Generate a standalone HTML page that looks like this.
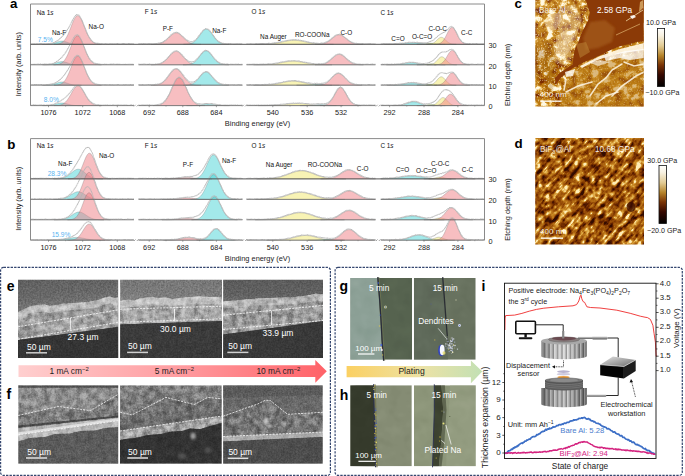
<!DOCTYPE html>
<html><head><meta charset="utf-8"><style>
html,body{margin:0;padding:0;background:#fff;}
svg{display:block;}
text{font-family:"Liberation Sans",sans-serif;}
</style></head><body>
<svg width="685" height="476" viewBox="0 0 685 476">
<defs>
<filter id="afmNoiseC" x="0" y="0" width="100%" height="100%" filterUnits="objectBoundingBox" color-interpolation-filters="sRGB">
 <feTurbulence type="fractalNoise" baseFrequency="0.13" numOctaves="4" seed="11"/>
 <feColorMatrix type="matrix" values="2.2 0 0 0 -0.6  2.2 0 0 0 -0.6  2.2 0 0 0 -0.6  0 0 0 0 1"/>
 <feComponentTransfer>
   <feFuncR type="table" tableValues="0.48 0.60 0.68 0.72 0.76 0.85 0.97 1.0"/>
   <feFuncG type="table" tableValues="0.18 0.29 0.40 0.46 0.51 0.62 0.87 0.98"/>
   <feFuncB type="table" tableValues="0.00 0.02 0.04 0.06 0.09 0.22 0.62 0.90"/>
 </feComponentTransfer>
</filter>
<filter id="afmSpeck" x="0" y="0" width="100%" height="100%" filterUnits="objectBoundingBox" color-interpolation-filters="sRGB">
 <feTurbulence type="fractalNoise" baseFrequency="0.7" numOctaves="2" seed="3"/>
 <feColorMatrix type="matrix" values="0 0 0 0 1  0 0 0 0 0.97  0 0 0 0 0.88  7 0 0 0 -4.1"/>
</filter>
<filter id="afmNoiseD" x="0" y="0" width="100%" height="100%" filterUnits="objectBoundingBox" color-interpolation-filters="sRGB">
 <feTurbulence type="fractalNoise" baseFrequency="0.06 0.26" numOctaves="4" seed="5" result="a"/>
 <feTurbulence type="fractalNoise" baseFrequency="0.2" numOctaves="3" seed="8" result="b"/>
 <feComposite in="a" in2="b" operator="arithmetic" k1="0" k2="0.55" k3="0.45" k4="0"/>
 <feColorMatrix type="matrix" values="3.0 0 0 0 -1.0  3.0 0 0 0 -1.0  3.0 0 0 0 -1.0  0 0 0 0 1"/>
 <feComponentTransfer>
   <feFuncR type="table" tableValues="0.20 0.35 0.48 0.59 0.68 0.78 0.90 1.0"/>
   <feFuncG type="table" tableValues="0.05 0.11 0.20 0.30 0.40 0.52 0.71 0.93"/>
   <feFuncB type="table" tableValues="0.0 0.0 0.0 0.03 0.07 0.13 0.33 0.72"/>
   <feFuncA type="table" tableValues="1 1"/>
 </feComponentTransfer>
</filter>
<filter id="darkNoise" x="0" y="0" width="100%" height="100%" filterUnits="objectBoundingBox" color-interpolation-filters="sRGB">
 <feTurbulence type="fractalNoise" baseFrequency="0.35" numOctaves="2" seed="2"/>
 <feColorMatrix type="matrix" values="0 0 0 0 0  0 0 0 0 0  0 0 0 0 0  1.2 0 0 0 -0.45" />
</filter>
<clipPath id="clipC"><rect x="535.3" y="-1" width="108.4" height="107.6"/></clipPath>
<clipPath id="clipD"><rect x="535.2" y="138.1" width="108.8" height="106.3"/></clipPath>
<linearGradient id="cbar" x1="0" y1="0" x2="0" y2="1">
 <stop offset="0" stop-color="#ffffff"/>
 <stop offset="0.12" stop-color="#f8f2e2"/>
 <stop offset="0.3" stop-color="#e2cb94"/>
 <stop offset="0.47" stop-color="#b5832a"/>
 <stop offset="0.63" stop-color="#7a3406"/>
 <stop offset="0.8" stop-color="#360800"/>
 <stop offset="1" stop-color="#000000"/>
</linearGradient>

<filter id="semNoise" x="0" y="0" width="100%" height="100%" filterUnits="objectBoundingBox" color-interpolation-filters="sRGB">
 <feTurbulence type="fractalNoise" baseFrequency="0.45" numOctaves="3" seed="9"/>
 <feColorMatrix type="matrix" values="0.33 0.33 0.33 0 0  0.33 0.33 0.33 0 0  0.33 0.33 0.33 0 0  0 0 0 0 1"/>
 <feComponentTransfer><feFuncR type="linear" slope="2.2" intercept="-0.6"/><feFuncG type="linear" slope="2.2" intercept="-0.6"/><feFuncB type="linear" slope="2.2" intercept="-0.6"/></feComponentTransfer>
</filter>
<filter id="semNoise2" x="0" y="0" width="100%" height="100%" filterUnits="objectBoundingBox" color-interpolation-filters="sRGB">
 <feTurbulence type="fractalNoise" baseFrequency="0.12" numOctaves="4" seed="21"/>
 <feColorMatrix type="matrix" values="0.33 0.33 0.33 0 0  0.33 0.33 0.33 0 0  0.33 0.33 0.33 0 0  0 0 0 0 1"/>
 <feComponentTransfer><feFuncR type="linear" slope="2.0" intercept="-0.5"/><feFuncG type="linear" slope="2.0" intercept="-0.5"/><feFuncB type="linear" slope="2.0" intercept="-0.5"/></feComponentTransfer>
</filter>
<filter id="semTex" x="0" y="0" width="100%" height="100%" filterUnits="objectBoundingBox" color-interpolation-filters="sRGB">
 <feTurbulence type="fractalNoise" baseFrequency="0.16" numOctaves="4" seed="13"/>
 <feColorMatrix type="matrix" values="1.9 0 0 0 -0.45  1.9 0 0 0 -0.45  1.9 0 0 0 -0.45  0 0 0 0 1"/>
 <feComposite in2="SourceAlpha" operator="in"/>
</filter>
<filter id="semFine" x="0" y="0" width="100%" height="100%" filterUnits="objectBoundingBox" color-interpolation-filters="sRGB">
 <feTurbulence type="fractalNoise" baseFrequency="0.6" numOctaves="2" seed="17"/>
 <feColorMatrix type="matrix" values="2.0 0 0 0 -0.5  2.0 0 0 0 -0.5  2.0 0 0 0 -0.5  0 0 0 0 1"/>
 <feComposite in2="SourceAlpha" operator="in"/>
</filter>
<filter id="blur1" x="-50%" y="-50%" width="200%" height="200%"><feGaussianBlur stdDeviation="0.8"/></filter>
<filter id="optNoise" x="0" y="0" width="100%" height="100%" filterUnits="objectBoundingBox" color-interpolation-filters="sRGB">
 <feTurbulence type="fractalNoise" baseFrequency="0.08" numOctaves="2" seed="4"/>
 <feColorMatrix type="matrix" values="0.33 0.33 0.33 0 0  0.33 0.33 0.33 0 0  0.33 0.33 0.33 0 0  0 0 0 0 1"/>
</filter>
<linearGradient id="skyE1" x1="0" y1="0" x2="0.25" y2="1"><stop offset="0" stop-color="#5e5e5e"/><stop offset="0.5" stop-color="#686868"/><stop offset="1" stop-color="#7c7c7c"/></linearGradient>
<linearGradient id="skyE2" x1="0" y1="0" x2="0" y2="1"><stop offset="0" stop-color="#767676"/><stop offset="0.6" stop-color="#7a7a7a"/><stop offset="1" stop-color="#848484"/></linearGradient>
<linearGradient id="skyE3" x1="0" y1="0" x2="0" y2="1"><stop offset="0" stop-color="#5a5a5a"/><stop offset="0.6" stop-color="#606060"/><stop offset="1" stop-color="#6e6e6e"/></linearGradient>
<linearGradient id="redArrow" x1="0" y1="0" x2="1" y2="0">
 <stop offset="0" stop-color="#ffcfcf"/><stop offset="0.5" stop-color="#ff9ea2"/><stop offset="1" stop-color="#ff6268"/>
</linearGradient>
<linearGradient id="platArrow" x1="0" y1="0" x2="1" y2="0">
 <stop offset="0" stop-color="#fbd062"/><stop offset="0.55" stop-color="#ece2a6"/><stop offset="1" stop-color="#c2e0b4"/>
</linearGradient>
<clipPath id="clip2"><rect x="18.0" y="279.5" width="100.4" height="78.5"/></clipPath><clipPath id="clip3"><rect x="120.1" y="279.5" width="101.9" height="78.5"/></clipPath><clipPath id="clip4"><rect x="223.1" y="279.5" width="99.9" height="78.5"/></clipPath><clipPath id="clip5"><rect x="18.2" y="385.2" width="100.2" height="78.6"/></clipPath><clipPath id="clip6"><rect x="120.0" y="385.2" width="101.8" height="78.6"/></clipPath><clipPath id="clip7"><rect x="223.1" y="385.2" width="99.7" height="78.6"/></clipPath><clipPath id="clip8"><rect x="350.2" y="278.1" width="61.9" height="81.6"/></clipPath><clipPath id="clip9"><rect x="413.9" y="278.1" width="61.8" height="81.6"/></clipPath><clipPath id="clip10"><rect x="350.2" y="385.3" width="61.6" height="81.0"/></clipPath><clipPath id="clip11"><rect x="414.0" y="385.3" width="61.8" height="81.0"/></clipPath><linearGradient id="knurl" x1="0" y1="0" x2="1" y2="0">
 <stop offset="0" stop-color="#7d7d7d"/><stop offset="0.3" stop-color="#c8c8c8"/><stop offset="0.55" stop-color="#d8d8d8"/><stop offset="0.85" stop-color="#9a9a9a"/><stop offset="1" stop-color="#6a6a6a"/></linearGradient>
<linearGradient id="knurl2" x1="0" y1="0" x2="1" y2="0">
 <stop offset="0" stop-color="#646464"/><stop offset="0.3" stop-color="#b0b0b0"/><stop offset="0.55" stop-color="#bcbcbc"/><stop offset="0.85" stop-color="#858585"/><stop offset="1" stop-color="#555"/></linearGradient>
<linearGradient id="rod" x1="0" y1="0" x2="0" y2="1"><stop offset="0" stop-color="#ddd"/><stop offset="0.5" stop-color="#999"/><stop offset="1" stop-color="#555"/></linearGradient>
<linearGradient id="boxtop" x1="0" y1="0" x2="1" y2="1"><stop offset="0" stop-color="#e6e6e6"/><stop offset="1" stop-color="#6a6a6a"/></linearGradient>
<pattern id="ridges" x="541.2" width="4.3" height="10" patternUnits="userSpaceOnUse"><rect x="0" width="1.1" height="10" fill="#fff" opacity="0.35"/><rect x="2.9" width="1.4" height="10" fill="#000" opacity="0.30"/></pattern></defs>
<rect width="685" height="476" fill="#fff"/>
<path d="M42.5,44.3 L42.5,44.29 L43.0,44.29 L43.5,44.29 L44.0,44.28 L44.5,44.28 L45.0,44.27 L45.5,44.26 L46.0,44.25 L46.5,44.24 L47.0,44.22 L47.5,44.20 L48.0,44.17 L48.5,44.14 L49.0,44.10 L49.5,44.06 L50.0,44.00 L50.5,43.94 L51.0,43.87 L51.5,43.78 L52.0,43.69 L52.5,43.58 L53.0,43.46 L53.5,43.33 L54.0,43.19 L54.5,43.04 L55.0,42.88 L55.5,42.71 L56.0,42.54 L56.5,42.36 L57.0,42.18 L57.5,42.01 L58.0,41.84 L58.5,41.69 L59.0,41.54 L59.5,41.41 L60.0,41.30 L60.5,41.22 L61.0,41.15 L61.5,41.11 L62.0,41.10 L62.5,41.11 L63.0,41.15 L63.5,41.22 L64.0,41.30 L64.5,41.41 L65.0,41.54 L65.5,41.69 L66.0,41.84 L66.5,42.01 L67.0,42.18 L67.5,42.36 L68.0,42.54 L68.5,42.71 L69.0,42.88 L69.5,43.04 L70.0,43.19 L70.5,43.33 L71.0,43.46 L71.5,43.58 L72.0,43.69 L72.5,43.78 L73.0,43.87 L73.5,43.94 L74.0,44.00 L74.5,44.06 L75.0,44.10 L75.5,44.14 L76.0,44.17 L76.5,44.20 L77.0,44.22 L77.5,44.24 L78.0,44.25 L78.5,44.26 L79.0,44.27 L79.5,44.28 L80.0,44.28 L80.5,44.29 L81.0,44.29 L81.5,44.29 L81.5,44.3 Z" fill="#3fd0d3" fill-opacity="0.48" stroke="#555" stroke-opacity="0.55" stroke-width="0.45"/>
<path d="M54.0,44.3 L54.0,44.24 L54.5,44.23 L55.0,44.21 L55.5,44.18 L56.0,44.15 L56.5,44.11 L57.0,44.06 L57.5,44.00 L58.0,43.92 L58.5,43.83 L59.0,43.72 L59.5,43.58 L60.0,43.42 L60.5,43.24 L61.0,43.02 L61.5,42.76 L62.0,42.46 L62.5,42.11 L63.0,41.71 L63.5,41.26 L64.0,40.75 L64.5,40.18 L65.0,39.54 L65.5,38.83 L66.0,38.05 L66.5,37.20 L67.0,36.28 L67.5,35.29 L68.0,34.24 L68.5,33.12 L69.0,31.95 L69.5,30.73 L70.0,29.47 L70.5,28.19 L71.0,26.89 L71.5,25.60 L72.0,24.31 L72.5,23.06 L73.0,21.86 L73.5,20.72 L74.0,19.66 L74.5,18.69 L75.0,17.84 L75.5,17.11 L76.0,16.51 L76.5,16.06 L77.0,15.76 L77.5,15.61 L78.0,15.63 L78.5,15.80 L79.0,16.14 L79.5,16.62 L80.0,17.24 L80.5,18.00 L81.0,18.88 L81.5,19.86 L82.0,20.94 L82.5,22.10 L83.0,23.31 L83.5,24.57 L84.0,25.85 L84.5,27.15 L85.0,28.45 L85.5,29.73 L86.0,30.98 L86.5,32.19 L87.0,33.35 L87.5,34.45 L88.0,35.50 L88.5,36.47 L89.0,37.38 L89.5,38.21 L90.0,38.98 L90.5,39.67 L91.0,40.30 L91.5,40.86 L92.0,41.36 L92.5,41.80 L93.0,42.18 L93.5,42.52 L94.0,42.81 L94.5,43.06 L95.0,43.28 L95.5,43.46 L96.0,43.61 L96.5,43.74 L97.0,43.85 L97.5,43.94 L98.0,44.01 L98.5,44.07 L99.0,44.12 L99.5,44.16 L100.0,44.19 L100.5,44.21 L101.0,44.23 L101.5,44.25 L101.5,44.3 Z" fill="#ef7d84" fill-opacity="0.5" stroke="#555" stroke-opacity="0.55" stroke-width="0.45"/>
<path d="M30.5,43.82 L31.0,43.89 L31.5,43.69 L32.0,43.92 L32.5,43.74 L33.0,43.80 L33.5,43.93 L34.0,43.75 L34.5,43.93 L35.0,43.78 L35.5,43.92 L36.0,43.91 L36.5,43.78 L37.0,43.62 L37.5,43.90 L38.0,43.86 L38.5,43.70 L39.0,43.57 L39.5,43.72 L40.0,43.79 L40.5,43.56 L41.0,43.93 L41.5,43.60 L42.0,43.83 L42.5,43.89 L43.0,43.89 L43.5,43.82 L44.0,43.61 L44.5,43.86 L45.0,43.69 L45.5,43.66 L46.0,43.75 L46.5,43.67 L47.0,43.85 L47.5,43.82 L48.0,43.74 L48.5,43.51 L49.0,43.58 L49.5,43.57 L50.0,43.40 L50.5,43.39 L51.0,43.37 L51.5,43.08 L52.0,43.00 L52.5,43.06 L53.0,42.79 L53.5,42.64 L54.0,42.32 L54.5,42.18 L55.0,42.14 L55.5,41.62 L56.0,41.70 L56.5,41.30 L57.0,40.85 L57.5,40.77 L58.0,40.28 L58.5,40.09 L59.0,39.45 L59.5,39.00 L60.0,38.65 L60.5,38.08 L61.0,37.83 L61.5,37.19 L62.0,36.73 L62.5,36.21 L63.0,35.71 L63.5,34.99 L64.0,34.36 L64.5,33.93 L65.0,33.21 L65.5,32.78 L66.0,31.83 L66.5,31.12 L67.0,30.22 L67.5,29.49 L68.0,28.87 L68.5,27.96 L69.0,26.95 L69.5,26.28 L70.0,25.15 L70.5,24.30 L71.0,23.33 L71.5,22.37 L72.0,21.10 L72.5,20.40 L73.0,19.42 L73.5,18.48 L74.0,17.46 L74.5,17.03 L75.0,16.22 L75.5,15.62 L76.0,15.05 L76.5,14.75 L77.0,14.55 L77.5,14.74 L78.0,14.78 L78.5,15.05 L79.0,15.22 L79.5,15.72 L80.0,16.71 L80.5,17.48 L81.0,18.36 L81.5,19.37 L82.0,20.36 L82.5,21.48 L83.0,22.83 L83.5,24.20 L84.0,25.33 L84.5,26.65 L85.0,27.87 L85.5,28.99 L86.0,30.35 L86.5,31.63 L87.0,32.75 L87.5,33.83 L88.0,35.12 L88.5,35.76 L89.0,36.72 L89.5,37.51 L90.0,38.31 L90.5,39.17 L91.0,39.79 L91.5,40.47 L92.0,40.75 L92.5,41.42 L93.0,41.81 L93.5,42.09 L94.0,42.40 L94.5,42.58 L95.0,42.91 L95.5,43.11 L96.0,43.20 L96.5,43.35 L97.0,43.35 L97.5,43.58 L98.0,43.31 L98.5,43.47 L99.0,43.71 L99.5,43.70 L100.0,43.70 L100.5,43.72 L101.0,43.83 L101.5,43.56 L102.0,43.51 L102.5,43.73 L103.0,43.73 L103.5,43.90 L104.0,43.90 L104.5,43.80 L105.0,43.84 L105.5,43.61 L106.0,43.88 L106.5,43.94 L107.0,43.57 L107.5,43.74 L108.0,43.89 L108.5,43.73 L109.0,43.94 L109.5,43.74 L110.0,43.56 L110.5,43.60 L111.0,43.67 L111.5,43.85 L112.0,43.80 L112.5,43.88 L113.0,43.64 L113.5,43.74 L114.0,43.64 L114.5,43.82 L115.0,43.86 L115.5,43.63 L116.0,43.56 L116.5,43.61 L117.0,43.63 L117.5,43.62 L118.0,43.65 L118.5,43.86 L119.0,43.74 L119.5,43.81 L120.0,43.94 L120.5,43.94 L121.0,43.84 L121.5,43.85 L122.0,43.67 L122.5,43.57 L123.0,43.77 L123.5,43.58 L124.0,43.55 L124.5,43.57 L125.0,43.80 L125.5,43.86 L126.0,43.86 L126.5,43.87 L127.0,43.87 L127.5,43.70 L128.0,43.59 L128.5,43.61 L129.0,43.76 L129.5,43.69 L130.0,43.63 L130.5,43.92 L131.0,43.69 L131.5,43.59 L132.0,43.64 L132.5,43.65 L133.0,43.76 L133.5,43.88 L134.0,43.63" fill="none" stroke="#b4b4b4" stroke-width="1.05" stroke-linejoin="round" stroke-dasharray="0.9,0.35"/>
<path d="M151.0,44.3 L151.0,44.28 L151.5,44.28 L152.0,44.27 L152.5,44.26 L153.0,44.25 L153.5,44.24 L154.0,44.22 L154.5,44.20 L155.0,44.18 L155.5,44.15 L156.0,44.12 L156.5,44.07 L157.0,44.02 L157.5,43.97 L158.0,43.90 L158.5,43.82 L159.0,43.72 L159.5,43.61 L160.0,43.49 L160.5,43.35 L161.0,43.19 L161.5,43.00 L162.0,42.80 L162.5,42.57 L163.0,42.32 L163.5,42.04 L164.0,41.74 L164.5,41.41 L165.0,41.06 L165.5,40.68 L166.0,40.27 L166.5,39.85 L167.0,39.40 L167.5,38.94 L168.0,38.46 L168.5,37.98 L169.0,37.48 L169.5,36.99 L170.0,36.50 L170.5,36.02 L171.0,35.56 L171.5,35.11 L172.0,34.70 L172.5,34.31 L173.0,33.96 L173.5,33.66 L174.0,33.40 L174.5,33.19 L175.0,33.04 L175.5,32.94 L176.0,32.90 L176.5,32.92 L177.0,32.99 L177.5,33.13 L178.0,33.31 L178.5,33.55 L179.0,33.84 L179.5,34.17 L180.0,34.54 L180.5,34.94 L181.0,35.38 L181.5,35.83 L182.0,36.31 L182.5,36.79 L183.0,37.29 L183.5,37.78 L184.0,38.27 L184.5,38.75 L185.0,39.22 L185.5,39.67 L186.0,40.11 L186.5,40.52 L187.0,40.91 L187.5,41.27 L188.0,41.61 L188.5,41.93 L189.0,42.21 L189.5,42.48 L190.0,42.71 L190.5,42.93 L191.0,43.12 L191.5,43.29 L192.0,43.44 L192.5,43.57 L193.0,43.68 L193.5,43.78 L194.0,43.87 L194.5,43.94 L195.0,44.00 L195.5,44.06 L196.0,44.10 L196.5,44.14 L197.0,44.17 L197.5,44.19 L198.0,44.21 L198.5,44.23 L199.0,44.25 L199.5,44.26 L200.0,44.27 L200.5,44.27 L201.0,44.28 L201.0,44.3 Z" fill="#ef7d84" fill-opacity="0.5" stroke="#555" stroke-opacity="0.55" stroke-width="0.45"/>
<path d="M183.5,44.3 L183.5,44.27 L184.0,44.27 L184.5,44.25 L185.0,44.24 L185.5,44.22 L186.0,44.20 L186.5,44.17 L187.0,44.14 L187.5,44.10 L188.0,44.05 L188.5,43.98 L189.0,43.91 L189.5,43.82 L190.0,43.71 L190.5,43.58 L191.0,43.43 L191.5,43.26 L192.0,43.06 L192.5,42.82 L193.0,42.56 L193.5,42.26 L194.0,41.92 L194.5,41.54 L195.0,41.12 L195.5,40.66 L196.0,40.16 L196.5,39.62 L197.0,39.05 L197.5,38.43 L198.0,37.79 L198.5,37.11 L199.0,36.42 L199.5,35.71 L200.0,35.00 L200.5,34.29 L201.0,33.58 L201.5,32.90 L202.0,32.25 L202.5,31.64 L203.0,31.08 L203.5,30.58 L204.0,30.14 L204.5,29.79 L205.0,29.51 L205.5,29.32 L206.0,29.22 L206.5,29.21 L207.0,29.29 L207.5,29.46 L208.0,29.72 L208.5,30.07 L209.0,30.49 L209.5,30.97 L210.0,31.52 L210.5,32.13 L211.0,32.77 L211.5,33.45 L212.0,34.14 L212.5,34.86 L213.0,35.57 L213.5,36.28 L214.0,36.98 L214.5,37.65 L215.0,38.31 L215.5,38.93 L216.0,39.51 L216.5,40.06 L217.0,40.57 L217.5,41.03 L218.0,41.46 L218.5,41.85 L219.0,42.19 L219.5,42.50 L220.0,42.77 L220.5,43.01 L221.0,43.22 L221.5,43.40 L222.0,43.55 L222.5,43.69 L223.0,43.80 L223.5,43.89 L224.0,43.97 L224.5,44.04 L225.0,44.09 L225.5,44.13 L226.0,44.17 L226.5,44.20 L227.0,44.22 L227.5,44.24 L228.0,44.25 L228.5,44.26 L229.0,44.27 L229.0,44.3 Z" fill="#3fd0d3" fill-opacity="0.48" stroke="#555" stroke-opacity="0.55" stroke-width="0.45"/>
<path d="M138.5,43.82 L139.0,43.63 L139.5,43.56 L140.0,43.79 L140.5,43.79 L141.0,43.57 L141.5,43.66 L142.0,43.88 L142.5,43.90 L143.0,43.89 L143.5,43.59 L144.0,43.63 L144.5,43.89 L145.0,43.62 L145.5,43.56 L146.0,43.69 L146.5,43.81 L147.0,43.73 L147.5,43.89 L148.0,43.94 L148.5,43.56 L149.0,43.68 L149.5,43.73 L150.0,43.57 L150.5,43.76 L151.0,43.58 L151.5,43.60 L152.0,43.84 L152.5,43.81 L153.0,43.78 L153.5,43.79 L154.0,43.64 L154.5,43.75 L155.0,43.66 L155.5,43.75 L156.0,43.40 L156.5,43.58 L157.0,43.49 L157.5,43.38 L158.0,43.19 L158.5,43.30 L159.0,43.01 L159.5,43.06 L160.0,42.93 L160.5,42.79 L161.0,42.83 L161.5,42.48 L162.0,42.38 L162.5,42.22 L163.0,41.65 L163.5,41.63 L164.0,41.20 L164.5,40.77 L165.0,40.48 L165.5,40.20 L166.0,39.72 L166.5,39.28 L167.0,38.74 L167.5,38.55 L168.0,37.89 L168.5,37.53 L169.0,37.02 L169.5,36.33 L170.0,35.95 L170.5,35.45 L171.0,34.90 L171.5,34.40 L172.0,34.17 L172.5,33.72 L173.0,33.41 L173.5,33.10 L174.0,32.77 L174.5,32.66 L175.0,32.48 L175.5,32.40 L176.0,32.17 L176.5,32.29 L177.0,32.29 L177.5,32.40 L178.0,32.86 L178.5,32.98 L179.0,33.11 L179.5,33.48 L180.0,34.13 L180.5,34.54 L181.0,34.84 L181.5,35.45 L182.0,35.85 L182.5,36.40 L183.0,36.65 L183.5,37.09 L184.0,37.53 L184.5,38.29 L185.0,38.52 L185.5,38.98 L186.0,39.60 L186.5,39.69 L187.0,40.01 L187.5,40.63 L188.0,40.63 L188.5,41.10 L189.0,41.28 L189.5,41.25 L190.0,41.44 L190.5,41.79 L191.0,41.73 L191.5,41.69 L192.0,41.71 L192.5,41.66 L193.0,41.46 L193.5,41.10 L194.0,41.13 L194.5,40.61 L195.0,40.30 L195.5,40.06 L196.0,39.48 L196.5,38.86 L197.0,38.36 L197.5,37.95 L198.0,36.96 L198.5,36.38 L199.0,35.63 L199.5,35.28 L200.0,34.51 L200.5,33.89 L201.0,32.90 L201.5,32.43 L202.0,31.84 L202.5,31.11 L203.0,30.36 L203.5,29.90 L204.0,29.69 L204.5,29.37 L205.0,28.79 L205.5,28.74 L206.0,28.59 L206.5,28.82 L207.0,28.92 L207.5,28.84 L208.0,29.20 L208.5,29.69 L209.0,29.76 L209.5,30.37 L210.0,30.85 L210.5,31.74 L211.0,32.08 L211.5,33.07 L212.0,33.45 L212.5,34.32 L213.0,35.08 L213.5,35.71 L214.0,36.26 L214.5,37.20 L215.0,37.90 L215.5,38.37 L216.0,39.07 L216.5,39.67 L217.0,40.15 L217.5,40.66 L218.0,41.03 L218.5,41.37 L219.0,41.72 L219.5,41.85 L220.0,42.31 L220.5,42.46 L221.0,42.80 L221.5,42.91 L222.0,43.20 L222.5,43.24 L223.0,43.44 L223.5,43.25 L224.0,43.40 L224.5,43.61 L225.0,43.55 L225.5,43.41 L226.0,43.78 L226.5,43.52 L227.0,43.70 L227.5,43.69 L228.0,43.57 L228.5,43.76 L229.0,43.72 L229.5,43.65 L230.0,43.54 L230.5,43.80 L231.0,43.61 L231.5,43.66 L232.0,43.69 L232.5,43.78 L233.0,43.81 L233.5,43.93 L234.0,43.90 L234.5,43.92 L235.0,43.65 L235.5,43.85 L236.0,43.88 L236.5,43.92 L237.0,43.61 L237.5,43.60 L238.0,43.68 L238.5,43.84 L239.0,43.85 L239.5,43.83 L240.0,43.77 L240.5,43.89 L241.0,43.77 L241.5,43.84 L242.0,43.57 L242.5,43.56" fill="none" stroke="#b4b4b4" stroke-width="1.05" stroke-linejoin="round" stroke-dasharray="0.9,0.35"/>
<path d="M254.5,44.3 L254.5,44.29 L255.0,44.29 L255.5,44.29 L256.0,44.29 L256.5,44.29 L257.0,44.29 L257.5,44.28 L258.0,44.28 L258.5,44.28 L259.0,44.27 L259.5,44.27 L260.0,44.27 L260.5,44.26 L261.0,44.26 L261.5,44.25 L262.0,44.24 L262.5,44.23 L263.0,44.22 L263.5,44.21 L264.0,44.20 L264.5,44.19 L265.0,44.18 L265.5,44.16 L266.0,44.14 L266.5,44.12 L267.0,44.10 L267.5,44.08 L268.0,44.06 L268.5,44.03 L269.0,44.00 L269.5,43.97 L270.0,43.93 L270.5,43.89 L271.0,43.85 L271.5,43.81 L272.0,43.76 L272.5,43.71 L273.0,43.65 L273.5,43.60 L274.0,43.53 L274.5,43.47 L275.0,43.40 L275.5,43.33 L276.0,43.25 L276.5,43.17 L277.0,43.09 L277.5,43.00 L278.0,42.91 L278.5,42.82 L279.0,42.72 L279.5,42.62 L280.0,42.52 L280.5,42.42 L281.0,42.31 L281.5,42.20 L282.0,42.09 L282.5,41.98 L283.0,41.87 L283.5,41.76 L284.0,41.65 L284.5,41.55 L285.0,41.44 L285.5,41.33 L286.0,41.23 L286.5,41.13 L287.0,41.03 L287.5,40.94 L288.0,40.85 L288.5,40.77 L289.0,40.69 L289.5,40.62 L290.0,40.56 L290.5,40.50 L291.0,40.45 L291.5,40.40 L292.0,40.37 L292.5,40.34 L293.0,40.32 L293.5,40.30 L294.0,40.30 L294.5,40.30 L295.0,40.32 L295.5,40.34 L296.0,40.37 L296.5,40.40 L297.0,40.45 L297.5,40.50 L298.0,40.56 L298.5,40.62 L299.0,40.69 L299.5,40.77 L300.0,40.85 L300.5,40.94 L301.0,41.03 L301.5,41.13 L302.0,41.23 L302.5,41.33 L303.0,41.44 L303.5,41.55 L304.0,41.65 L304.5,41.76 L305.0,41.87 L305.5,41.98 L306.0,42.09 L306.5,42.20 L307.0,42.31 L307.5,42.42 L308.0,42.52 L308.5,42.62 L309.0,42.72 L309.5,42.82 L310.0,42.91 L310.5,43.00 L311.0,43.09 L311.5,43.17 L312.0,43.25 L312.5,43.33 L313.0,43.40 L313.5,43.47 L314.0,43.53 L314.5,43.60 L315.0,43.65 L315.5,43.71 L316.0,43.76 L316.5,43.81 L317.0,43.85 L317.5,43.89 L318.0,43.93 L318.5,43.97 L319.0,44.00 L319.5,44.03 L320.0,44.06 L320.5,44.08 L321.0,44.10 L321.5,44.12 L322.0,44.14 L322.5,44.16 L323.0,44.18 L323.5,44.19 L324.0,44.20 L324.5,44.21 L325.0,44.22 L325.5,44.23 L326.0,44.24 L326.5,44.25 L327.0,44.26 L327.5,44.26 L328.0,44.27 L328.5,44.27 L329.0,44.27 L329.5,44.28 L330.0,44.28 L330.5,44.28 L331.0,44.29 L331.5,44.29 L332.0,44.29 L332.5,44.29 L333.0,44.29 L333.5,44.29 L333.5,44.3 Z" fill="#f2ea78" fill-opacity="0.55" stroke="#555" stroke-opacity="0.55" stroke-width="0.45"/>
<path d="M315.0,44.3 L315.0,44.28 L315.5,44.28 L316.0,44.27 L316.5,44.26 L317.0,44.25 L317.5,44.24 L318.0,44.22 L318.5,44.20 L319.0,44.17 L319.5,44.14 L320.0,44.11 L320.5,44.07 L321.0,44.01 L321.5,43.95 L322.0,43.88 L322.5,43.80 L323.0,43.70 L323.5,43.59 L324.0,43.47 L324.5,43.32 L325.0,43.16 L325.5,42.98 L326.0,42.77 L326.5,42.55 L327.0,42.30 L327.5,42.03 L328.0,41.73 L328.5,41.42 L329.0,41.08 L329.5,40.72 L330.0,40.34 L330.5,39.95 L331.0,39.54 L331.5,39.13 L332.0,38.71 L332.5,38.28 L333.0,37.86 L333.5,37.45 L334.0,37.05 L334.5,36.67 L335.0,36.31 L335.5,35.98 L336.0,35.68 L336.5,35.42 L337.0,35.20 L337.5,35.03 L338.0,34.90 L338.5,34.83 L339.0,34.80 L339.5,34.83 L340.0,34.90 L340.5,35.03 L341.0,35.20 L341.5,35.42 L342.0,35.68 L342.5,35.98 L343.0,36.31 L343.5,36.67 L344.0,37.05 L344.5,37.45 L345.0,37.86 L345.5,38.28 L346.0,38.71 L346.5,39.13 L347.0,39.54 L347.5,39.95 L348.0,40.34 L348.5,40.72 L349.0,41.08 L349.5,41.42 L350.0,41.73 L350.5,42.03 L351.0,42.30 L351.5,42.55 L352.0,42.77 L352.5,42.98 L353.0,43.16 L353.5,43.32 L354.0,43.47 L354.5,43.59 L355.0,43.70 L355.5,43.80 L356.0,43.88 L356.5,43.95 L357.0,44.01 L357.5,44.07 L358.0,44.11 L358.5,44.14 L359.0,44.17 L359.5,44.20 L360.0,44.22 L360.5,44.24 L361.0,44.25 L361.5,44.26 L362.0,44.27 L362.5,44.28 L363.0,44.28 L363.0,44.3 Z" fill="#ef7d84" fill-opacity="0.5" stroke="#555" stroke-opacity="0.55" stroke-width="0.45"/>
<path d="M246.5,43.73 L247.0,43.85 L247.5,43.56 L248.0,43.83 L248.5,43.81 L249.0,43.95 L249.5,43.80 L250.0,43.76 L250.5,43.75 L251.0,43.87 L251.5,43.75 L252.0,43.95 L252.5,43.84 L253.0,43.91 L253.5,43.79 L254.0,43.93 L254.5,43.93 L255.0,43.82 L255.5,43.85 L256.0,43.71 L256.5,43.73 L257.0,43.64 L257.5,43.67 L258.0,43.64 L258.5,43.58 L259.0,43.77 L259.5,43.79 L260.0,43.52 L260.5,43.85 L261.0,43.62 L261.5,43.64 L262.0,43.87 L262.5,43.55 L263.0,43.52 L263.5,43.61 L264.0,43.56 L264.5,43.52 L265.0,43.77 L265.5,43.60 L266.0,43.59 L266.5,43.44 L267.0,43.43 L267.5,43.40 L268.0,43.47 L268.5,43.32 L269.0,43.37 L269.5,43.34 L270.0,43.49 L270.5,43.53 L271.0,43.45 L271.5,43.31 L272.0,43.37 L272.5,43.02 L273.0,43.08 L273.5,42.99 L274.0,42.93 L274.5,42.85 L275.0,42.85 L275.5,42.98 L276.0,42.58 L276.5,42.52 L277.0,42.54 L277.5,42.44 L278.0,42.30 L278.5,42.44 L279.0,42.08 L279.5,42.17 L280.0,42.14 L280.5,41.96 L281.0,41.67 L281.5,41.77 L282.0,41.45 L282.5,41.24 L283.0,41.33 L283.5,41.26 L284.0,41.11 L284.5,40.92 L285.0,40.78 L285.5,40.74 L286.0,40.62 L286.5,40.75 L287.0,40.62 L287.5,40.49 L288.0,40.21 L288.5,40.30 L289.0,40.12 L289.5,40.27 L290.0,40.18 L290.5,40.04 L291.0,39.83 L291.5,39.78 L292.0,39.75 L292.5,39.87 L293.0,39.76 L293.5,39.77 L294.0,39.76 L294.5,39.91 L295.0,39.61 L295.5,39.91 L296.0,39.62 L296.5,39.68 L297.0,40.09 L297.5,39.96 L298.0,39.88 L298.5,39.88 L299.0,40.16 L299.5,40.31 L300.0,40.42 L300.5,40.21 L301.0,40.60 L301.5,40.55 L302.0,40.82 L302.5,40.77 L303.0,40.71 L303.5,41.14 L304.0,40.98 L304.5,41.21 L305.0,41.17 L305.5,41.35 L306.0,41.65 L306.5,41.49 L307.0,41.77 L307.5,42.06 L308.0,42.17 L308.5,42.08 L309.0,42.19 L309.5,42.35 L310.0,42.50 L310.5,42.51 L311.0,42.61 L311.5,42.48 L312.0,42.90 L312.5,42.67 L313.0,42.71 L313.5,43.06 L314.0,42.80 L314.5,42.95 L315.0,42.92 L315.5,43.22 L316.0,43.23 L316.5,43.26 L317.0,43.05 L317.5,43.24 L318.0,43.35 L318.5,43.34 L319.0,43.41 L319.5,43.50 L320.0,43.47 L320.5,43.16 L321.0,43.35 L321.5,43.05 L322.0,43.28 L322.5,43.20 L323.0,43.03 L323.5,43.06 L324.0,42.87 L324.5,42.50 L325.0,42.38 L325.5,42.24 L326.0,42.11 L326.5,41.78 L327.0,41.53 L327.5,41.42 L328.0,41.06 L328.5,41.02 L329.0,40.41 L329.5,40.17 L330.0,39.67 L330.5,39.33 L331.0,39.07 L331.5,38.75 L332.0,37.98 L332.5,37.87 L333.0,37.32 L333.5,36.96 L334.0,36.58 L334.5,36.02 L335.0,35.56 L335.5,35.52 L336.0,35.07 L336.5,34.95 L337.0,34.63 L337.5,34.52 L338.0,34.48 L338.5,34.41 L339.0,34.37 L339.5,34.11 L340.0,34.35 L340.5,34.59 L341.0,34.49 L341.5,34.67 L342.0,35.15 L342.5,35.57 L343.0,35.88 L343.5,36.28 L344.0,36.56 L344.5,37.06 L345.0,37.42 L345.5,37.83 L346.0,38.13 L346.5,38.42 L347.0,38.89 L347.5,39.44 L348.0,39.83 L348.5,40.16 L349.0,40.58 L349.5,40.93 L350.0,41.36 L350.5,41.57 L351.0,41.56 L351.5,42.15 L352.0,42.22 L352.5,42.37 L353.0,42.46 L353.5,42.89 L354.0,43.01 L354.5,43.14 L355.0,43.19 L355.5,43.27 L356.0,43.15 L356.5,43.26 L357.0,43.31 L357.5,43.71 L358.0,43.75 L358.5,43.51 L359.0,43.47 L359.5,43.66 L360.0,43.63 L360.5,43.89 L361.0,43.74 L361.5,43.54 L362.0,43.59 L362.5,43.58 L363.0,43.54 L363.5,43.84 L364.0,43.90 L364.5,43.88 L365.0,43.73 L365.5,43.67 L366.0,43.57 L366.5,43.66 L367.0,43.69 L367.5,43.64 L368.0,43.77 L368.5,43.73 L369.0,43.93 L369.5,43.64 L370.0,43.86 L370.5,43.58 L371.0,43.69 L371.5,43.83 L372.0,43.90 L372.5,43.85 L373.0,43.70 L373.5,43.67 L374.0,43.91 L374.5,43.92 L375.0,43.74 L375.5,43.72" fill="none" stroke="#b4b4b4" stroke-width="1.05" stroke-linejoin="round" stroke-dasharray="0.9,0.35"/>
<path d="M384.3,44.3 L384.3,44.30 L384.8,44.30 L385.3,44.30 L385.8,44.30 L386.3,44.29 L386.8,44.29 L387.3,44.29 L387.8,44.29 L388.3,44.29 L388.8,44.28 L389.3,44.28 L389.8,44.28 L390.3,44.27 L390.8,44.27 L391.3,44.26 L391.8,44.26 L392.3,44.25 L392.8,44.24 L393.3,44.23 L393.8,44.22 L394.3,44.20 L394.8,44.19 L395.3,44.17 L395.8,44.15 L396.3,44.13 L396.8,44.11 L397.3,44.08 L397.8,44.05 L398.3,44.02 L398.8,43.99 L399.3,43.95 L399.8,43.92 L400.3,43.87 L400.8,43.83 L401.3,43.79 L401.8,43.74 L402.3,43.69 L402.8,43.63 L403.3,43.58 L403.8,43.53 L404.3,43.47 L404.8,43.41 L405.3,43.36 L405.8,43.30 L406.3,43.24 L406.8,43.19 L407.3,43.14 L407.8,43.09 L408.3,43.04 L408.8,42.99 L409.3,42.95 L409.8,42.92 L410.3,42.88 L410.8,42.86 L411.3,42.83 L411.8,42.82 L412.3,42.81 L412.8,42.80 L413.3,42.80 L413.8,42.81 L414.3,42.82 L414.8,42.84 L415.3,42.86 L415.8,42.89 L416.3,42.92 L416.8,42.96 L417.3,43.00 L417.8,43.05 L418.3,43.10 L418.8,43.15 L419.3,43.20 L419.8,43.25 L420.3,43.31 L420.8,43.37 L421.3,43.42 L421.8,43.48 L422.3,43.54 L422.8,43.59 L423.3,43.65 L423.8,43.70 L424.3,43.75 L424.8,43.79 L425.3,43.84 L425.8,43.88 L426.3,43.92 L426.8,43.96 L427.3,44.00 L427.8,44.03 L428.3,44.06 L428.8,44.09 L429.3,44.11 L429.8,44.13 L430.3,44.16 L430.8,44.17 L431.3,44.19 L431.8,44.21 L432.3,44.22 L432.8,44.23 L433.3,44.24 L433.8,44.25 L434.3,44.26 L434.8,44.26 L435.3,44.27 L435.8,44.27 L436.3,44.28 L436.8,44.28 L437.3,44.29 L437.8,44.29 L438.3,44.29 L438.8,44.29 L439.3,44.29 L439.8,44.29 L440.3,44.30 L440.8,44.30 L441.3,44.30 L441.3,44.3 Z" fill="#3fd0d3" fill-opacity="0.48" stroke="#555" stroke-opacity="0.55" stroke-width="0.45"/>
<path d="M416.8,44.3 L416.8,44.30 L417.3,44.30 L417.8,44.30 L418.3,44.29 L418.8,44.29 L419.3,44.29 L419.8,44.28 L420.3,44.27 L420.8,44.26 L421.3,44.25 L421.8,44.23 L422.3,44.21 L422.8,44.18 L423.3,44.14 L423.8,44.10 L424.3,44.05 L424.8,44.00 L425.3,43.94 L425.8,43.87 L426.3,43.80 L426.8,43.72 L427.3,43.65 L427.8,43.57 L428.3,43.50 L428.8,43.44 L429.3,43.39 L429.8,43.34 L430.3,43.32 L430.8,43.30 L431.3,43.30 L431.8,43.32 L432.3,43.35 L432.8,43.40 L433.3,43.45 L433.8,43.52 L434.3,43.59 L434.8,43.66 L435.3,43.74 L435.8,43.81 L436.3,43.88 L436.8,43.95 L437.3,44.01 L437.8,44.06 L438.3,44.11 L438.8,44.15 L439.3,44.18 L439.8,44.21 L440.3,44.23 L440.8,44.25 L441.3,44.26 L441.8,44.27 L442.3,44.28 L442.8,44.29 L443.3,44.29 L443.8,44.29 L444.3,44.30 L444.8,44.30 L445.3,44.30 L445.3,44.3 Z" fill="#9bd05a" fill-opacity="0.6" stroke="#555" stroke-opacity="0.55" stroke-width="0.45"/>
<path d="M426.3,44.3 L426.3,44.28 L426.8,44.28 L427.3,44.27 L427.8,44.25 L428.3,44.23 L428.8,44.20 L429.3,44.16 L429.8,44.10 L430.3,44.03 L430.8,43.94 L431.3,43.83 L431.8,43.69 L432.3,43.52 L432.8,43.31 L433.3,43.06 L433.8,42.77 L434.3,42.44 L434.8,42.07 L435.3,41.66 L435.8,41.21 L436.3,40.74 L436.8,40.25 L437.3,39.76 L437.8,39.27 L438.3,38.81 L438.8,38.39 L439.3,38.02 L439.8,37.71 L440.3,37.49 L440.8,37.35 L441.3,37.30 L441.8,37.35 L442.3,37.49 L442.8,37.71 L443.3,38.02 L443.8,38.39 L444.3,38.81 L444.8,39.27 L445.3,39.76 L445.8,40.25 L446.3,40.74 L446.8,41.21 L447.3,41.66 L447.8,42.07 L448.3,42.44 L448.8,42.77 L449.3,43.06 L449.8,43.31 L450.3,43.52 L450.8,43.69 L451.3,43.83 L451.8,43.94 L452.3,44.03 L452.8,44.10 L453.3,44.16 L453.8,44.20 L454.3,44.23 L454.8,44.25 L455.3,44.27 L455.8,44.28 L456.3,44.28 L456.3,44.3 Z" fill="#f2ea78" fill-opacity="0.55" stroke="#555" stroke-opacity="0.55" stroke-width="0.45"/>
<path d="M434.3,44.3 L434.3,44.27 L434.8,44.25 L435.3,44.23 L435.8,44.21 L436.3,44.17 L436.8,44.12 L437.3,44.06 L437.8,43.98 L438.3,43.88 L438.8,43.76 L439.3,43.60 L439.8,43.40 L440.3,43.16 L440.8,42.87 L441.3,42.52 L441.8,42.12 L442.3,41.64 L442.8,41.09 L443.3,40.47 L443.8,39.78 L444.3,39.01 L444.8,38.17 L445.3,37.27 L445.8,36.32 L446.3,35.33 L446.8,34.31 L447.3,33.30 L447.8,32.30 L448.3,31.34 L448.8,30.44 L449.3,29.62 L449.8,28.92 L450.3,28.34 L450.8,27.90 L451.3,27.62 L451.8,27.50 L452.3,27.55 L452.8,27.77 L453.3,28.15 L453.8,28.67 L454.3,29.33 L454.8,30.10 L455.3,30.97 L455.8,31.91 L456.3,32.89 L456.8,33.91 L457.3,34.92 L457.8,35.93 L458.3,36.89 L458.8,37.82 L459.3,38.68 L459.8,39.48 L460.3,40.20 L460.8,40.85 L461.3,41.43 L461.8,41.93 L462.3,42.37 L462.8,42.74 L463.3,43.05 L463.8,43.31 L464.3,43.52 L464.8,43.70 L465.3,43.84 L465.8,43.95 L466.3,44.03 L466.8,44.10 L467.3,44.15 L467.8,44.19 L468.3,44.22 L468.8,44.24 L469.3,44.26 L469.8,44.27 L469.8,44.3 Z" fill="#ef7d84" fill-opacity="0.5" stroke="#555" stroke-opacity="0.55" stroke-width="0.45"/>
<path d="M380.8,43.79 L381.3,43.86 L381.8,43.71 L382.3,43.94 L382.8,43.83 L383.3,43.76 L383.8,43.56 L384.3,43.69 L384.8,43.59 L385.3,43.76 L385.8,43.85 L386.3,43.85 L386.8,43.56 L387.3,43.66 L387.8,43.82 L388.3,43.93 L388.8,43.74 L389.3,43.66 L389.8,43.76 L390.3,43.82 L390.8,43.65 L391.3,43.54 L391.8,43.81 L392.3,43.88 L392.8,43.75 L393.3,43.71 L393.8,43.59 L394.3,43.77 L394.8,43.52 L395.3,43.52 L395.8,43.60 L396.3,43.70 L396.8,43.37 L397.3,43.61 L397.8,43.38 L398.3,43.58 L398.8,43.55 L399.3,43.30 L399.8,43.45 L400.3,43.14 L400.8,43.28 L401.3,43.36 L401.8,43.30 L402.3,43.17 L402.8,43.02 L403.3,42.85 L403.8,43.12 L404.3,42.96 L404.8,42.98 L405.3,42.62 L405.8,42.89 L406.3,42.87 L406.8,42.82 L407.3,42.63 L407.8,42.38 L408.3,42.33 L408.8,42.35 L409.3,42.20 L409.8,42.19 L410.3,42.40 L410.8,42.43 L411.3,42.11 L411.8,42.17 L412.3,42.44 L412.8,42.18 L413.3,42.30 L413.8,42.31 L414.3,42.34 L414.8,42.42 L415.3,42.51 L415.8,42.43 L416.3,42.43 L416.8,42.23 L417.3,42.60 L417.8,42.31 L418.3,42.65 L418.8,42.64 L419.3,42.50 L419.8,42.55 L420.3,42.75 L420.8,42.95 L421.3,42.82 L421.8,42.89 L422.3,42.70 L422.8,43.01 L423.3,42.94 L423.8,42.73 L424.3,43.06 L424.8,42.87 L425.3,42.67 L425.8,42.62 L426.3,42.84 L426.8,42.75 L427.3,42.63 L427.8,42.17 L428.3,42.30 L428.8,41.95 L429.3,41.73 L429.8,41.79 L430.3,41.63 L430.8,41.16 L431.3,41.08 L431.8,40.99 L432.3,40.56 L432.8,40.44 L433.3,40.15 L433.8,39.93 L434.3,39.27 L434.8,38.81 L435.3,38.50 L435.8,37.93 L436.3,37.83 L436.8,37.27 L437.3,36.68 L437.8,36.00 L438.3,35.53 L438.8,35.31 L439.3,34.94 L439.8,34.49 L440.3,34.12 L440.8,33.65 L441.3,33.68 L441.8,33.20 L442.3,33.02 L442.8,32.79 L443.3,32.62 L443.8,32.47 L444.3,32.35 L444.8,32.07 L445.3,31.73 L445.8,31.18 L446.3,31.03 L446.8,30.50 L447.3,29.76 L447.8,29.42 L448.3,28.94 L448.8,28.42 L449.3,27.72 L449.8,27.37 L450.3,26.76 L450.8,26.54 L451.3,26.37 L451.8,26.67 L452.3,26.89 L452.8,27.17 L453.3,27.44 L453.8,27.93 L454.3,28.72 L454.8,29.60 L455.3,30.41 L455.8,31.28 L456.3,32.26 L456.8,33.25 L457.3,34.23 L457.8,35.31 L458.3,36.49 L458.8,37.13 L459.3,38.21 L459.8,38.90 L460.3,39.70 L460.8,40.21 L461.3,41.00 L461.8,41.48 L462.3,41.92 L462.8,42.33 L463.3,42.35 L463.8,42.73 L464.3,43.04 L464.8,43.19 L465.3,43.09 L465.8,43.39 L466.3,43.59 L466.8,43.43 L467.3,43.54 L467.8,43.45 L468.3,43.83 L468.8,43.70 L469.3,43.58 L469.8,43.59 L470.3,43.56 L470.8,43.92 L471.3,43.82 L471.8,43.90 L472.3,43.87 L472.8,43.56 L473.3,43.71 L473.8,43.58 L474.3,43.80 L474.8,43.60 L475.3,43.77 L475.8,43.85 L476.3,43.64 L476.8,43.57 L477.3,43.91 L477.8,43.71 L478.3,43.70 L478.8,43.86 L479.3,43.80 L479.8,43.89 L480.3,43.87 L480.8,43.85 L481.3,43.71 L481.8,43.69 L482.3,43.87 L482.8,43.95 L483.3,43.82 L483.8,43.68 L484.3,43.88" fill="none" stroke="#b4b4b4" stroke-width="1.05" stroke-linejoin="round" stroke-dasharray="0.9,0.35"/>
<path d="M42.5,64.8 L42.5,64.79 L43.0,64.79 L43.5,64.79 L44.0,64.78 L44.5,64.78 L45.0,64.77 L45.5,64.76 L46.0,64.75 L46.5,64.74 L47.0,64.72 L47.5,64.70 L48.0,64.67 L48.5,64.64 L49.0,64.60 L49.5,64.56 L50.0,64.50 L50.5,64.44 L51.0,64.37 L51.5,64.28 L52.0,64.19 L52.5,64.08 L53.0,63.96 L53.5,63.83 L54.0,63.69 L54.5,63.54 L55.0,63.38 L55.5,63.21 L56.0,63.04 L56.5,62.86 L57.0,62.68 L57.5,62.51 L58.0,62.34 L58.5,62.19 L59.0,62.04 L59.5,61.91 L60.0,61.80 L60.5,61.72 L61.0,61.65 L61.5,61.61 L62.0,61.60 L62.5,61.61 L63.0,61.65 L63.5,61.72 L64.0,61.80 L64.5,61.91 L65.0,62.04 L65.5,62.19 L66.0,62.34 L66.5,62.51 L67.0,62.68 L67.5,62.86 L68.0,63.04 L68.5,63.21 L69.0,63.38 L69.5,63.54 L70.0,63.69 L70.5,63.83 L71.0,63.96 L71.5,64.08 L72.0,64.19 L72.5,64.28 L73.0,64.37 L73.5,64.44 L74.0,64.50 L74.5,64.56 L75.0,64.60 L75.5,64.64 L76.0,64.67 L76.5,64.70 L77.0,64.72 L77.5,64.74 L78.0,64.75 L78.5,64.76 L79.0,64.77 L79.5,64.78 L80.0,64.78 L80.5,64.79 L81.0,64.79 L81.5,64.79 L81.5,64.8 Z" fill="#3fd0d3" fill-opacity="0.48" stroke="#555" stroke-opacity="0.55" stroke-width="0.45"/>
<path d="M53.5,64.8 L53.5,64.75 L54.0,64.73 L54.5,64.72 L55.0,64.69 L55.5,64.66 L56.0,64.62 L56.5,64.58 L57.0,64.52 L57.5,64.45 L58.0,64.36 L58.5,64.26 L59.0,64.13 L59.5,63.98 L60.0,63.80 L60.5,63.60 L61.0,63.35 L61.5,63.06 L62.0,62.73 L62.5,62.35 L63.0,61.92 L63.5,61.43 L64.0,60.88 L64.5,60.26 L65.0,59.57 L65.5,58.81 L66.0,57.98 L66.5,57.08 L67.0,56.11 L67.5,55.07 L68.0,53.96 L68.5,52.80 L69.0,51.58 L69.5,50.33 L70.0,49.04 L70.5,47.74 L71.0,46.42 L71.5,45.12 L72.0,43.84 L72.5,42.61 L73.0,41.43 L73.5,40.32 L74.0,39.30 L74.5,38.39 L75.0,37.60 L75.5,36.94 L76.0,36.43 L76.5,36.06 L77.0,35.85 L77.5,35.80 L78.0,35.92 L78.5,36.19 L79.0,36.62 L79.5,37.19 L80.0,37.90 L80.5,38.74 L81.0,39.70 L81.5,40.75 L82.0,41.89 L82.5,43.09 L83.0,44.35 L83.5,45.64 L84.0,46.95 L84.5,48.26 L85.0,49.56 L85.5,50.84 L86.0,52.08 L86.5,53.27 L87.0,54.41 L87.5,55.49 L88.0,56.50 L88.5,57.45 L89.0,58.32 L89.5,59.12 L90.0,59.85 L90.5,60.51 L91.0,61.10 L91.5,61.63 L92.0,62.10 L92.5,62.51 L93.0,62.87 L93.5,63.18 L94.0,63.45 L94.5,63.68 L95.0,63.88 L95.5,64.05 L96.0,64.18 L96.5,64.30 L97.0,64.40 L97.5,64.48 L98.0,64.54 L98.5,64.60 L99.0,64.64 L99.5,64.67 L100.0,64.70 L100.5,64.72 L101.0,64.74 L101.5,64.76 L101.5,64.8 Z" fill="#ef7d84" fill-opacity="0.5" stroke="#555" stroke-opacity="0.55" stroke-width="0.45"/>
<path d="M30.5,64.33 L31.0,64.37 L31.5,64.13 L32.0,64.23 L32.5,64.42 L33.0,64.41 L33.5,64.29 L34.0,64.23 L34.5,64.19 L35.0,64.41 L35.5,64.38 L36.0,64.17 L36.5,64.29 L37.0,64.34 L37.5,64.33 L38.0,64.07 L38.5,64.32 L39.0,64.22 L39.5,64.31 L40.0,64.28 L40.5,64.10 L41.0,64.05 L41.5,64.30 L42.0,64.37 L42.5,64.15 L43.0,64.36 L43.5,64.44 L44.0,64.07 L44.5,64.26 L45.0,64.09 L45.5,64.25 L46.0,64.05 L46.5,64.20 L47.0,64.31 L47.5,64.34 L48.0,64.10 L48.5,64.03 L49.0,63.88 L49.5,64.16 L50.0,63.89 L50.5,63.92 L51.0,63.78 L51.5,63.83 L52.0,63.67 L52.5,63.44 L53.0,63.14 L53.5,63.30 L54.0,62.97 L54.5,62.64 L55.0,62.35 L55.5,62.41 L56.0,62.17 L56.5,61.56 L57.0,61.23 L57.5,61.09 L58.0,60.90 L58.5,60.17 L59.0,59.98 L59.5,59.35 L60.0,59.01 L60.5,58.46 L61.0,58.23 L61.5,57.47 L62.0,57.15 L62.5,56.52 L63.0,55.76 L63.5,55.16 L64.0,54.78 L64.5,54.11 L65.0,53.35 L65.5,52.58 L66.0,51.88 L66.5,51.21 L67.0,50.34 L67.5,49.30 L68.0,48.35 L68.5,47.78 L69.0,46.63 L69.5,45.59 L70.0,44.89 L70.5,43.58 L71.0,42.86 L71.5,41.68 L72.0,40.72 L72.5,39.74 L73.0,38.96 L73.5,38.07 L74.0,37.22 L74.5,36.59 L75.0,35.90 L75.5,35.50 L76.0,35.14 L76.5,35.08 L77.0,34.74 L77.5,34.84 L78.0,35.14 L78.5,35.27 L79.0,35.75 L79.5,36.50 L80.0,37.36 L80.5,38.11 L81.0,39.23 L81.5,40.30 L82.0,41.33 L82.5,42.68 L83.0,43.80 L83.5,45.07 L84.0,46.57 L84.5,47.65 L85.0,49.17 L85.5,50.19 L86.0,51.41 L86.5,52.71 L87.0,54.04 L87.5,54.94 L88.0,56.00 L88.5,56.72 L89.0,57.92 L89.5,58.43 L90.0,59.10 L90.5,59.87 L91.0,60.43 L91.5,61.21 L92.0,61.36 L92.5,61.97 L93.0,62.14 L93.5,62.47 L94.0,63.04 L94.5,63.02 L95.0,63.16 L95.5,63.67 L96.0,63.69 L96.5,63.65 L97.0,63.98 L97.5,63.77 L98.0,64.08 L98.5,63.92 L99.0,64.23 L99.5,64.12 L100.0,63.98 L100.5,64.29 L101.0,64.29 L101.5,64.20 L102.0,64.29 L102.5,64.41 L103.0,64.36 L103.5,64.37 L104.0,64.06 L104.5,64.17 L105.0,64.09 L105.5,64.38 L106.0,64.13 L106.5,64.40 L107.0,64.24 L107.5,64.19 L108.0,64.31 L108.5,64.10 L109.0,64.23 L109.5,64.22 L110.0,64.10 L110.5,64.41 L111.0,64.05 L111.5,64.20 L112.0,64.29 L112.5,64.13 L113.0,64.34 L113.5,64.05 L114.0,64.22 L114.5,64.31 L115.0,64.14 L115.5,64.27 L116.0,64.38 L116.5,64.15 L117.0,64.43 L117.5,64.12 L118.0,64.35 L118.5,64.19 L119.0,64.06 L119.5,64.22 L120.0,64.18 L120.5,64.32 L121.0,64.45 L121.5,64.44 L122.0,64.39 L122.5,64.20 L123.0,64.28 L123.5,64.24 L124.0,64.09 L124.5,64.40 L125.0,64.36 L125.5,64.19 L126.0,64.44 L126.5,64.45 L127.0,64.31 L127.5,64.41 L128.0,64.31 L128.5,64.36 L129.0,64.22 L129.5,64.21 L130.0,64.37 L130.5,64.20 L131.0,64.26 L131.5,64.40 L132.0,64.08 L132.5,64.35 L133.0,64.39 L133.5,64.41 L134.0,64.19" fill="none" stroke="#b4b4b4" stroke-width="1.05" stroke-linejoin="round" stroke-dasharray="0.9,0.35"/>
<path d="M151.0,64.8 L151.0,64.78 L151.5,64.77 L152.0,64.76 L152.5,64.75 L153.0,64.74 L153.5,64.73 L154.0,64.71 L154.5,64.69 L155.0,64.66 L155.5,64.62 L156.0,64.58 L156.5,64.53 L157.0,64.48 L157.5,64.41 L158.0,64.33 L158.5,64.23 L159.0,64.12 L159.5,63.99 L160.0,63.85 L160.5,63.68 L161.0,63.49 L161.5,63.28 L162.0,63.04 L162.5,62.77 L163.0,62.47 L163.5,62.15 L164.0,61.79 L164.5,61.41 L165.0,60.99 L165.5,60.54 L166.0,60.07 L166.5,59.57 L167.0,59.04 L167.5,58.50 L168.0,57.94 L168.5,57.37 L169.0,56.79 L169.5,56.21 L170.0,55.63 L170.5,55.07 L171.0,54.52 L171.5,54.00 L172.0,53.51 L172.5,53.06 L173.0,52.65 L173.5,52.29 L174.0,51.99 L174.5,51.75 L175.0,51.56 L175.5,51.45 L176.0,51.40 L176.5,51.42 L177.0,51.51 L177.5,51.67 L178.0,51.88 L178.5,52.16 L179.0,52.50 L179.5,52.89 L180.0,53.33 L180.5,53.80 L181.0,54.31 L181.5,54.85 L182.0,55.41 L182.5,55.98 L183.0,56.56 L183.5,57.14 L184.0,57.71 L184.5,58.28 L185.0,58.83 L185.5,59.36 L186.0,59.87 L186.5,60.36 L187.0,60.81 L187.5,61.24 L188.0,61.64 L188.5,62.01 L189.0,62.35 L189.5,62.66 L190.0,62.93 L190.5,63.18 L191.0,63.41 L191.5,63.61 L192.0,63.78 L192.5,63.94 L193.0,64.07 L193.5,64.19 L194.0,64.29 L194.5,64.38 L195.0,64.45 L195.5,64.51 L196.0,64.56 L196.5,64.61 L197.0,64.64 L197.5,64.67 L198.0,64.70 L198.5,64.72 L199.0,64.74 L199.5,64.75 L200.0,64.76 L200.5,64.77 L201.0,64.78 L201.0,64.8 Z" fill="#ef7d84" fill-opacity="0.5" stroke="#555" stroke-opacity="0.55" stroke-width="0.45"/>
<path d="M183.0,64.8 L183.0,64.78 L183.5,64.77 L184.0,64.76 L184.5,64.75 L185.0,64.74 L185.5,64.72 L186.0,64.69 L186.5,64.67 L187.0,64.63 L187.5,64.59 L188.0,64.53 L188.5,64.47 L189.0,64.39 L189.5,64.30 L190.0,64.19 L190.5,64.06 L191.0,63.91 L191.5,63.73 L192.0,63.53 L192.5,63.30 L193.0,63.03 L193.5,62.74 L194.0,62.40 L194.5,62.03 L195.0,61.63 L195.5,61.18 L196.0,60.70 L196.5,60.18 L197.0,59.63 L197.5,59.05 L198.0,58.44 L198.5,57.80 L199.0,57.16 L199.5,56.50 L200.0,55.84 L200.5,55.19 L201.0,54.56 L201.5,53.94 L202.0,53.37 L202.5,52.83 L203.0,52.35 L203.5,51.92 L204.0,51.56 L204.5,51.28 L205.0,51.07 L205.5,50.94 L206.0,50.90 L206.5,50.94 L207.0,51.07 L207.5,51.28 L208.0,51.56 L208.5,51.92 L209.0,52.35 L209.5,52.83 L210.0,53.37 L210.5,53.94 L211.0,54.56 L211.5,55.19 L212.0,55.84 L212.5,56.50 L213.0,57.16 L213.5,57.80 L214.0,58.44 L214.5,59.05 L215.0,59.63 L215.5,60.18 L216.0,60.70 L216.5,61.18 L217.0,61.63 L217.5,62.03 L218.0,62.40 L218.5,62.74 L219.0,63.03 L219.5,63.30 L220.0,63.53 L220.5,63.73 L221.0,63.91 L221.5,64.06 L222.0,64.19 L222.5,64.30 L223.0,64.39 L223.5,64.47 L224.0,64.53 L224.5,64.59 L225.0,64.63 L225.5,64.67 L226.0,64.69 L226.5,64.72 L227.0,64.74 L227.5,64.75 L228.0,64.76 L228.5,64.77 L229.0,64.78 L229.0,64.8 Z" fill="#3fd0d3" fill-opacity="0.48" stroke="#555" stroke-opacity="0.55" stroke-width="0.45"/>
<path d="M138.5,64.10 L139.0,64.14 L139.5,64.29 L140.0,64.34 L140.5,64.45 L141.0,64.19 L141.5,64.23 L142.0,64.31 L142.5,64.19 L143.0,64.27 L143.5,64.07 L144.0,64.16 L144.5,64.35 L145.0,64.09 L145.5,64.43 L146.0,64.24 L146.5,64.29 L147.0,64.35 L147.5,64.42 L148.0,64.13 L148.5,64.44 L149.0,64.22 L149.5,64.06 L150.0,64.38 L150.5,64.35 L151.0,64.19 L151.5,64.22 L152.0,64.16 L152.5,64.08 L153.0,64.32 L153.5,64.25 L154.0,64.24 L154.5,64.32 L155.0,63.95 L155.5,63.96 L156.0,63.95 L156.5,64.18 L157.0,63.79 L157.5,63.76 L158.0,63.79 L158.5,63.59 L159.0,63.59 L159.5,63.55 L160.0,63.46 L160.5,63.24 L161.0,63.13 L161.5,62.79 L162.0,62.39 L162.5,62.14 L163.0,61.79 L163.5,61.51 L164.0,61.34 L164.5,60.83 L165.0,60.46 L165.5,59.88 L166.0,59.51 L166.5,59.11 L167.0,58.44 L167.5,57.76 L168.0,57.50 L168.5,56.67 L169.0,56.43 L169.5,55.75 L170.0,55.19 L170.5,54.42 L171.0,53.80 L171.5,53.35 L172.0,53.03 L172.5,52.36 L173.0,52.17 L173.5,51.85 L174.0,51.28 L174.5,51.14 L175.0,50.94 L175.5,50.83 L176.0,50.66 L176.5,50.88 L177.0,50.82 L177.5,51.04 L178.0,51.19 L178.5,51.64 L179.0,51.86 L179.5,52.31 L180.0,52.85 L180.5,53.36 L181.0,53.71 L181.5,54.46 L182.0,54.68 L182.5,55.55 L183.0,56.17 L183.5,56.71 L184.0,56.95 L184.5,57.74 L185.0,58.36 L185.5,58.92 L186.0,59.40 L186.5,59.59 L187.0,60.04 L187.5,60.40 L188.0,60.73 L188.5,61.30 L189.0,61.35 L189.5,61.66 L190.0,61.65 L190.5,61.77 L191.0,61.81 L191.5,62.16 L192.0,61.82 L192.5,61.72 L193.0,61.58 L193.5,61.73 L194.0,61.46 L194.5,61.22 L195.0,60.91 L195.5,60.20 L196.0,59.79 L196.5,59.39 L197.0,58.79 L197.5,58.32 L198.0,57.87 L198.5,57.33 L199.0,56.70 L199.5,55.80 L200.0,55.37 L200.5,54.68 L201.0,54.01 L201.5,53.57 L202.0,52.90 L202.5,52.36 L203.0,51.70 L203.5,51.42 L204.0,51.08 L204.5,50.54 L205.0,50.51 L205.5,50.25 L206.0,50.30 L206.5,50.58 L207.0,50.55 L207.5,50.75 L208.0,50.90 L208.5,51.43 L209.0,51.71 L209.5,52.27 L210.0,52.93 L210.5,53.25 L211.0,54.17 L211.5,54.51 L212.0,55.42 L212.5,56.15 L213.0,56.73 L213.5,57.15 L214.0,57.69 L214.5,58.69 L215.0,59.08 L215.5,59.63 L216.0,60.03 L216.5,60.76 L217.0,61.08 L217.5,61.54 L218.0,61.72 L218.5,62.28 L219.0,62.31 L219.5,62.83 L220.0,63.09 L220.5,63.10 L221.0,63.36 L221.5,63.67 L222.0,63.58 L222.5,63.92 L223.0,63.73 L223.5,63.84 L224.0,63.87 L224.5,63.99 L225.0,64.14 L225.5,64.16 L226.0,64.19 L226.5,64.01 L227.0,64.35 L227.5,64.05 L228.0,64.40 L228.5,64.34 L229.0,64.32 L229.5,64.07 L230.0,64.24 L230.5,64.29 L231.0,64.09 L231.5,64.35 L232.0,64.26 L232.5,64.23 L233.0,64.15 L233.5,64.15 L234.0,64.19 L234.5,64.31 L235.0,64.32 L235.5,64.39 L236.0,64.11 L236.5,64.18 L237.0,64.15 L237.5,64.38 L238.0,64.27 L238.5,64.14 L239.0,64.22 L239.5,64.40 L240.0,64.27 L240.5,64.10 L241.0,64.35 L241.5,64.37 L242.0,64.33 L242.5,64.17" fill="none" stroke="#b4b4b4" stroke-width="1.05" stroke-linejoin="round" stroke-dasharray="0.9,0.35"/>
<path d="M253.5,64.8 L253.5,64.79 L254.0,64.79 L254.5,64.79 L255.0,64.79 L255.5,64.79 L256.0,64.79 L256.5,64.78 L257.0,64.78 L257.5,64.78 L258.0,64.78 L258.5,64.77 L259.0,64.77 L259.5,64.76 L260.0,64.76 L260.5,64.75 L261.0,64.75 L261.5,64.74 L262.0,64.73 L262.5,64.72 L263.0,64.71 L263.5,64.70 L264.0,64.69 L264.5,64.67 L265.0,64.66 L265.5,64.64 L266.0,64.62 L266.5,64.60 L267.0,64.57 L267.5,64.55 L268.0,64.52 L268.5,64.49 L269.0,64.46 L269.5,64.43 L270.0,64.39 L270.5,64.35 L271.0,64.30 L271.5,64.26 L272.0,64.21 L272.5,64.16 L273.0,64.10 L273.5,64.04 L274.0,63.98 L274.5,63.91 L275.0,63.84 L275.5,63.77 L276.0,63.69 L276.5,63.62 L277.0,63.53 L277.5,63.45 L278.0,63.36 L278.5,63.27 L279.0,63.18 L279.5,63.09 L280.0,62.99 L280.5,62.89 L281.0,62.79 L281.5,62.70 L282.0,62.60 L282.5,62.50 L283.0,62.40 L283.5,62.30 L284.0,62.20 L284.5,62.11 L285.0,62.02 L285.5,61.93 L286.0,61.84 L286.5,61.76 L287.0,61.68 L287.5,61.61 L288.0,61.54 L288.5,61.48 L289.0,61.42 L289.5,61.37 L290.0,61.32 L290.5,61.28 L291.0,61.25 L291.5,61.23 L292.0,61.21 L292.5,61.20 L293.0,61.20 L293.5,61.21 L294.0,61.22 L294.5,61.24 L295.0,61.27 L295.5,61.30 L296.0,61.34 L296.5,61.39 L297.0,61.44 L297.5,61.50 L298.0,61.57 L298.5,61.64 L299.0,61.71 L299.5,61.79 L300.0,61.88 L300.5,61.96 L301.0,62.05 L301.5,62.15 L302.0,62.24 L302.5,62.34 L303.0,62.44 L303.5,62.54 L304.0,62.64 L304.5,62.74 L305.0,62.83 L305.5,62.93 L306.0,63.03 L306.5,63.12 L307.0,63.22 L307.5,63.31 L308.0,63.40 L308.5,63.48 L309.0,63.57 L309.5,63.65 L310.0,63.72 L310.5,63.80 L311.0,63.87 L311.5,63.94 L312.0,64.00 L312.5,64.06 L313.0,64.12 L313.5,64.18 L314.0,64.23 L314.5,64.28 L315.0,64.32 L315.5,64.36 L316.0,64.40 L316.5,64.44 L317.0,64.47 L317.5,64.50 L318.0,64.53 L318.5,64.56 L319.0,64.58 L319.5,64.61 L320.0,64.63 L320.5,64.65 L321.0,64.66 L321.5,64.68 L322.0,64.69 L322.5,64.70 L323.0,64.71 L323.5,64.72 L324.0,64.73 L324.5,64.74 L325.0,64.75 L325.5,64.76 L326.0,64.76 L326.5,64.77 L327.0,64.77 L327.5,64.77 L328.0,64.78 L328.5,64.78 L329.0,64.78 L329.5,64.79 L330.0,64.79 L330.5,64.79 L331.0,64.79 L331.5,64.79 L332.0,64.79 L332.0,64.8 Z" fill="#f2ea78" fill-opacity="0.55" stroke="#555" stroke-opacity="0.55" stroke-width="0.45"/>
<path d="M315.0,64.8 L315.0,64.78 L315.5,64.77 L316.0,64.77 L316.5,64.76 L317.0,64.75 L317.5,64.73 L318.0,64.72 L318.5,64.69 L319.0,64.67 L319.5,64.64 L320.0,64.60 L320.5,64.55 L321.0,64.50 L321.5,64.43 L322.0,64.36 L322.5,64.27 L323.0,64.17 L323.5,64.05 L324.0,63.92 L324.5,63.76 L325.0,63.59 L325.5,63.39 L326.0,63.17 L326.5,62.93 L327.0,62.66 L327.5,62.37 L328.0,62.06 L328.5,61.71 L329.0,61.35 L329.5,60.96 L330.0,60.55 L330.5,60.13 L331.0,59.68 L331.5,59.23 L332.0,58.77 L332.5,58.31 L333.0,57.85 L333.5,57.39 L334.0,56.95 L334.5,56.53 L335.0,56.13 L335.5,55.76 L336.0,55.43 L336.5,55.13 L337.0,54.88 L337.5,54.68 L338.0,54.54 L338.5,54.44 L339.0,54.40 L339.5,54.42 L340.0,54.49 L340.5,54.62 L341.0,54.80 L341.5,55.03 L342.0,55.30 L342.5,55.62 L343.0,55.98 L343.5,56.36 L344.0,56.78 L344.5,57.21 L345.0,57.66 L345.5,58.12 L346.0,58.58 L346.5,59.05 L347.0,59.50 L347.5,59.95 L348.0,60.38 L348.5,60.80 L349.0,61.20 L349.5,61.57 L350.0,61.92 L350.5,62.25 L351.0,62.55 L351.5,62.83 L352.0,63.08 L352.5,63.31 L353.0,63.51 L353.5,63.70 L354.0,63.86 L354.5,64.00 L355.0,64.12 L355.5,64.23 L356.0,64.33 L356.5,64.41 L357.0,64.47 L357.5,64.53 L358.0,64.58 L358.5,64.62 L359.0,64.66 L359.5,64.68 L360.0,64.71 L360.5,64.73 L361.0,64.74 L361.5,64.75 L362.0,64.76 L362.5,64.77 L363.0,64.78 L363.5,64.78 L363.5,64.8 Z" fill="#ef7d84" fill-opacity="0.5" stroke="#555" stroke-opacity="0.55" stroke-width="0.45"/>
<path d="M246.5,64.11 L247.0,64.39 L247.5,64.39 L248.0,64.35 L248.5,64.32 L249.0,64.24 L249.5,64.38 L250.0,64.32 L250.5,64.37 L251.0,64.06 L251.5,64.16 L252.0,64.41 L252.5,64.06 L253.0,64.40 L253.5,64.29 L254.0,64.05 L254.5,64.12 L255.0,64.15 L255.5,64.26 L256.0,64.36 L256.5,64.18 L257.0,64.39 L257.5,64.35 L258.0,64.27 L258.5,64.41 L259.0,64.26 L259.5,64.10 L260.0,64.13 L260.5,64.20 L261.0,64.14 L261.5,64.20 L262.0,64.32 L262.5,64.13 L263.0,64.20 L263.5,64.05 L264.0,63.97 L264.5,64.15 L265.0,64.08 L265.5,63.99 L266.0,64.10 L266.5,64.16 L267.0,63.94 L267.5,63.85 L268.0,63.86 L268.5,63.86 L269.0,63.77 L269.5,63.80 L270.0,63.78 L270.5,63.82 L271.0,63.83 L271.5,63.66 L272.0,63.82 L272.5,63.64 L273.0,63.44 L273.5,63.40 L274.0,63.38 L274.5,63.46 L275.0,63.32 L275.5,63.24 L276.0,63.10 L276.5,63.10 L277.0,62.91 L277.5,62.73 L278.0,62.94 L278.5,62.66 L279.0,62.52 L279.5,62.58 L280.0,62.44 L280.5,62.15 L281.0,62.43 L281.5,62.13 L282.0,62.18 L282.5,61.83 L283.0,61.67 L283.5,61.74 L284.0,61.81 L284.5,61.53 L285.0,61.45 L285.5,61.29 L286.0,61.29 L286.5,61.15 L287.0,61.00 L287.5,61.05 L288.0,61.03 L288.5,60.75 L289.0,60.99 L289.5,60.74 L290.0,60.82 L290.5,60.63 L291.0,60.85 L291.5,60.49 L292.0,60.72 L292.5,60.83 L293.0,60.74 L293.5,60.70 L294.0,60.86 L294.5,60.72 L295.0,60.75 L295.5,60.67 L296.0,60.85 L296.5,60.93 L297.0,61.00 L297.5,60.85 L298.0,60.84 L298.5,61.08 L299.0,61.28 L299.5,61.12 L300.0,61.37 L300.5,61.53 L301.0,61.65 L301.5,61.49 L302.0,61.57 L302.5,61.74 L303.0,61.90 L303.5,61.96 L304.0,62.20 L304.5,62.00 L305.0,62.34 L305.5,62.33 L306.0,62.35 L306.5,62.45 L307.0,62.68 L307.5,62.84 L308.0,62.83 L308.5,63.08 L309.0,62.88 L309.5,63.15 L310.0,63.03 L310.5,63.34 L311.0,63.37 L311.5,63.48 L312.0,63.48 L312.5,63.63 L313.0,63.76 L313.5,63.53 L314.0,63.75 L314.5,63.81 L315.0,63.83 L315.5,63.80 L316.0,63.85 L316.5,63.79 L317.0,63.81 L317.5,63.94 L318.0,63.73 L318.5,63.76 L319.0,64.08 L319.5,63.76 L320.0,63.71 L320.5,63.73 L321.0,63.96 L321.5,63.63 L322.0,63.65 L322.5,63.82 L323.0,63.73 L323.5,63.25 L324.0,63.24 L324.5,63.25 L325.0,63.15 L325.5,62.94 L326.0,62.69 L326.5,62.24 L327.0,62.15 L327.5,61.94 L328.0,61.32 L328.5,61.03 L329.0,60.92 L329.5,60.24 L330.0,59.95 L330.5,59.45 L331.0,59.06 L331.5,58.52 L332.0,58.10 L332.5,57.62 L333.0,57.41 L333.5,56.76 L334.0,56.38 L334.5,55.88 L335.0,55.60 L335.5,55.05 L336.0,54.85 L336.5,54.68 L337.0,54.44 L337.5,54.28 L338.0,53.99 L338.5,54.07 L339.0,53.86 L339.5,54.01 L340.0,53.94 L340.5,54.07 L341.0,54.23 L341.5,54.33 L342.0,54.95 L342.5,54.94 L343.0,55.44 L343.5,55.79 L344.0,56.16 L344.5,56.53 L345.0,57.16 L345.5,57.60 L346.0,57.85 L346.5,58.67 L347.0,58.90 L347.5,59.35 L348.0,60.02 L348.5,60.21 L349.0,60.57 L349.5,60.85 L350.0,61.44 L350.5,61.51 L351.0,62.00 L351.5,62.28 L352.0,62.37 L352.5,62.94 L353.0,62.88 L353.5,63.10 L354.0,63.37 L354.5,63.30 L355.0,63.63 L355.5,63.69 L356.0,63.77 L356.5,63.75 L357.0,64.04 L357.5,64.01 L358.0,64.06 L358.5,64.05 L359.0,63.98 L359.5,64.22 L360.0,64.03 L360.5,64.21 L361.0,64.19 L361.5,64.30 L362.0,64.21 L362.5,64.03 L363.0,64.17 L363.5,64.12 L364.0,64.30 L364.5,64.31 L365.0,64.32 L365.5,64.21 L366.0,64.19 L366.5,64.13 L367.0,64.43 L367.5,64.16 L368.0,64.09 L368.5,64.23 L369.0,64.43 L369.5,64.33 L370.0,64.45 L370.5,64.37 L371.0,64.08 L371.5,64.21 L372.0,64.19 L372.5,64.13 L373.0,64.09 L373.5,64.21 L374.0,64.20 L374.5,64.20 L375.0,64.17 L375.5,64.21" fill="none" stroke="#b4b4b4" stroke-width="1.05" stroke-linejoin="round" stroke-dasharray="0.9,0.35"/>
<path d="M386.3,64.8 L386.3,64.80 L386.8,64.80 L387.3,64.79 L387.8,64.79 L388.3,64.79 L388.8,64.79 L389.3,64.78 L389.8,64.78 L390.3,64.78 L390.8,64.77 L391.3,64.76 L391.8,64.76 L392.3,64.75 L392.8,64.73 L393.3,64.72 L393.8,64.71 L394.3,64.69 L394.8,64.67 L395.3,64.64 L395.8,64.62 L396.3,64.59 L396.8,64.55 L397.3,64.51 L397.8,64.47 L398.3,64.42 L398.8,64.37 L399.3,64.32 L399.8,64.26 L400.3,64.19 L400.8,64.12 L401.3,64.05 L401.8,63.97 L402.3,63.89 L402.8,63.81 L403.3,63.72 L403.8,63.64 L404.3,63.55 L404.8,63.47 L405.3,63.38 L405.8,63.30 L406.3,63.22 L406.8,63.14 L407.3,63.07 L407.8,63.01 L408.3,62.95 L408.8,62.91 L409.3,62.87 L409.8,62.83 L410.3,62.81 L410.8,62.80 L411.3,62.80 L411.8,62.81 L412.3,62.83 L412.8,62.86 L413.3,62.90 L413.8,62.94 L414.3,63.00 L414.8,63.06 L415.3,63.13 L415.8,63.20 L416.3,63.28 L416.8,63.36 L417.3,63.45 L417.8,63.53 L418.3,63.62 L418.8,63.71 L419.3,63.79 L419.8,63.88 L420.3,63.96 L420.8,64.03 L421.3,64.11 L421.8,64.18 L422.3,64.24 L422.8,64.31 L423.3,64.36 L423.8,64.41 L424.3,64.46 L424.8,64.51 L425.3,64.54 L425.8,64.58 L426.3,64.61 L426.8,64.64 L427.3,64.66 L427.8,64.68 L428.3,64.70 L428.8,64.72 L429.3,64.73 L429.8,64.74 L430.3,64.75 L430.8,64.76 L431.3,64.77 L431.8,64.77 L432.3,64.78 L432.8,64.78 L433.3,64.79 L433.8,64.79 L434.3,64.79 L434.8,64.79 L435.3,64.79 L435.8,64.80 L436.3,64.80 L436.3,64.8 Z" fill="#3fd0d3" fill-opacity="0.48" stroke="#555" stroke-opacity="0.55" stroke-width="0.45"/>
<path d="M416.8,64.8 L416.8,64.80 L417.3,64.80 L417.8,64.80 L418.3,64.79 L418.8,64.79 L419.3,64.79 L419.8,64.78 L420.3,64.77 L420.8,64.76 L421.3,64.75 L421.8,64.73 L422.3,64.71 L422.8,64.68 L423.3,64.64 L423.8,64.60 L424.3,64.55 L424.8,64.50 L425.3,64.44 L425.8,64.37 L426.3,64.30 L426.8,64.22 L427.3,64.15 L427.8,64.07 L428.3,64.00 L428.8,63.94 L429.3,63.89 L429.8,63.84 L430.3,63.82 L430.8,63.80 L431.3,63.80 L431.8,63.82 L432.3,63.85 L432.8,63.90 L433.3,63.95 L433.8,64.02 L434.3,64.09 L434.8,64.16 L435.3,64.24 L435.8,64.31 L436.3,64.38 L436.8,64.45 L437.3,64.51 L437.8,64.56 L438.3,64.61 L438.8,64.65 L439.3,64.68 L439.8,64.71 L440.3,64.73 L440.8,64.75 L441.3,64.76 L441.8,64.77 L442.3,64.78 L442.8,64.79 L443.3,64.79 L443.8,64.79 L444.3,64.80 L444.8,64.80 L445.3,64.80 L445.3,64.8 Z" fill="#9bd05a" fill-opacity="0.6" stroke="#555" stroke-opacity="0.55" stroke-width="0.45"/>
<path d="M426.8,64.8 L426.8,64.78 L427.3,64.77 L427.8,64.76 L428.3,64.74 L428.8,64.72 L429.3,64.68 L429.8,64.64 L430.3,64.58 L430.8,64.50 L431.3,64.39 L431.8,64.26 L432.3,64.10 L432.8,63.91 L433.3,63.67 L433.8,63.38 L434.3,63.05 L434.8,62.67 L435.3,62.25 L435.8,61.78 L436.3,61.27 L436.8,60.73 L437.3,60.17 L437.8,59.61 L438.3,59.06 L438.8,58.53 L439.3,58.04 L439.8,57.62 L440.3,57.27 L440.8,57.01 L441.3,56.85 L441.8,56.80 L442.3,56.85 L442.8,57.01 L443.3,57.27 L443.8,57.62 L444.3,58.04 L444.8,58.53 L445.3,59.06 L445.8,59.61 L446.3,60.17 L446.8,60.73 L447.3,61.27 L447.8,61.78 L448.3,62.25 L448.8,62.67 L449.3,63.05 L449.8,63.38 L450.3,63.67 L450.8,63.91 L451.3,64.10 L451.8,64.26 L452.3,64.39 L452.8,64.50 L453.3,64.58 L453.8,64.64 L454.3,64.68 L454.8,64.72 L455.3,64.74 L455.8,64.76 L456.3,64.77 L456.8,64.78 L456.8,64.8 Z" fill="#f2ea78" fill-opacity="0.55" stroke="#555" stroke-opacity="0.55" stroke-width="0.45"/>
<path d="M434.3,64.8 L434.3,64.78 L434.8,64.77 L435.3,64.75 L435.8,64.73 L436.3,64.71 L436.8,64.67 L437.3,64.63 L437.8,64.57 L438.3,64.50 L438.8,64.40 L439.3,64.28 L439.8,64.14 L440.3,63.95 L440.8,63.73 L441.3,63.46 L441.8,63.14 L442.3,62.77 L442.8,62.34 L443.3,61.85 L443.8,61.29 L444.3,60.67 L444.8,59.98 L445.3,59.24 L445.8,58.45 L446.3,57.62 L446.8,56.76 L447.3,55.89 L447.8,55.02 L448.3,54.18 L448.8,53.37 L449.3,52.63 L449.8,51.97 L450.3,51.40 L450.8,50.95 L451.3,50.63 L451.8,50.45 L452.3,50.40 L452.8,50.50 L453.3,50.74 L453.8,51.12 L454.3,51.62 L454.8,52.22 L455.3,52.92 L455.8,53.69 L456.3,54.51 L456.8,55.37 L457.3,56.24 L457.8,57.11 L458.3,57.96 L458.8,58.77 L459.3,59.55 L459.8,60.26 L460.3,60.92 L460.8,61.52 L461.3,62.05 L461.8,62.52 L462.3,62.93 L462.8,63.28 L463.3,63.57 L463.8,63.82 L464.3,64.03 L464.8,64.20 L465.3,64.33 L465.8,64.44 L466.3,64.53 L466.8,64.60 L467.3,64.65 L467.8,64.69 L468.3,64.72 L468.8,64.74 L469.3,64.76 L469.8,64.77 L469.8,64.8 Z" fill="#ef7d84" fill-opacity="0.5" stroke="#555" stroke-opacity="0.55" stroke-width="0.45"/>
<path d="M380.8,64.18 L381.3,64.36 L381.8,64.18 L382.3,64.27 L382.8,64.14 L383.3,64.41 L383.8,64.38 L384.3,64.43 L384.8,64.14 L385.3,64.08 L385.8,64.18 L386.3,64.30 L386.8,64.12 L387.3,64.13 L387.8,64.22 L388.3,64.34 L388.8,64.32 L389.3,64.27 L389.8,64.30 L390.3,64.25 L390.8,64.16 L391.3,64.04 L391.8,64.38 L392.3,64.17 L392.8,64.37 L393.3,64.32 L393.8,64.03 L394.3,64.11 L394.8,63.95 L395.3,64.11 L395.8,64.26 L396.3,64.08 L396.8,63.97 L397.3,63.79 L397.8,63.73 L398.3,63.88 L398.8,63.86 L399.3,63.93 L399.8,63.65 L400.3,63.76 L400.8,63.71 L401.3,63.69 L401.8,63.62 L402.3,63.27 L402.8,63.41 L403.3,62.99 L403.8,63.25 L404.3,62.85 L404.8,63.06 L405.3,63.02 L405.8,62.66 L406.3,62.77 L406.8,62.50 L407.3,62.65 L407.8,62.64 L408.3,62.29 L408.8,62.27 L409.3,62.17 L409.8,62.19 L410.3,62.43 L410.8,62.20 L411.3,62.17 L411.8,62.28 L412.3,62.11 L412.8,62.41 L413.3,62.16 L413.8,62.31 L414.3,62.64 L414.8,62.70 L415.3,62.52 L415.8,62.53 L416.3,62.90 L416.8,62.89 L417.3,62.80 L417.8,63.11 L418.3,62.92 L418.8,63.15 L419.3,63.40 L419.8,63.36 L420.3,63.34 L420.8,63.46 L421.3,63.42 L421.8,63.68 L422.3,63.46 L422.8,63.66 L423.3,63.56 L423.8,63.56 L424.3,63.63 L424.8,63.61 L425.3,63.39 L425.8,63.26 L426.3,63.24 L426.8,63.22 L427.3,63.21 L427.8,63.17 L428.3,62.65 L428.8,62.59 L429.3,62.36 L429.8,62.36 L430.3,62.04 L430.8,61.65 L431.3,61.46 L431.8,61.27 L432.3,61.09 L432.8,60.71 L433.3,60.16 L433.8,59.96 L434.3,59.40 L434.8,58.96 L435.3,58.33 L435.8,57.82 L436.3,57.46 L436.8,56.99 L437.3,56.29 L437.8,55.63 L438.3,54.98 L438.8,54.34 L439.3,53.81 L439.8,53.69 L440.3,52.97 L440.8,52.65 L441.3,52.37 L441.8,52.29 L442.3,52.28 L442.8,51.96 L443.3,51.93 L443.8,51.95 L444.3,51.84 L444.8,52.03 L445.3,52.08 L445.8,51.80 L446.3,51.57 L446.8,51.63 L447.3,51.18 L447.8,50.84 L448.3,50.82 L448.8,50.36 L449.3,50.03 L449.8,49.83 L450.3,49.69 L450.8,49.49 L451.3,49.20 L451.8,49.18 L452.3,49.41 L452.8,49.78 L453.3,49.82 L453.8,50.28 L454.3,51.04 L454.8,51.55 L455.3,52.14 L455.8,52.94 L456.3,53.92 L456.8,54.81 L457.3,55.64 L457.8,56.67 L458.3,57.53 L458.8,58.35 L459.3,58.91 L459.8,59.77 L460.3,60.35 L460.8,61.01 L461.3,61.49 L461.8,62.11 L462.3,62.56 L462.8,62.53 L463.3,63.08 L463.8,63.43 L464.3,63.43 L464.8,63.53 L465.3,63.92 L465.8,63.85 L466.3,64.04 L466.8,64.04 L467.3,64.29 L467.8,64.33 L468.3,63.97 L468.8,64.05 L469.3,64.21 L469.8,64.19 L470.3,64.32 L470.8,64.12 L471.3,64.27 L471.8,64.06 L472.3,64.14 L472.8,64.12 L473.3,64.06 L473.8,64.35 L474.3,64.43 L474.8,64.37 L475.3,64.38 L475.8,64.42 L476.3,64.43 L476.8,64.23 L477.3,64.10 L477.8,64.27 L478.3,64.07 L478.8,64.09 L479.3,64.42 L479.8,64.21 L480.3,64.29 L480.8,64.40 L481.3,64.07 L481.8,64.35 L482.3,64.22 L482.8,64.19 L483.3,64.07 L483.8,64.18 L484.3,64.29" fill="none" stroke="#b4b4b4" stroke-width="1.05" stroke-linejoin="round" stroke-dasharray="0.9,0.35"/>
<path d="M42.5,85.2 L42.5,85.19 L43.0,85.19 L43.5,85.19 L44.0,85.18 L44.5,85.18 L45.0,85.17 L45.5,85.16 L46.0,85.15 L46.5,85.14 L47.0,85.12 L47.5,85.10 L48.0,85.07 L48.5,85.04 L49.0,85.00 L49.5,84.96 L50.0,84.90 L50.5,84.84 L51.0,84.77 L51.5,84.68 L52.0,84.59 L52.5,84.48 L53.0,84.36 L53.5,84.23 L54.0,84.09 L54.5,83.94 L55.0,83.78 L55.5,83.61 L56.0,83.44 L56.5,83.26 L57.0,83.08 L57.5,82.91 L58.0,82.74 L58.5,82.59 L59.0,82.44 L59.5,82.31 L60.0,82.20 L60.5,82.12 L61.0,82.05 L61.5,82.01 L62.0,82.00 L62.5,82.01 L63.0,82.05 L63.5,82.12 L64.0,82.20 L64.5,82.31 L65.0,82.44 L65.5,82.59 L66.0,82.74 L66.5,82.91 L67.0,83.08 L67.5,83.26 L68.0,83.44 L68.5,83.61 L69.0,83.78 L69.5,83.94 L70.0,84.09 L70.5,84.23 L71.0,84.36 L71.5,84.48 L72.0,84.59 L72.5,84.68 L73.0,84.77 L73.5,84.84 L74.0,84.90 L74.5,84.96 L75.0,85.00 L75.5,85.04 L76.0,85.07 L76.5,85.10 L77.0,85.12 L77.5,85.14 L78.0,85.15 L78.5,85.16 L79.0,85.17 L79.5,85.18 L80.0,85.18 L80.5,85.19 L81.0,85.19 L81.5,85.19 L81.5,85.2 Z" fill="#3fd0d3" fill-opacity="0.48" stroke="#555" stroke-opacity="0.55" stroke-width="0.45"/>
<path d="M54.0,85.2 L54.0,85.14 L54.5,85.13 L55.0,85.11 L55.5,85.08 L56.0,85.05 L56.5,85.01 L57.0,84.95 L57.5,84.89 L58.0,84.82 L58.5,84.72 L59.0,84.61 L59.5,84.48 L60.0,84.32 L60.5,84.13 L61.0,83.90 L61.5,83.64 L62.0,83.34 L62.5,82.99 L63.0,82.59 L63.5,82.13 L64.0,81.62 L64.5,81.04 L65.0,80.39 L65.5,79.67 L66.0,78.89 L66.5,78.03 L67.0,77.10 L67.5,76.10 L68.0,75.03 L68.5,73.90 L69.0,72.72 L69.5,71.49 L70.0,70.22 L70.5,68.92 L71.0,67.61 L71.5,66.30 L72.0,65.01 L72.5,63.74 L73.0,62.53 L73.5,61.37 L74.0,60.30 L74.5,59.33 L75.0,58.46 L75.5,57.72 L76.0,57.12 L76.5,56.66 L77.0,56.36 L77.5,56.21 L78.0,56.23 L78.5,56.41 L79.0,56.74 L79.5,57.23 L80.0,57.86 L80.5,58.62 L81.0,59.51 L81.5,60.51 L82.0,61.60 L82.5,62.76 L83.0,63.99 L83.5,65.26 L84.0,66.56 L84.5,67.87 L85.0,69.18 L85.5,70.47 L86.0,71.74 L86.5,72.96 L87.0,74.13 L87.5,75.25 L88.0,76.30 L88.5,77.29 L89.0,78.21 L89.5,79.05 L90.0,79.82 L90.5,80.52 L91.0,81.16 L91.5,81.72 L92.0,82.23 L92.5,82.67 L93.0,83.06 L93.5,83.40 L94.0,83.70 L94.5,83.95 L95.0,84.17 L95.5,84.35 L96.0,84.50 L96.5,84.63 L97.0,84.74 L97.5,84.83 L98.0,84.91 L98.5,84.97 L99.0,85.01 L99.5,85.05 L100.0,85.09 L100.5,85.11 L101.0,85.13 L101.5,85.15 L101.5,85.2 Z" fill="#ef7d84" fill-opacity="0.5" stroke="#555" stroke-opacity="0.55" stroke-width="0.45"/>
<path d="M30.5,84.67 L31.0,84.79 L31.5,84.46 L32.0,84.45 L32.5,84.76 L33.0,84.83 L33.5,84.75 L34.0,84.71 L34.5,84.49 L35.0,84.49 L35.5,84.52 L36.0,84.83 L36.5,84.54 L37.0,84.57 L37.5,84.59 L38.0,84.46 L38.5,84.83 L39.0,84.79 L39.5,84.55 L40.0,84.47 L40.5,84.58 L41.0,84.73 L41.5,84.61 L42.0,84.54 L42.5,84.80 L43.0,84.71 L43.5,84.74 L44.0,84.79 L44.5,84.64 L45.0,84.76 L45.5,84.72 L46.0,84.75 L46.5,84.52 L47.0,84.77 L47.5,84.46 L48.0,84.64 L48.5,84.67 L49.0,84.28 L49.5,84.51 L50.0,84.16 L50.5,84.12 L51.0,84.03 L51.5,84.24 L52.0,84.00 L52.5,84.02 L53.0,83.54 L53.5,83.42 L54.0,83.32 L54.5,83.19 L55.0,83.02 L55.5,82.58 L56.0,82.46 L56.5,82.11 L57.0,82.00 L57.5,81.64 L58.0,81.35 L58.5,80.72 L59.0,80.39 L59.5,80.14 L60.0,79.42 L60.5,79.21 L61.0,78.68 L61.5,78.29 L62.0,77.74 L62.5,76.98 L63.0,76.63 L63.5,76.13 L64.0,75.40 L64.5,74.85 L65.0,73.97 L65.5,73.61 L66.0,72.55 L66.5,72.18 L67.0,71.07 L67.5,70.36 L68.0,69.70 L68.5,68.71 L69.0,67.88 L69.5,66.95 L70.0,66.00 L70.5,64.95 L71.0,63.70 L71.5,62.70 L72.0,61.73 L72.5,61.09 L73.0,60.07 L73.5,58.93 L74.0,58.43 L74.5,57.40 L75.0,56.91 L75.5,56.07 L76.0,56.00 L76.5,55.36 L77.0,55.36 L77.5,55.39 L78.0,55.55 L78.5,55.46 L79.0,55.97 L79.5,56.64 L80.0,57.21 L80.5,57.82 L81.0,59.00 L81.5,59.88 L82.0,61.15 L82.5,62.31 L83.0,63.31 L83.5,64.61 L84.0,66.12 L84.5,67.48 L85.0,68.79 L85.5,69.88 L86.0,71.19 L86.5,72.50 L87.0,73.70 L87.5,74.65 L88.0,75.67 L88.5,76.62 L89.0,77.62 L89.5,78.62 L90.0,79.45 L90.5,79.88 L91.0,80.64 L91.5,81.08 L92.0,81.85 L92.5,82.00 L93.0,82.58 L93.5,82.72 L94.0,83.00 L94.5,83.40 L95.0,83.81 L95.5,83.64 L96.0,83.96 L96.5,83.94 L97.0,84.29 L97.5,84.41 L98.0,84.22 L98.5,84.47 L99.0,84.60 L99.5,84.56 L100.0,84.50 L100.5,84.76 L101.0,84.57 L101.5,84.62 L102.0,84.60 L102.5,84.77 L103.0,84.54 L103.5,84.51 L104.0,84.49 L104.5,84.71 L105.0,84.56 L105.5,84.69 L106.0,84.55 L106.5,84.82 L107.0,84.50 L107.5,84.47 L108.0,84.65 L108.5,84.64 L109.0,84.64 L109.5,84.63 L110.0,84.84 L110.5,84.46 L111.0,84.76 L111.5,84.78 L112.0,84.81 L112.5,84.75 L113.0,84.52 L113.5,84.84 L114.0,84.81 L114.5,84.57 L115.0,84.77 L115.5,84.84 L116.0,84.61 L116.5,84.62 L117.0,84.64 L117.5,84.57 L118.0,84.81 L118.5,84.50 L119.0,84.56 L119.5,84.83 L120.0,84.80 L120.5,84.65 L121.0,84.65 L121.5,84.74 L122.0,84.80 L122.5,84.69 L123.0,84.80 L123.5,84.61 L124.0,84.51 L124.5,84.79 L125.0,84.62 L125.5,84.55 L126.0,84.78 L126.5,84.52 L127.0,84.47 L127.5,84.69 L128.0,84.68 L128.5,84.51 L129.0,84.64 L129.5,84.69 L130.0,84.47 L130.5,84.54 L131.0,84.71 L131.5,84.75 L132.0,84.72 L132.5,84.68 L133.0,84.46 L133.5,84.53 L134.0,84.48" fill="none" stroke="#b4b4b4" stroke-width="1.05" stroke-linejoin="round" stroke-dasharray="0.9,0.35"/>
<path d="M151.0,85.2 L151.0,85.17 L151.5,85.16 L152.0,85.15 L152.5,85.14 L153.0,85.13 L153.5,85.11 L154.0,85.08 L154.5,85.06 L155.0,85.02 L155.5,84.98 L156.0,84.93 L156.5,84.87 L157.0,84.80 L157.5,84.71 L158.0,84.61 L158.5,84.49 L159.0,84.36 L159.5,84.20 L160.0,84.02 L160.5,83.81 L161.0,83.58 L161.5,83.32 L162.0,83.02 L162.5,82.69 L163.0,82.33 L163.5,81.93 L164.0,81.50 L164.5,81.02 L165.0,80.52 L165.5,79.97 L166.0,79.40 L166.5,78.79 L167.0,78.16 L167.5,77.50 L168.0,76.82 L168.5,76.13 L169.0,75.43 L169.5,74.74 L170.0,74.05 L170.5,73.38 L171.0,72.73 L171.5,72.11 L172.0,71.53 L172.5,70.99 L173.0,70.51 L173.5,70.09 L174.0,69.74 L174.5,69.47 L175.0,69.26 L175.5,69.14 L176.0,69.10 L176.5,69.14 L177.0,69.26 L177.5,69.47 L178.0,69.74 L178.5,70.09 L179.0,70.51 L179.5,70.99 L180.0,71.53 L180.5,72.11 L181.0,72.73 L181.5,73.38 L182.0,74.05 L182.5,74.74 L183.0,75.43 L183.5,76.13 L184.0,76.82 L184.5,77.50 L185.0,78.16 L185.5,78.79 L186.0,79.40 L186.5,79.97 L187.0,80.52 L187.5,81.02 L188.0,81.50 L188.5,81.93 L189.0,82.33 L189.5,82.69 L190.0,83.02 L190.5,83.32 L191.0,83.58 L191.5,83.81 L192.0,84.02 L192.5,84.20 L193.0,84.36 L193.5,84.49 L194.0,84.61 L194.5,84.71 L195.0,84.80 L195.5,84.87 L196.0,84.93 L196.5,84.98 L197.0,85.02 L197.5,85.06 L198.0,85.08 L198.5,85.11 L199.0,85.13 L199.5,85.14 L200.0,85.15 L200.5,85.16 L201.0,85.17 L201.0,85.2 Z" fill="#ef7d84" fill-opacity="0.5" stroke="#555" stroke-opacity="0.55" stroke-width="0.45"/>
<path d="M183.0,85.2 L183.0,85.18 L183.5,85.17 L184.0,85.16 L184.5,85.15 L185.0,85.14 L185.5,85.12 L186.0,85.10 L186.5,85.07 L187.0,85.04 L187.5,85.00 L188.0,84.95 L188.5,84.89 L189.0,84.82 L189.5,84.73 L190.0,84.62 L190.5,84.50 L191.0,84.36 L191.5,84.19 L192.0,84.00 L192.5,83.78 L193.0,83.54 L193.5,83.25 L194.0,82.94 L194.5,82.59 L195.0,82.21 L195.5,81.79 L196.0,81.34 L196.5,80.85 L197.0,80.33 L197.5,79.78 L198.0,79.20 L198.5,78.61 L199.0,78.00 L199.5,77.38 L200.0,76.76 L200.5,76.14 L201.0,75.55 L201.5,74.97 L202.0,74.42 L202.5,73.92 L203.0,73.46 L203.5,73.06 L204.0,72.72 L204.5,72.45 L205.0,72.26 L205.5,72.14 L206.0,72.10 L206.5,72.14 L207.0,72.26 L207.5,72.45 L208.0,72.72 L208.5,73.06 L209.0,73.46 L209.5,73.92 L210.0,74.42 L210.5,74.97 L211.0,75.55 L211.5,76.14 L212.0,76.76 L212.5,77.38 L213.0,78.00 L213.5,78.61 L214.0,79.20 L214.5,79.78 L215.0,80.33 L215.5,80.85 L216.0,81.34 L216.5,81.79 L217.0,82.21 L217.5,82.59 L218.0,82.94 L218.5,83.25 L219.0,83.54 L219.5,83.78 L220.0,84.00 L220.5,84.19 L221.0,84.36 L221.5,84.50 L222.0,84.62 L222.5,84.73 L223.0,84.82 L223.5,84.89 L224.0,84.95 L224.5,85.00 L225.0,85.04 L225.5,85.07 L226.0,85.10 L226.5,85.12 L227.0,85.14 L227.5,85.15 L228.0,85.16 L228.5,85.17 L229.0,85.18 L229.0,85.2 Z" fill="#3fd0d3" fill-opacity="0.48" stroke="#555" stroke-opacity="0.55" stroke-width="0.45"/>
<path d="M138.5,84.52 L139.0,84.51 L139.5,84.83 L140.0,84.64 L140.5,84.47 L141.0,84.48 L141.5,84.75 L142.0,84.68 L142.5,84.60 L143.0,84.70 L143.5,84.64 L144.0,84.82 L144.5,84.68 L145.0,84.65 L145.5,84.84 L146.0,84.79 L146.5,84.46 L147.0,84.54 L147.5,84.47 L148.0,84.59 L148.5,84.52 L149.0,84.49 L149.5,84.48 L150.0,84.82 L150.5,84.57 L151.0,84.72 L151.5,84.54 L152.0,84.70 L152.5,84.58 L153.0,84.41 L153.5,84.51 L154.0,84.63 L154.5,84.50 L155.0,84.50 L155.5,84.25 L156.0,84.46 L156.5,84.40 L157.0,84.19 L157.5,84.31 L158.0,84.02 L158.5,83.76 L159.0,83.80 L159.5,83.74 L160.0,83.48 L160.5,83.25 L161.0,83.17 L161.5,82.92 L162.0,82.62 L162.5,82.23 L163.0,81.82 L163.5,81.47 L164.0,81.05 L164.5,80.64 L165.0,79.95 L165.5,79.29 L166.0,78.80 L166.5,78.21 L167.0,77.55 L167.5,77.07 L168.0,76.19 L168.5,75.60 L169.0,74.87 L169.5,74.14 L170.0,73.51 L170.5,72.90 L171.0,72.28 L171.5,71.67 L172.0,70.97 L172.5,70.49 L173.0,69.93 L173.5,69.74 L174.0,69.25 L174.5,68.77 L175.0,68.82 L175.5,68.57 L176.0,68.55 L176.5,68.68 L177.0,68.52 L177.5,69.00 L178.0,69.08 L178.5,69.68 L179.0,70.13 L179.5,70.29 L180.0,71.00 L180.5,71.73 L181.0,72.21 L181.5,72.84 L182.0,73.39 L182.5,74.33 L183.0,74.97 L183.5,75.37 L184.0,76.14 L184.5,77.04 L185.0,77.61 L185.5,78.22 L186.0,78.68 L186.5,79.25 L187.0,79.67 L187.5,80.14 L188.0,80.69 L188.5,80.97 L189.0,81.30 L189.5,81.57 L190.0,81.91 L190.5,81.95 L191.0,82.11 L191.5,82.09 L192.0,82.42 L192.5,82.08 L193.0,82.34 L193.5,81.89 L194.0,81.77 L194.5,81.55 L195.0,81.07 L195.5,80.88 L196.0,80.55 L196.5,79.96 L197.0,79.45 L197.5,79.04 L198.0,78.59 L198.5,77.98 L199.0,77.39 L199.5,76.68 L200.0,76.25 L200.5,75.60 L201.0,74.95 L201.5,74.44 L202.0,73.93 L202.5,73.24 L203.0,72.76 L203.5,72.51 L204.0,72.19 L204.5,72.03 L205.0,71.78 L205.5,71.73 L206.0,71.52 L206.5,71.56 L207.0,71.87 L207.5,71.74 L208.0,72.24 L208.5,72.37 L209.0,72.78 L209.5,73.19 L210.0,73.99 L210.5,74.45 L211.0,74.83 L211.5,75.79 L212.0,76.39 L212.5,76.80 L213.0,77.45 L213.5,77.89 L214.0,78.54 L214.5,79.21 L215.0,79.58 L215.5,80.29 L216.0,80.78 L216.5,81.17 L217.0,81.70 L217.5,82.10 L218.0,82.35 L218.5,82.76 L219.0,82.81 L219.5,83.16 L220.0,83.44 L220.5,83.80 L221.0,83.86 L221.5,83.99 L222.0,84.05 L222.5,84.15 L223.0,84.11 L223.5,84.15 L224.0,84.40 L224.5,84.47 L225.0,84.44 L225.5,84.33 L226.0,84.61 L226.5,84.56 L227.0,84.46 L227.5,84.74 L228.0,84.69 L228.5,84.43 L229.0,84.50 L229.5,84.63 L230.0,84.79 L230.5,84.48 L231.0,84.57 L231.5,84.52 L232.0,84.45 L232.5,84.49 L233.0,84.68 L233.5,84.79 L234.0,84.73 L234.5,84.64 L235.0,84.65 L235.5,84.77 L236.0,84.78 L236.5,84.60 L237.0,84.61 L237.5,84.71 L238.0,84.45 L238.5,84.60 L239.0,84.83 L239.5,84.69 L240.0,84.53 L240.5,84.73 L241.0,84.57 L241.5,84.85 L242.0,84.73 L242.5,84.51" fill="none" stroke="#b4b4b4" stroke-width="1.05" stroke-linejoin="round" stroke-dasharray="0.9,0.35"/>
<path d="M253.5,85.2 L253.5,85.19 L254.0,85.19 L254.5,85.19 L255.0,85.19 L255.5,85.19 L256.0,85.19 L256.5,85.18 L257.0,85.18 L257.5,85.18 L258.0,85.17 L258.5,85.17 L259.0,85.17 L259.5,85.16 L260.0,85.15 L260.5,85.15 L261.0,85.14 L261.5,85.13 L262.0,85.12 L262.5,85.11 L263.0,85.10 L263.5,85.09 L264.0,85.07 L264.5,85.06 L265.0,85.04 L265.5,85.02 L266.0,85.00 L266.5,84.98 L267.0,84.95 L267.5,84.92 L268.0,84.89 L268.5,84.86 L269.0,84.82 L269.5,84.78 L270.0,84.74 L270.5,84.70 L271.0,84.65 L271.5,84.60 L272.0,84.54 L272.5,84.48 L273.0,84.42 L273.5,84.36 L274.0,84.29 L274.5,84.21 L275.0,84.14 L275.5,84.06 L276.0,83.97 L276.5,83.88 L277.0,83.79 L277.5,83.70 L278.0,83.60 L278.5,83.50 L279.0,83.40 L279.5,83.30 L280.0,83.19 L280.5,83.08 L281.0,82.97 L281.5,82.86 L282.0,82.75 L282.5,82.64 L283.0,82.53 L283.5,82.42 L284.0,82.32 L284.5,82.21 L285.0,82.11 L285.5,82.01 L286.0,81.91 L286.5,81.82 L287.0,81.74 L287.5,81.65 L288.0,81.58 L288.5,81.51 L289.0,81.44 L289.5,81.39 L290.0,81.34 L290.5,81.29 L291.0,81.26 L291.5,81.23 L292.0,81.21 L292.5,81.20 L293.0,81.20 L293.5,81.21 L294.0,81.22 L294.5,81.24 L295.0,81.27 L295.5,81.31 L296.0,81.36 L296.5,81.41 L297.0,81.47 L297.5,81.53 L298.0,81.61 L298.5,81.69 L299.0,81.77 L299.5,81.86 L300.0,81.95 L300.5,82.05 L301.0,82.15 L301.5,82.25 L302.0,82.36 L302.5,82.47 L303.0,82.58 L303.5,82.69 L304.0,82.80 L304.5,82.91 L305.0,83.02 L305.5,83.12 L306.0,83.23 L306.5,83.34 L307.0,83.44 L307.5,83.54 L308.0,83.64 L308.5,83.74 L309.0,83.83 L309.5,83.92 L310.0,84.01 L310.5,84.09 L311.0,84.17 L311.5,84.24 L312.0,84.31 L312.5,84.38 L313.0,84.45 L313.5,84.51 L314.0,84.56 L314.5,84.62 L315.0,84.67 L315.5,84.72 L316.0,84.76 L316.5,84.80 L317.0,84.84 L317.5,84.87 L318.0,84.90 L318.5,84.93 L319.0,84.96 L319.5,84.99 L320.0,85.01 L320.5,85.03 L321.0,85.05 L321.5,85.06 L322.0,85.08 L322.5,85.09 L323.0,85.11 L323.5,85.12 L324.0,85.13 L324.5,85.14 L325.0,85.14 L325.5,85.15 L326.0,85.16 L326.5,85.16 L327.0,85.17 L327.5,85.17 L328.0,85.18 L328.5,85.18 L329.0,85.18 L329.5,85.18 L330.0,85.19 L330.5,85.19 L331.0,85.19 L331.5,85.19 L332.0,85.19 L332.0,85.2 Z" fill="#f2ea78" fill-opacity="0.55" stroke="#555" stroke-opacity="0.55" stroke-width="0.45"/>
<path d="M296.5,85.2 L296.5,85.20 L297.0,85.20 L297.5,85.20 L298.0,85.20 L298.5,85.20 L299.0,85.19 L299.5,85.19 L300.0,85.19 L300.5,85.19 L301.0,85.19 L301.5,85.18 L302.0,85.18 L302.5,85.17 L303.0,85.16 L303.5,85.16 L304.0,85.15 L304.5,85.14 L305.0,85.12 L305.5,85.11 L306.0,85.09 L306.5,85.07 L307.0,85.05 L307.5,85.03 L308.0,85.00 L308.5,84.97 L309.0,84.94 L309.5,84.91 L310.0,84.87 L310.5,84.83 L311.0,84.79 L311.5,84.76 L312.0,84.71 L312.5,84.67 L313.0,84.63 L313.5,84.60 L314.0,84.56 L314.5,84.53 L315.0,84.49 L315.5,84.47 L316.0,84.44 L316.5,84.42 L317.0,84.41 L317.5,84.40 L318.0,84.40 L318.5,84.40 L319.0,84.41 L319.5,84.42 L320.0,84.44 L320.5,84.47 L321.0,84.49 L321.5,84.53 L322.0,84.56 L322.5,84.60 L323.0,84.63 L323.5,84.67 L324.0,84.71 L324.5,84.76 L325.0,84.79 L325.5,84.83 L326.0,84.87 L326.5,84.91 L327.0,84.94 L327.5,84.97 L328.0,85.00 L328.5,85.03 L329.0,85.05 L329.5,85.07 L330.0,85.09 L330.5,85.11 L331.0,85.12 L331.5,85.14 L332.0,85.15 L332.5,85.16 L333.0,85.16 L333.5,85.17 L334.0,85.18 L334.5,85.18 L335.0,85.19 L335.5,85.19 L336.0,85.19 L336.5,85.19 L337.0,85.19 L337.5,85.20 L338.0,85.20 L338.5,85.20 L339.0,85.20 L339.5,85.20 L339.5,85.2 Z" fill="#3fd0d3" fill-opacity="0.48" stroke="#555" stroke-opacity="0.55" stroke-width="0.45"/>
<path d="M315.0,85.2 L315.0,85.18 L315.5,85.17 L316.0,85.16 L316.5,85.15 L317.0,85.14 L317.5,85.12 L318.0,85.10 L318.5,85.08 L319.0,85.04 L319.5,85.01 L320.0,84.96 L320.5,84.90 L321.0,84.84 L321.5,84.76 L322.0,84.67 L322.5,84.56 L323.0,84.43 L323.5,84.28 L324.0,84.12 L324.5,83.93 L325.0,83.71 L325.5,83.47 L326.0,83.20 L326.5,82.90 L327.0,82.57 L327.5,82.21 L328.0,81.82 L328.5,81.40 L329.0,80.96 L329.5,80.49 L330.0,79.99 L330.5,79.48 L331.0,78.96 L331.5,78.43 L332.0,77.89 L332.5,77.35 L333.0,76.83 L333.5,76.32 L334.0,75.83 L334.5,75.37 L335.0,74.95 L335.5,74.58 L336.0,74.25 L336.5,73.97 L337.0,73.76 L337.5,73.61 L338.0,73.52 L338.5,73.50 L339.0,73.55 L339.5,73.66 L340.0,73.84 L340.5,74.08 L341.0,74.37 L341.5,74.72 L342.0,75.12 L342.5,75.55 L343.0,76.02 L343.5,76.52 L344.0,77.04 L344.5,77.57 L345.0,78.10 L345.5,78.64 L346.0,79.17 L346.5,79.69 L347.0,80.19 L347.5,80.68 L348.0,81.14 L348.5,81.57 L349.0,81.98 L349.5,82.36 L350.0,82.70 L350.5,83.02 L351.0,83.31 L351.5,83.57 L352.0,83.80 L352.5,84.01 L353.0,84.19 L353.5,84.35 L354.0,84.48 L354.5,84.60 L355.0,84.71 L355.5,84.79 L356.0,84.87 L356.5,84.93 L357.0,84.98 L357.5,85.02 L358.0,85.06 L358.5,85.09 L359.0,85.11 L359.5,85.13 L360.0,85.14 L360.5,85.16 L361.0,85.17 L361.5,85.17 L362.0,85.18 L362.0,85.2 Z" fill="#ef7d84" fill-opacity="0.5" stroke="#555" stroke-opacity="0.55" stroke-width="0.45"/>
<path d="M246.5,84.61 L247.0,84.58 L247.5,84.77 L248.0,84.65 L248.5,84.63 L249.0,84.74 L249.5,84.59 L250.0,84.64 L250.5,84.45 L251.0,84.62 L251.5,84.68 L252.0,84.80 L252.5,84.78 L253.0,84.54 L253.5,84.80 L254.0,84.80 L254.5,84.77 L255.0,84.63 L255.5,84.51 L256.0,84.59 L256.5,84.51 L257.0,84.81 L257.5,84.82 L258.0,84.52 L258.5,84.69 L259.0,84.53 L259.5,84.67 L260.0,84.74 L260.5,84.69 L261.0,84.75 L261.5,84.42 L262.0,84.54 L262.5,84.62 L263.0,84.57 L263.5,84.58 L264.0,84.70 L264.5,84.35 L265.0,84.46 L265.5,84.29 L266.0,84.47 L266.5,84.38 L267.0,84.50 L267.5,84.55 L268.0,84.17 L268.5,84.17 L269.0,84.35 L269.5,84.07 L270.0,84.07 L270.5,84.23 L271.0,84.06 L271.5,83.86 L272.0,83.99 L272.5,83.75 L273.0,83.97 L273.5,83.85 L274.0,83.65 L274.5,83.77 L275.0,83.66 L275.5,83.36 L276.0,83.43 L276.5,83.22 L277.0,83.35 L277.5,83.28 L278.0,83.11 L278.5,83.08 L279.0,82.66 L279.5,82.83 L280.0,82.61 L280.5,82.69 L281.0,82.41 L281.5,82.36 L282.0,82.24 L282.5,82.27 L283.0,82.13 L283.5,81.74 L284.0,81.83 L284.5,81.76 L285.0,81.68 L285.5,81.55 L286.0,81.47 L286.5,81.46 L287.0,81.12 L287.5,81.17 L288.0,81.17 L288.5,80.88 L289.0,81.06 L289.5,80.93 L290.0,80.65 L290.5,80.89 L291.0,80.73 L291.5,80.55 L292.0,80.54 L292.5,80.79 L293.0,80.71 L293.5,80.57 L294.0,80.72 L294.5,80.51 L295.0,80.84 L295.5,80.58 L296.0,80.80 L296.5,80.97 L297.0,80.94 L297.5,81.13 L298.0,80.97 L298.5,81.23 L299.0,81.05 L299.5,81.27 L300.0,81.45 L300.5,81.59 L301.0,81.54 L301.5,81.80 L302.0,81.64 L302.5,82.04 L303.0,81.99 L303.5,82.08 L304.0,82.29 L304.5,82.18 L305.0,82.44 L305.5,82.42 L306.0,82.55 L306.5,82.74 L307.0,82.79 L307.5,82.98 L308.0,83.02 L308.5,82.82 L309.0,83.09 L309.5,83.01 L310.0,83.28 L310.5,83.15 L311.0,83.27 L311.5,83.24 L312.0,83.36 L312.5,83.47 L313.0,83.40 L313.5,83.45 L314.0,83.51 L314.5,83.29 L315.0,83.48 L315.5,83.44 L316.0,83.25 L316.5,83.32 L317.0,83.28 L317.5,83.30 L318.0,83.60 L318.5,83.55 L319.0,83.65 L319.5,83.39 L320.0,83.40 L320.5,83.51 L321.0,83.46 L321.5,83.33 L322.0,83.27 L322.5,83.40 L323.0,83.08 L323.5,83.19 L324.0,82.96 L324.5,82.99 L325.0,82.85 L325.5,82.34 L326.0,82.18 L326.5,81.93 L327.0,81.91 L327.5,81.59 L328.0,81.18 L328.5,80.78 L329.0,80.32 L329.5,79.84 L330.0,79.51 L330.5,78.91 L331.0,78.27 L331.5,77.93 L332.0,77.14 L332.5,76.73 L333.0,76.15 L333.5,75.83 L334.0,75.28 L334.5,74.73 L335.0,74.45 L335.5,74.21 L336.0,73.55 L336.5,73.31 L337.0,73.29 L337.5,73.24 L338.0,72.83 L338.5,72.91 L339.0,73.18 L339.5,73.21 L340.0,73.44 L340.5,73.41 L341.0,73.94 L341.5,74.01 L342.0,74.47 L342.5,75.17 L343.0,75.39 L343.5,76.01 L344.0,76.39 L344.5,76.89 L345.0,77.64 L345.5,78.25 L346.0,78.44 L346.5,79.17 L347.0,79.47 L347.5,80.05 L348.0,80.49 L348.5,80.89 L349.0,81.38 L349.5,81.82 L350.0,82.33 L350.5,82.39 L351.0,82.79 L351.5,83.01 L352.0,83.08 L352.5,83.60 L353.0,83.53 L353.5,83.98 L354.0,83.85 L354.5,83.93 L355.0,84.25 L355.5,84.22 L356.0,84.13 L356.5,84.32 L357.0,84.41 L357.5,84.57 L358.0,84.68 L358.5,84.59 L359.0,84.60 L359.5,84.70 L360.0,84.67 L360.5,84.75 L361.0,84.53 L361.5,84.56 L362.0,84.74 L362.5,84.74 L363.0,84.63 L363.5,84.66 L364.0,84.47 L364.5,84.70 L365.0,84.73 L365.5,84.49 L366.0,84.79 L366.5,84.62 L367.0,84.72 L367.5,84.52 L368.0,84.63 L368.5,84.55 L369.0,84.78 L369.5,84.58 L370.0,84.61 L370.5,84.67 L371.0,84.54 L371.5,84.52 L372.0,84.80 L372.5,84.73 L373.0,84.71 L373.5,84.77 L374.0,84.83 L374.5,84.74 L375.0,84.77 L375.5,84.57" fill="none" stroke="#b4b4b4" stroke-width="1.05" stroke-linejoin="round" stroke-dasharray="0.9,0.35"/>
<path d="M386.8,85.2 L386.8,85.20 L387.3,85.20 L387.8,85.19 L388.3,85.19 L388.8,85.19 L389.3,85.19 L389.8,85.18 L390.3,85.18 L390.8,85.18 L391.3,85.17 L391.8,85.16 L392.3,85.16 L392.8,85.15 L393.3,85.14 L393.8,85.12 L394.3,85.11 L394.8,85.09 L395.3,85.07 L395.8,85.04 L396.3,85.02 L396.8,84.99 L397.3,84.95 L397.8,84.91 L398.3,84.87 L398.8,84.82 L399.3,84.76 L399.8,84.71 L400.3,84.64 L400.8,84.57 L401.3,84.50 L401.8,84.42 L402.3,84.34 L402.8,84.25 L403.3,84.17 L403.8,84.07 L404.3,83.98 L404.8,83.88 L405.3,83.79 L405.8,83.70 L406.3,83.60 L406.8,83.51 L407.3,83.43 L407.8,83.35 L408.3,83.27 L408.8,83.21 L409.3,83.15 L409.8,83.10 L410.3,83.06 L410.8,83.03 L411.3,83.01 L411.8,83.00 L412.3,83.00 L412.8,83.02 L413.3,83.04 L413.8,83.08 L414.3,83.13 L414.8,83.18 L415.3,83.24 L415.8,83.32 L416.3,83.39 L416.8,83.48 L417.3,83.57 L417.8,83.66 L418.3,83.75 L418.8,83.85 L419.3,83.94 L419.8,84.04 L420.3,84.13 L420.8,84.22 L421.3,84.31 L421.8,84.39 L422.3,84.47 L422.8,84.55 L423.3,84.62 L423.8,84.68 L424.3,84.74 L424.8,84.80 L425.3,84.85 L425.8,84.89 L426.3,84.93 L426.8,84.97 L427.3,85.00 L427.8,85.03 L428.3,85.06 L428.8,85.08 L429.3,85.10 L429.8,85.12 L430.3,85.13 L430.8,85.14 L431.3,85.15 L431.8,85.16 L432.3,85.17 L432.8,85.17 L433.3,85.18 L433.8,85.18 L434.3,85.19 L434.8,85.19 L435.3,85.19 L435.8,85.19 L436.3,85.19 L436.8,85.20 L436.8,85.2 Z" fill="#3fd0d3" fill-opacity="0.48" stroke="#555" stroke-opacity="0.55" stroke-width="0.45"/>
<path d="M416.8,85.2 L416.8,85.20 L417.3,85.20 L417.8,85.20 L418.3,85.19 L418.8,85.19 L419.3,85.19 L419.8,85.18 L420.3,85.17 L420.8,85.16 L421.3,85.15 L421.8,85.13 L422.3,85.11 L422.8,85.08 L423.3,85.04 L423.8,85.00 L424.3,84.95 L424.8,84.90 L425.3,84.84 L425.8,84.77 L426.3,84.70 L426.8,84.62 L427.3,84.55 L427.8,84.47 L428.3,84.40 L428.8,84.34 L429.3,84.29 L429.8,84.24 L430.3,84.22 L430.8,84.20 L431.3,84.20 L431.8,84.22 L432.3,84.25 L432.8,84.30 L433.3,84.35 L433.8,84.42 L434.3,84.49 L434.8,84.56 L435.3,84.64 L435.8,84.71 L436.3,84.78 L436.8,84.85 L437.3,84.91 L437.8,84.96 L438.3,85.01 L438.8,85.05 L439.3,85.08 L439.8,85.11 L440.3,85.13 L440.8,85.15 L441.3,85.16 L441.8,85.17 L442.3,85.18 L442.8,85.19 L443.3,85.19 L443.8,85.19 L444.3,85.20 L444.8,85.20 L445.3,85.20 L445.3,85.2 Z" fill="#9bd05a" fill-opacity="0.6" stroke="#555" stroke-opacity="0.55" stroke-width="0.45"/>
<path d="M426.3,85.2 L426.3,85.18 L426.8,85.17 L427.3,85.16 L427.8,85.14 L428.3,85.11 L428.8,85.08 L429.3,85.03 L429.8,84.96 L430.3,84.88 L430.8,84.77 L431.3,84.64 L431.8,84.47 L432.3,84.26 L432.8,84.01 L433.3,83.71 L433.8,83.36 L434.3,82.97 L434.8,82.52 L435.3,82.03 L435.8,81.49 L436.3,80.93 L436.8,80.34 L437.3,79.75 L437.8,79.17 L438.3,78.61 L438.8,78.11 L439.3,77.66 L439.8,77.30 L440.3,77.02 L440.8,76.86 L441.3,76.80 L441.8,76.86 L442.3,77.02 L442.8,77.30 L443.3,77.66 L443.8,78.11 L444.3,78.61 L444.8,79.17 L445.3,79.75 L445.8,80.34 L446.3,80.93 L446.8,81.49 L447.3,82.03 L447.8,82.52 L448.3,82.97 L448.8,83.36 L449.3,83.71 L449.8,84.01 L450.3,84.26 L450.8,84.47 L451.3,84.64 L451.8,84.77 L452.3,84.88 L452.8,84.96 L453.3,85.03 L453.8,85.08 L454.3,85.11 L454.8,85.14 L455.3,85.16 L455.8,85.17 L456.3,85.18 L456.3,85.2 Z" fill="#f2ea78" fill-opacity="0.55" stroke="#555" stroke-opacity="0.55" stroke-width="0.45"/>
<path d="M434.3,85.2 L434.3,85.18 L434.8,85.17 L435.3,85.16 L435.8,85.14 L436.3,85.12 L436.8,85.09 L437.3,85.05 L437.8,85.01 L438.3,84.94 L438.8,84.86 L439.3,84.76 L439.8,84.63 L440.3,84.48 L440.8,84.29 L441.3,84.06 L441.8,83.79 L442.3,83.47 L442.8,83.10 L443.3,82.68 L443.8,82.20 L444.3,81.67 L444.8,81.09 L445.3,80.45 L445.8,79.78 L446.3,79.07 L446.8,78.34 L447.3,77.59 L447.8,76.85 L448.3,76.13 L448.8,75.44 L449.3,74.80 L449.8,74.24 L450.3,73.76 L450.8,73.37 L451.3,73.10 L451.8,72.94 L452.3,72.90 L452.8,72.99 L453.3,73.19 L453.8,73.51 L454.3,73.94 L454.8,74.46 L455.3,75.05 L455.8,75.71 L456.3,76.41 L456.8,77.14 L457.3,77.89 L457.8,78.63 L458.3,79.36 L458.8,80.05 L459.3,80.71 L459.8,81.33 L460.3,81.89 L460.8,82.40 L461.3,82.85 L461.8,83.25 L462.3,83.60 L462.8,83.90 L463.3,84.15 L463.8,84.37 L464.3,84.54 L464.8,84.69 L465.3,84.80 L465.8,84.90 L466.3,84.97 L466.8,85.03 L467.3,85.07 L467.8,85.11 L468.3,85.13 L468.8,85.15 L469.3,85.16 L469.8,85.17 L469.8,85.2 Z" fill="#ef7d84" fill-opacity="0.5" stroke="#555" stroke-opacity="0.55" stroke-width="0.45"/>
<path d="M380.8,84.67 L381.3,84.80 L381.8,84.72 L382.3,84.66 L382.8,84.70 L383.3,84.78 L383.8,84.82 L384.3,84.84 L384.8,84.45 L385.3,84.55 L385.8,84.81 L386.3,84.56 L386.8,84.45 L387.3,84.62 L387.8,84.80 L388.3,84.65 L388.8,84.67 L389.3,84.76 L389.8,84.62 L390.3,84.83 L390.8,84.46 L391.3,84.56 L391.8,84.56 L392.3,84.43 L392.8,84.54 L393.3,84.68 L393.8,84.67 L394.3,84.70 L394.8,84.73 L395.3,84.41 L395.8,84.36 L396.3,84.55 L396.8,84.56 L397.3,84.34 L397.8,84.22 L398.3,84.15 L398.8,84.40 L399.3,84.10 L399.8,84.02 L400.3,84.00 L400.8,84.09 L401.3,84.08 L401.8,83.74 L402.3,83.86 L402.8,83.76 L403.3,83.60 L403.8,83.58 L404.3,83.30 L404.8,83.44 L405.3,83.42 L405.8,83.12 L406.3,83.00 L406.8,82.83 L407.3,82.80 L407.8,82.63 L408.3,82.54 L408.8,82.66 L409.3,82.60 L409.8,82.68 L410.3,82.59 L410.8,82.44 L411.3,82.63 L411.8,82.38 L412.3,82.59 L412.8,82.49 L413.3,82.31 L413.8,82.69 L414.3,82.76 L414.8,82.65 L415.3,82.82 L415.8,82.68 L416.3,83.04 L416.8,82.79 L417.3,82.87 L417.8,82.99 L418.3,83.22 L418.8,83.37 L419.3,83.31 L419.8,83.46 L420.3,83.58 L420.8,83.69 L421.3,83.72 L421.8,83.69 L422.3,83.67 L422.8,83.68 L423.3,84.00 L423.8,83.96 L424.3,83.89 L424.8,83.82 L425.3,83.87 L425.8,83.87 L426.3,83.84 L426.8,83.64 L427.3,83.47 L427.8,83.13 L428.3,83.00 L428.8,82.85 L429.3,82.61 L429.8,82.41 L430.3,82.31 L430.8,81.98 L431.3,81.99 L431.8,81.44 L432.3,81.12 L432.8,80.86 L433.3,80.33 L433.8,79.71 L434.3,79.40 L434.8,78.79 L435.3,78.35 L435.8,77.73 L436.3,76.89 L436.8,76.61 L437.3,75.92 L437.8,75.12 L438.3,74.64 L438.8,74.27 L439.3,73.59 L439.8,73.33 L440.3,72.95 L440.8,72.81 L441.3,72.65 L441.8,72.59 L442.3,72.69 L442.8,72.89 L443.3,73.00 L443.8,72.86 L444.3,73.15 L444.8,73.47 L445.3,73.27 L445.8,73.58 L446.3,73.65 L446.8,73.43 L447.3,73.43 L447.8,73.18 L448.3,72.96 L448.8,72.87 L449.3,72.50 L449.8,72.47 L450.3,72.12 L450.8,71.94 L451.3,72.07 L451.8,71.93 L452.3,72.15 L452.8,72.19 L453.3,72.30 L453.8,72.80 L454.3,73.20 L454.8,73.73 L455.3,74.61 L455.8,74.93 L456.3,75.75 L456.8,76.74 L457.3,77.20 L457.8,78.12 L458.3,78.93 L458.8,79.32 L459.3,80.14 L459.8,80.66 L460.3,81.48 L460.8,81.74 L461.3,82.48 L461.8,82.81 L462.3,83.10 L462.8,83.54 L463.3,83.57 L463.8,83.93 L464.3,84.07 L464.8,84.05 L465.3,84.28 L465.8,84.19 L466.3,84.37 L466.8,84.33 L467.3,84.50 L467.8,84.39 L468.3,84.43 L468.8,84.73 L469.3,84.52 L469.8,84.69 L470.3,84.53 L470.8,84.57 L471.3,84.51 L471.8,84.80 L472.3,84.70 L472.8,84.55 L473.3,84.47 L473.8,84.56 L474.3,84.83 L474.8,84.61 L475.3,84.81 L475.8,84.63 L476.3,84.53 L476.8,84.80 L477.3,84.48 L477.8,84.58 L478.3,84.75 L478.8,84.77 L479.3,84.67 L479.8,84.51 L480.3,84.62 L480.8,84.80 L481.3,84.84 L481.8,84.81 L482.3,84.53 L482.8,84.78 L483.3,84.63 L483.8,84.73 L484.3,84.58" fill="none" stroke="#b4b4b4" stroke-width="1.05" stroke-linejoin="round" stroke-dasharray="0.9,0.35"/>
<path d="M42.5,105.6 L42.5,105.60 L43.0,105.59 L43.5,105.59 L44.0,105.59 L44.5,105.58 L45.0,105.58 L45.5,105.57 L46.0,105.56 L46.5,105.55 L47.0,105.54 L47.5,105.52 L48.0,105.50 L48.5,105.47 L49.0,105.44 L49.5,105.40 L50.0,105.36 L50.5,105.31 L51.0,105.25 L51.5,105.18 L52.0,105.10 L52.5,105.02 L53.0,104.92 L53.5,104.81 L54.0,104.70 L54.5,104.57 L55.0,104.44 L55.5,104.31 L56.0,104.17 L56.5,104.02 L57.0,103.88 L57.5,103.74 L58.0,103.60 L58.5,103.48 L59.0,103.36 L59.5,103.26 L60.0,103.17 L60.5,103.09 L61.0,103.04 L61.5,103.01 L62.0,103.00 L62.5,103.01 L63.0,103.04 L63.5,103.09 L64.0,103.17 L64.5,103.26 L65.0,103.36 L65.5,103.48 L66.0,103.60 L66.5,103.74 L67.0,103.88 L67.5,104.02 L68.0,104.17 L68.5,104.31 L69.0,104.44 L69.5,104.57 L70.0,104.70 L70.5,104.81 L71.0,104.92 L71.5,105.02 L72.0,105.10 L72.5,105.18 L73.0,105.25 L73.5,105.31 L74.0,105.36 L74.5,105.40 L75.0,105.44 L75.5,105.47 L76.0,105.50 L76.5,105.52 L77.0,105.54 L77.5,105.55 L78.0,105.56 L78.5,105.57 L79.0,105.58 L79.5,105.58 L80.0,105.59 L80.5,105.59 L81.0,105.59 L81.5,105.60 L81.5,105.6 Z" fill="#3fd0d3" fill-opacity="0.48" stroke="#555" stroke-opacity="0.55" stroke-width="0.45"/>
<path d="M54.0,105.6 L54.0,105.57 L54.5,105.56 L55.0,105.54 L55.5,105.53 L56.0,105.51 L56.5,105.48 L57.0,105.45 L57.5,105.41 L58.0,105.36 L58.5,105.30 L59.0,105.23 L59.5,105.15 L60.0,105.04 L60.5,104.92 L61.0,104.78 L61.5,104.62 L62.0,104.42 L62.5,104.20 L63.0,103.94 L63.5,103.64 L64.0,103.31 L64.5,102.93 L65.0,102.51 L65.5,102.05 L66.0,101.53 L66.5,100.97 L67.0,100.36 L67.5,99.69 L68.0,98.99 L68.5,98.24 L69.0,97.45 L69.5,96.62 L70.0,95.77 L70.5,94.90 L71.0,94.01 L71.5,93.12 L72.0,92.23 L72.5,91.36 L73.0,90.52 L73.5,89.72 L74.0,88.97 L74.5,88.28 L75.0,87.66 L75.5,87.12 L76.0,86.68 L76.5,86.33 L77.0,86.08 L77.5,85.94 L78.0,85.90 L78.5,85.98 L79.0,86.16 L79.5,86.45 L80.0,86.84 L80.5,87.33 L81.0,87.90 L81.5,88.55 L82.0,89.26 L82.5,90.04 L83.0,90.85 L83.5,91.71 L84.0,92.58 L84.5,93.47 L85.0,94.36 L85.5,95.25 L86.0,96.11 L86.5,96.96 L87.0,97.77 L87.5,98.54 L88.0,99.28 L88.5,99.96 L89.0,100.61 L89.5,101.20 L90.0,101.74 L90.5,102.24 L91.0,102.69 L91.5,103.09 L92.0,103.45 L92.5,103.77 L93.0,104.05 L93.5,104.29 L94.0,104.50 L94.5,104.68 L95.0,104.84 L95.5,104.97 L96.0,105.09 L96.5,105.18 L97.0,105.26 L97.5,105.33 L98.0,105.38 L98.5,105.43 L99.0,105.46 L99.5,105.49 L100.0,105.51 L100.5,105.53 L101.0,105.55 L101.5,105.56 L102.0,105.57 L102.0,105.6 Z" fill="#ef7d84" fill-opacity="0.5" stroke="#555" stroke-opacity="0.55" stroke-width="0.45"/>
<path d="M30.5,105.10 L31.0,105.19 L31.5,104.90 L32.0,105.03 L32.5,104.97 L33.0,104.93 L33.5,104.87 L34.0,105.24 L34.5,105.11 L35.0,105.19 L35.5,105.05 L36.0,104.90 L36.5,104.93 L37.0,105.24 L37.5,105.18 L38.0,104.92 L38.5,104.98 L39.0,105.09 L39.5,105.06 L40.0,105.19 L40.5,104.91 L41.0,105.09 L41.5,104.90 L42.0,105.00 L42.5,105.21 L43.0,105.11 L43.5,105.15 L44.0,104.88 L44.5,105.00 L45.0,105.21 L45.5,105.15 L46.0,105.07 L46.5,105.01 L47.0,104.95 L47.5,105.01 L48.0,105.00 L48.5,105.12 L49.0,104.85 L49.5,104.91 L50.0,104.99 L50.5,104.76 L51.0,104.48 L51.5,104.79 L52.0,104.66 L52.5,104.35 L53.0,104.40 L53.5,104.27 L54.0,104.04 L54.5,103.98 L55.0,103.68 L55.5,103.52 L56.0,103.14 L56.5,102.91 L57.0,103.07 L57.5,102.61 L58.0,102.27 L58.5,101.96 L59.0,101.72 L59.5,101.48 L60.0,101.18 L60.5,100.98 L61.0,100.69 L61.5,100.16 L62.0,99.79 L62.5,99.41 L63.0,99.16 L63.5,98.95 L64.0,98.38 L64.5,98.00 L65.0,97.69 L65.5,97.22 L66.0,96.89 L66.5,96.35 L67.0,95.92 L67.5,95.55 L68.0,94.91 L68.5,94.36 L69.0,93.51 L69.5,93.11 L70.0,92.53 L70.5,91.94 L71.0,91.28 L71.5,90.57 L72.0,90.00 L72.5,89.39 L73.0,88.40 L73.5,87.95 L74.0,87.38 L74.5,86.79 L75.0,86.42 L75.5,86.06 L76.0,85.76 L76.5,85.41 L77.0,85.24 L77.5,85.00 L78.0,85.10 L78.5,85.07 L79.0,85.53 L79.5,85.62 L80.0,86.17 L80.5,86.88 L81.0,87.43 L81.5,87.93 L82.0,88.49 L82.5,89.52 L83.0,90.18 L83.5,91.18 L84.0,91.88 L84.5,93.09 L85.0,93.82 L85.5,94.53 L86.0,95.65 L86.5,96.50 L87.0,97.41 L87.5,98.13 L88.0,98.82 L88.5,99.33 L89.0,100.17 L89.5,100.69 L90.0,101.31 L90.5,101.65 L91.0,101.99 L91.5,102.48 L92.0,103.02 L92.5,103.12 L93.0,103.31 L93.5,103.70 L94.0,104.12 L94.5,104.01 L95.0,104.14 L95.5,104.49 L96.0,104.68 L96.5,104.76 L97.0,104.70 L97.5,104.63 L98.0,104.78 L98.5,104.71 L99.0,105.03 L99.5,105.01 L100.0,104.86 L100.5,104.92 L101.0,105.04 L101.5,104.94 L102.0,105.08 L102.5,105.20 L103.0,105.07 L103.5,105.22 L104.0,104.99 L104.5,105.11 L105.0,105.05 L105.5,105.01 L106.0,105.14 L106.5,105.06 L107.0,105.24 L107.5,104.88 L108.0,105.02 L108.5,104.85 L109.0,105.23 L109.5,105.00 L110.0,104.96 L110.5,105.12 L111.0,105.21 L111.5,105.19 L112.0,105.19 L112.5,104.94 L113.0,105.21 L113.5,104.92 L114.0,105.08 L114.5,105.03 L115.0,105.01 L115.5,105.03 L116.0,104.99 L116.5,105.01 L117.0,105.12 L117.5,104.95 L118.0,105.15 L118.5,104.97 L119.0,104.94 L119.5,104.94 L120.0,105.13 L120.5,104.94 L121.0,104.86 L121.5,105.07 L122.0,105.14 L122.5,105.04 L123.0,104.87 L123.5,105.20 L124.0,105.25 L124.5,105.06 L125.0,104.99 L125.5,104.94 L126.0,105.11 L126.5,104.85 L127.0,105.16 L127.5,104.95 L128.0,105.21 L128.5,105.24 L129.0,105.20 L129.5,105.23 L130.0,105.05 L130.5,105.03 L131.0,105.18 L131.5,104.87 L132.0,105.10 L132.5,105.19 L133.0,105.18 L133.5,104.95 L134.0,104.88" fill="none" stroke="#b4b4b4" stroke-width="1.05" stroke-linejoin="round" stroke-dasharray="0.9,0.35"/>
<path d="M153.0,105.6 L153.0,105.55 L153.5,105.54 L154.0,105.52 L154.5,105.50 L155.0,105.48 L155.5,105.45 L156.0,105.41 L156.5,105.37 L157.0,105.32 L157.5,105.25 L158.0,105.17 L158.5,105.08 L159.0,104.97 L159.5,104.84 L160.0,104.69 L160.5,104.52 L161.0,104.31 L161.5,104.08 L162.0,103.81 L162.5,103.50 L163.0,103.16 L163.5,102.77 L164.0,102.33 L164.5,101.84 L165.0,101.30 L165.5,100.70 L166.0,100.04 L166.5,99.33 L167.0,98.56 L167.5,97.73 L168.0,96.85 L168.5,95.91 L169.0,94.92 L169.5,93.89 L170.0,92.82 L170.5,91.71 L171.0,90.58 L171.5,89.43 L172.0,88.28 L172.5,87.13 L173.0,85.99 L173.5,84.89 L174.0,83.82 L174.5,82.81 L175.0,81.86 L175.5,80.98 L176.0,80.20 L176.5,79.51 L177.0,78.93 L177.5,78.46 L178.0,78.11 L178.5,77.89 L179.0,77.80 L179.5,77.84 L180.0,78.01 L180.5,78.31 L181.0,78.73 L181.5,79.26 L182.0,79.91 L182.5,80.66 L183.0,81.50 L183.5,82.42 L184.0,83.41 L184.5,84.45 L185.0,85.55 L185.5,86.67 L186.0,87.82 L186.5,88.97 L187.0,90.12 L187.5,91.26 L188.0,92.38 L188.5,93.47 L189.0,94.52 L189.5,95.52 L190.0,96.48 L190.5,97.39 L191.0,98.24 L191.5,99.03 L192.0,99.77 L192.5,100.44 L193.0,101.06 L193.5,101.63 L194.0,102.14 L194.5,102.60 L195.0,103.01 L195.5,103.37 L196.0,103.69 L196.5,103.98 L197.0,104.22 L197.5,104.44 L198.0,104.63 L198.5,104.79 L199.0,104.92 L199.5,105.04 L200.0,105.14 L200.5,105.22 L201.0,105.29 L201.5,105.35 L202.0,105.40 L202.5,105.44 L203.0,105.47 L203.5,105.50 L204.0,105.52 L204.5,105.53 L205.0,105.55 L205.0,105.6 Z" fill="#ef7d84" fill-opacity="0.5" stroke="#555" stroke-opacity="0.55" stroke-width="0.45"/>
<path d="M186.5,105.6 L186.5,105.60 L187.0,105.60 L187.5,105.60 L188.0,105.59 L188.5,105.59 L189.0,105.59 L189.5,105.59 L190.0,105.58 L190.5,105.58 L191.0,105.57 L191.5,105.57 L192.0,105.56 L192.5,105.55 L193.0,105.53 L193.5,105.52 L194.0,105.50 L194.5,105.48 L195.0,105.46 L195.5,105.43 L196.0,105.40 L196.5,105.36 L197.0,105.32 L197.5,105.28 L198.0,105.23 L198.5,105.17 L199.0,105.11 L199.5,105.05 L200.0,104.98 L200.5,104.91 L201.0,104.84 L201.5,104.77 L202.0,104.69 L202.5,104.61 L203.0,104.54 L203.5,104.47 L204.0,104.40 L204.5,104.33 L205.0,104.28 L205.5,104.22 L206.0,104.18 L206.5,104.15 L207.0,104.12 L207.5,104.11 L208.0,104.10 L208.5,104.11 L209.0,104.12 L209.5,104.15 L210.0,104.18 L210.5,104.22 L211.0,104.28 L211.5,104.33 L212.0,104.40 L212.5,104.47 L213.0,104.54 L213.5,104.61 L214.0,104.69 L214.5,104.77 L215.0,104.84 L215.5,104.91 L216.0,104.98 L216.5,105.05 L217.0,105.11 L217.5,105.17 L218.0,105.23 L218.5,105.28 L219.0,105.32 L219.5,105.36 L220.0,105.40 L220.5,105.43 L221.0,105.46 L221.5,105.48 L222.0,105.50 L222.5,105.52 L223.0,105.53 L223.5,105.55 L224.0,105.56 L224.5,105.57 L225.0,105.57 L225.5,105.58 L226.0,105.58 L226.5,105.59 L227.0,105.59 L227.5,105.59 L228.0,105.59 L228.5,105.60 L229.0,105.60 L229.5,105.60 L229.5,105.6 Z" fill="#3fd0d3" fill-opacity="0.48" stroke="#555" stroke-opacity="0.55" stroke-width="0.45"/>
<path d="M138.5,105.19 L139.0,105.24 L139.5,104.94 L140.0,105.15 L140.5,104.86 L141.0,105.05 L141.5,105.00 L142.0,105.11 L142.5,104.93 L143.0,105.07 L143.5,105.12 L144.0,104.89 L144.5,105.21 L145.0,104.96 L145.5,105.22 L146.0,104.99 L146.5,105.09 L147.0,104.90 L147.5,105.22 L148.0,105.02 L148.5,105.08 L149.0,104.88 L149.5,104.86 L150.0,104.99 L150.5,105.15 L151.0,105.13 L151.5,105.12 L152.0,105.05 L152.5,105.12 L153.0,105.12 L153.5,104.89 L154.0,104.92 L154.5,105.04 L155.0,104.73 L155.5,105.01 L156.0,104.84 L156.5,104.96 L157.0,104.62 L157.5,104.55 L158.0,104.72 L158.5,104.43 L159.0,104.29 L159.5,104.38 L160.0,104.21 L160.5,103.97 L161.0,103.61 L161.5,103.67 L162.0,103.19 L162.5,102.92 L163.0,102.63 L163.5,102.18 L164.0,101.62 L164.5,101.40 L165.0,100.59 L165.5,100.20 L166.0,99.38 L166.5,98.64 L167.0,98.14 L167.5,97.04 L168.0,96.10 L168.5,95.44 L169.0,94.57 L169.5,93.50 L170.0,92.08 L170.5,91.36 L171.0,89.86 L171.5,89.02 L172.0,87.63 L172.5,86.74 L173.0,85.58 L173.5,84.26 L174.0,83.43 L174.5,82.32 L175.0,81.14 L175.5,80.35 L176.0,79.49 L176.5,78.77 L177.0,78.56 L177.5,78.02 L178.0,77.45 L178.5,77.27 L179.0,77.44 L179.5,77.29 L180.0,77.57 L180.5,77.78 L181.0,78.33 L181.5,78.90 L182.0,79.16 L182.5,80.18 L183.0,80.80 L183.5,82.02 L184.0,82.86 L184.5,84.05 L185.0,85.02 L185.5,86.25 L186.0,87.19 L186.5,88.56 L187.0,89.47 L187.5,90.71 L188.0,91.98 L188.5,92.97 L189.0,93.96 L189.5,94.79 L190.0,95.98 L190.5,96.93 L191.0,97.47 L191.5,98.29 L192.0,99.08 L192.5,99.93 L193.0,100.58 L193.5,101.09 L194.0,101.66 L194.5,102.11 L195.0,102.31 L195.5,102.69 L196.0,102.92 L196.5,103.24 L197.0,103.59 L197.5,103.49 L198.0,103.64 L198.5,103.79 L199.0,103.87 L199.5,103.86 L200.0,103.78 L200.5,103.84 L201.0,103.89 L201.5,104.01 L202.0,104.01 L202.5,103.93 L203.0,103.67 L203.5,103.86 L204.0,103.81 L204.5,103.76 L205.0,103.82 L205.5,103.44 L206.0,103.80 L206.5,103.53 L207.0,103.38 L207.5,103.64 L208.0,103.49 L208.5,103.60 L209.0,103.67 L209.5,103.71 L210.0,103.78 L210.5,103.53 L211.0,103.61 L211.5,103.62 L212.0,104.03 L212.5,103.84 L213.0,104.06 L213.5,104.01 L214.0,104.12 L214.5,104.29 L215.0,104.10 L215.5,104.56 L216.0,104.33 L216.5,104.36 L217.0,104.56 L217.5,104.58 L218.0,104.48 L218.5,104.83 L219.0,104.72 L219.5,104.71 L220.0,104.90 L220.5,104.79 L221.0,104.95 L221.5,104.92 L222.0,104.91 L222.5,104.90 L223.0,105.06 L223.5,104.95 L224.0,104.99 L224.5,105.13 L225.0,104.98 L225.5,105.12 L226.0,104.87 L226.5,105.05 L227.0,104.95 L227.5,105.03 L228.0,105.05 L228.5,105.16 L229.0,105.19 L229.5,104.88 L230.0,105.04 L230.5,105.04 L231.0,105.04 L231.5,104.92 L232.0,105.15 L232.5,105.18 L233.0,104.92 L233.5,105.07 L234.0,104.99 L234.5,104.92 L235.0,104.89 L235.5,104.90 L236.0,105.23 L236.5,105.10 L237.0,104.92 L237.5,104.92 L238.0,105.20 L238.5,105.19 L239.0,105.15 L239.5,105.21 L240.0,105.11 L240.5,104.93 L241.0,105.04 L241.5,105.07 L242.0,105.21 L242.5,105.09" fill="none" stroke="#b4b4b4" stroke-width="1.05" stroke-linejoin="round" stroke-dasharray="0.9,0.35"/>
<path d="M258.0,105.6 L258.0,105.60 L258.5,105.60 L259.0,105.60 L259.5,105.59 L260.0,105.59 L260.5,105.59 L261.0,105.59 L261.5,105.59 L262.0,105.59 L262.5,105.59 L263.0,105.58 L263.5,105.58 L264.0,105.58 L264.5,105.58 L265.0,105.57 L265.5,105.57 L266.0,105.56 L266.5,105.56 L267.0,105.55 L267.5,105.55 L268.0,105.54 L268.5,105.53 L269.0,105.53 L269.5,105.52 L270.0,105.51 L270.5,105.49 L271.0,105.48 L271.5,105.47 L272.0,105.45 L272.5,105.44 L273.0,105.42 L273.5,105.40 L274.0,105.38 L274.5,105.36 L275.0,105.34 L275.5,105.31 L276.0,105.29 L276.5,105.26 L277.0,105.23 L277.5,105.20 L278.0,105.16 L278.5,105.13 L279.0,105.09 L279.5,105.05 L280.0,105.01 L280.5,104.97 L281.0,104.92 L281.5,104.88 L282.0,104.83 L282.5,104.78 L283.0,104.73 L283.5,104.68 L284.0,104.63 L284.5,104.57 L285.0,104.52 L285.5,104.46 L286.0,104.41 L286.5,104.35 L287.0,104.30 L287.5,104.24 L288.0,104.19 L288.5,104.14 L289.0,104.09 L289.5,104.03 L290.0,103.99 L290.5,103.94 L291.0,103.89 L291.5,103.85 L292.0,103.81 L292.5,103.77 L293.0,103.74 L293.5,103.71 L294.0,103.68 L294.5,103.66 L295.0,103.64 L295.5,103.62 L296.0,103.61 L296.5,103.60 L297.0,103.60 L297.5,103.60 L298.0,103.61 L298.5,103.61 L299.0,103.63 L299.5,103.64 L300.0,103.66 L300.5,103.69 L301.0,103.72 L301.5,103.75 L302.0,103.78 L302.5,103.82 L303.0,103.86 L303.5,103.90 L304.0,103.95 L304.5,104.00 L305.0,104.04 L305.5,104.10 L306.0,104.15 L306.5,104.20 L307.0,104.26 L307.5,104.31 L308.0,104.36 L308.5,104.42 L309.0,104.48 L309.5,104.53 L310.0,104.58 L310.5,104.64 L311.0,104.69 L311.5,104.74 L312.0,104.79 L312.5,104.84 L313.0,104.89 L313.5,104.93 L314.0,104.98 L314.5,105.02 L315.0,105.06 L315.5,105.10 L316.0,105.14 L316.5,105.17 L317.0,105.20 L317.5,105.24 L318.0,105.27 L318.5,105.29 L319.0,105.32 L319.5,105.34 L320.0,105.37 L320.5,105.39 L321.0,105.41 L321.5,105.43 L322.0,105.44 L322.5,105.46 L323.0,105.47 L323.5,105.49 L324.0,105.50 L324.5,105.51 L325.0,105.52 L325.5,105.53 L326.0,105.54 L326.5,105.54 L327.0,105.55 L327.5,105.55 L328.0,105.56 L328.5,105.57 L329.0,105.57 L329.5,105.57 L330.0,105.58 L330.5,105.58 L331.0,105.58 L331.5,105.58 L332.0,105.59 L332.5,105.59 L333.0,105.59 L333.5,105.59 L334.0,105.59 L334.5,105.59 L335.0,105.59 L335.5,105.60 L336.0,105.60 L336.5,105.60 L336.5,105.6 Z" fill="#f2ea78" fill-opacity="0.55" stroke="#555" stroke-opacity="0.55" stroke-width="0.45"/>
<path d="M300.0,105.6 L300.0,105.60 L300.5,105.60 L301.0,105.60 L301.5,105.60 L302.0,105.59 L302.5,105.59 L303.0,105.59 L303.5,105.59 L304.0,105.59 L304.5,105.58 L305.0,105.58 L305.5,105.57 L306.0,105.56 L306.5,105.56 L307.0,105.55 L307.5,105.53 L308.0,105.52 L308.5,105.50 L309.0,105.49 L309.5,105.46 L310.0,105.44 L310.5,105.41 L311.0,105.38 L311.5,105.35 L312.0,105.31 L312.5,105.28 L313.0,105.23 L313.5,105.19 L314.0,105.14 L314.5,105.09 L315.0,105.04 L315.5,104.99 L316.0,104.94 L316.5,104.89 L317.0,104.85 L317.5,104.80 L318.0,104.76 L318.5,104.72 L319.0,104.68 L319.5,104.65 L320.0,104.63 L320.5,104.61 L321.0,104.60 L321.5,104.60 L322.0,104.60 L322.5,104.61 L323.0,104.63 L323.5,104.65 L324.0,104.68 L324.5,104.72 L325.0,104.76 L325.5,104.80 L326.0,104.85 L326.5,104.89 L327.0,104.94 L327.5,104.99 L328.0,105.04 L328.5,105.09 L329.0,105.14 L329.5,105.19 L330.0,105.23 L330.5,105.28 L331.0,105.31 L331.5,105.35 L332.0,105.38 L332.5,105.41 L333.0,105.44 L333.5,105.46 L334.0,105.49 L334.5,105.50 L335.0,105.52 L335.5,105.53 L336.0,105.55 L336.5,105.56 L337.0,105.56 L337.5,105.57 L338.0,105.58 L338.5,105.58 L339.0,105.59 L339.5,105.59 L340.0,105.59 L340.5,105.59 L341.0,105.59 L341.5,105.60 L342.0,105.60 L342.5,105.60 L343.0,105.60 L343.0,105.6 Z" fill="#3fd0d3" fill-opacity="0.48" stroke="#555" stroke-opacity="0.55" stroke-width="0.45"/>
<path d="M320.0,105.6 L320.0,105.57 L320.5,105.55 L321.0,105.54 L321.5,105.52 L322.0,105.49 L322.5,105.45 L323.0,105.41 L323.5,105.35 L324.0,105.29 L324.5,105.20 L325.0,105.09 L325.5,104.96 L326.0,104.81 L326.5,104.62 L327.0,104.40 L327.5,104.14 L328.0,103.84 L328.5,103.48 L329.0,103.08 L329.5,102.62 L330.0,102.10 L330.5,101.53 L331.0,100.89 L331.5,100.20 L332.0,99.45 L332.5,98.65 L333.0,97.80 L333.5,96.91 L334.0,95.99 L334.5,95.06 L335.0,94.12 L335.5,93.19 L336.0,92.28 L336.5,91.41 L337.0,90.60 L337.5,89.85 L338.0,89.20 L338.5,88.64 L339.0,88.19 L339.5,87.87 L340.0,87.67 L340.5,87.60 L341.0,87.67 L341.5,87.87 L342.0,88.19 L342.5,88.64 L343.0,89.20 L343.5,89.85 L344.0,90.60 L344.5,91.41 L345.0,92.28 L345.5,93.19 L346.0,94.12 L346.5,95.06 L347.0,95.99 L347.5,96.91 L348.0,97.80 L348.5,98.65 L349.0,99.45 L349.5,100.20 L350.0,100.89 L350.5,101.53 L351.0,102.10 L351.5,102.62 L352.0,103.08 L352.5,103.48 L353.0,103.84 L353.5,104.14 L354.0,104.40 L354.5,104.62 L355.0,104.81 L355.5,104.96 L356.0,105.09 L356.5,105.20 L357.0,105.29 L357.5,105.35 L358.0,105.41 L358.5,105.45 L359.0,105.49 L359.5,105.52 L360.0,105.54 L360.5,105.55 L361.0,105.57 L361.0,105.6 Z" fill="#ef7d84" fill-opacity="0.5" stroke="#555" stroke-opacity="0.55" stroke-width="0.45"/>
<path d="M246.5,104.85 L247.0,104.97 L247.5,105.07 L248.0,105.06 L248.5,104.93 L249.0,104.95 L249.5,105.19 L250.0,104.98 L250.5,105.10 L251.0,105.04 L251.5,105.15 L252.0,105.10 L252.5,105.11 L253.0,105.10 L253.5,105.24 L254.0,105.17 L254.5,105.02 L255.0,105.23 L255.5,105.18 L256.0,104.96 L256.5,105.14 L257.0,105.12 L257.5,105.15 L258.0,104.91 L258.5,105.21 L259.0,104.99 L259.5,104.90 L260.0,105.16 L260.5,105.07 L261.0,104.92 L261.5,104.99 L262.0,105.09 L262.5,105.22 L263.0,105.06 L263.5,105.08 L264.0,104.94 L264.5,105.11 L265.0,105.06 L265.5,104.96 L266.0,104.89 L266.5,105.07 L267.0,105.05 L267.5,104.97 L268.0,104.82 L268.5,105.11 L269.0,104.79 L269.5,104.88 L270.0,105.01 L270.5,104.88 L271.0,105.00 L271.5,105.09 L272.0,104.80 L272.5,104.94 L273.0,104.86 L273.5,104.86 L274.0,104.67 L274.5,104.71 L275.0,104.98 L275.5,104.73 L276.0,104.75 L276.5,104.72 L277.0,104.54 L277.5,104.68 L278.0,104.62 L278.5,104.42 L279.0,104.57 L279.5,104.51 L280.0,104.46 L280.5,104.29 L281.0,104.31 L281.5,104.23 L282.0,104.32 L282.5,104.41 L283.0,104.11 L283.5,104.11 L284.0,103.97 L284.5,103.92 L285.0,104.12 L285.5,104.03 L286.0,104.03 L286.5,103.68 L287.0,103.91 L287.5,103.86 L288.0,103.54 L288.5,103.56 L289.0,103.71 L289.5,103.41 L290.0,103.35 L290.5,103.40 L291.0,103.52 L291.5,103.22 L292.0,103.29 L292.5,103.19 L293.0,102.99 L293.5,103.03 L294.0,102.98 L294.5,103.25 L295.0,103.16 L295.5,103.07 L296.0,103.26 L296.5,102.86 L297.0,103.14 L297.5,103.15 L298.0,103.13 L298.5,103.16 L299.0,102.93 L299.5,103.07 L300.0,103.11 L300.5,103.17 L301.0,103.34 L301.5,103.27 L302.0,103.08 L302.5,103.14 L303.0,103.16 L303.5,103.44 L304.0,103.50 L304.5,103.61 L305.0,103.46 L305.5,103.57 L306.0,103.58 L306.5,103.61 L307.0,103.62 L307.5,103.75 L308.0,103.61 L308.5,103.89 L309.0,103.64 L309.5,103.82 L310.0,104.05 L310.5,103.98 L311.0,103.91 L311.5,103.98 L312.0,103.93 L312.5,104.04 L313.0,104.06 L313.5,103.85 L314.0,104.05 L314.5,103.88 L315.0,103.83 L315.5,103.90 L316.0,103.94 L316.5,103.74 L317.0,103.92 L317.5,103.73 L318.0,104.04 L318.5,103.87 L319.0,103.78 L319.5,104.00 L320.0,103.67 L320.5,103.98 L321.0,103.76 L321.5,103.92 L322.0,103.62 L322.5,103.75 L323.0,103.64 L323.5,103.74 L324.0,103.65 L324.5,103.60 L325.0,103.70 L325.5,103.66 L326.0,103.30 L326.5,103.45 L327.0,102.98 L327.5,103.06 L328.0,102.85 L328.5,102.55 L329.0,101.93 L329.5,101.45 L330.0,101.20 L330.5,100.57 L331.0,100.14 L331.5,99.22 L332.0,98.60 L332.5,98.04 L333.0,97.26 L333.5,96.14 L334.0,95.51 L334.5,94.27 L335.0,93.57 L335.5,92.67 L336.0,91.64 L336.5,90.88 L337.0,89.98 L337.5,89.41 L338.0,88.46 L338.5,88.14 L339.0,87.49 L339.5,87.44 L340.0,86.99 L340.5,86.85 L341.0,87.15 L341.5,87.50 L342.0,87.69 L342.5,88.03 L343.0,88.76 L343.5,89.28 L344.0,90.21 L344.5,90.87 L345.0,91.64 L345.5,92.66 L346.0,93.50 L346.5,94.66 L347.0,95.31 L347.5,96.51 L348.0,97.08 L348.5,97.90 L349.0,98.72 L349.5,99.64 L350.0,100.43 L350.5,101.04 L351.0,101.45 L351.5,102.07 L352.0,102.36 L352.5,103.10 L353.0,103.29 L353.5,103.44 L354.0,103.81 L354.5,104.06 L355.0,104.42 L355.5,104.56 L356.0,104.64 L356.5,104.49 L357.0,104.60 L357.5,104.91 L358.0,104.69 L358.5,105.09 L359.0,104.90 L359.5,104.78 L360.0,105.05 L360.5,104.83 L361.0,104.95 L361.5,105.20 L362.0,105.10 L362.5,105.06 L363.0,105.14 L363.5,104.95 L364.0,105.17 L364.5,104.93 L365.0,105.13 L365.5,105.22 L366.0,105.03 L366.5,105.21 L367.0,105.03 L367.5,104.93 L368.0,105.01 L368.5,105.07 L369.0,105.24 L369.5,105.04 L370.0,105.21 L370.5,104.99 L371.0,105.20 L371.5,105.02 L372.0,105.11 L372.5,105.10 L373.0,104.98 L373.5,105.18 L374.0,105.18 L374.5,104.87 L375.0,105.12 L375.5,104.91" fill="none" stroke="#b4b4b4" stroke-width="1.05" stroke-linejoin="round" stroke-dasharray="0.9,0.35"/>
<path d="M392.3,105.6 L392.3,105.59 L392.8,105.59 L393.3,105.59 L393.8,105.58 L394.3,105.58 L394.8,105.57 L395.3,105.56 L395.8,105.55 L396.3,105.54 L396.8,105.52 L397.3,105.51 L397.8,105.48 L398.3,105.45 L398.8,105.42 L399.3,105.38 L399.8,105.33 L400.3,105.27 L400.8,105.21 L401.3,105.14 L401.8,105.05 L402.3,104.95 L402.8,104.85 L403.3,104.73 L403.8,104.60 L404.3,104.46 L404.8,104.30 L405.3,104.14 L405.8,103.97 L406.3,103.79 L406.8,103.60 L407.3,103.41 L407.8,103.22 L408.3,103.03 L408.8,102.84 L409.3,102.66 L409.8,102.49 L410.3,102.33 L410.8,102.19 L411.3,102.07 L411.8,101.97 L412.3,101.89 L412.8,101.83 L413.3,101.80 L413.8,101.80 L414.3,101.83 L414.8,101.88 L415.3,101.95 L415.8,102.05 L416.3,102.17 L416.8,102.30 L417.3,102.46 L417.8,102.63 L418.3,102.80 L418.8,102.99 L419.3,103.18 L419.8,103.37 L420.3,103.56 L420.8,103.75 L421.3,103.93 L421.8,104.11 L422.3,104.27 L422.8,104.43 L423.3,104.57 L423.8,104.70 L424.3,104.83 L424.8,104.93 L425.3,105.03 L425.8,105.12 L426.3,105.20 L426.8,105.26 L427.3,105.32 L427.8,105.37 L428.3,105.41 L428.8,105.45 L429.3,105.48 L429.8,105.50 L430.3,105.52 L430.8,105.54 L431.3,105.55 L431.8,105.56 L432.3,105.57 L432.8,105.58 L433.3,105.58 L433.8,105.59 L434.3,105.59 L434.8,105.59 L434.8,105.6 Z" fill="#3fd0d3" fill-opacity="0.48" stroke="#555" stroke-opacity="0.55" stroke-width="0.45"/>
<path d="M416.8,105.6 L416.8,105.60 L417.3,105.60 L417.8,105.59 L418.3,105.59 L418.8,105.59 L419.3,105.58 L419.8,105.58 L420.3,105.57 L420.8,105.55 L421.3,105.54 L421.8,105.51 L422.3,105.49 L422.8,105.45 L423.3,105.41 L423.8,105.36 L424.3,105.30 L424.8,105.24 L425.3,105.17 L425.8,105.08 L426.3,105.00 L426.8,104.91 L427.3,104.82 L427.8,104.73 L428.3,104.64 L428.8,104.57 L429.3,104.50 L429.8,104.45 L430.3,104.42 L430.8,104.40 L431.3,104.40 L431.8,104.42 L432.3,104.46 L432.8,104.52 L433.3,104.58 L433.8,104.66 L434.3,104.75 L434.8,104.84 L435.3,104.93 L435.8,105.02 L436.3,105.10 L436.8,105.18 L437.3,105.25 L437.8,105.32 L438.3,105.37 L438.8,105.42 L439.3,105.46 L439.8,105.49 L440.3,105.52 L440.8,105.54 L441.3,105.56 L441.8,105.57 L442.3,105.58 L442.8,105.58 L443.3,105.59 L443.8,105.59 L444.3,105.60 L444.8,105.60 L445.3,105.60 L445.3,105.6 Z" fill="#9bd05a" fill-opacity="0.6" stroke="#555" stroke-opacity="0.55" stroke-width="0.45"/>
<path d="M427.8,105.6 L427.8,105.58 L428.3,105.58 L428.8,105.57 L429.3,105.55 L429.8,105.53 L430.3,105.50 L430.8,105.46 L431.3,105.40 L431.8,105.33 L432.3,105.24 L432.8,105.12 L433.3,104.97 L433.8,104.79 L434.3,104.57 L434.8,104.30 L435.3,103.99 L435.8,103.63 L436.3,103.22 L436.8,102.77 L437.3,102.28 L437.8,101.75 L438.3,101.20 L438.8,100.63 L439.3,100.08 L439.8,99.53 L440.3,99.03 L440.8,98.58 L441.3,98.20 L441.8,97.91 L442.3,97.71 L442.8,97.61 L443.3,97.62 L443.8,97.74 L444.3,97.96 L444.8,98.27 L445.3,98.67 L445.8,99.13 L446.3,99.64 L446.8,100.19 L447.3,100.75 L447.8,101.31 L448.3,101.86 L448.8,102.38 L449.3,102.86 L449.8,103.31 L450.3,103.71 L450.8,104.06 L451.3,104.36 L451.8,104.61 L452.3,104.83 L452.8,105.00 L453.3,105.15 L453.8,105.26 L454.3,105.35 L454.8,105.41 L455.3,105.47 L455.8,105.50 L456.3,105.53 L456.8,105.55 L457.3,105.57 L457.8,105.58 L458.3,105.59 L458.3,105.6 Z" fill="#f2ea78" fill-opacity="0.55" stroke="#555" stroke-opacity="0.55" stroke-width="0.45"/>
<path d="M432.8,105.6 L432.8,105.58 L433.3,105.57 L433.8,105.56 L434.3,105.54 L434.8,105.52 L435.3,105.49 L435.8,105.45 L436.3,105.40 L436.8,105.33 L437.3,105.25 L437.8,105.15 L438.3,105.02 L438.8,104.86 L439.3,104.67 L439.8,104.45 L440.3,104.18 L440.8,103.86 L441.3,103.50 L441.8,103.09 L442.3,102.63 L442.8,102.12 L443.3,101.56 L443.8,100.95 L444.3,100.32 L444.8,99.65 L445.3,98.96 L445.8,98.27 L446.3,97.59 L446.8,96.93 L447.3,96.31 L447.8,95.75 L448.3,95.25 L448.8,94.84 L449.3,94.52 L449.8,94.31 L450.3,94.21 L450.8,94.22 L451.3,94.34 L451.8,94.58 L452.3,94.92 L452.8,95.34 L453.3,95.85 L453.8,96.43 L454.3,97.06 L454.8,97.72 L455.3,98.41 L455.8,99.10 L456.3,99.78 L456.8,100.45 L457.3,101.08 L457.8,101.67 L458.3,102.22 L458.8,102.73 L459.3,103.18 L459.8,103.58 L460.3,103.93 L460.8,104.23 L461.3,104.49 L461.8,104.71 L462.3,104.90 L462.8,105.05 L463.3,105.17 L463.8,105.27 L464.3,105.35 L464.8,105.41 L465.3,105.46 L465.8,105.49 L466.3,105.52 L466.8,105.54 L467.3,105.56 L467.8,105.57 L468.3,105.58 L468.3,105.6 Z" fill="#ef7d84" fill-opacity="0.5" stroke="#555" stroke-opacity="0.55" stroke-width="0.45"/>
<path d="M380.8,104.90 L381.3,105.06 L381.8,105.19 L382.3,105.21 L382.8,104.90 L383.3,105.20 L383.8,105.05 L384.3,105.04 L384.8,105.20 L385.3,105.06 L385.8,105.18 L386.3,105.04 L386.8,105.05 L387.3,105.10 L387.8,105.17 L388.3,105.09 L388.8,105.17 L389.3,105.20 L389.8,105.15 L390.3,104.90 L390.8,105.05 L391.3,104.89 L391.8,105.24 L392.3,104.87 L392.8,105.05 L393.3,104.92 L393.8,105.01 L394.3,104.95 L394.8,105.13 L395.3,104.91 L395.8,105.14 L396.3,105.08 L396.8,105.16 L397.3,105.00 L397.8,104.92 L398.3,104.99 L398.8,104.71 L399.3,104.99 L399.8,104.75 L400.3,104.83 L400.8,104.62 L401.3,104.47 L401.8,104.42 L402.3,104.58 L402.8,104.40 L403.3,104.14 L403.8,103.86 L404.3,104.09 L404.8,103.71 L405.3,103.51 L405.8,103.29 L406.3,103.30 L406.8,102.93 L407.3,102.88 L407.8,102.50 L408.3,102.67 L408.8,102.11 L409.3,102.15 L409.8,101.98 L410.3,101.95 L410.8,101.74 L411.3,101.43 L411.8,101.35 L412.3,101.48 L412.8,101.35 L413.3,101.40 L413.8,101.37 L414.3,101.39 L414.8,101.39 L415.3,101.21 L415.8,101.30 L416.3,101.50 L416.8,101.76 L417.3,101.91 L417.8,101.96 L418.3,102.08 L418.8,102.33 L419.3,102.56 L419.8,102.92 L420.3,102.93 L420.8,103.01 L421.3,103.20 L421.8,103.63 L422.3,103.52 L422.8,103.78 L423.3,103.96 L423.8,103.71 L424.3,103.89 L424.8,103.89 L425.3,104.15 L425.8,103.87 L426.3,103.79 L426.8,103.76 L427.3,103.76 L427.8,103.65 L428.3,103.57 L428.8,103.55 L429.3,103.50 L429.8,103.22 L430.3,103.11 L430.8,102.94 L431.3,103.02 L431.8,102.59 L432.3,102.58 L432.8,102.20 L433.3,102.29 L433.8,101.67 L434.3,101.41 L434.8,101.25 L435.3,100.59 L435.8,100.34 L436.3,99.81 L436.8,99.10 L437.3,98.54 L437.8,97.74 L438.3,96.84 L438.8,96.18 L439.3,95.40 L439.8,94.77 L440.3,93.87 L440.8,93.16 L441.3,92.54 L441.8,91.83 L442.3,91.33 L442.8,91.03 L443.3,90.77 L443.8,90.23 L444.3,89.91 L444.8,89.94 L445.3,89.73 L445.8,89.58 L446.3,89.61 L446.8,89.97 L447.3,89.88 L447.8,90.21 L448.3,90.36 L448.8,90.31 L449.3,90.74 L449.8,90.99 L450.3,91.42 L450.8,91.90 L451.3,92.43 L451.8,92.92 L452.3,93.31 L452.8,94.04 L453.3,94.85 L453.8,95.64 L454.3,96.30 L454.8,96.87 L455.3,97.72 L455.8,98.37 L456.3,99.03 L456.8,99.99 L457.3,100.42 L457.8,101.28 L458.3,101.53 L458.8,102.29 L459.3,102.71 L459.8,102.84 L460.3,103.43 L460.8,103.79 L461.3,103.79 L461.8,104.12 L462.3,104.19 L462.8,104.54 L463.3,104.62 L463.8,104.54 L464.3,104.79 L464.8,104.66 L465.3,105.03 L465.8,104.81 L466.3,105.11 L466.8,104.98 L467.3,105.21 L467.8,105.15 L468.3,104.85 L468.8,105.05 L469.3,104.92 L469.8,105.14 L470.3,105.10 L470.8,105.21 L471.3,105.03 L471.8,104.90 L472.3,105.04 L472.8,105.10 L473.3,104.88 L473.8,104.89 L474.3,104.98 L474.8,105.22 L475.3,105.00 L475.8,105.07 L476.3,104.87 L476.8,105.11 L477.3,104.99 L477.8,105.00 L478.3,105.10 L478.8,105.04 L479.3,104.98 L479.8,104.89 L480.3,105.05 L480.8,105.10 L481.3,104.86 L481.8,105.23 L482.3,104.92 L482.8,104.98 L483.3,105.03 L483.8,105.07 L484.3,104.95" fill="none" stroke="#b4b4b4" stroke-width="1.05" stroke-linejoin="round" stroke-dasharray="0.9,0.35"/>
<path d="M30.5,105.6 L30.5,4 L484.5,4 L484.5,105.6" fill="none" stroke="#8a8a8a" stroke-width="1.0"/>
<line x1="30.5" y1="44.3" x2="484.5" y2="44.3" stroke="#555" stroke-width="1.0"/>
<line x1="30.5" y1="64.8" x2="134.0" y2="64.8" stroke="#6a6a6a" stroke-width="0.8"/>
<line x1="138.5" y1="64.8" x2="242.5" y2="64.8" stroke="#6a6a6a" stroke-width="0.8"/>
<line x1="246.5" y1="64.8" x2="375.5" y2="64.8" stroke="#6a6a6a" stroke-width="0.8"/>
<line x1="380.8" y1="64.8" x2="484.5" y2="64.8" stroke="#6a6a6a" stroke-width="0.8"/>
<line x1="30.5" y1="85.2" x2="134.0" y2="85.2" stroke="#6a6a6a" stroke-width="0.8"/>
<line x1="138.5" y1="85.2" x2="242.5" y2="85.2" stroke="#6a6a6a" stroke-width="0.8"/>
<line x1="246.5" y1="85.2" x2="375.5" y2="85.2" stroke="#6a6a6a" stroke-width="0.8"/>
<line x1="380.8" y1="85.2" x2="484.5" y2="85.2" stroke="#6a6a6a" stroke-width="0.8"/>
<line x1="30.5" y1="105.6" x2="134.0" y2="105.6" stroke="#6a6a6a" stroke-width="0.8"/>
<line x1="138.5" y1="105.6" x2="242.5" y2="105.6" stroke="#6a6a6a" stroke-width="0.8"/>
<line x1="246.5" y1="105.6" x2="375.5" y2="105.6" stroke="#6a6a6a" stroke-width="0.8"/>
<line x1="380.8" y1="105.6" x2="484.5" y2="105.6" stroke="#6a6a6a" stroke-width="0.8"/>
<line x1="134.0" y1="106.39999999999999" x2="135.6" y2="104.8" stroke="#666" stroke-width="0.6"/>
<line x1="136.79999999999998" y1="106.39999999999999" x2="138.39999999999998" y2="104.8" stroke="#666" stroke-width="0.6"/>
<line x1="242.3" y1="106.39999999999999" x2="243.9" y2="104.8" stroke="#666" stroke-width="0.6"/>
<line x1="245.1" y1="106.39999999999999" x2="246.7" y2="104.8" stroke="#666" stroke-width="0.6"/>
<line x1="376.0" y1="106.39999999999999" x2="377.59999999999997" y2="104.8" stroke="#666" stroke-width="0.6"/>
<line x1="378.8" y1="106.39999999999999" x2="380.4" y2="104.8" stroke="#666" stroke-width="0.6"/>
<line x1="48.5" y1="105.6" x2="48.5" y2="107.19999999999999" stroke="#666" stroke-width="0.6"/>
<line x1="82.7" y1="105.6" x2="82.7" y2="107.19999999999999" stroke="#666" stroke-width="0.6"/>
<line x1="117.3" y1="105.6" x2="117.3" y2="107.19999999999999" stroke="#666" stroke-width="0.6"/>
<line x1="149.2" y1="105.6" x2="149.2" y2="107.19999999999999" stroke="#666" stroke-width="0.6"/>
<line x1="182.8" y1="105.6" x2="182.8" y2="107.19999999999999" stroke="#666" stroke-width="0.6"/>
<line x1="216.4" y1="105.6" x2="216.4" y2="107.19999999999999" stroke="#666" stroke-width="0.6"/>
<line x1="272.8" y1="105.6" x2="272.8" y2="107.19999999999999" stroke="#666" stroke-width="0.6"/>
<line x1="307.2" y1="105.6" x2="307.2" y2="107.19999999999999" stroke="#666" stroke-width="0.6"/>
<line x1="341.1" y1="105.6" x2="341.1" y2="107.19999999999999" stroke="#666" stroke-width="0.6"/>
<line x1="389.6" y1="105.6" x2="389.6" y2="107.19999999999999" stroke="#666" stroke-width="0.6"/>
<line x1="424.0" y1="105.6" x2="424.0" y2="107.19999999999999" stroke="#666" stroke-width="0.6"/>
<line x1="457.9" y1="105.6" x2="457.9" y2="107.19999999999999" stroke="#666" stroke-width="0.6"/>
<line x1="65.6" y1="105.6" x2="65.6" y2="106.6" stroke="#666" stroke-width="0.5"/>
<line x1="100.0" y1="105.6" x2="100.0" y2="106.6" stroke="#666" stroke-width="0.5"/>
<line x1="166.0" y1="105.6" x2="166.0" y2="106.6" stroke="#666" stroke-width="0.5"/>
<line x1="199.6" y1="105.6" x2="199.6" y2="106.6" stroke="#666" stroke-width="0.5"/>
<line x1="290.0" y1="105.6" x2="290.0" y2="106.6" stroke="#666" stroke-width="0.5"/>
<line x1="324.1" y1="105.6" x2="324.1" y2="106.6" stroke="#666" stroke-width="0.5"/>
<line x1="358.0" y1="105.6" x2="358.0" y2="106.6" stroke="#666" stroke-width="0.5"/>
<line x1="406.8" y1="105.6" x2="406.8" y2="106.6" stroke="#666" stroke-width="0.5"/>
<line x1="441.0" y1="105.6" x2="441.0" y2="106.6" stroke="#666" stroke-width="0.5"/>
<line x1="474.8" y1="105.6" x2="474.8" y2="106.6" stroke="#666" stroke-width="0.5"/>
<text x="48.5" y="115.3" font-size="7.3" fill="#1a1a1a" text-anchor="middle" >1076</text>
<text x="82.7" y="115.3" font-size="7.3" fill="#1a1a1a" text-anchor="middle" >1072</text>
<text x="117.3" y="115.3" font-size="7.3" fill="#1a1a1a" text-anchor="middle" >1068</text>
<text x="149.2" y="115.3" font-size="7.3" fill="#1a1a1a" text-anchor="middle" >692</text>
<text x="182.8" y="115.3" font-size="7.3" fill="#1a1a1a" text-anchor="middle" >688</text>
<text x="216.4" y="115.3" font-size="7.3" fill="#1a1a1a" text-anchor="middle" >684</text>
<text x="272.8" y="115.3" font-size="7.3" fill="#1a1a1a" text-anchor="middle" >540</text>
<text x="307.2" y="115.3" font-size="7.3" fill="#1a1a1a" text-anchor="middle" >536</text>
<text x="341.1" y="115.3" font-size="7.3" fill="#1a1a1a" text-anchor="middle" >532</text>
<text x="389.6" y="115.3" font-size="7.3" fill="#1a1a1a" text-anchor="middle" >292</text>
<text x="424.0" y="115.3" font-size="7.3" fill="#1a1a1a" text-anchor="middle" >288</text>
<text x="457.9" y="115.3" font-size="7.3" fill="#1a1a1a" text-anchor="middle" >284</text>
<text x="10.0" y="7.9" font-size="13.3" fill="#000" font-weight="bold" >a</text>
<text x="36.7" y="14.7" font-size="6.4" fill="#111" >Na 1<tspan font-style="italic">s</tspan></text>
<text x="144.7" y="14.4" font-size="6.4" fill="#111" >F 1<tspan font-style="italic">s</tspan></text>
<text x="251.6" y="13.9" font-size="6.4" fill="#111" >O 1<tspan font-style="italic">s</tspan></text>
<text x="380.4" y="14.7" font-size="6.4" fill="#111" >C 1<tspan font-style="italic">s</tspan></text>
<text x="52" y="34.8" font-size="6.4" fill="#111" >Na-F</text>
<text x="88.6" y="28.9" font-size="6.4" fill="#111" >Na-O</text>
<text x="162.7" y="31.2" font-size="6.4" fill="#111" >P-F</text>
<text x="212.2" y="33.4" font-size="6.4" fill="#111" >Na-F</text>
<text x="260.1" y="38.9" font-size="6.4" fill="#111" >Na Auger</text>
<text x="295" y="37.2" font-size="6.4" fill="#111" >RO-COONa</text>
<text x="340.5" y="34.7" font-size="6.4" fill="#111" >C-O</text>
<text x="391.3" y="41.3" font-size="6.4" fill="#111" >C=O</text>
<text x="411.9" y="39.3" font-size="6.4" fill="#111" >O-C=O</text>
<text x="428.4" y="31.2" font-size="6.4" fill="#111" >C-O-C</text>
<text x="461.1" y="34.6" font-size="6.4" fill="#111" >C-C</text>
<text x="37.8" y="41.6" font-size="6.6" fill="#5ab4f0" >7.5%</text>
<text x="43.8" y="101.6" font-size="6.6" fill="#5ab4f0" >8.0%</text>
<text x="488.4" y="47.7" font-size="7.3" fill="#1a1a1a" >30</text>
<text x="488.4" y="68.6" font-size="7.3" fill="#1a1a1a" >20</text>
<text x="488.4" y="88.9" font-size="7.3" fill="#1a1a1a" >10</text>
<text x="488.4" y="109.0" font-size="7.3" fill="#1a1a1a" >0</text>
<text x="257.5" y="126.0" font-size="7.4" fill="#1a1a1a" text-anchor="middle" >Binding energy (eV)</text>
<text transform="translate(509.8,74.9) rotate(-90)" font-size="7.4" fill="#1a1a1a" text-anchor="middle">Etching depth (nm)</text>
<text transform="translate(20.5,64.2) rotate(-90)" font-size="7.3" fill="#1a1a1a" text-anchor="middle">Intensity (arb. units)</text>
<path d="M53.5,178.9 L53.5,178.88 L54.0,178.88 L54.5,178.87 L55.0,178.86 L55.5,178.85 L56.0,178.84 L56.5,178.82 L57.0,178.80 L57.5,178.78 L58.0,178.75 L58.5,178.72 L59.0,178.67 L59.5,178.63 L60.0,178.57 L60.5,178.50 L61.0,178.43 L61.5,178.34 L62.0,178.23 L62.5,178.12 L63.0,177.98 L63.5,177.83 L64.0,177.66 L64.5,177.47 L65.0,177.26 L65.5,177.03 L66.0,176.78 L66.5,176.50 L67.0,176.20 L67.5,175.88 L68.0,175.54 L68.5,175.19 L69.0,174.81 L69.5,174.42 L70.0,174.02 L70.5,173.60 L71.0,173.18 L71.5,172.76 L72.0,172.35 L72.5,171.94 L73.0,171.54 L73.5,171.16 L74.0,170.80 L74.5,170.46 L75.0,170.16 L75.5,169.90 L76.0,169.67 L76.5,169.48 L77.0,169.34 L77.5,169.25 L78.0,169.20 L78.5,169.21 L79.0,169.26 L79.5,169.37 L80.0,169.52 L80.5,169.71 L81.0,169.95 L81.5,170.22 L82.0,170.53 L82.5,170.87 L83.0,171.23 L83.5,171.62 L84.0,172.02 L84.5,172.43 L85.0,172.85 L85.5,173.27 L86.0,173.69 L86.5,174.10 L87.0,174.50 L87.5,174.89 L88.0,175.26 L88.5,175.61 L89.0,175.95 L89.5,176.26 L90.0,176.56 L90.5,176.83 L91.0,177.08 L91.5,177.30 L92.0,177.51 L92.5,177.70 L93.0,177.86 L93.5,178.01 L94.0,178.14 L94.5,178.26 L95.0,178.36 L95.5,178.44 L96.0,178.52 L96.5,178.58 L97.0,178.64 L97.5,178.68 L98.0,178.72 L98.5,178.76 L99.0,178.78 L99.5,178.81 L100.0,178.82 L100.5,178.84 L101.0,178.85 L101.5,178.86 L102.0,178.87 L102.5,178.88 L103.0,178.88 L103.0,178.9 Z" fill="#3fd0d3" fill-opacity="0.48" stroke="#555" stroke-opacity="0.55" stroke-width="0.45"/>
<path d="M68.0,178.9 L68.0,178.86 L68.5,178.84 L69.0,178.82 L69.5,178.79 L70.0,178.76 L70.5,178.72 L71.0,178.67 L71.5,178.60 L72.0,178.52 L72.5,178.41 L73.0,178.29 L73.5,178.13 L74.0,177.95 L74.5,177.72 L75.0,177.46 L75.5,177.14 L76.0,176.78 L76.5,176.35 L77.0,175.86 L77.5,175.30 L78.0,174.67 L78.5,173.97 L79.0,173.18 L79.5,172.31 L80.0,171.37 L80.5,170.35 L81.0,169.25 L81.5,168.10 L82.0,166.89 L82.5,165.63 L83.0,164.35 L83.5,163.05 L84.0,161.76 L84.5,160.49 L85.0,159.26 L85.5,158.09 L86.0,157.01 L86.5,156.03 L87.0,155.18 L87.5,154.46 L88.0,153.89 L88.5,153.49 L89.0,153.26 L89.5,153.20 L90.0,153.33 L90.5,153.63 L91.0,154.10 L91.5,154.73 L92.0,155.50 L92.5,156.41 L93.0,157.43 L93.5,158.55 L94.0,159.74 L94.5,160.99 L95.0,162.27 L95.5,163.57 L96.0,164.87 L96.5,166.14 L97.0,167.38 L97.5,168.57 L98.0,169.70 L98.5,170.76 L99.0,171.75 L99.5,172.67 L100.0,173.50 L100.5,174.26 L101.0,174.93 L101.5,175.54 L102.0,176.07 L102.5,176.53 L103.0,176.93 L103.5,177.28 L104.0,177.57 L104.5,177.82 L105.0,178.02 L105.5,178.20 L106.0,178.34 L106.5,178.46 L107.0,178.55 L107.5,178.63 L108.0,178.69 L108.5,178.74 L109.0,178.78 L109.5,178.81 L110.0,178.83 L110.5,178.85 L111.0,178.86 L111.0,178.9 Z" fill="#ef7d84" fill-opacity="0.5" stroke="#555" stroke-opacity="0.55" stroke-width="0.45"/>
<path d="M30.5,178.19 L31.0,178.26 L31.5,178.25 L32.0,178.54 L32.5,178.42 L33.0,178.50 L33.5,178.17 L34.0,178.19 L34.5,178.49 L35.0,178.31 L35.5,178.32 L36.0,178.53 L36.5,178.39 L37.0,178.25 L37.5,178.29 L38.0,178.44 L38.5,178.25 L39.0,178.43 L39.5,178.33 L40.0,178.38 L40.5,178.16 L41.0,178.29 L41.5,178.23 L42.0,178.28 L42.5,178.40 L43.0,178.16 L43.5,178.27 L44.0,178.27 L44.5,178.44 L45.0,178.49 L45.5,178.32 L46.0,178.22 L46.5,178.23 L47.0,178.41 L47.5,178.49 L48.0,178.34 L48.5,178.20 L49.0,178.48 L49.5,178.25 L50.0,178.48 L50.5,178.42 L51.0,178.52 L51.5,178.42 L52.0,178.39 L52.5,178.15 L53.0,178.15 L53.5,178.46 L54.0,178.40 L54.5,178.14 L55.0,178.43 L55.5,178.37 L56.0,178.31 L56.5,178.43 L57.0,178.35 L57.5,178.27 L58.0,178.24 L58.5,177.98 L59.0,178.22 L59.5,178.19 L60.0,177.85 L60.5,177.97 L61.0,177.73 L61.5,177.72 L62.0,177.56 L62.5,177.62 L63.0,177.54 L63.5,177.14 L64.0,177.07 L64.5,176.84 L65.0,176.56 L65.5,176.28 L66.0,176.19 L66.5,175.85 L67.0,175.29 L67.5,175.07 L68.0,174.77 L68.5,174.21 L69.0,173.89 L69.5,173.20 L70.0,172.97 L70.5,172.11 L71.0,171.63 L71.5,171.11 L72.0,170.24 L72.5,169.85 L73.0,169.18 L73.5,168.55 L74.0,167.63 L74.5,166.80 L75.0,166.07 L75.5,165.40 L76.0,164.45 L76.5,163.91 L77.0,163.00 L77.5,162.03 L78.0,161.04 L78.5,160.30 L79.0,159.38 L79.5,158.45 L80.0,157.69 L80.5,156.55 L81.0,155.71 L81.5,154.95 L82.0,154.01 L82.5,152.94 L83.0,152.25 L83.5,151.47 L84.0,150.39 L84.5,149.79 L85.0,149.12 L85.5,148.47 L86.0,147.88 L86.5,147.81 L87.0,147.46 L87.5,147.44 L88.0,147.31 L88.5,147.43 L89.0,147.59 L89.5,148.12 L90.0,148.76 L90.5,149.58 L91.0,150.40 L91.5,151.53 L92.0,152.43 L92.5,153.68 L93.0,154.97 L93.5,156.61 L94.0,157.82 L94.5,159.24 L95.0,160.80 L95.5,162.09 L96.0,163.51 L96.5,164.96 L97.0,166.26 L97.5,167.60 L98.0,168.71 L98.5,170.13 L99.0,170.93 L99.5,171.89 L100.0,172.79 L100.5,173.70 L101.0,174.48 L101.5,174.89 L102.0,175.34 L102.5,176.04 L103.0,176.47 L103.5,176.82 L104.0,177.17 L104.5,177.18 L105.0,177.28 L105.5,177.52 L106.0,177.84 L106.5,177.82 L107.0,178.17 L107.5,177.94 L108.0,178.21 L108.5,178.39 L109.0,178.17 L109.5,178.40 L110.0,178.37 L110.5,178.47 L111.0,178.33 L111.5,178.30 L112.0,178.21 L112.5,178.52 L113.0,178.21 L113.5,178.50 L114.0,178.45 L114.5,178.29 L115.0,178.41 L115.5,178.42 L116.0,178.32 L116.5,178.46 L117.0,178.23 L117.5,178.47 L118.0,178.21 L118.5,178.23 L119.0,178.34 L119.5,178.54 L120.0,178.24 L120.5,178.54 L121.0,178.35 L121.5,178.38 L122.0,178.52 L122.5,178.30 L123.0,178.26 L123.5,178.32 L124.0,178.39 L124.5,178.35 L125.0,178.31 L125.5,178.46 L126.0,178.20 L126.5,178.15 L127.0,178.23 L127.5,178.17 L128.0,178.42 L128.5,178.16 L129.0,178.52 L129.5,178.36 L130.0,178.50 L130.5,178.37 L131.0,178.28 L131.5,178.27 L132.0,178.37 L132.5,178.41 L133.0,178.47 L133.5,178.39 L134.0,178.44" fill="none" stroke="#b4b4b4" stroke-width="1.05" stroke-linejoin="round" stroke-dasharray="0.9,0.35"/>
<path d="M162.0,178.9 L162.0,178.90 L162.5,178.90 L163.0,178.90 L163.5,178.89 L164.0,178.89 L164.5,178.89 L165.0,178.89 L165.5,178.89 L166.0,178.88 L166.5,178.88 L167.0,178.87 L167.5,178.87 L168.0,178.86 L168.5,178.85 L169.0,178.85 L169.5,178.83 L170.0,178.82 L170.5,178.81 L171.0,178.79 L171.5,178.77 L172.0,178.75 L172.5,178.72 L173.0,178.70 L173.5,178.67 L174.0,178.63 L174.5,178.60 L175.0,178.55 L175.5,178.51 L176.0,178.46 L176.5,178.41 L177.0,178.36 L177.5,178.30 L178.0,178.24 L178.5,178.18 L179.0,178.12 L179.5,178.06 L180.0,177.99 L180.5,177.93 L181.0,177.86 L181.5,177.80 L182.0,177.74 L182.5,177.68 L183.0,177.63 L183.5,177.58 L184.0,177.53 L184.5,177.49 L185.0,177.46 L185.5,177.43 L186.0,177.42 L186.5,177.40 L187.0,177.40 L187.5,177.40 L188.0,177.42 L188.5,177.43 L189.0,177.46 L189.5,177.49 L190.0,177.53 L190.5,177.58 L191.0,177.63 L191.5,177.68 L192.0,177.74 L192.5,177.80 L193.0,177.86 L193.5,177.93 L194.0,177.99 L194.5,178.06 L195.0,178.12 L195.5,178.18 L196.0,178.24 L196.5,178.30 L197.0,178.36 L197.5,178.41 L198.0,178.46 L198.5,178.51 L199.0,178.55 L199.5,178.60 L200.0,178.63 L200.5,178.67 L201.0,178.70 L201.5,178.72 L202.0,178.75 L202.5,178.77 L203.0,178.79 L203.5,178.81 L204.0,178.82 L204.5,178.83 L205.0,178.85 L205.5,178.85 L206.0,178.86 L206.5,178.87 L207.0,178.87 L207.5,178.88 L208.0,178.88 L208.5,178.89 L209.0,178.89 L209.5,178.89 L210.0,178.89 L210.5,178.89 L211.0,178.90 L211.5,178.90 L212.0,178.90 L212.0,178.9 Z" fill="#ef7d84" fill-opacity="0.5" stroke="#555" stroke-opacity="0.55" stroke-width="0.45"/>
<path d="M190.5,178.9 L190.5,178.86 L191.0,178.84 L191.5,178.83 L192.0,178.80 L192.5,178.78 L193.0,178.74 L193.5,178.70 L194.0,178.65 L194.5,178.58 L195.0,178.50 L195.5,178.40 L196.0,178.29 L196.5,178.15 L197.0,177.98 L197.5,177.78 L198.0,177.55 L198.5,177.28 L199.0,176.97 L199.5,176.62 L200.0,176.21 L200.5,175.75 L201.0,175.23 L201.5,174.66 L202.0,174.02 L202.5,173.32 L203.0,172.55 L203.5,171.72 L204.0,170.84 L204.5,169.89 L205.0,168.90 L205.5,167.86 L206.0,166.78 L206.5,165.68 L207.0,164.57 L207.5,163.45 L208.0,162.34 L208.5,161.26 L209.0,160.22 L209.5,159.23 L210.0,158.31 L210.5,157.48 L211.0,156.75 L211.5,156.12 L212.0,155.62 L212.5,155.24 L213.0,155.00 L213.5,154.90 L214.0,154.95 L214.5,155.13 L215.0,155.45 L215.5,155.90 L216.0,156.48 L216.5,157.17 L217.0,157.97 L217.5,158.85 L218.0,159.81 L218.5,160.84 L219.0,161.90 L219.5,163.00 L220.0,164.12 L220.5,165.24 L221.0,166.35 L221.5,167.43 L222.0,168.49 L222.5,169.50 L223.0,170.47 L223.5,171.38 L224.0,172.23 L224.5,173.02 L225.0,173.74 L225.5,174.41 L226.0,175.01 L226.5,175.55 L227.0,176.03 L227.5,176.46 L228.0,176.84 L228.5,177.17 L229.0,177.45 L229.5,177.70 L230.0,177.90 L230.5,178.08 L231.0,178.23 L231.5,178.36 L232.0,178.46 L232.5,178.55 L233.0,178.62 L233.5,178.68 L234.0,178.73 L234.5,178.76 L235.0,178.79 L235.5,178.82 L236.0,178.84 L236.5,178.85 L236.5,178.9 Z" fill="#3fd0d3" fill-opacity="0.48" stroke="#555" stroke-opacity="0.55" stroke-width="0.45"/>
<path d="M138.5,178.47 L139.0,178.26 L139.5,178.34 L140.0,178.37 L140.5,178.47 L141.0,178.27 L141.5,178.47 L142.0,178.44 L142.5,178.33 L143.0,178.27 L143.5,178.16 L144.0,178.25 L144.5,178.17 L145.0,178.18 L145.5,178.26 L146.0,178.26 L146.5,178.52 L147.0,178.47 L147.5,178.54 L148.0,178.20 L148.5,178.26 L149.0,178.30 L149.5,178.44 L150.0,178.41 L150.5,178.48 L151.0,178.30 L151.5,178.15 L152.0,178.43 L152.5,178.53 L153.0,178.48 L153.5,178.41 L154.0,178.19 L154.5,178.23 L155.0,178.37 L155.5,178.51 L156.0,178.51 L156.5,178.49 L157.0,178.24 L157.5,178.36 L158.0,178.15 L158.5,178.18 L159.0,178.23 L159.5,178.36 L160.0,178.22 L160.5,178.50 L161.0,178.50 L161.5,178.32 L162.0,178.34 L162.5,178.46 L163.0,178.45 L163.5,178.54 L164.0,178.18 L164.5,178.26 L165.0,178.16 L165.5,178.14 L166.0,178.36 L166.5,178.24 L167.0,178.37 L167.5,178.19 L168.0,178.18 L168.5,178.45 L169.0,178.49 L169.5,178.40 L170.0,178.24 L170.5,178.31 L171.0,178.44 L171.5,178.09 L172.0,178.08 L172.5,178.19 L173.0,178.33 L173.5,177.96 L174.0,178.07 L174.5,178.22 L175.0,178.08 L175.5,177.91 L176.0,177.76 L176.5,177.87 L177.0,177.75 L177.5,177.87 L178.0,177.80 L178.5,177.47 L179.0,177.61 L179.5,177.66 L180.0,177.40 L180.5,177.52 L181.0,177.42 L181.5,177.26 L182.0,177.14 L182.5,177.06 L183.0,176.97 L183.5,177.02 L184.0,177.12 L184.5,176.81 L185.0,177.03 L185.5,176.83 L186.0,176.82 L186.5,176.67 L187.0,176.63 L187.5,176.79 L188.0,176.60 L188.5,176.55 L189.0,176.62 L189.5,176.72 L190.0,176.38 L190.5,176.47 L191.0,176.64 L191.5,176.51 L192.0,176.15 L192.5,176.38 L193.0,176.22 L193.5,175.96 L194.0,175.82 L194.5,175.76 L195.0,175.55 L195.5,175.65 L196.0,175.42 L196.5,174.84 L197.0,174.65 L197.5,174.67 L198.0,174.34 L198.5,173.92 L199.0,173.26 L199.5,173.12 L200.0,172.49 L200.5,171.89 L201.0,171.47 L201.5,170.77 L202.0,170.41 L202.5,169.79 L203.0,169.12 L203.5,168.07 L204.0,167.53 L204.5,166.34 L205.0,165.56 L205.5,164.86 L206.0,163.67 L206.5,162.97 L207.0,161.87 L207.5,161.06 L208.0,159.84 L208.5,158.87 L209.0,157.97 L209.5,157.50 L210.0,156.38 L210.5,155.80 L211.0,155.09 L211.5,154.71 L212.0,154.27 L212.5,154.00 L213.0,153.77 L213.5,154.04 L214.0,154.17 L214.5,154.22 L215.0,154.70 L215.5,155.16 L216.0,155.93 L216.5,156.36 L217.0,157.48 L217.5,158.06 L218.0,159.05 L218.5,160.23 L219.0,161.45 L219.5,162.35 L220.0,163.65 L220.5,164.69 L221.0,165.93 L221.5,166.68 L222.0,167.91 L222.5,169.00 L223.0,170.07 L223.5,170.73 L224.0,171.53 L224.5,172.33 L225.0,173.35 L225.5,173.91 L226.0,174.54 L226.5,174.90 L227.0,175.62 L227.5,175.87 L228.0,176.10 L228.5,176.51 L229.0,177.10 L229.5,177.32 L230.0,177.51 L230.5,177.46 L231.0,177.64 L231.5,177.80 L232.0,177.93 L232.5,178.04 L233.0,178.03 L233.5,178.07 L234.0,178.01 L234.5,178.12 L235.0,178.13 L235.5,178.10 L236.0,178.15 L236.5,178.21 L237.0,178.50 L237.5,178.25 L238.0,178.19 L238.5,178.36 L239.0,178.19 L239.5,178.47 L240.0,178.17 L240.5,178.37 L241.0,178.26 L241.5,178.45 L242.0,178.43 L242.5,178.41" fill="none" stroke="#b4b4b4" stroke-width="1.05" stroke-linejoin="round" stroke-dasharray="0.9,0.35"/>
<path d="M256.5,178.9 L256.5,178.89 L257.0,178.89 L257.5,178.88 L258.0,178.88 L258.5,178.88 L259.0,178.87 L259.5,178.87 L260.0,178.87 L260.5,178.86 L261.0,178.86 L261.5,178.85 L262.0,178.84 L262.5,178.84 L263.0,178.83 L263.5,178.82 L264.0,178.81 L264.5,178.80 L265.0,178.78 L265.5,178.77 L266.0,178.75 L266.5,178.74 L267.0,178.72 L267.5,178.70 L268.0,178.67 L268.5,178.65 L269.0,178.62 L269.5,178.59 L270.0,178.56 L270.5,178.52 L271.0,178.48 L271.5,178.44 L272.0,178.40 L272.5,178.35 L273.0,178.29 L273.5,178.24 L274.0,178.18 L274.5,178.11 L275.0,178.04 L275.5,177.96 L276.0,177.88 L276.5,177.80 L277.0,177.71 L277.5,177.61 L278.0,177.51 L278.5,177.41 L279.0,177.29 L279.5,177.18 L280.0,177.05 L280.5,176.92 L281.0,176.79 L281.5,176.65 L282.0,176.50 L282.5,176.35 L283.0,176.19 L283.5,176.03 L284.0,175.86 L284.5,175.69 L285.0,175.52 L285.5,175.34 L286.0,175.15 L286.5,174.97 L287.0,174.78 L287.5,174.59 L288.0,174.40 L288.5,174.20 L289.0,174.01 L289.5,173.82 L290.0,173.62 L290.5,173.43 L291.0,173.24 L291.5,173.05 L292.0,172.87 L292.5,172.69 L293.0,172.52 L293.5,172.35 L294.0,172.19 L294.5,172.03 L295.0,171.88 L295.5,171.74 L296.0,171.61 L296.5,171.49 L297.0,171.38 L297.5,171.28 L298.0,171.19 L298.5,171.11 L299.0,171.05 L299.5,170.99 L300.0,170.95 L300.5,170.92 L301.0,170.90 L301.5,170.90 L302.0,170.91 L302.5,170.93 L303.0,170.97 L303.5,171.01 L304.0,171.07 L304.5,171.14 L305.0,171.22 L305.5,171.32 L306.0,171.42 L306.5,171.54 L307.0,171.66 L307.5,171.80 L308.0,171.94 L308.5,172.09 L309.0,172.25 L309.5,172.42 L310.0,172.59 L310.5,172.76 L311.0,172.94 L311.5,173.13 L312.0,173.32 L312.5,173.51 L313.0,173.70 L313.5,173.89 L314.0,174.09 L314.5,174.28 L315.0,174.47 L315.5,174.67 L316.0,174.86 L316.5,175.04 L317.0,175.23 L317.5,175.41 L318.0,175.59 L318.5,175.76 L319.0,175.93 L319.5,176.10 L320.0,176.26 L320.5,176.41 L321.0,176.56 L321.5,176.70 L322.0,176.84 L322.5,176.98 L323.0,177.10 L323.5,177.22 L324.0,177.34 L324.5,177.45 L325.0,177.55 L325.5,177.65 L326.0,177.75 L326.5,177.83 L327.0,177.92 L327.5,178.00 L328.0,178.07 L328.5,178.14 L329.0,178.20 L329.5,178.26 L330.0,178.32 L330.5,178.37 L331.0,178.42 L331.5,178.46 L332.0,178.50 L332.5,178.54 L333.0,178.57 L333.5,178.60 L334.0,178.63 L334.5,178.66 L335.0,178.68 L335.5,178.71 L336.0,178.73 L336.5,178.74 L337.0,178.76 L337.5,178.78 L338.0,178.79 L338.5,178.80 L339.0,178.81 L339.5,178.82 L340.0,178.83 L340.5,178.84 L341.0,178.85 L341.5,178.85 L342.0,178.86 L342.5,178.86 L343.0,178.87 L343.5,178.87 L344.0,178.88 L344.5,178.88 L345.0,178.88 L345.5,178.88 L346.0,178.89 L346.0,178.9 Z" fill="#f2ea78" fill-opacity="0.55" stroke="#555" stroke-opacity="0.55" stroke-width="0.45"/>
<path d="M320.5,178.9 L320.5,178.88 L321.0,178.88 L321.5,178.88 L322.0,178.87 L322.5,178.86 L323.0,178.86 L323.5,178.85 L324.0,178.83 L324.5,178.82 L325.0,178.80 L325.5,178.78 L326.0,178.76 L326.5,178.73 L327.0,178.70 L327.5,178.66 L328.0,178.62 L328.5,178.57 L329.0,178.52 L329.5,178.45 L330.0,178.38 L330.5,178.30 L331.0,178.21 L331.5,178.10 L332.0,177.99 L332.5,177.86 L333.0,177.72 L333.5,177.57 L334.0,177.40 L334.5,177.22 L335.0,177.02 L335.5,176.81 L336.0,176.58 L336.5,176.33 L337.0,176.08 L337.5,175.80 L338.0,175.52 L338.5,175.22 L339.0,174.92 L339.5,174.60 L340.0,174.28 L340.5,173.95 L341.0,173.62 L341.5,173.29 L342.0,172.97 L342.5,172.65 L343.0,172.33 L343.5,172.03 L344.0,171.74 L344.5,171.47 L345.0,171.22 L345.5,170.99 L346.0,170.79 L346.5,170.61 L347.0,170.47 L347.5,170.35 L348.0,170.27 L348.5,170.22 L349.0,170.20 L349.5,170.22 L350.0,170.27 L350.5,170.35 L351.0,170.47 L351.5,170.61 L352.0,170.79 L352.5,170.99 L353.0,171.22 L353.5,171.47 L354.0,171.74 L354.5,172.03 L355.0,172.33 L355.5,172.65 L356.0,172.97 L356.5,173.29 L357.0,173.62 L357.5,173.95 L358.0,174.28 L358.5,174.60 L359.0,174.92 L359.5,175.22 L360.0,175.52 L360.5,175.80 L361.0,176.08 L361.5,176.33 L362.0,176.58 L362.5,176.81 L363.0,177.02 L363.5,177.22 L364.0,177.40 L364.5,177.57 L365.0,177.72 L365.5,177.86 L366.0,177.99 L366.5,178.10 L367.0,178.21 L367.5,178.30 L368.0,178.38 L368.5,178.45 L369.0,178.52 L369.5,178.57 L370.0,178.62 L370.5,178.66 L371.0,178.70 L371.5,178.73 L372.0,178.76 L372.5,178.78 L373.0,178.80 L373.5,178.82 L374.0,178.83 L374.5,178.85 L375.0,178.86 L375.5,178.86 L375.5,178.9 Z" fill="#ef7d84" fill-opacity="0.5" stroke="#555" stroke-opacity="0.55" stroke-width="0.45"/>
<path d="M246.5,178.42 L247.0,178.51 L247.5,178.37 L248.0,178.16 L248.5,178.29 L249.0,178.18 L249.5,178.24 L250.0,178.21 L250.5,178.15 L251.0,178.25 L251.5,178.44 L252.0,178.45 L252.5,178.38 L253.0,178.54 L253.5,178.45 L254.0,178.19 L254.5,178.17 L255.0,178.41 L255.5,178.23 L256.0,178.23 L256.5,178.18 L257.0,178.22 L257.5,178.32 L258.0,178.49 L258.5,178.20 L259.0,178.40 L259.5,178.27 L260.0,178.37 L260.5,178.30 L261.0,178.12 L261.5,178.44 L262.0,178.28 L262.5,178.23 L263.0,178.26 L263.5,178.09 L264.0,178.30 L264.5,178.08 L265.0,178.16 L265.5,178.03 L266.0,178.37 L266.5,178.30 L267.0,178.25 L267.5,177.99 L268.0,178.32 L268.5,178.20 L269.0,177.99 L269.5,177.85 L270.0,178.14 L270.5,178.00 L271.0,177.86 L271.5,177.82 L272.0,177.75 L272.5,177.70 L273.0,177.85 L273.5,177.78 L274.0,177.81 L274.5,177.48 L275.0,177.61 L275.5,177.51 L276.0,177.15 L276.5,177.19 L277.0,177.12 L277.5,177.00 L278.0,176.92 L278.5,176.78 L279.0,176.82 L279.5,176.80 L280.0,176.68 L280.5,176.57 L281.0,176.29 L281.5,176.24 L282.0,176.11 L282.5,175.80 L283.0,175.45 L283.5,175.41 L284.0,175.40 L284.5,175.03 L285.0,175.10 L285.5,174.95 L286.0,174.68 L286.5,174.45 L287.0,174.15 L287.5,174.06 L288.0,173.76 L288.5,173.82 L289.0,173.29 L289.5,173.33 L290.0,172.94 L290.5,173.07 L291.0,172.56 L291.5,172.61 L292.0,172.18 L292.5,172.02 L293.0,171.90 L293.5,171.89 L294.0,171.83 L294.5,171.60 L295.0,171.17 L295.5,171.33 L296.0,171.00 L296.5,170.91 L297.0,170.77 L297.5,170.86 L298.0,170.78 L298.5,170.72 L299.0,170.30 L299.5,170.49 L300.0,170.34 L300.5,170.34 L301.0,170.46 L301.5,170.52 L302.0,170.55 L302.5,170.24 L303.0,170.56 L303.5,170.28 L304.0,170.58 L304.5,170.50 L305.0,170.82 L305.5,170.65 L306.0,170.97 L306.5,171.04 L307.0,171.10 L307.5,171.40 L308.0,171.49 L308.5,171.42 L309.0,171.79 L309.5,171.91 L310.0,171.93 L310.5,172.32 L311.0,172.52 L311.5,172.69 L312.0,172.81 L312.5,173.01 L313.0,173.09 L313.5,173.35 L314.0,173.39 L314.5,173.91 L315.0,173.86 L315.5,173.98 L316.0,174.41 L316.5,174.68 L317.0,174.70 L317.5,175.01 L318.0,175.05 L318.5,175.12 L319.0,175.54 L319.5,175.69 L320.0,175.70 L320.5,175.98 L321.0,176.10 L321.5,176.15 L322.0,176.42 L322.5,176.56 L323.0,176.56 L323.5,176.63 L324.0,176.55 L324.5,176.80 L325.0,177.08 L325.5,177.10 L326.0,176.96 L326.5,177.09 L327.0,177.02 L327.5,177.03 L328.0,177.10 L328.5,177.42 L329.0,177.09 L329.5,177.25 L330.0,177.35 L330.5,177.35 L331.0,177.03 L331.5,177.23 L332.0,177.21 L332.5,177.04 L333.0,176.68 L333.5,176.74 L334.0,176.49 L334.5,176.60 L335.0,176.27 L335.5,176.13 L336.0,175.97 L336.5,175.56 L337.0,175.44 L337.5,175.28 L338.0,174.67 L338.5,174.58 L339.0,174.41 L339.5,174.17 L340.0,173.60 L340.5,173.34 L341.0,173.21 L341.5,172.71 L342.0,172.28 L342.5,172.05 L343.0,171.86 L343.5,171.45 L344.0,171.13 L344.5,170.84 L345.0,170.80 L345.5,170.31 L346.0,170.05 L346.5,169.96 L347.0,169.76 L347.5,169.85 L348.0,169.55 L348.5,169.79 L349.0,169.75 L349.5,169.62 L350.0,169.55 L350.5,169.97 L351.0,170.03 L351.5,170.25 L352.0,170.26 L352.5,170.59 L353.0,170.79 L353.5,170.82 L354.0,171.16 L354.5,171.30 L355.0,171.82 L355.5,172.02 L356.0,172.61 L356.5,172.56 L357.0,173.18 L357.5,173.41 L358.0,173.72 L358.5,173.87 L359.0,174.37 L359.5,174.48 L360.0,174.92 L360.5,175.37 L361.0,175.39 L361.5,175.90 L362.0,175.83 L362.5,176.27 L363.0,176.58 L363.5,176.48 L364.0,176.92 L364.5,177.06 L365.0,177.24 L365.5,177.25 L366.0,177.63 L366.5,177.61 L367.0,177.79 L367.5,177.62 L368.0,178.03 L368.5,177.86 L369.0,178.06 L369.5,178.04 L370.0,178.05 L370.5,178.03 L371.0,178.30 L371.5,178.29 L372.0,178.36 L372.5,178.05 L373.0,178.39 L373.5,178.42 L374.0,178.28 L374.5,178.26 L375.0,178.15 L375.5,178.49" fill="none" stroke="#b4b4b4" stroke-width="1.05" stroke-linejoin="round" stroke-dasharray="0.9,0.35"/>
<path d="M380.8,178.9 L380.8,178.85 L381.3,178.84 L381.8,178.83 L382.3,178.83 L382.8,178.82 L383.3,178.80 L383.8,178.79 L384.3,178.78 L384.8,178.77 L385.3,178.75 L385.8,178.73 L386.3,178.71 L386.8,178.69 L387.3,178.67 L387.8,178.65 L388.3,178.62 L388.8,178.59 L389.3,178.56 L389.8,178.53 L390.3,178.49 L390.8,178.46 L391.3,178.42 L391.8,178.37 L392.3,178.33 L392.8,178.28 L393.3,178.23 L393.8,178.18 L394.3,178.12 L394.8,178.06 L395.3,178.00 L395.8,177.94 L396.3,177.88 L396.8,177.81 L397.3,177.74 L397.8,177.67 L398.3,177.60 L398.8,177.52 L399.3,177.45 L399.8,177.37 L400.3,177.29 L400.8,177.22 L401.3,177.14 L401.8,177.06 L402.3,176.99 L402.8,176.91 L403.3,176.84 L403.8,176.76 L404.3,176.69 L404.8,176.63 L405.3,176.56 L405.8,176.50 L406.3,176.44 L406.8,176.39 L407.3,176.33 L407.8,176.29 L408.3,176.25 L408.8,176.21 L409.3,176.18 L409.8,176.15 L410.3,176.13 L410.8,176.11 L411.3,176.10 L411.8,176.10 L412.3,176.10 L412.8,176.11 L413.3,176.12 L413.8,176.14 L414.3,176.17 L414.8,176.20 L415.3,176.23 L415.8,176.27 L416.3,176.32 L416.8,176.36 L417.3,176.42 L417.8,176.48 L418.3,176.54 L418.8,176.60 L419.3,176.67 L419.8,176.74 L420.3,176.81 L420.8,176.88 L421.3,176.96 L421.8,177.03 L422.3,177.11 L422.8,177.19 L423.3,177.26 L423.8,177.34 L424.3,177.42 L424.8,177.49 L425.3,177.57 L425.8,177.64 L426.3,177.71 L426.8,177.78 L427.3,177.85 L427.8,177.91 L428.3,177.98 L428.8,178.04 L429.3,178.10 L429.8,178.16 L430.3,178.21 L430.8,178.26 L431.3,178.31 L431.8,178.35 L432.3,178.40 L432.8,178.44 L433.3,178.48 L433.8,178.51 L434.3,178.55 L434.8,178.58 L435.3,178.61 L435.8,178.64 L436.3,178.66 L436.8,178.68 L437.3,178.71 L437.8,178.72 L438.3,178.74 L438.8,178.76 L439.3,178.77 L439.8,178.79 L440.3,178.80 L440.8,178.81 L441.3,178.82 L441.8,178.83 L442.3,178.84 L442.8,178.85 L443.3,178.85 L443.8,178.86 L444.3,178.86 L444.8,178.87 L445.3,178.87 L445.8,178.88 L446.3,178.88 L446.8,178.88 L447.3,178.88 L447.8,178.89 L448.3,178.89 L448.8,178.89 L449.3,178.89 L449.8,178.89 L450.3,178.89 L450.8,178.89 L451.3,178.90 L451.3,178.9 Z" fill="#3fd0d3" fill-opacity="0.48" stroke="#555" stroke-opacity="0.55" stroke-width="0.45"/>
<path d="M423.8,178.9 L423.8,178.90 L424.3,178.90 L424.8,178.89 L425.3,178.89 L425.8,178.89 L426.3,178.88 L426.8,178.88 L427.3,178.87 L427.8,178.85 L428.3,178.84 L428.8,178.82 L429.3,178.79 L429.8,178.76 L430.3,178.72 L430.8,178.68 L431.3,178.62 L431.8,178.56 L432.3,178.48 L432.8,178.40 L433.3,178.31 L433.8,178.20 L434.3,178.09 L434.8,177.98 L435.3,177.86 L435.8,177.74 L436.3,177.62 L436.8,177.50 L437.3,177.40 L437.8,177.30 L438.3,177.22 L438.8,177.16 L439.3,177.12 L439.8,177.10 L440.3,177.10 L440.8,177.13 L441.3,177.17 L441.8,177.24 L442.3,177.32 L442.8,177.42 L443.3,177.52 L443.8,177.64 L444.3,177.76 L444.8,177.88 L445.3,178.00 L445.8,178.12 L446.3,178.22 L446.8,178.33 L447.3,178.42 L447.8,178.50 L448.3,178.57 L448.8,178.63 L449.3,178.69 L449.8,178.73 L450.3,178.77 L450.8,178.80 L451.3,178.82 L451.8,178.84 L452.3,178.86 L452.8,178.87 L453.3,178.88 L453.8,178.88 L454.3,178.89 L454.8,178.89 L455.3,178.89 L455.8,178.90 L455.8,178.9 Z" fill="#f2ea78" fill-opacity="0.55" stroke="#555" stroke-opacity="0.55" stroke-width="0.45"/>
<path d="M428.8,178.9 L428.8,178.89 L429.3,178.88 L429.8,178.88 L430.3,178.87 L430.8,178.86 L431.3,178.85 L431.8,178.84 L432.3,178.82 L432.8,178.80 L433.3,178.78 L433.8,178.75 L434.3,178.71 L434.8,178.67 L435.3,178.61 L435.8,178.55 L436.3,178.48 L436.8,178.39 L437.3,178.29 L437.8,178.18 L438.3,178.05 L438.8,177.90 L439.3,177.73 L439.8,177.54 L440.3,177.33 L440.8,177.10 L441.3,176.84 L441.8,176.56 L442.3,176.27 L442.8,175.95 L443.3,175.61 L443.8,175.26 L444.3,174.89 L444.8,174.51 L445.3,174.12 L445.8,173.73 L446.3,173.34 L446.8,172.95 L447.3,172.58 L447.8,172.22 L448.3,171.88 L448.8,171.57 L449.3,171.30 L449.8,171.05 L450.3,170.85 L450.8,170.69 L451.3,170.58 L451.8,170.52 L452.3,170.50 L452.8,170.54 L453.3,170.62 L453.8,170.75 L454.3,170.93 L454.8,171.15 L455.3,171.40 L455.8,171.69 L456.3,172.02 L456.8,172.36 L457.3,172.73 L457.8,173.10 L458.3,173.49 L458.8,173.88 L459.3,174.27 L459.8,174.66 L460.3,175.04 L460.8,175.40 L461.3,175.75 L461.8,176.08 L462.3,176.39 L462.8,176.68 L463.3,176.95 L463.8,177.19 L464.3,177.41 L464.8,177.62 L465.3,177.80 L465.8,177.96 L466.3,178.10 L466.8,178.23 L467.3,178.33 L467.8,178.43 L468.3,178.51 L468.8,178.58 L469.3,178.64 L469.8,178.69 L470.3,178.73 L470.8,178.76 L471.3,178.79 L471.8,178.81 L472.3,178.83 L472.8,178.84 L473.3,178.86 L473.8,178.87 L474.3,178.87 L474.8,178.88 L475.3,178.88 L475.3,178.9 Z" fill="#ef7d84" fill-opacity="0.5" stroke="#555" stroke-opacity="0.55" stroke-width="0.45"/>
<path d="M380.8,178.40 L381.3,178.42 L381.8,178.25 L382.3,178.29 L382.8,178.30 L383.3,178.10 L383.8,178.18 L384.3,178.09 L384.8,178.03 L385.3,178.29 L385.8,178.01 L386.3,178.20 L386.8,178.32 L387.3,177.95 L387.8,178.25 L388.3,178.26 L388.8,178.13 L389.3,178.10 L389.8,177.79 L390.3,177.79 L390.8,177.94 L391.3,177.85 L391.8,177.68 L392.3,177.65 L392.8,177.67 L393.3,177.67 L393.8,177.78 L394.3,177.67 L394.8,177.45 L395.3,177.42 L395.8,177.27 L396.3,177.17 L396.8,177.07 L397.3,177.31 L397.8,177.29 L398.3,176.89 L398.8,176.94 L399.3,177.02 L399.8,176.74 L400.3,176.84 L400.8,176.77 L401.3,176.64 L401.8,176.50 L402.3,176.37 L402.8,176.53 L403.3,176.19 L403.8,176.17 L404.3,176.16 L404.8,176.01 L405.3,175.89 L405.8,176.15 L406.3,175.90 L406.8,175.76 L407.3,175.70 L407.8,175.68 L408.3,175.82 L408.8,175.48 L409.3,175.51 L409.8,175.71 L410.3,175.61 L410.8,175.38 L411.3,175.67 L411.8,175.59 L412.3,175.37 L412.8,175.40 L413.3,175.68 L413.8,175.50 L414.3,175.67 L414.8,175.58 L415.3,175.57 L415.8,175.87 L416.3,175.88 L416.8,175.93 L417.3,175.96 L417.8,176.11 L418.3,176.13 L418.8,176.09 L419.3,176.15 L419.8,176.35 L420.3,176.22 L420.8,176.15 L421.3,176.36 L421.8,176.52 L422.3,176.46 L422.8,176.63 L423.3,176.81 L423.8,176.75 L424.3,177.00 L424.8,176.79 L425.3,177.05 L425.8,177.01 L426.3,176.80 L426.8,176.91 L427.3,176.90 L427.8,176.98 L428.3,176.97 L428.8,176.92 L429.3,176.78 L429.8,177.03 L430.3,176.74 L430.8,176.83 L431.3,176.75 L431.8,176.40 L432.3,176.35 L432.8,176.10 L433.3,175.92 L433.8,175.86 L434.3,175.83 L434.8,175.71 L435.3,175.30 L435.8,175.03 L436.3,175.01 L436.8,174.90 L437.3,174.75 L437.8,174.51 L438.3,174.13 L438.8,174.26 L439.3,174.03 L439.8,173.89 L440.3,173.59 L440.8,173.37 L441.3,173.64 L441.8,173.49 L442.3,173.05 L442.8,172.91 L443.3,173.10 L443.8,172.87 L444.3,172.63 L444.8,172.53 L445.3,172.30 L445.8,172.06 L446.3,171.92 L446.8,171.77 L447.3,171.52 L447.8,171.25 L448.3,171.04 L448.8,170.61 L449.3,170.37 L449.8,170.37 L450.3,170.00 L450.8,169.91 L451.3,169.99 L451.8,169.89 L452.3,170.02 L452.8,169.77 L453.3,170.01 L453.8,170.36 L454.3,170.50 L454.8,170.51 L455.3,170.89 L455.8,171.05 L456.3,171.57 L456.8,171.69 L457.3,172.05 L457.8,172.72 L458.3,172.91 L458.8,173.46 L459.3,173.64 L459.8,173.99 L460.3,174.37 L460.8,174.96 L461.3,175.36 L461.8,175.46 L462.3,175.81 L462.8,176.27 L463.3,176.52 L463.8,176.61 L464.3,177.02 L464.8,177.01 L465.3,177.35 L465.8,177.51 L466.3,177.58 L466.8,177.66 L467.3,177.69 L467.8,178.07 L468.3,177.87 L468.8,178.14 L469.3,178.17 L469.8,178.08 L470.3,178.10 L470.8,178.16 L471.3,178.08 L471.8,178.38 L472.3,178.36 L472.8,178.23 L473.3,178.40 L473.8,178.45 L474.3,178.43 L474.8,178.22 L475.3,178.20 L475.8,178.25 L476.3,178.16 L476.8,178.23 L477.3,178.42 L477.8,178.42 L478.3,178.26 L478.8,178.53 L479.3,178.30 L479.8,178.51 L480.3,178.53 L480.8,178.34 L481.3,178.49 L481.8,178.18 L482.3,178.20 L482.8,178.37 L483.3,178.47 L483.8,178.50 L484.3,178.35" fill="none" stroke="#b4b4b4" stroke-width="1.05" stroke-linejoin="round" stroke-dasharray="0.9,0.35"/>
<path d="M53.5,199.4 L53.5,199.38 L54.0,199.38 L54.5,199.38 L55.0,199.37 L55.5,199.36 L56.0,199.35 L56.5,199.34 L57.0,199.32 L57.5,199.30 L58.0,199.28 L58.5,199.25 L59.0,199.22 L59.5,199.18 L60.0,199.14 L60.5,199.09 L61.0,199.02 L61.5,198.95 L62.0,198.87 L62.5,198.78 L63.0,198.67 L63.5,198.55 L64.0,198.42 L64.5,198.27 L65.0,198.10 L65.5,197.92 L66.0,197.71 L66.5,197.50 L67.0,197.26 L67.5,197.01 L68.0,196.74 L68.5,196.45 L69.0,196.15 L69.5,195.84 L70.0,195.52 L70.5,195.20 L71.0,194.86 L71.5,194.53 L72.0,194.20 L72.5,193.87 L73.0,193.56 L73.5,193.25 L74.0,192.97 L74.5,192.70 L75.0,192.46 L75.5,192.25 L76.0,192.07 L76.5,191.92 L77.0,191.81 L77.5,191.74 L78.0,191.70 L78.5,191.71 L79.0,191.75 L79.5,191.83 L80.0,191.95 L80.5,192.10 L81.0,192.29 L81.5,192.51 L82.0,192.75 L82.5,193.02 L83.0,193.31 L83.5,193.62 L84.0,193.94 L84.5,194.26 L85.0,194.60 L85.5,194.93 L86.0,195.26 L86.5,195.59 L87.0,195.91 L87.5,196.21 L88.0,196.51 L88.5,196.79 L89.0,197.06 L89.5,197.31 L90.0,197.54 L90.5,197.76 L91.0,197.95 L91.5,198.13 L92.0,198.30 L92.5,198.44 L93.0,198.58 L93.5,198.69 L94.0,198.80 L94.5,198.89 L95.0,198.97 L95.5,199.04 L96.0,199.10 L96.5,199.15 L97.0,199.19 L97.5,199.23 L98.0,199.26 L98.5,199.29 L99.0,199.31 L99.5,199.32 L100.0,199.34 L100.5,199.35 L101.0,199.36 L101.5,199.37 L102.0,199.38 L102.5,199.38 L103.0,199.39 L103.0,199.4 Z" fill="#3fd0d3" fill-opacity="0.48" stroke="#555" stroke-opacity="0.55" stroke-width="0.45"/>
<path d="M67.5,199.4 L67.5,199.36 L68.0,199.34 L68.5,199.32 L69.0,199.30 L69.5,199.26 L70.0,199.22 L70.5,199.17 L71.0,199.10 L71.5,199.02 L72.0,198.91 L72.5,198.78 L73.0,198.63 L73.5,198.44 L74.0,198.21 L74.5,197.94 L75.0,197.63 L75.5,197.25 L76.0,196.82 L76.5,196.32 L77.0,195.75 L77.5,195.10 L78.0,194.37 L78.5,193.56 L79.0,192.67 L79.5,191.69 L80.0,190.63 L80.5,189.50 L81.0,188.30 L81.5,187.04 L82.0,185.73 L82.5,184.39 L83.0,183.02 L83.5,181.66 L84.0,180.32 L84.5,179.02 L85.0,177.78 L85.5,176.62 L86.0,175.57 L86.5,174.64 L87.0,173.86 L87.5,173.23 L88.0,172.77 L88.5,172.49 L89.0,172.40 L89.5,172.49 L90.0,172.77 L90.5,173.23 L91.0,173.86 L91.5,174.64 L92.0,175.57 L92.5,176.62 L93.0,177.78 L93.5,179.02 L94.0,180.32 L94.5,181.66 L95.0,183.02 L95.5,184.39 L96.0,185.73 L96.5,187.04 L97.0,188.30 L97.5,189.50 L98.0,190.63 L98.5,191.69 L99.0,192.67 L99.5,193.56 L100.0,194.37 L100.5,195.10 L101.0,195.75 L101.5,196.32 L102.0,196.82 L102.5,197.25 L103.0,197.63 L103.5,197.94 L104.0,198.21 L104.5,198.44 L105.0,198.63 L105.5,198.78 L106.0,198.91 L106.5,199.02 L107.0,199.10 L107.5,199.17 L108.0,199.22 L108.5,199.26 L109.0,199.30 L109.5,199.32 L110.0,199.34 L110.5,199.36 L110.5,199.4 Z" fill="#ef7d84" fill-opacity="0.5" stroke="#555" stroke-opacity="0.55" stroke-width="0.45"/>
<path d="M30.5,198.84 L31.0,198.90 L31.5,198.76 L32.0,198.84 L32.5,198.74 L33.0,199.01 L33.5,199.02 L34.0,198.90 L34.5,198.86 L35.0,198.95 L35.5,198.78 L36.0,198.96 L36.5,198.92 L37.0,198.86 L37.5,198.77 L38.0,198.74 L38.5,198.90 L39.0,198.87 L39.5,198.68 L40.0,198.68 L40.5,198.80 L41.0,199.01 L41.5,198.87 L42.0,198.80 L42.5,198.94 L43.0,199.04 L43.5,198.66 L44.0,198.69 L44.5,199.00 L45.0,198.86 L45.5,198.80 L46.0,198.93 L46.5,199.02 L47.0,198.75 L47.5,198.74 L48.0,198.87 L48.5,199.01 L49.0,198.89 L49.5,199.01 L50.0,198.66 L50.5,199.03 L51.0,198.93 L51.5,198.74 L52.0,198.99 L52.5,199.00 L53.0,199.01 L53.5,198.97 L54.0,198.82 L54.5,198.69 L55.0,198.95 L55.5,198.94 L56.0,198.69 L56.5,198.82 L57.0,198.84 L57.5,198.90 L58.0,198.83 L58.5,198.51 L59.0,198.82 L59.5,198.73 L60.0,198.49 L60.5,198.37 L61.0,198.30 L61.5,198.40 L62.0,198.12 L62.5,198.16 L63.0,198.18 L63.5,197.98 L64.0,197.73 L64.5,197.56 L65.0,197.62 L65.5,197.38 L66.0,196.85 L66.5,196.94 L67.0,196.38 L67.5,196.26 L68.0,195.97 L68.5,195.60 L69.0,195.13 L69.5,194.50 L70.0,194.39 L70.5,193.63 L71.0,193.34 L71.5,192.86 L72.0,192.07 L72.5,191.63 L73.0,191.06 L73.5,190.31 L74.0,189.46 L74.5,188.72 L75.0,188.08 L75.5,187.53 L76.0,186.41 L76.5,185.62 L77.0,184.62 L77.5,183.69 L78.0,182.99 L78.5,181.80 L79.0,180.81 L79.5,180.00 L80.0,178.90 L80.5,177.83 L81.0,176.76 L81.5,175.66 L82.0,174.69 L82.5,173.58 L83.0,172.28 L83.5,171.49 L84.0,170.47 L84.5,169.51 L85.0,168.79 L85.5,168.33 L86.0,167.51 L86.5,167.14 L87.0,166.79 L87.5,166.78 L88.0,166.80 L88.5,166.99 L89.0,167.58 L89.5,167.96 L90.0,168.77 L90.5,169.43 L91.0,170.71 L91.5,171.67 L92.0,172.99 L92.5,174.13 L93.0,175.72 L93.5,176.99 L94.0,178.49 L94.5,179.99 L95.0,181.80 L95.5,182.98 L96.0,184.51 L96.5,185.95 L97.0,187.30 L97.5,188.82 L98.0,189.68 L98.5,190.92 L99.0,191.97 L99.5,192.94 L100.0,193.60 L100.5,194.35 L101.0,194.98 L101.5,195.83 L102.0,196.29 L102.5,196.77 L103.0,197.21 L103.5,197.45 L104.0,197.84 L104.5,197.76 L105.0,198.18 L105.5,198.40 L106.0,198.53 L106.5,198.37 L107.0,198.67 L107.5,198.63 L108.0,198.71 L108.5,198.59 L109.0,198.56 L109.5,198.85 L110.0,198.74 L110.5,198.65 L111.0,198.83 L111.5,198.67 L112.0,198.74 L112.5,198.91 L113.0,198.69 L113.5,198.81 L114.0,199.00 L114.5,198.81 L115.0,198.72 L115.5,198.84 L116.0,198.86 L116.5,198.88 L117.0,198.70 L117.5,198.78 L118.0,198.97 L118.5,198.90 L119.0,198.90 L119.5,198.67 L120.0,198.77 L120.5,199.00 L121.0,198.68 L121.5,199.04 L122.0,198.81 L122.5,198.88 L123.0,198.76 L123.5,198.88 L124.0,199.01 L124.5,198.84 L125.0,198.72 L125.5,198.73 L126.0,198.91 L126.5,198.96 L127.0,198.75 L127.5,198.73 L128.0,198.96 L128.5,198.70 L129.0,198.65 L129.5,198.88 L130.0,198.90 L130.5,198.77 L131.0,198.68 L131.5,198.97 L132.0,198.93 L132.5,198.92 L133.0,198.76 L133.5,198.98 L134.0,198.83" fill="none" stroke="#b4b4b4" stroke-width="1.05" stroke-linejoin="round" stroke-dasharray="0.9,0.35"/>
<path d="M162.0,199.4 L162.0,199.40 L162.5,199.40 L163.0,199.40 L163.5,199.39 L164.0,199.39 L164.5,199.39 L165.0,199.39 L165.5,199.39 L166.0,199.38 L166.5,199.38 L167.0,199.37 L167.5,199.37 L168.0,199.36 L168.5,199.35 L169.0,199.35 L169.5,199.33 L170.0,199.32 L170.5,199.31 L171.0,199.29 L171.5,199.27 L172.0,199.25 L172.5,199.22 L173.0,199.20 L173.5,199.17 L174.0,199.13 L174.5,199.10 L175.0,199.05 L175.5,199.01 L176.0,198.96 L176.5,198.91 L177.0,198.86 L177.5,198.80 L178.0,198.74 L178.5,198.68 L179.0,198.62 L179.5,198.56 L180.0,198.49 L180.5,198.43 L181.0,198.36 L181.5,198.30 L182.0,198.24 L182.5,198.18 L183.0,198.13 L183.5,198.08 L184.0,198.03 L184.5,197.99 L185.0,197.96 L185.5,197.93 L186.0,197.92 L186.5,197.90 L187.0,197.90 L187.5,197.90 L188.0,197.92 L188.5,197.93 L189.0,197.96 L189.5,197.99 L190.0,198.03 L190.5,198.08 L191.0,198.13 L191.5,198.18 L192.0,198.24 L192.5,198.30 L193.0,198.36 L193.5,198.43 L194.0,198.49 L194.5,198.56 L195.0,198.62 L195.5,198.68 L196.0,198.74 L196.5,198.80 L197.0,198.86 L197.5,198.91 L198.0,198.96 L198.5,199.01 L199.0,199.05 L199.5,199.10 L200.0,199.13 L200.5,199.17 L201.0,199.20 L201.5,199.22 L202.0,199.25 L202.5,199.27 L203.0,199.29 L203.5,199.31 L204.0,199.32 L204.5,199.33 L205.0,199.35 L205.5,199.35 L206.0,199.36 L206.5,199.37 L207.0,199.37 L207.5,199.38 L208.0,199.38 L208.5,199.39 L209.0,199.39 L209.5,199.39 L210.0,199.39 L210.5,199.39 L211.0,199.40 L211.5,199.40 L212.0,199.40 L212.0,199.4 Z" fill="#ef7d84" fill-opacity="0.5" stroke="#555" stroke-opacity="0.55" stroke-width="0.45"/>
<path d="M190.5,199.4 L190.5,199.36 L191.0,199.34 L191.5,199.32 L192.0,199.30 L192.5,199.27 L193.0,199.24 L193.5,199.19 L194.0,199.14 L194.5,199.07 L195.0,198.99 L195.5,198.89 L196.0,198.77 L196.5,198.62 L197.0,198.45 L197.5,198.25 L198.0,198.01 L198.5,197.73 L199.0,197.41 L199.5,197.04 L200.0,196.62 L200.5,196.15 L201.0,195.61 L201.5,195.02 L202.0,194.35 L202.5,193.63 L203.0,192.84 L203.5,191.98 L204.0,191.07 L204.5,190.09 L205.0,189.06 L205.5,187.99 L206.0,186.88 L206.5,185.74 L207.0,184.59 L207.5,183.43 L208.0,182.29 L208.5,181.17 L209.0,180.09 L209.5,179.07 L210.0,178.13 L210.5,177.27 L211.0,176.51 L211.5,175.86 L212.0,175.34 L212.5,174.95 L213.0,174.71 L213.5,174.60 L214.0,174.65 L214.5,174.84 L215.0,175.17 L215.5,175.64 L216.0,176.23 L216.5,176.95 L217.0,177.77 L217.5,178.69 L218.0,179.68 L218.5,180.73 L219.0,181.84 L219.5,182.97 L220.0,184.13 L220.5,185.28 L221.0,186.43 L221.5,187.55 L222.0,188.64 L222.5,189.69 L223.0,190.68 L223.5,191.62 L224.0,192.50 L224.5,193.32 L225.0,194.07 L225.5,194.76 L226.0,195.38 L226.5,195.94 L227.0,196.44 L227.5,196.88 L228.0,197.27 L228.5,197.61 L229.0,197.90 L229.5,198.16 L230.0,198.37 L230.5,198.56 L231.0,198.71 L231.5,198.84 L232.0,198.95 L232.5,199.04 L233.0,199.11 L233.5,199.17 L234.0,199.22 L234.5,199.26 L235.0,199.29 L235.5,199.31 L236.0,199.33 L236.5,199.35 L236.5,199.4 Z" fill="#3fd0d3" fill-opacity="0.48" stroke="#555" stroke-opacity="0.55" stroke-width="0.45"/>
<path d="M138.5,198.85 L139.0,198.78 L139.5,198.99 L140.0,198.67 L140.5,198.65 L141.0,198.83 L141.5,198.73 L142.0,198.98 L142.5,198.69 L143.0,198.83 L143.5,198.75 L144.0,198.70 L144.5,198.91 L145.0,198.68 L145.5,198.97 L146.0,199.04 L146.5,198.85 L147.0,198.69 L147.5,198.69 L148.0,198.67 L148.5,198.85 L149.0,198.68 L149.5,198.83 L150.0,198.99 L150.5,198.80 L151.0,198.73 L151.5,198.88 L152.0,198.81 L152.5,198.95 L153.0,198.94 L153.5,198.88 L154.0,198.84 L154.5,198.86 L155.0,199.01 L155.5,199.05 L156.0,198.91 L156.5,198.76 L157.0,198.75 L157.5,198.95 L158.0,198.95 L158.5,198.84 L159.0,198.98 L159.5,198.81 L160.0,198.69 L160.5,198.97 L161.0,198.81 L161.5,198.76 L162.0,198.75 L162.5,198.76 L163.0,198.76 L163.5,198.94 L164.0,198.71 L164.5,198.67 L165.0,199.02 L165.5,198.66 L166.0,198.86 L166.5,198.99 L167.0,199.00 L167.5,198.70 L168.0,198.74 L168.5,198.95 L169.0,198.81 L169.5,198.73 L170.0,198.57 L170.5,198.82 L171.0,198.63 L171.5,198.82 L172.0,198.82 L172.5,198.81 L173.0,198.68 L173.5,198.57 L174.0,198.66 L174.5,198.68 L175.0,198.62 L175.5,198.63 L176.0,198.54 L176.5,198.44 L177.0,198.31 L177.5,198.38 L178.0,198.20 L178.5,198.16 L179.0,197.88 L179.5,198.01 L180.0,197.76 L180.5,197.88 L181.0,197.93 L181.5,197.70 L182.0,197.82 L182.5,197.75 L183.0,197.73 L183.5,197.42 L184.0,197.26 L184.5,197.44 L185.0,197.41 L185.5,197.34 L186.0,197.34 L186.5,197.17 L187.0,197.26 L187.5,197.32 L188.0,197.01 L188.5,197.10 L189.0,197.30 L189.5,196.93 L190.0,196.95 L190.5,197.06 L191.0,196.91 L191.5,196.74 L192.0,196.88 L192.5,196.79 L193.0,196.75 L193.5,196.55 L194.0,196.38 L194.5,196.21 L195.0,195.96 L195.5,196.09 L196.0,195.79 L196.5,195.36 L197.0,195.12 L197.5,194.91 L198.0,194.55 L198.5,194.32 L199.0,193.69 L199.5,193.42 L200.0,193.01 L200.5,192.58 L201.0,192.05 L201.5,191.14 L202.0,190.53 L202.5,190.15 L203.0,189.29 L203.5,188.44 L204.0,187.60 L204.5,186.78 L205.0,185.65 L205.5,184.92 L206.0,183.88 L206.5,182.73 L207.0,181.84 L207.5,180.90 L208.0,179.97 L208.5,178.98 L209.0,177.97 L209.5,177.03 L210.0,176.43 L210.5,175.66 L211.0,175.02 L211.5,174.51 L212.0,173.87 L212.5,173.74 L213.0,173.68 L213.5,173.64 L214.0,173.56 L214.5,174.08 L215.0,174.26 L215.5,175.04 L216.0,175.61 L216.5,176.41 L217.0,176.97 L217.5,178.17 L218.0,179.15 L218.5,180.29 L219.0,181.33 L219.5,182.29 L220.0,183.46 L220.5,184.54 L221.0,185.68 L221.5,186.97 L222.0,187.91 L222.5,189.29 L223.0,189.96 L223.5,191.10 L224.0,192.07 L224.5,192.67 L225.0,193.38 L225.5,194.25 L226.0,194.99 L226.5,195.24 L227.0,195.79 L227.5,196.29 L228.0,196.53 L228.5,197.24 L229.0,197.53 L229.5,197.76 L230.0,198.01 L230.5,197.92 L231.0,198.11 L231.5,198.45 L232.0,198.53 L232.5,198.62 L233.0,198.52 L233.5,198.55 L234.0,198.48 L234.5,198.76 L235.0,198.55 L235.5,198.79 L236.0,198.83 L236.5,198.90 L237.0,198.92 L237.5,198.63 L238.0,198.63 L238.5,198.75 L239.0,198.97 L239.5,198.97 L240.0,198.98 L240.5,198.90 L241.0,198.75 L241.5,199.02 L242.0,198.84 L242.5,198.78" fill="none" stroke="#b4b4b4" stroke-width="1.05" stroke-linejoin="round" stroke-dasharray="0.9,0.35"/>
<path d="M255.5,199.4 L255.5,199.39 L256.0,199.39 L256.5,199.38 L257.0,199.38 L257.5,199.38 L258.0,199.38 L258.5,199.37 L259.0,199.37 L259.5,199.37 L260.0,199.36 L260.5,199.36 L261.0,199.35 L261.5,199.34 L262.0,199.34 L262.5,199.33 L263.0,199.32 L263.5,199.31 L264.0,199.30 L264.5,199.28 L265.0,199.27 L265.5,199.25 L266.0,199.24 L266.5,199.22 L267.0,199.20 L267.5,199.18 L268.0,199.15 L268.5,199.12 L269.0,199.10 L269.5,199.06 L270.0,199.03 L270.5,198.99 L271.0,198.95 L271.5,198.91 L272.0,198.86 L272.5,198.81 L273.0,198.76 L273.5,198.70 L274.0,198.63 L274.5,198.57 L275.0,198.50 L275.5,198.42 L276.0,198.34 L276.5,198.26 L277.0,198.17 L277.5,198.07 L278.0,197.97 L278.5,197.87 L279.0,197.76 L279.5,197.65 L280.0,197.53 L280.5,197.40 L281.0,197.27 L281.5,197.14 L282.0,197.00 L282.5,196.86 L283.0,196.71 L283.5,196.56 L284.0,196.41 L284.5,196.25 L285.0,196.09 L285.5,195.93 L286.0,195.76 L286.5,195.59 L287.0,195.43 L287.5,195.26 L288.0,195.09 L288.5,194.92 L289.0,194.75 L289.5,194.58 L290.0,194.42 L290.5,194.25 L291.0,194.09 L291.5,193.94 L292.0,193.78 L292.5,193.64 L293.0,193.50 L293.5,193.36 L294.0,193.23 L294.5,193.11 L295.0,193.00 L295.5,192.90 L296.0,192.80 L296.5,192.72 L297.0,192.64 L297.5,192.57 L298.0,192.52 L298.5,192.47 L299.0,192.44 L299.5,192.41 L300.0,192.40 L300.5,192.40 L301.0,192.41 L301.5,192.43 L302.0,192.46 L302.5,192.51 L303.0,192.56 L303.5,192.63 L304.0,192.70 L304.5,192.78 L305.0,192.88 L305.5,192.98 L306.0,193.09 L306.5,193.21 L307.0,193.34 L307.5,193.47 L308.0,193.61 L308.5,193.76 L309.0,193.91 L309.5,194.06 L310.0,194.22 L310.5,194.38 L311.0,194.55 L311.5,194.71 L312.0,194.88 L312.5,195.05 L313.0,195.22 L313.5,195.39 L314.0,195.56 L314.5,195.73 L315.0,195.89 L315.5,196.06 L316.0,196.22 L316.5,196.38 L317.0,196.53 L317.5,196.68 L318.0,196.83 L318.5,196.97 L319.0,197.11 L319.5,197.25 L320.0,197.38 L320.5,197.50 L321.0,197.62 L321.5,197.74 L322.0,197.85 L322.5,197.95 L323.0,198.05 L323.5,198.15 L324.0,198.24 L324.5,198.33 L325.0,198.41 L325.5,198.48 L326.0,198.55 L326.5,198.62 L327.0,198.68 L327.5,198.74 L328.0,198.80 L328.5,198.85 L329.0,198.90 L329.5,198.94 L330.0,198.98 L330.5,199.02 L331.0,199.06 L331.5,199.09 L332.0,199.12 L332.5,199.15 L333.0,199.17 L333.5,199.19 L334.0,199.22 L334.5,199.23 L335.0,199.25 L335.5,199.27 L336.0,199.28 L336.5,199.29 L337.0,199.31 L337.5,199.32 L338.0,199.33 L338.5,199.33 L339.0,199.34 L339.5,199.35 L340.0,199.35 L340.5,199.36 L341.0,199.37 L341.5,199.37 L342.0,199.37 L342.5,199.38 L343.0,199.38 L343.5,199.38 L344.0,199.38 L344.5,199.39 L345.0,199.39 L345.0,199.4 Z" fill="#f2ea78" fill-opacity="0.55" stroke="#555" stroke-opacity="0.55" stroke-width="0.45"/>
<path d="M320.5,199.4 L320.5,199.39 L321.0,199.38 L321.5,199.38 L322.0,199.37 L322.5,199.37 L323.0,199.36 L323.5,199.35 L324.0,199.34 L324.5,199.32 L325.0,199.31 L325.5,199.29 L326.0,199.27 L326.5,199.24 L327.0,199.21 L327.5,199.17 L328.0,199.13 L328.5,199.08 L329.0,199.03 L329.5,198.97 L330.0,198.90 L330.5,198.82 L331.0,198.73 L331.5,198.63 L332.0,198.52 L332.5,198.40 L333.0,198.26 L333.5,198.11 L334.0,197.95 L334.5,197.77 L335.0,197.58 L335.5,197.38 L336.0,197.16 L336.5,196.92 L337.0,196.67 L337.5,196.41 L338.0,196.14 L338.5,195.85 L339.0,195.55 L339.5,195.25 L340.0,194.94 L340.5,194.62 L341.0,194.31 L341.5,193.99 L342.0,193.67 L342.5,193.36 L343.0,193.06 L343.5,192.77 L344.0,192.49 L344.5,192.23 L345.0,191.99 L345.5,191.77 L346.0,191.57 L346.5,191.40 L347.0,191.26 L347.5,191.15 L348.0,191.07 L348.5,191.02 L349.0,191.00 L349.5,191.02 L350.0,191.07 L350.5,191.15 L351.0,191.26 L351.5,191.40 L352.0,191.57 L352.5,191.77 L353.0,191.99 L353.5,192.23 L354.0,192.49 L354.5,192.77 L355.0,193.06 L355.5,193.36 L356.0,193.67 L356.5,193.99 L357.0,194.31 L357.5,194.62 L358.0,194.94 L358.5,195.25 L359.0,195.55 L359.5,195.85 L360.0,196.14 L360.5,196.41 L361.0,196.67 L361.5,196.92 L362.0,197.16 L362.5,197.38 L363.0,197.58 L363.5,197.77 L364.0,197.95 L364.5,198.11 L365.0,198.26 L365.5,198.40 L366.0,198.52 L366.5,198.63 L367.0,198.73 L367.5,198.82 L368.0,198.90 L368.5,198.97 L369.0,199.03 L369.5,199.08 L370.0,199.13 L370.5,199.17 L371.0,199.21 L371.5,199.24 L372.0,199.27 L372.5,199.29 L373.0,199.31 L373.5,199.32 L374.0,199.34 L374.5,199.35 L375.0,199.36 L375.5,199.37 L375.5,199.4 Z" fill="#ef7d84" fill-opacity="0.5" stroke="#555" stroke-opacity="0.55" stroke-width="0.45"/>
<path d="M246.5,199.04 L247.0,198.87 L247.5,198.73 L248.0,198.82 L248.5,198.87 L249.0,198.70 L249.5,198.81 L250.0,198.91 L250.5,198.89 L251.0,198.67 L251.5,198.70 L252.0,198.68 L252.5,198.82 L253.0,198.99 L253.5,198.97 L254.0,198.89 L254.5,198.77 L255.0,199.04 L255.5,198.72 L256.0,198.72 L256.5,198.83 L257.0,199.03 L257.5,198.71 L258.0,198.86 L258.5,198.76 L259.0,198.79 L259.5,198.72 L260.0,198.85 L260.5,198.62 L261.0,198.62 L261.5,198.62 L262.0,198.74 L262.5,198.85 L263.0,198.82 L263.5,198.85 L264.0,198.59 L264.5,198.62 L265.0,198.60 L265.5,198.58 L266.0,198.49 L266.5,198.59 L267.0,198.72 L267.5,198.52 L268.0,198.70 L268.5,198.53 L269.0,198.68 L269.5,198.37 L270.0,198.48 L270.5,198.53 L271.0,198.23 L271.5,198.52 L272.0,198.14 L272.5,198.16 L273.0,198.35 L273.5,198.04 L274.0,198.06 L274.5,197.86 L275.0,197.91 L275.5,197.90 L276.0,197.62 L276.5,197.87 L277.0,197.51 L277.5,197.68 L278.0,197.51 L278.5,197.47 L279.0,197.06 L279.5,197.12 L280.0,196.89 L280.5,196.95 L281.0,196.63 L281.5,196.53 L282.0,196.61 L282.5,196.31 L283.0,196.07 L283.5,196.13 L284.0,195.80 L284.5,195.79 L285.0,195.59 L285.5,195.21 L286.0,195.03 L286.5,194.85 L287.0,194.90 L287.5,194.68 L288.0,194.41 L288.5,194.26 L289.0,194.22 L289.5,193.89 L290.0,193.90 L290.5,193.52 L291.0,193.55 L291.5,193.54 L292.0,193.14 L292.5,193.23 L293.0,192.88 L293.5,192.99 L294.0,192.49 L294.5,192.55 L295.0,192.36 L295.5,192.50 L296.0,192.20 L296.5,192.22 L297.0,192.19 L297.5,191.90 L298.0,192.15 L298.5,191.93 L299.0,192.05 L299.5,191.72 L300.0,191.69 L300.5,192.04 L301.0,191.88 L301.5,191.89 L302.0,191.83 L302.5,191.87 L303.0,192.07 L303.5,191.90 L304.0,192.28 L304.5,192.38 L305.0,192.20 L305.5,192.58 L306.0,192.67 L306.5,192.66 L307.0,192.85 L307.5,193.05 L308.0,192.89 L308.5,193.22 L309.0,193.24 L309.5,193.61 L310.0,193.50 L310.5,193.94 L311.0,193.83 L311.5,194.12 L312.0,194.14 L312.5,194.39 L313.0,194.62 L313.5,194.83 L314.0,194.87 L314.5,195.20 L315.0,195.50 L315.5,195.34 L316.0,195.55 L316.5,195.75 L317.0,195.88 L317.5,196.24 L318.0,196.29 L318.5,196.29 L319.0,196.37 L319.5,196.52 L320.0,196.95 L320.5,196.86 L321.0,197.03 L321.5,197.20 L322.0,197.40 L322.5,197.51 L323.0,197.47 L323.5,197.55 L324.0,197.72 L324.5,197.75 L325.0,197.74 L325.5,197.72 L326.0,197.83 L326.5,198.05 L327.0,197.79 L327.5,198.02 L328.0,197.80 L328.5,197.79 L329.0,198.12 L329.5,197.93 L330.0,197.75 L330.5,197.94 L331.0,197.82 L331.5,197.85 L332.0,197.88 L332.5,197.71 L333.0,197.63 L333.5,197.44 L334.0,197.17 L334.5,197.03 L335.0,196.71 L335.5,196.62 L336.0,196.54 L336.5,196.09 L337.0,195.98 L337.5,195.76 L338.0,195.37 L338.5,195.17 L339.0,195.00 L339.5,194.61 L340.0,194.42 L340.5,193.85 L341.0,193.82 L341.5,193.22 L342.0,193.27 L342.5,192.98 L343.0,192.47 L343.5,192.32 L344.0,191.92 L344.5,191.82 L345.0,191.29 L345.5,191.14 L346.0,190.94 L346.5,190.67 L347.0,190.51 L347.5,190.52 L348.0,190.43 L348.5,190.66 L349.0,190.63 L349.5,190.49 L350.0,190.33 L350.5,190.67 L351.0,190.68 L351.5,191.05 L352.0,191.05 L352.5,191.05 L353.0,191.40 L353.5,191.55 L354.0,192.13 L354.5,192.34 L355.0,192.64 L355.5,192.68 L356.0,193.28 L356.5,193.26 L357.0,193.85 L357.5,193.92 L358.0,194.38 L358.5,194.77 L359.0,194.82 L359.5,195.34 L360.0,195.51 L360.5,196.03 L361.0,195.99 L361.5,196.18 L362.0,196.76 L362.5,196.73 L363.0,197.13 L363.5,197.37 L364.0,197.46 L364.5,197.50 L365.0,197.53 L365.5,197.65 L366.0,197.77 L366.5,198.03 L367.0,198.12 L367.5,198.41 L368.0,198.26 L368.5,198.40 L369.0,198.54 L369.5,198.37 L370.0,198.68 L370.5,198.77 L371.0,198.80 L371.5,198.83 L372.0,198.68 L372.5,198.62 L373.0,198.89 L373.5,198.77 L374.0,198.76 L374.5,198.77 L375.0,198.84 L375.5,198.80" fill="none" stroke="#b4b4b4" stroke-width="1.05" stroke-linejoin="round" stroke-dasharray="0.9,0.35"/>
<path d="M380.8,199.4 L380.8,199.37 L381.3,199.37 L381.8,199.36 L382.3,199.36 L382.8,199.35 L383.3,199.34 L383.8,199.33 L384.3,199.32 L384.8,199.31 L385.3,199.30 L385.8,199.29 L386.3,199.27 L386.8,199.25 L387.3,199.24 L387.8,199.21 L388.3,199.19 L388.8,199.17 L389.3,199.14 L389.8,199.11 L390.3,199.08 L390.8,199.04 L391.3,199.01 L391.8,198.97 L392.3,198.92 L392.8,198.88 L393.3,198.83 L393.8,198.77 L394.3,198.72 L394.8,198.66 L395.3,198.60 L395.8,198.53 L396.3,198.46 L396.8,198.39 L397.3,198.32 L397.8,198.24 L398.3,198.17 L398.8,198.09 L399.3,198.00 L399.8,197.92 L400.3,197.84 L400.8,197.75 L401.3,197.67 L401.8,197.58 L402.3,197.50 L402.8,197.42 L403.3,197.33 L403.8,197.25 L404.3,197.18 L404.8,197.10 L405.3,197.03 L405.8,196.97 L406.3,196.90 L406.8,196.85 L407.3,196.80 L407.8,196.75 L408.3,196.71 L408.8,196.67 L409.3,196.64 L409.8,196.62 L410.3,196.61 L410.8,196.60 L411.3,196.60 L411.8,196.61 L412.3,196.62 L412.8,196.64 L413.3,196.67 L413.8,196.70 L414.3,196.74 L414.8,196.79 L415.3,196.84 L415.8,196.89 L416.3,196.95 L416.8,197.02 L417.3,197.09 L417.8,197.16 L418.3,197.24 L418.8,197.32 L419.3,197.40 L419.8,197.48 L420.3,197.57 L420.8,197.65 L421.3,197.74 L421.8,197.82 L422.3,197.90 L422.8,197.99 L423.3,198.07 L423.8,198.15 L424.3,198.23 L424.8,198.30 L425.3,198.38 L425.8,198.45 L426.3,198.52 L426.8,198.58 L427.3,198.65 L427.8,198.71 L428.3,198.76 L428.8,198.82 L429.3,198.87 L429.8,198.91 L430.3,198.96 L430.8,199.00 L431.3,199.04 L431.8,199.07 L432.3,199.10 L432.8,199.13 L433.3,199.16 L433.8,199.19 L434.3,199.21 L434.8,199.23 L435.3,199.25 L435.8,199.27 L436.3,199.28 L436.8,199.30 L437.3,199.31 L437.8,199.32 L438.3,199.33 L438.8,199.34 L439.3,199.35 L439.8,199.35 L440.3,199.36 L440.8,199.37 L441.3,199.37 L441.8,199.37 L442.3,199.38 L442.8,199.38 L443.3,199.38 L443.8,199.39 L444.3,199.39 L444.8,199.39 L445.3,199.39 L445.8,199.39 L446.3,199.39 L446.8,199.40 L446.8,199.4 Z" fill="#3fd0d3" fill-opacity="0.48" stroke="#555" stroke-opacity="0.55" stroke-width="0.45"/>
<path d="M423.8,199.4 L423.8,199.40 L424.3,199.40 L424.8,199.39 L425.3,199.39 L425.8,199.39 L426.3,199.38 L426.8,199.38 L427.3,199.37 L427.8,199.35 L428.3,199.34 L428.8,199.32 L429.3,199.29 L429.8,199.26 L430.3,199.22 L430.8,199.18 L431.3,199.12 L431.8,199.06 L432.3,198.98 L432.8,198.90 L433.3,198.81 L433.8,198.70 L434.3,198.59 L434.8,198.48 L435.3,198.36 L435.8,198.24 L436.3,198.12 L436.8,198.00 L437.3,197.90 L437.8,197.80 L438.3,197.72 L438.8,197.66 L439.3,197.62 L439.8,197.60 L440.3,197.60 L440.8,197.63 L441.3,197.67 L441.8,197.74 L442.3,197.82 L442.8,197.92 L443.3,198.02 L443.8,198.14 L444.3,198.26 L444.8,198.38 L445.3,198.50 L445.8,198.62 L446.3,198.72 L446.8,198.83 L447.3,198.92 L447.8,199.00 L448.3,199.07 L448.8,199.13 L449.3,199.19 L449.8,199.23 L450.3,199.27 L450.8,199.30 L451.3,199.32 L451.8,199.34 L452.3,199.36 L452.8,199.37 L453.3,199.38 L453.8,199.38 L454.3,199.39 L454.8,199.39 L455.3,199.39 L455.8,199.40 L455.8,199.4 Z" fill="#f2ea78" fill-opacity="0.55" stroke="#555" stroke-opacity="0.55" stroke-width="0.45"/>
<path d="M429.3,199.4 L429.3,199.38 L429.8,199.38 L430.3,199.37 L430.8,199.37 L431.3,199.35 L431.8,199.34 L432.3,199.32 L432.8,199.30 L433.3,199.28 L433.8,199.25 L434.3,199.21 L434.8,199.16 L435.3,199.10 L435.8,199.04 L436.3,198.96 L436.8,198.86 L437.3,198.75 L437.8,198.62 L438.3,198.48 L438.8,198.31 L439.3,198.11 L439.8,197.90 L440.3,197.66 L440.8,197.39 L441.3,197.09 L441.8,196.77 L442.3,196.42 L442.8,196.05 L443.3,195.66 L443.8,195.24 L444.3,194.81 L444.8,194.37 L445.3,193.91 L445.8,193.46 L446.3,193.00 L446.8,192.55 L447.3,192.12 L447.8,191.71 L448.3,191.33 L448.8,190.98 L449.3,190.68 L449.8,190.41 L450.3,190.20 L450.8,190.04 L451.3,189.94 L451.8,189.90 L452.3,189.92 L452.8,190.00 L453.3,190.13 L453.8,190.32 L454.3,190.56 L454.8,190.86 L455.3,191.19 L455.8,191.56 L456.3,191.96 L456.8,192.38 L457.3,192.82 L457.8,193.27 L458.3,193.73 L458.8,194.19 L459.3,194.63 L459.8,195.07 L460.3,195.49 L460.8,195.90 L461.3,196.28 L461.8,196.64 L462.3,196.97 L462.8,197.27 L463.3,197.55 L463.8,197.80 L464.3,198.03 L464.8,198.23 L465.3,198.41 L465.8,198.57 L466.3,198.70 L466.8,198.82 L467.3,198.92 L467.8,199.01 L468.3,199.08 L468.8,199.14 L469.3,199.19 L469.8,199.23 L470.3,199.27 L470.8,199.29 L471.3,199.32 L471.8,199.34 L472.3,199.35 L472.8,199.36 L473.3,199.37 L473.8,199.38 L474.3,199.38 L474.3,199.4 Z" fill="#ef7d84" fill-opacity="0.5" stroke="#555" stroke-opacity="0.55" stroke-width="0.45"/>
<path d="M380.8,199.02 L381.3,198.99 L381.8,198.84 L382.3,198.91 L382.8,198.70 L383.3,198.89 L383.8,198.65 L384.3,198.88 L384.8,198.92 L385.3,198.76 L385.8,198.78 L386.3,198.79 L386.8,198.60 L387.3,198.80 L387.8,198.60 L388.3,198.51 L388.8,198.64 L389.3,198.59 L389.8,198.39 L390.3,198.49 L390.8,198.62 L391.3,198.63 L391.8,198.58 L392.3,198.44 L392.8,198.49 L393.3,198.22 L393.8,198.25 L394.3,198.24 L394.8,198.10 L395.3,197.87 L395.8,198.08 L396.3,198.05 L396.8,197.92 L397.3,197.84 L397.8,197.53 L398.3,197.53 L398.8,197.56 L399.3,197.59 L399.8,197.55 L400.3,197.44 L400.8,197.06 L401.3,197.06 L401.8,197.17 L402.3,196.90 L402.8,197.04 L403.3,196.78 L403.8,196.77 L404.3,196.79 L404.8,196.46 L405.3,196.40 L405.8,196.41 L406.3,196.49 L406.8,196.23 L407.3,196.27 L407.8,196.13 L408.3,196.32 L408.8,195.96 L409.3,196.29 L409.8,196.18 L410.3,196.10 L410.8,196.17 L411.3,196.22 L411.8,195.98 L412.3,195.87 L412.8,196.16 L413.3,196.21 L413.8,196.08 L414.3,196.30 L414.8,196.27 L415.3,196.21 L415.8,196.37 L416.3,196.54 L416.8,196.64 L417.3,196.52 L417.8,196.42 L418.3,196.52 L418.8,196.93 L419.3,196.85 L419.8,196.93 L420.3,197.13 L420.8,197.02 L421.3,197.18 L421.8,197.13 L422.3,197.42 L422.8,197.24 L423.3,197.36 L423.8,197.56 L424.3,197.76 L424.8,197.68 L425.3,197.87 L425.8,197.69 L426.3,197.72 L426.8,197.79 L427.3,197.64 L427.8,198.01 L428.3,197.73 L428.8,197.66 L429.3,197.89 L429.8,197.74 L430.3,197.77 L430.8,197.46 L431.3,197.29 L431.8,197.31 L432.3,197.02 L432.8,196.99 L433.3,196.67 L433.8,196.65 L434.3,196.17 L434.8,196.18 L435.3,196.14 L435.8,195.90 L436.3,195.43 L436.8,195.17 L437.3,195.06 L437.8,195.05 L438.3,194.58 L438.8,194.47 L439.3,194.54 L439.8,194.27 L440.3,194.00 L440.8,194.11 L441.3,193.93 L441.8,193.65 L442.3,193.27 L442.8,193.04 L443.3,193.11 L443.8,192.66 L444.3,192.48 L444.8,192.20 L445.3,192.04 L445.8,191.61 L446.3,191.45 L446.8,191.03 L447.3,190.88 L447.8,190.73 L448.3,190.33 L448.8,190.08 L449.3,189.90 L449.8,189.69 L450.3,189.47 L450.8,189.32 L451.3,189.40 L451.8,189.36 L452.3,189.31 L452.8,189.40 L453.3,189.58 L453.8,189.68 L454.3,190.13 L454.8,190.28 L455.3,190.72 L455.8,190.89 L456.3,191.32 L456.8,191.71 L457.3,192.26 L457.8,192.82 L458.3,193.01 L458.8,193.63 L459.3,194.13 L459.8,194.61 L460.3,194.98 L460.8,195.26 L461.3,195.60 L461.8,196.09 L462.3,196.33 L462.8,196.84 L463.3,197.02 L463.8,197.31 L464.3,197.56 L464.8,197.74 L465.3,197.76 L465.8,197.92 L466.3,198.27 L466.8,198.38 L467.3,198.26 L467.8,198.39 L468.3,198.46 L468.8,198.54 L469.3,198.56 L469.8,198.77 L470.3,198.89 L470.8,198.80 L471.3,198.95 L471.8,198.60 L472.3,198.79 L472.8,198.74 L473.3,198.63 L473.8,198.71 L474.3,198.94 L474.8,198.90 L475.3,199.00 L475.8,198.72 L476.3,198.75 L476.8,198.85 L477.3,198.90 L477.8,198.94 L478.3,198.85 L478.8,198.76 L479.3,198.69 L479.8,198.71 L480.3,198.70 L480.8,198.87 L481.3,198.88 L481.8,198.92 L482.3,198.66 L482.8,198.98 L483.3,198.99 L483.8,198.94 L484.3,198.68" fill="none" stroke="#b4b4b4" stroke-width="1.05" stroke-linejoin="round" stroke-dasharray="0.9,0.35"/>
<path d="M54.0,219.8 L54.0,219.79 L54.5,219.78 L55.0,219.78 L55.5,219.77 L56.0,219.76 L56.5,219.76 L57.0,219.74 L57.5,219.73 L58.0,219.71 L58.5,219.69 L59.0,219.67 L59.5,219.64 L60.0,219.60 L60.5,219.56 L61.0,219.51 L61.5,219.46 L62.0,219.39 L62.5,219.32 L63.0,219.23 L63.5,219.13 L64.0,219.01 L64.5,218.89 L65.0,218.74 L65.5,218.59 L66.0,218.41 L66.5,218.22 L67.0,218.01 L67.5,217.78 L68.0,217.53 L68.5,217.27 L69.0,216.99 L69.5,216.69 L70.0,216.39 L70.5,216.07 L71.0,215.74 L71.5,215.41 L72.0,215.07 L72.5,214.73 L73.0,214.40 L73.5,214.07 L74.0,213.76 L74.5,213.46 L75.0,213.17 L75.5,212.92 L76.0,212.68 L76.5,212.48 L77.0,212.31 L77.5,212.18 L78.0,212.08 L78.5,212.02 L79.0,212.00 L79.5,212.02 L80.0,212.08 L80.5,212.18 L81.0,212.31 L81.5,212.48 L82.0,212.68 L82.5,212.92 L83.0,213.17 L83.5,213.46 L84.0,213.76 L84.5,214.07 L85.0,214.40 L85.5,214.73 L86.0,215.07 L86.5,215.41 L87.0,215.74 L87.5,216.07 L88.0,216.39 L88.5,216.69 L89.0,216.99 L89.5,217.27 L90.0,217.53 L90.5,217.78 L91.0,218.01 L91.5,218.22 L92.0,218.41 L92.5,218.59 L93.0,218.74 L93.5,218.89 L94.0,219.01 L94.5,219.13 L95.0,219.23 L95.5,219.32 L96.0,219.39 L96.5,219.46 L97.0,219.51 L97.5,219.56 L98.0,219.60 L98.5,219.64 L99.0,219.67 L99.5,219.69 L100.0,219.71 L100.5,219.73 L101.0,219.74 L101.5,219.76 L102.0,219.76 L102.5,219.77 L103.0,219.78 L103.5,219.78 L104.0,219.79 L104.0,219.8 Z" fill="#3fd0d3" fill-opacity="0.48" stroke="#555" stroke-opacity="0.55" stroke-width="0.45"/>
<path d="M67.5,219.8 L67.5,219.76 L68.0,219.74 L68.5,219.72 L69.0,219.70 L69.5,219.66 L70.0,219.62 L70.5,219.57 L71.0,219.50 L71.5,219.42 L72.0,219.31 L72.5,219.18 L73.0,219.03 L73.5,218.84 L74.0,218.61 L74.5,218.34 L75.0,218.03 L75.5,217.65 L76.0,217.22 L76.5,216.72 L77.0,216.15 L77.5,215.50 L78.0,214.77 L78.5,213.96 L79.0,213.07 L79.5,212.09 L80.0,211.03 L80.5,209.90 L81.0,208.70 L81.5,207.44 L82.0,206.13 L82.5,204.79 L83.0,203.42 L83.5,202.06 L84.0,200.72 L84.5,199.42 L85.0,198.18 L85.5,197.02 L86.0,195.97 L86.5,195.04 L87.0,194.26 L87.5,193.63 L88.0,193.17 L88.5,192.89 L89.0,192.80 L89.5,192.89 L90.0,193.17 L90.5,193.63 L91.0,194.26 L91.5,195.04 L92.0,195.97 L92.5,197.02 L93.0,198.18 L93.5,199.42 L94.0,200.72 L94.5,202.06 L95.0,203.42 L95.5,204.79 L96.0,206.13 L96.5,207.44 L97.0,208.70 L97.5,209.90 L98.0,211.03 L98.5,212.09 L99.0,213.07 L99.5,213.96 L100.0,214.77 L100.5,215.50 L101.0,216.15 L101.5,216.72 L102.0,217.22 L102.5,217.65 L103.0,218.03 L103.5,218.34 L104.0,218.61 L104.5,218.84 L105.0,219.03 L105.5,219.18 L106.0,219.31 L106.5,219.42 L107.0,219.50 L107.5,219.57 L108.0,219.62 L108.5,219.66 L109.0,219.70 L109.5,219.72 L110.0,219.74 L110.5,219.76 L110.5,219.8 Z" fill="#ef7d84" fill-opacity="0.5" stroke="#555" stroke-opacity="0.55" stroke-width="0.45"/>
<path d="M30.5,219.11 L31.0,219.32 L31.5,219.11 L32.0,219.09 L32.5,219.28 L33.0,219.37 L33.5,219.14 L34.0,219.30 L34.5,219.40 L35.0,219.09 L35.5,219.27 L36.0,219.29 L36.5,219.21 L37.0,219.35 L37.5,219.44 L38.0,219.29 L38.5,219.30 L39.0,219.45 L39.5,219.30 L40.0,219.15 L40.5,219.32 L41.0,219.18 L41.5,219.20 L42.0,219.37 L42.5,219.44 L43.0,219.18 L43.5,219.21 L44.0,219.33 L44.5,219.37 L45.0,219.11 L45.5,219.09 L46.0,219.36 L46.5,219.22 L47.0,219.22 L47.5,219.32 L48.0,219.44 L48.5,219.32 L49.0,219.19 L49.5,219.21 L50.0,219.24 L50.5,219.40 L51.0,219.36 L51.5,219.32 L52.0,219.28 L52.5,219.30 L53.0,219.08 L53.5,219.39 L54.0,219.04 L54.5,219.34 L55.0,219.09 L55.5,219.32 L56.0,219.18 L56.5,219.25 L57.0,219.38 L57.5,219.06 L58.0,219.04 L58.5,219.23 L59.0,219.01 L59.5,219.09 L60.0,218.85 L60.5,219.18 L61.0,219.00 L61.5,219.00 L62.0,218.77 L62.5,218.63 L63.0,218.51 L63.5,218.52 L64.0,218.46 L64.5,218.15 L65.0,218.27 L65.5,218.03 L66.0,217.63 L66.5,217.52 L67.0,217.05 L67.5,217.13 L68.0,216.67 L68.5,216.44 L69.0,216.15 L69.5,215.71 L70.0,215.28 L70.5,214.70 L71.0,214.17 L71.5,213.60 L72.0,213.12 L72.5,212.34 L73.0,211.77 L73.5,210.90 L74.0,210.51 L74.5,209.61 L75.0,208.83 L75.5,208.05 L76.0,206.98 L76.5,206.34 L77.0,205.13 L77.5,204.36 L78.0,203.36 L78.5,202.21 L79.0,201.16 L79.5,200.18 L80.0,199.15 L80.5,197.67 L81.0,196.77 L81.5,195.74 L82.0,194.40 L82.5,193.35 L83.0,192.37 L83.5,191.36 L84.0,190.20 L84.5,189.54 L85.0,188.73 L85.5,187.85 L86.0,187.54 L86.5,187.12 L87.0,186.96 L87.5,186.66 L88.0,186.72 L88.5,187.04 L89.0,187.45 L89.5,188.09 L90.0,188.59 L90.5,189.61 L91.0,190.48 L91.5,191.82 L92.0,192.94 L92.5,194.58 L93.0,195.94 L93.5,197.14 L94.0,198.77 L94.5,200.31 L95.0,201.92 L95.5,203.44 L96.0,205.03 L96.5,206.46 L97.0,207.63 L97.5,208.89 L98.0,210.27 L98.5,211.23 L99.0,212.46 L99.5,213.20 L100.0,214.22 L100.5,214.84 L101.0,215.59 L101.5,216.08 L102.0,216.76 L102.5,217.07 L103.0,217.40 L103.5,217.92 L104.0,218.12 L104.5,218.20 L105.0,218.45 L105.5,218.58 L106.0,218.64 L106.5,218.83 L107.0,219.06 L107.5,219.04 L108.0,218.94 L108.5,219.08 L109.0,219.04 L109.5,219.22 L110.0,219.21 L110.5,219.02 L111.0,219.09 L111.5,219.16 L112.0,219.39 L112.5,219.19 L113.0,219.43 L113.5,219.07 L114.0,219.06 L114.5,219.16 L115.0,219.34 L115.5,219.11 L116.0,219.38 L116.5,219.12 L117.0,219.24 L117.5,219.44 L118.0,219.09 L118.5,219.27 L119.0,219.12 L119.5,219.17 L120.0,219.24 L120.5,219.10 L121.0,219.37 L121.5,219.09 L122.0,219.31 L122.5,219.44 L123.0,219.32 L123.5,219.42 L124.0,219.42 L124.5,219.20 L125.0,219.40 L125.5,219.39 L126.0,219.33 L126.5,219.34 L127.0,219.08 L127.5,219.09 L128.0,219.10 L128.5,219.05 L129.0,219.27 L129.5,219.13 L130.0,219.34 L130.5,219.08 L131.0,219.13 L131.5,219.16 L132.0,219.36 L132.5,219.41 L133.0,219.08 L133.5,219.23 L134.0,219.21" fill="none" stroke="#b4b4b4" stroke-width="1.05" stroke-linejoin="round" stroke-dasharray="0.9,0.35"/>
<path d="M162.0,219.8 L162.0,219.80 L162.5,219.80 L163.0,219.80 L163.5,219.79 L164.0,219.79 L164.5,219.79 L165.0,219.79 L165.5,219.79 L166.0,219.78 L166.5,219.78 L167.0,219.77 L167.5,219.77 L168.0,219.76 L168.5,219.75 L169.0,219.75 L169.5,219.73 L170.0,219.72 L170.5,219.71 L171.0,219.69 L171.5,219.67 L172.0,219.65 L172.5,219.62 L173.0,219.60 L173.5,219.57 L174.0,219.53 L174.5,219.50 L175.0,219.45 L175.5,219.41 L176.0,219.36 L176.5,219.31 L177.0,219.26 L177.5,219.20 L178.0,219.14 L178.5,219.08 L179.0,219.02 L179.5,218.96 L180.0,218.89 L180.5,218.83 L181.0,218.76 L181.5,218.70 L182.0,218.64 L182.5,218.58 L183.0,218.53 L183.5,218.48 L184.0,218.43 L184.5,218.39 L185.0,218.36 L185.5,218.33 L186.0,218.32 L186.5,218.30 L187.0,218.30 L187.5,218.30 L188.0,218.32 L188.5,218.33 L189.0,218.36 L189.5,218.39 L190.0,218.43 L190.5,218.48 L191.0,218.53 L191.5,218.58 L192.0,218.64 L192.5,218.70 L193.0,218.76 L193.5,218.83 L194.0,218.89 L194.5,218.96 L195.0,219.02 L195.5,219.08 L196.0,219.14 L196.5,219.20 L197.0,219.26 L197.5,219.31 L198.0,219.36 L198.5,219.41 L199.0,219.45 L199.5,219.50 L200.0,219.53 L200.5,219.57 L201.0,219.60 L201.5,219.62 L202.0,219.65 L202.5,219.67 L203.0,219.69 L203.5,219.71 L204.0,219.72 L204.5,219.73 L205.0,219.75 L205.5,219.75 L206.0,219.76 L206.5,219.77 L207.0,219.77 L207.5,219.78 L208.0,219.78 L208.5,219.79 L209.0,219.79 L209.5,219.79 L210.0,219.79 L210.5,219.79 L211.0,219.80 L211.5,219.80 L212.0,219.80 L212.0,219.8 Z" fill="#ef7d84" fill-opacity="0.5" stroke="#555" stroke-opacity="0.55" stroke-width="0.45"/>
<path d="M191.5,219.8 L191.5,219.75 L192.0,219.74 L192.5,219.72 L193.0,219.70 L193.5,219.67 L194.0,219.63 L194.5,219.59 L195.0,219.53 L195.5,219.46 L196.0,219.38 L196.5,219.28 L197.0,219.16 L197.5,219.02 L198.0,218.85 L198.5,218.65 L199.0,218.41 L199.5,218.14 L200.0,217.82 L200.5,217.46 L201.0,217.05 L201.5,216.59 L202.0,216.07 L202.5,215.50 L203.0,214.86 L203.5,214.16 L204.0,213.41 L204.5,212.59 L205.0,211.72 L205.5,210.79 L206.0,209.82 L206.5,208.81 L207.0,207.77 L207.5,206.71 L208.0,205.64 L208.5,204.57 L209.0,203.51 L209.5,202.49 L210.0,201.51 L210.5,200.59 L211.0,199.74 L211.5,198.98 L212.0,198.32 L212.5,197.76 L213.0,197.33 L213.5,197.02 L214.0,196.84 L214.5,196.80 L215.0,196.90 L215.5,197.13 L216.0,197.49 L216.5,197.97 L217.0,198.57 L217.5,199.27 L218.0,200.07 L218.5,200.95 L219.0,201.89 L219.5,202.89 L220.0,203.93 L220.5,204.99 L221.0,206.06 L221.5,207.13 L222.0,208.19 L222.5,209.22 L223.0,210.21 L223.5,211.17 L224.0,212.07 L224.5,212.92 L225.0,213.72 L225.5,214.45 L226.0,215.12 L226.5,215.73 L227.0,216.29 L227.5,216.78 L228.0,217.22 L228.5,217.61 L229.0,217.95 L229.5,218.25 L230.0,218.51 L230.5,218.73 L231.0,218.92 L231.5,219.08 L232.0,219.21 L232.5,219.32 L233.0,219.42 L233.5,219.49 L234.0,219.56 L234.5,219.61 L235.0,219.65 L235.5,219.68 L236.0,219.71 L236.5,219.73 L237.0,219.75 L237.5,219.76 L237.5,219.8 Z" fill="#3fd0d3" fill-opacity="0.48" stroke="#555" stroke-opacity="0.55" stroke-width="0.45"/>
<path d="M138.5,219.11 L139.0,219.39 L139.5,219.17 L140.0,219.26 L140.5,219.14 L141.0,219.27 L141.5,219.37 L142.0,219.07 L142.5,219.34 L143.0,219.15 L143.5,219.12 L144.0,219.35 L144.5,219.17 L145.0,219.29 L145.5,219.36 L146.0,219.36 L146.5,219.07 L147.0,219.30 L147.5,219.25 L148.0,219.25 L148.5,219.44 L149.0,219.15 L149.5,219.15 L150.0,219.10 L150.5,219.31 L151.0,219.37 L151.5,219.31 L152.0,219.16 L152.5,219.19 L153.0,219.29 L153.5,219.24 L154.0,219.39 L154.5,219.08 L155.0,219.26 L155.5,219.25 L156.0,219.14 L156.5,219.37 L157.0,219.16 L157.5,219.31 L158.0,219.12 L158.5,219.41 L159.0,219.34 L159.5,219.20 L160.0,219.26 L160.5,219.30 L161.0,219.22 L161.5,219.36 L162.0,219.27 L162.5,219.45 L163.0,219.13 L163.5,219.34 L164.0,219.11 L164.5,219.22 L165.0,219.20 L165.5,219.19 L166.0,219.38 L166.5,219.12 L167.0,219.31 L167.5,219.07 L168.0,219.10 L168.5,219.13 L169.0,219.07 L169.5,219.21 L170.0,219.10 L170.5,218.98 L171.0,219.26 L171.5,219.28 L172.0,219.13 L172.5,219.07 L173.0,219.19 L173.5,219.13 L174.0,218.84 L174.5,218.99 L175.0,219.05 L175.5,218.99 L176.0,218.78 L176.5,218.89 L177.0,218.72 L177.5,218.64 L178.0,218.62 L178.5,218.53 L179.0,218.33 L179.5,218.60 L180.0,218.16 L180.5,218.39 L181.0,218.39 L181.5,218.03 L182.0,218.05 L182.5,218.00 L183.0,218.07 L183.5,217.79 L184.0,217.93 L184.5,217.71 L185.0,217.86 L185.5,217.69 L186.0,217.62 L186.5,217.70 L187.0,217.62 L187.5,217.76 L188.0,217.50 L188.5,217.46 L189.0,217.65 L189.5,217.46 L190.0,217.36 L190.5,217.58 L191.0,217.25 L191.5,217.19 L192.0,217.46 L192.5,217.31 L193.0,217.30 L193.5,217.14 L194.0,217.11 L194.5,216.82 L195.0,216.78 L195.5,216.61 L196.0,216.37 L196.5,216.21 L197.0,215.83 L197.5,215.63 L198.0,215.61 L198.5,215.29 L199.0,215.06 L199.5,214.60 L200.0,214.32 L200.5,213.69 L201.0,213.23 L201.5,212.68 L202.0,212.49 L202.5,212.01 L203.0,211.14 L203.5,210.65 L204.0,209.77 L204.5,209.27 L205.0,208.54 L205.5,207.84 L206.0,206.65 L206.5,205.96 L207.0,205.10 L207.5,204.19 L208.0,203.14 L208.5,202.20 L209.0,201.44 L209.5,200.69 L210.0,199.76 L210.5,198.78 L211.0,198.25 L211.5,197.50 L212.0,196.99 L212.5,196.58 L213.0,196.19 L213.5,196.09 L214.0,195.86 L214.5,195.76 L215.0,196.23 L215.5,196.39 L216.0,196.59 L216.5,197.07 L217.0,198.08 L217.5,198.56 L218.0,199.38 L218.5,200.19 L219.0,201.30 L219.5,202.45 L220.0,203.43 L220.5,204.33 L221.0,205.40 L221.5,206.69 L222.0,207.57 L222.5,208.60 L223.0,209.60 L223.5,210.80 L224.0,211.54 L224.5,212.44 L225.0,213.12 L225.5,213.96 L226.0,214.72 L226.5,215.11 L227.0,215.82 L227.5,216.12 L228.0,216.75 L228.5,217.04 L229.0,217.28 L229.5,217.86 L230.0,217.87 L230.5,218.35 L231.0,218.19 L231.5,218.72 L232.0,218.57 L232.5,218.83 L233.0,218.99 L233.5,218.99 L234.0,219.01 L234.5,219.09 L235.0,219.25 L235.5,219.12 L236.0,219.24 L236.5,218.99 L237.0,219.24 L237.5,219.23 L238.0,219.33 L238.5,219.04 L239.0,219.30 L239.5,219.18 L240.0,219.11 L240.5,219.29 L241.0,219.14 L241.5,219.33 L242.0,219.40 L242.5,219.43" fill="none" stroke="#b4b4b4" stroke-width="1.05" stroke-linejoin="round" stroke-dasharray="0.9,0.35"/>
<path d="M255.0,219.8 L255.0,219.79 L255.5,219.79 L256.0,219.79 L256.5,219.78 L257.0,219.78 L257.5,219.78 L258.0,219.77 L258.5,219.77 L259.0,219.77 L259.5,219.76 L260.0,219.76 L260.5,219.75 L261.0,219.74 L261.5,219.74 L262.0,219.73 L262.5,219.72 L263.0,219.71 L263.5,219.70 L264.0,219.69 L264.5,219.67 L265.0,219.66 L265.5,219.64 L266.0,219.62 L266.5,219.60 L267.0,219.58 L267.5,219.56 L268.0,219.53 L268.5,219.50 L269.0,219.47 L269.5,219.44 L270.0,219.40 L270.5,219.36 L271.0,219.32 L271.5,219.27 L272.0,219.22 L272.5,219.17 L273.0,219.11 L273.5,219.05 L274.0,218.98 L274.5,218.91 L275.0,218.84 L275.5,218.76 L276.0,218.67 L276.5,218.59 L277.0,218.49 L277.5,218.39 L278.0,218.29 L278.5,218.18 L279.0,218.07 L279.5,217.95 L280.0,217.83 L280.5,217.70 L281.0,217.57 L281.5,217.43 L282.0,217.29 L282.5,217.14 L283.0,216.99 L283.5,216.84 L284.0,216.68 L284.5,216.52 L285.0,216.36 L285.5,216.19 L286.0,216.03 L286.5,215.86 L287.0,215.69 L287.5,215.52 L288.0,215.35 L288.5,215.18 L289.0,215.01 L289.5,214.85 L290.0,214.68 L290.5,214.52 L291.0,214.37 L291.5,214.21 L292.0,214.07 L292.5,213.93 L293.0,213.79 L293.5,213.66 L294.0,213.54 L294.5,213.42 L295.0,213.32 L295.5,213.22 L296.0,213.13 L296.5,213.05 L297.0,212.99 L297.5,212.93 L298.0,212.88 L298.5,212.84 L299.0,212.82 L299.5,212.80 L300.0,212.80 L300.5,212.81 L301.0,212.83 L301.5,212.86 L302.0,212.90 L302.5,212.95 L303.0,213.01 L303.5,213.08 L304.0,213.17 L304.5,213.26 L305.0,213.36 L305.5,213.47 L306.0,213.59 L306.5,213.71 L307.0,213.84 L307.5,213.98 L308.0,214.13 L308.5,214.28 L309.0,214.43 L309.5,214.59 L310.0,214.75 L310.5,214.91 L311.0,215.08 L311.5,215.25 L312.0,215.42 L312.5,215.59 L313.0,215.76 L313.5,215.93 L314.0,216.09 L314.5,216.26 L315.0,216.43 L315.5,216.59 L316.0,216.75 L316.5,216.90 L317.0,217.05 L317.5,217.20 L318.0,217.35 L318.5,217.49 L319.0,217.62 L319.5,217.75 L320.0,217.88 L320.5,218.00 L321.0,218.12 L321.5,218.23 L322.0,218.33 L322.5,218.43 L323.0,218.53 L323.5,218.62 L324.0,218.71 L324.5,218.79 L325.0,218.87 L325.5,218.94 L326.0,219.01 L326.5,219.07 L327.0,219.13 L327.5,219.19 L328.0,219.24 L328.5,219.29 L329.0,219.33 L329.5,219.38 L330.0,219.41 L330.5,219.45 L331.0,219.48 L331.5,219.51 L332.0,219.54 L332.5,219.57 L333.0,219.59 L333.5,219.61 L334.0,219.63 L334.5,219.65 L335.0,219.66 L335.5,219.68 L336.0,219.69 L336.5,219.70 L337.0,219.71 L337.5,219.72 L338.0,219.73 L338.5,219.74 L339.0,219.75 L339.5,219.75 L340.0,219.76 L340.5,219.76 L341.0,219.77 L341.5,219.77 L342.0,219.78 L342.5,219.78 L343.0,219.78 L343.5,219.78 L344.0,219.79 L344.5,219.79 L344.5,219.8 Z" fill="#f2ea78" fill-opacity="0.55" stroke="#555" stroke-opacity="0.55" stroke-width="0.45"/>
<path d="M320.5,219.8 L320.5,219.78 L321.0,219.78 L321.5,219.78 L322.0,219.77 L322.5,219.76 L323.0,219.75 L323.5,219.74 L324.0,219.73 L324.5,219.72 L325.0,219.70 L325.5,219.68 L326.0,219.65 L326.5,219.63 L327.0,219.59 L327.5,219.55 L328.0,219.51 L328.5,219.46 L329.0,219.40 L329.5,219.33 L330.0,219.26 L330.5,219.17 L331.0,219.08 L331.5,218.97 L332.0,218.85 L332.5,218.72 L333.0,218.57 L333.5,218.41 L334.0,218.23 L334.5,218.04 L335.0,217.83 L335.5,217.61 L336.0,217.37 L336.5,217.12 L337.0,216.85 L337.5,216.56 L338.0,216.26 L338.5,215.95 L339.0,215.63 L339.5,215.30 L340.0,214.97 L340.5,214.63 L341.0,214.28 L341.5,213.94 L342.0,213.59 L342.5,213.26 L343.0,212.93 L343.5,212.62 L344.0,212.31 L344.5,212.03 L345.0,211.77 L345.5,211.53 L346.0,211.32 L346.5,211.13 L347.0,210.98 L347.5,210.86 L348.0,210.77 L348.5,210.72 L349.0,210.70 L349.5,210.72 L350.0,210.77 L350.5,210.86 L351.0,210.98 L351.5,211.13 L352.0,211.32 L352.5,211.53 L353.0,211.77 L353.5,212.03 L354.0,212.31 L354.5,212.62 L355.0,212.93 L355.5,213.26 L356.0,213.59 L356.5,213.94 L357.0,214.28 L357.5,214.63 L358.0,214.97 L358.5,215.30 L359.0,215.63 L359.5,215.95 L360.0,216.26 L360.5,216.56 L361.0,216.85 L361.5,217.12 L362.0,217.37 L362.5,217.61 L363.0,217.83 L363.5,218.04 L364.0,218.23 L364.5,218.41 L365.0,218.57 L365.5,218.72 L366.0,218.85 L366.5,218.97 L367.0,219.08 L367.5,219.17 L368.0,219.26 L368.5,219.33 L369.0,219.40 L369.5,219.46 L370.0,219.51 L370.5,219.55 L371.0,219.59 L371.5,219.63 L372.0,219.65 L372.5,219.68 L373.0,219.70 L373.5,219.72 L374.0,219.73 L374.5,219.74 L375.0,219.75 L375.5,219.76 L375.5,219.8 Z" fill="#ef7d84" fill-opacity="0.5" stroke="#555" stroke-opacity="0.55" stroke-width="0.45"/>
<path d="M246.5,219.27 L247.0,219.10 L247.5,219.37 L248.0,219.27 L248.5,219.14 L249.0,219.34 L249.5,219.39 L250.0,219.24 L250.5,219.28 L251.0,219.07 L251.5,219.09 L252.0,219.35 L252.5,219.22 L253.0,219.28 L253.5,219.43 L254.0,219.26 L254.5,219.07 L255.0,219.32 L255.5,219.20 L256.0,219.15 L256.5,219.41 L257.0,219.06 L257.5,219.38 L258.0,219.30 L258.5,219.13 L259.0,219.41 L259.5,219.26 L260.0,219.36 L260.5,219.21 L261.0,219.39 L261.5,219.33 L262.0,219.29 L262.5,219.34 L263.0,219.32 L263.5,219.27 L264.0,219.13 L264.5,219.27 L265.0,218.98 L265.5,219.12 L266.0,219.17 L266.5,219.16 L267.0,218.89 L267.5,219.19 L268.0,218.88 L268.5,219.11 L269.0,218.74 L269.5,218.92 L270.0,218.81 L270.5,218.66 L271.0,218.93 L271.5,218.89 L272.0,218.59 L272.5,218.58 L273.0,218.47 L273.5,218.59 L274.0,218.43 L274.5,218.49 L275.0,218.31 L275.5,218.30 L276.0,218.09 L276.5,218.12 L277.0,218.03 L277.5,217.79 L278.0,217.91 L278.5,217.51 L279.0,217.52 L279.5,217.51 L280.0,217.43 L280.5,217.15 L281.0,217.02 L281.5,216.79 L282.0,216.79 L282.5,216.63 L283.0,216.29 L283.5,216.38 L284.0,215.94 L284.5,215.82 L285.0,215.61 L285.5,215.47 L286.0,215.58 L286.5,215.18 L287.0,215.10 L287.5,215.09 L288.0,214.60 L288.5,214.57 L289.0,214.34 L289.5,214.27 L290.0,214.30 L290.5,213.83 L291.0,213.95 L291.5,213.76 L292.0,213.47 L292.5,213.50 L293.0,213.25 L293.5,213.02 L294.0,213.15 L294.5,212.81 L295.0,212.93 L295.5,212.68 L296.0,212.52 L296.5,212.43 L297.0,212.62 L297.5,212.50 L298.0,212.15 L298.5,212.34 L299.0,212.30 L299.5,212.30 L300.0,212.17 L300.5,212.16 L301.0,212.22 L301.5,212.35 L302.0,212.32 L302.5,212.39 L303.0,212.59 L303.5,212.35 L304.0,212.43 L304.5,212.60 L305.0,212.61 L305.5,212.93 L306.0,212.90 L306.5,213.26 L307.0,213.20 L307.5,213.35 L308.0,213.40 L308.5,213.59 L309.0,213.73 L309.5,214.13 L310.0,214.08 L310.5,214.37 L311.0,214.61 L311.5,214.75 L312.0,214.75 L312.5,214.90 L313.0,215.07 L313.5,215.31 L314.0,215.68 L314.5,215.85 L315.0,215.85 L315.5,216.15 L316.0,216.26 L316.5,216.51 L317.0,216.64 L317.5,216.56 L318.0,216.90 L318.5,216.79 L319.0,217.13 L319.5,217.05 L320.0,217.39 L320.5,217.53 L321.0,217.59 L321.5,217.85 L322.0,217.78 L322.5,217.89 L323.0,218.13 L323.5,217.87 L324.0,218.14 L324.5,218.36 L325.0,218.03 L325.5,218.38 L326.0,218.41 L326.5,218.54 L327.0,218.54 L327.5,218.31 L328.0,218.37 L328.5,218.40 L329.0,218.49 L329.5,218.44 L330.0,218.13 L330.5,218.32 L331.0,218.01 L331.5,217.98 L332.0,218.19 L332.5,217.79 L333.0,218.00 L333.5,217.58 L334.0,217.39 L334.5,217.26 L335.0,217.13 L335.5,216.81 L336.0,216.85 L336.5,216.45 L337.0,216.30 L337.5,215.98 L338.0,215.77 L338.5,215.26 L339.0,215.00 L339.5,214.60 L340.0,214.32 L340.5,214.00 L341.0,213.53 L341.5,213.23 L342.0,212.99 L342.5,212.76 L343.0,212.19 L343.5,212.10 L344.0,211.91 L344.5,211.54 L345.0,211.13 L345.5,210.80 L346.0,210.70 L346.5,210.51 L347.0,210.25 L347.5,210.19 L348.0,210.24 L348.5,210.18 L349.0,210.04 L349.5,210.24 L350.0,210.37 L350.5,210.26 L351.0,210.30 L351.5,210.68 L352.0,210.69 L352.5,210.82 L353.0,211.37 L353.5,211.63 L354.0,211.77 L354.5,212.13 L355.0,212.20 L355.5,212.51 L356.0,213.07 L356.5,213.27 L357.0,213.68 L357.5,214.21 L358.0,214.23 L358.5,214.88 L359.0,215.25 L359.5,215.42 L360.0,215.91 L360.5,216.02 L361.0,216.33 L361.5,216.38 L362.0,216.85 L362.5,216.92 L363.0,217.17 L363.5,217.45 L364.0,217.79 L364.5,217.94 L365.0,218.02 L365.5,218.21 L366.0,218.24 L366.5,218.42 L367.0,218.60 L367.5,218.58 L368.0,218.51 L368.5,218.90 L369.0,218.92 L369.5,219.10 L370.0,219.12 L370.5,219.18 L371.0,219.07 L371.5,218.94 L372.0,219.02 L372.5,218.94 L373.0,219.01 L373.5,219.13 L374.0,219.15 L374.5,219.39 L375.0,219.25 L375.5,219.31" fill="none" stroke="#b4b4b4" stroke-width="1.05" stroke-linejoin="round" stroke-dasharray="0.9,0.35"/>
<path d="M380.8,219.8 L380.8,219.79 L381.3,219.79 L381.8,219.79 L382.3,219.79 L382.8,219.78 L383.3,219.78 L383.8,219.78 L384.3,219.77 L384.8,219.77 L385.3,219.76 L385.8,219.75 L386.3,219.74 L386.8,219.73 L387.3,219.72 L387.8,219.71 L388.3,219.69 L388.8,219.68 L389.3,219.66 L389.8,219.64 L390.3,219.61 L390.8,219.59 L391.3,219.56 L391.8,219.52 L392.3,219.49 L392.8,219.45 L393.3,219.40 L393.8,219.35 L394.3,219.30 L394.8,219.24 L395.3,219.18 L395.8,219.11 L396.3,219.04 L396.8,218.96 L397.3,218.88 L397.8,218.79 L398.3,218.70 L398.8,218.60 L399.3,218.50 L399.8,218.39 L400.3,218.28 L400.8,218.16 L401.3,218.05 L401.8,217.93 L402.3,217.80 L402.8,217.68 L403.3,217.56 L403.8,217.43 L404.3,217.31 L404.8,217.19 L405.3,217.07 L405.8,216.95 L406.3,216.84 L406.8,216.73 L407.3,216.63 L407.8,216.53 L408.3,216.45 L408.8,216.37 L409.3,216.30 L409.8,216.24 L410.3,216.19 L410.8,216.15 L411.3,216.12 L411.8,216.11 L412.3,216.10 L412.8,216.11 L413.3,216.12 L413.8,216.15 L414.3,216.19 L414.8,216.24 L415.3,216.30 L415.8,216.37 L416.3,216.45 L416.8,216.53 L417.3,216.63 L417.8,216.73 L418.3,216.84 L418.8,216.95 L419.3,217.07 L419.8,217.19 L420.3,217.31 L420.8,217.43 L421.3,217.56 L421.8,217.68 L422.3,217.80 L422.8,217.93 L423.3,218.05 L423.8,218.16 L424.3,218.28 L424.8,218.39 L425.3,218.50 L425.8,218.60 L426.3,218.70 L426.8,218.79 L427.3,218.88 L427.8,218.96 L428.3,219.04 L428.8,219.11 L429.3,219.18 L429.8,219.24 L430.3,219.30 L430.8,219.35 L431.3,219.40 L431.8,219.45 L432.3,219.49 L432.8,219.52 L433.3,219.56 L433.8,219.59 L434.3,219.61 L434.8,219.64 L435.3,219.66 L435.8,219.68 L436.3,219.69 L436.8,219.71 L437.3,219.72 L437.8,219.73 L438.3,219.74 L438.8,219.75 L439.3,219.76 L439.8,219.77 L440.3,219.77 L440.8,219.78 L441.3,219.78 L441.8,219.78 L442.3,219.79 L442.8,219.79 L443.3,219.79 L443.8,219.79 L444.3,219.79 L444.3,219.8 Z" fill="#3fd0d3" fill-opacity="0.48" stroke="#555" stroke-opacity="0.55" stroke-width="0.45"/>
<path d="M423.8,219.8 L423.8,219.80 L424.3,219.80 L424.8,219.79 L425.3,219.79 L425.8,219.79 L426.3,219.78 L426.8,219.78 L427.3,219.77 L427.8,219.75 L428.3,219.74 L428.8,219.72 L429.3,219.69 L429.8,219.66 L430.3,219.62 L430.8,219.58 L431.3,219.52 L431.8,219.46 L432.3,219.38 L432.8,219.30 L433.3,219.21 L433.8,219.10 L434.3,218.99 L434.8,218.88 L435.3,218.76 L435.8,218.64 L436.3,218.52 L436.8,218.40 L437.3,218.30 L437.8,218.20 L438.3,218.12 L438.8,218.06 L439.3,218.02 L439.8,218.00 L440.3,218.00 L440.8,218.03 L441.3,218.07 L441.8,218.14 L442.3,218.22 L442.8,218.32 L443.3,218.42 L443.8,218.54 L444.3,218.66 L444.8,218.78 L445.3,218.90 L445.8,219.02 L446.3,219.12 L446.8,219.23 L447.3,219.32 L447.8,219.40 L448.3,219.47 L448.8,219.53 L449.3,219.59 L449.8,219.63 L450.3,219.67 L450.8,219.70 L451.3,219.72 L451.8,219.74 L452.3,219.76 L452.8,219.77 L453.3,219.78 L453.8,219.78 L454.3,219.79 L454.8,219.79 L455.3,219.79 L455.8,219.80 L455.8,219.8 Z" fill="#f2ea78" fill-opacity="0.55" stroke="#555" stroke-opacity="0.55" stroke-width="0.45"/>
<path d="M429.8,219.8 L429.8,219.78 L430.3,219.78 L430.8,219.77 L431.3,219.76 L431.8,219.74 L432.3,219.73 L432.8,219.70 L433.3,219.68 L433.8,219.64 L434.3,219.60 L434.8,219.54 L435.3,219.48 L435.8,219.40 L436.3,219.30 L436.8,219.19 L437.3,219.05 L437.8,218.90 L438.3,218.71 L438.8,218.50 L439.3,218.26 L439.8,217.98 L440.3,217.67 L440.8,217.32 L441.3,216.94 L441.8,216.52 L442.3,216.06 L442.8,215.58 L443.3,215.06 L443.8,214.51 L444.3,213.94 L444.8,213.36 L445.3,212.76 L445.8,212.17 L446.3,211.58 L446.8,211.00 L447.3,210.46 L447.8,209.94 L448.3,209.47 L448.8,209.06 L449.3,208.70 L449.8,208.41 L450.3,208.20 L450.8,208.06 L451.3,208.00 L451.8,208.03 L452.3,208.13 L452.8,208.32 L453.3,208.58 L453.8,208.91 L454.3,209.30 L454.8,209.75 L455.3,210.25 L455.8,210.78 L456.3,211.35 L456.8,211.93 L457.3,212.52 L457.8,213.12 L458.3,213.71 L458.8,214.28 L459.3,214.84 L459.8,215.37 L460.3,215.87 L460.8,216.34 L461.3,216.78 L461.8,217.17 L462.3,217.53 L462.8,217.86 L463.3,218.15 L463.8,218.41 L464.3,218.63 L464.8,218.83 L465.3,218.99 L465.8,219.14 L466.3,219.26 L466.8,219.36 L467.3,219.45 L467.8,219.52 L468.3,219.58 L468.8,219.62 L469.3,219.66 L469.8,219.69 L470.3,219.72 L470.8,219.74 L471.3,219.75 L471.8,219.76 L472.3,219.77 L472.8,219.78 L472.8,219.8 Z" fill="#ef7d84" fill-opacity="0.5" stroke="#555" stroke-opacity="0.55" stroke-width="0.45"/>
<path d="M380.8,219.19 L381.3,219.41 L381.8,219.22 L382.3,219.29 L382.8,219.24 L383.3,219.27 L383.8,219.38 L384.3,219.13 L384.8,219.10 L385.3,219.17 L385.8,219.36 L386.3,219.15 L386.8,219.03 L387.3,218.98 L387.8,219.06 L388.3,219.33 L388.8,218.98 L389.3,219.04 L389.8,219.18 L390.3,218.90 L390.8,218.91 L391.3,218.85 L391.8,219.07 L392.3,218.91 L392.8,218.94 L393.3,218.93 L393.8,218.70 L394.3,218.70 L394.8,218.76 L395.3,218.61 L395.8,218.39 L396.3,218.46 L396.8,218.24 L397.3,218.30 L397.8,218.04 L398.3,218.33 L398.8,218.06 L399.3,217.93 L399.8,217.75 L400.3,217.54 L400.8,217.57 L401.3,217.51 L401.8,217.32 L402.3,217.24 L402.8,217.05 L403.3,216.83 L403.8,217.08 L404.3,216.83 L404.8,216.48 L405.3,216.69 L405.8,216.28 L406.3,216.47 L406.8,216.12 L407.3,215.96 L407.8,216.09 L408.3,215.95 L408.8,215.93 L409.3,215.67 L409.8,215.68 L410.3,215.60 L410.8,215.67 L411.3,215.54 L411.8,215.37 L412.3,215.44 L412.8,215.37 L413.3,215.67 L413.8,215.59 L414.3,215.69 L414.8,215.75 L415.3,215.63 L415.8,215.95 L416.3,215.87 L416.8,215.87 L417.3,215.90 L417.8,216.37 L418.3,216.38 L418.8,216.40 L419.3,216.34 L419.8,216.76 L420.3,216.61 L420.8,216.91 L421.3,216.97 L421.8,216.94 L422.3,217.40 L422.8,217.41 L423.3,217.59 L423.8,217.70 L424.3,217.72 L424.8,217.65 L425.3,217.78 L425.8,218.02 L426.3,217.80 L426.8,217.96 L427.3,218.13 L427.8,217.86 L428.3,217.85 L428.8,218.06 L429.3,217.72 L429.8,217.70 L430.3,217.84 L430.8,217.82 L431.3,217.34 L431.8,217.20 L432.3,217.32 L432.8,216.86 L433.3,216.66 L433.8,216.50 L434.3,216.19 L434.8,215.90 L435.3,215.92 L435.8,215.48 L436.3,215.21 L436.8,215.23 L437.3,214.85 L437.8,214.63 L438.3,214.36 L438.8,214.26 L439.3,214.18 L439.8,213.99 L440.3,213.67 L440.8,213.62 L441.3,213.12 L441.8,212.87 L442.3,212.88 L442.8,212.43 L443.3,212.15 L443.8,212.05 L444.3,211.44 L444.8,211.08 L445.3,210.88 L445.8,210.56 L446.3,210.08 L446.8,209.48 L447.3,209.20 L447.8,208.67 L448.3,208.58 L448.8,208.27 L449.3,207.90 L449.8,207.47 L450.3,207.59 L450.8,207.53 L451.3,207.24 L451.8,207.56 L452.3,207.45 L452.8,207.89 L453.3,208.10 L453.8,208.27 L454.3,208.58 L454.8,209.22 L455.3,209.71 L455.8,210.41 L456.3,210.86 L456.8,211.48 L457.3,211.86 L457.8,212.48 L458.3,213.04 L458.8,213.72 L459.3,214.21 L459.8,214.97 L460.3,215.37 L460.8,215.87 L461.3,216.31 L461.8,216.53 L462.3,217.10 L462.8,217.38 L463.3,217.69 L463.8,217.71 L464.3,218.02 L464.8,218.28 L465.3,218.49 L465.8,218.42 L466.3,218.53 L466.8,218.83 L467.3,218.87 L467.8,218.82 L468.3,219.12 L468.8,219.17 L469.3,219.27 L469.8,219.14 L470.3,219.06 L470.8,219.32 L471.3,219.23 L471.8,219.02 L472.3,219.23 L472.8,219.28 L473.3,219.10 L473.8,219.08 L474.3,219.29 L474.8,219.39 L475.3,219.19 L475.8,219.15 L476.3,219.08 L476.8,219.18 L477.3,219.33 L477.8,219.24 L478.3,219.33 L478.8,219.27 L479.3,219.26 L479.8,219.08 L480.3,219.09 L480.8,219.08 L481.3,219.26 L481.8,219.06 L482.3,219.39 L482.8,219.08 L483.3,219.19 L483.8,219.10 L484.3,219.28" fill="none" stroke="#b4b4b4" stroke-width="1.05" stroke-linejoin="round" stroke-dasharray="0.9,0.35"/>
<path d="M48.0,240.2 L48.0,240.20 L48.5,240.19 L49.0,240.19 L49.5,240.19 L50.0,240.19 L50.5,240.19 L51.0,240.18 L51.5,240.18 L52.0,240.18 L52.5,240.17 L53.0,240.16 L53.5,240.16 L54.0,240.15 L54.5,240.14 L55.0,240.13 L55.5,240.11 L56.0,240.10 L56.5,240.08 L57.0,240.06 L57.5,240.04 L58.0,240.01 L58.5,239.98 L59.0,239.95 L59.5,239.91 L60.0,239.87 L60.5,239.83 L61.0,239.78 L61.5,239.73 L62.0,239.67 L62.5,239.61 L63.0,239.54 L63.5,239.47 L64.0,239.39 L64.5,239.31 L65.0,239.22 L65.5,239.13 L66.0,239.04 L66.5,238.94 L67.0,238.84 L67.5,238.73 L68.0,238.63 L68.5,238.52 L69.0,238.42 L69.5,238.31 L70.0,238.21 L70.5,238.11 L71.0,238.01 L71.5,237.91 L72.0,237.83 L72.5,237.74 L73.0,237.67 L73.5,237.60 L74.0,237.54 L74.5,237.49 L75.0,237.46 L75.5,237.43 L76.0,237.41 L76.5,237.40 L77.0,237.40 L77.5,237.42 L78.0,237.44 L78.5,237.48 L79.0,237.52 L79.5,237.58 L80.0,237.64 L80.5,237.71 L81.0,237.79 L81.5,237.88 L82.0,237.97 L82.5,238.07 L83.0,238.17 L83.5,238.27 L84.0,238.37 L84.5,238.48 L85.0,238.59 L85.5,238.69 L86.0,238.80 L86.5,238.90 L87.0,239.00 L87.5,239.09 L88.0,239.19 L88.5,239.27 L89.0,239.36 L89.5,239.44 L90.0,239.51 L90.5,239.58 L91.0,239.65 L91.5,239.71 L92.0,239.76 L92.5,239.81 L93.0,239.86 L93.5,239.90 L94.0,239.94 L94.5,239.97 L95.0,240.00 L95.5,240.03 L96.0,240.05 L96.5,240.07 L97.0,240.09 L97.5,240.11 L98.0,240.12 L98.5,240.13 L99.0,240.14 L99.5,240.15 L100.0,240.16 L100.5,240.17 L101.0,240.17 L101.5,240.18 L102.0,240.18 L102.5,240.19 L103.0,240.19 L103.5,240.19 L104.0,240.19 L104.5,240.19 L105.0,240.19 L105.0,240.2 Z" fill="#3fd0d3" fill-opacity="0.48" stroke="#555" stroke-opacity="0.55" stroke-width="0.45"/>
<path d="M67.5,240.2 L67.5,240.18 L68.0,240.17 L68.5,240.16 L69.0,240.14 L69.5,240.12 L70.0,240.10 L70.5,240.07 L71.0,240.03 L71.5,239.98 L72.0,239.92 L72.5,239.85 L73.0,239.76 L73.5,239.65 L74.0,239.52 L74.5,239.37 L75.0,239.18 L75.5,238.97 L76.0,238.72 L76.5,238.42 L77.0,238.09 L77.5,237.72 L78.0,237.29 L78.5,236.82 L79.0,236.30 L79.5,235.72 L80.0,235.10 L80.5,234.44 L81.0,233.73 L81.5,232.98 L82.0,232.21 L82.5,231.41 L83.0,230.60 L83.5,229.78 L84.0,228.98 L84.5,228.20 L85.0,227.45 L85.5,226.75 L86.0,226.11 L86.5,225.54 L87.0,225.06 L87.5,224.66 L88.0,224.37 L88.5,224.18 L89.0,224.10 L89.5,224.14 L90.0,224.28 L90.5,224.53 L91.0,224.89 L91.5,225.34 L92.0,225.87 L92.5,226.49 L93.0,227.17 L93.5,227.90 L94.0,228.67 L94.5,229.46 L95.0,230.27 L95.5,231.08 L96.0,231.89 L96.5,232.67 L97.0,233.43 L97.5,234.16 L98.0,234.84 L98.5,235.48 L99.0,236.07 L99.5,236.62 L100.0,237.11 L100.5,237.55 L101.0,237.95 L101.5,238.30 L102.0,238.60 L102.5,238.87 L103.0,239.10 L103.5,239.30 L104.0,239.46 L104.5,239.60 L105.0,239.72 L105.5,239.82 L106.0,239.90 L106.5,239.96 L107.0,240.01 L107.5,240.05 L108.0,240.09 L108.5,240.11 L109.0,240.13 L109.5,240.15 L110.0,240.16 L110.5,240.17 L110.5,240.2 Z" fill="#ef7d84" fill-opacity="0.5" stroke="#555" stroke-opacity="0.55" stroke-width="0.45"/>
<path d="M30.5,239.45 L31.0,239.84 L31.5,239.51 L32.0,239.52 L32.5,239.70 L33.0,239.52 L33.5,239.76 L34.0,239.55 L34.5,239.66 L35.0,239.69 L35.5,239.77 L36.0,239.53 L36.5,239.56 L37.0,239.81 L37.5,239.46 L38.0,239.76 L38.5,239.70 L39.0,239.68 L39.5,239.62 L40.0,239.49 L40.5,239.47 L41.0,239.60 L41.5,239.70 L42.0,239.81 L42.5,239.82 L43.0,239.64 L43.5,239.62 L44.0,239.67 L44.5,239.46 L45.0,239.68 L45.5,239.71 L46.0,239.68 L46.5,239.78 L47.0,239.47 L47.5,239.61 L48.0,239.63 L48.5,239.67 L49.0,239.74 L49.5,239.71 L50.0,239.64 L50.5,239.66 L51.0,239.44 L51.5,239.60 L52.0,239.74 L52.5,239.80 L53.0,239.75 L53.5,239.67 L54.0,239.49 L54.5,239.43 L55.0,239.68 L55.5,239.45 L56.0,239.57 L56.5,239.52 L57.0,239.50 L57.5,239.67 L58.0,239.64 L58.5,239.37 L59.0,239.32 L59.5,239.41 L60.0,239.15 L60.5,239.15 L61.0,239.31 L61.5,239.35 L62.0,239.09 L62.5,238.98 L63.0,239.09 L63.5,239.08 L64.0,238.82 L64.5,238.91 L65.0,238.54 L65.5,238.48 L66.0,238.51 L66.5,238.33 L67.0,238.29 L67.5,238.18 L68.0,238.04 L68.5,237.64 L69.0,237.64 L69.5,237.37 L70.0,237.35 L70.5,236.98 L71.0,236.88 L71.5,236.65 L72.0,236.54 L72.5,236.25 L73.0,236.15 L73.5,235.58 L74.0,235.42 L74.5,235.18 L75.0,234.82 L75.5,234.69 L76.0,234.23 L76.5,233.87 L77.0,233.20 L77.5,233.07 L78.0,232.40 L78.5,231.71 L79.0,231.19 L79.5,230.63 L80.0,230.18 L80.5,229.57 L81.0,228.72 L81.5,228.20 L82.0,227.34 L82.5,226.79 L83.0,225.94 L83.5,225.34 L84.0,224.59 L84.5,223.90 L85.0,223.57 L85.5,222.81 L86.0,222.75 L86.5,222.03 L87.0,222.08 L87.5,221.67 L88.0,221.64 L88.5,221.48 L89.0,221.77 L89.5,222.02 L90.0,222.11 L90.5,222.61 L91.0,223.03 L91.5,223.73 L92.0,224.57 L92.5,225.01 L93.0,226.01 L93.5,226.74 L94.0,227.78 L94.5,228.55 L95.0,229.27 L95.5,230.10 L96.0,231.01 L96.5,231.91 L97.0,232.59 L97.5,233.38 L98.0,234.27 L98.5,234.81 L99.0,235.39 L99.5,235.90 L100.0,236.62 L100.5,237.03 L101.0,237.42 L101.5,237.88 L102.0,238.09 L102.5,238.21 L103.0,238.50 L103.5,238.86 L104.0,238.81 L104.5,239.20 L105.0,239.06 L105.5,239.40 L106.0,239.50 L106.5,239.51 L107.0,239.45 L107.5,239.59 L108.0,239.38 L108.5,239.39 L109.0,239.67 L109.5,239.50 L110.0,239.53 L110.5,239.60 L111.0,239.73 L111.5,239.45 L112.0,239.46 L112.5,239.84 L113.0,239.71 L113.5,239.72 L114.0,239.77 L114.5,239.68 L115.0,239.49 L115.5,239.84 L116.0,239.51 L116.5,239.73 L117.0,239.84 L117.5,239.49 L118.0,239.74 L118.5,239.77 L119.0,239.80 L119.5,239.70 L120.0,239.80 L120.5,239.78 L121.0,239.75 L121.5,239.62 L122.0,239.67 L122.5,239.73 L123.0,239.64 L123.5,239.54 L124.0,239.56 L124.5,239.71 L125.0,239.48 L125.5,239.53 L126.0,239.63 L126.5,239.66 L127.0,239.72 L127.5,239.80 L128.0,239.50 L128.5,239.61 L129.0,239.81 L129.5,239.48 L130.0,239.50 L130.5,239.84 L131.0,239.57 L131.5,239.75 L132.0,239.64 L132.5,239.52 L133.0,239.71 L133.5,239.65 L134.0,239.58" fill="none" stroke="#b4b4b4" stroke-width="1.05" stroke-linejoin="round" stroke-dasharray="0.9,0.35"/>
<path d="M163.5,240.2 L163.5,240.20 L164.0,240.19 L164.5,240.19 L165.0,240.19 L165.5,240.19 L166.0,240.19 L166.5,240.18 L167.0,240.18 L167.5,240.17 L168.0,240.16 L168.5,240.16 L169.0,240.15 L169.5,240.13 L170.0,240.12 L170.5,240.10 L171.0,240.09 L171.5,240.06 L172.0,240.04 L172.5,240.01 L173.0,239.98 L173.5,239.94 L174.0,239.90 L174.5,239.85 L175.0,239.80 L175.5,239.74 L176.0,239.68 L176.5,239.61 L177.0,239.54 L177.5,239.46 L178.0,239.37 L178.5,239.28 L179.0,239.19 L179.5,239.09 L180.0,238.98 L180.5,238.88 L181.0,238.77 L181.5,238.66 L182.0,238.55 L182.5,238.45 L183.0,238.34 L183.5,238.24 L184.0,238.15 L184.5,238.06 L185.0,237.98 L185.5,237.91 L186.0,237.84 L186.5,237.79 L187.0,237.75 L187.5,237.72 L188.0,237.70 L188.5,237.70 L189.0,237.71 L189.5,237.73 L190.0,237.76 L190.5,237.81 L191.0,237.87 L191.5,237.93 L192.0,238.01 L192.5,238.09 L193.0,238.19 L193.5,238.28 L194.0,238.38 L194.5,238.49 L195.0,238.60 L195.5,238.71 L196.0,238.81 L196.5,238.92 L197.0,239.02 L197.5,239.13 L198.0,239.22 L198.5,239.32 L199.0,239.41 L199.5,239.49 L200.0,239.57 L200.5,239.64 L201.0,239.71 L201.5,239.77 L202.0,239.82 L202.5,239.87 L203.0,239.92 L203.5,239.96 L204.0,239.99 L204.5,240.02 L205.0,240.05 L205.5,240.07 L206.0,240.09 L206.5,240.11 L207.0,240.13 L207.5,240.14 L208.0,240.15 L208.5,240.16 L209.0,240.17 L209.5,240.17 L210.0,240.18 L210.5,240.18 L211.0,240.19 L211.5,240.19 L212.0,240.19 L212.5,240.19 L213.0,240.19 L213.5,240.20 L213.5,240.2 Z" fill="#ef7d84" fill-opacity="0.5" stroke="#555" stroke-opacity="0.55" stroke-width="0.45"/>
<path d="M196.5,240.2 L196.5,240.18 L197.0,240.17 L197.5,240.16 L198.0,240.15 L198.5,240.13 L199.0,240.11 L199.5,240.08 L200.0,240.05 L200.5,240.00 L201.0,239.94 L201.5,239.87 L202.0,239.78 L202.5,239.67 L203.0,239.54 L203.5,239.39 L204.0,239.20 L204.5,238.99 L205.0,238.74 L205.5,238.45 L206.0,238.13 L206.5,237.76 L207.0,237.35 L207.5,236.90 L208.0,236.41 L208.5,235.89 L209.0,235.33 L209.5,234.75 L210.0,234.15 L210.5,233.53 L211.0,232.91 L211.5,232.31 L212.0,231.72 L212.5,231.16 L213.0,230.64 L213.5,230.18 L214.0,229.79 L214.5,229.46 L215.0,229.22 L215.5,229.07 L216.0,229.00 L216.5,229.03 L217.0,229.15 L217.5,229.36 L218.0,229.65 L218.5,230.02 L219.0,230.45 L219.5,230.95 L220.0,231.49 L220.5,232.07 L221.0,232.67 L221.5,233.28 L222.0,233.90 L222.5,234.51 L223.0,235.10 L223.5,235.67 L224.0,236.21 L224.5,236.71 L225.0,237.18 L225.5,237.60 L226.0,237.98 L226.5,238.33 L227.0,238.63 L227.5,238.89 L228.0,239.12 L228.5,239.32 L229.0,239.48 L229.5,239.62 L230.0,239.74 L230.5,239.84 L231.0,239.91 L231.5,239.98 L232.0,240.03 L232.5,240.07 L233.0,240.10 L233.5,240.12 L234.0,240.14 L234.5,240.16 L235.0,240.17 L235.5,240.18 L235.5,240.2 Z" fill="#3fd0d3" fill-opacity="0.48" stroke="#555" stroke-opacity="0.55" stroke-width="0.45"/>
<path d="M138.5,239.77 L139.0,239.60 L139.5,239.68 L140.0,239.46 L140.5,239.77 L141.0,239.57 L141.5,239.83 L142.0,239.74 L142.5,239.80 L143.0,239.79 L143.5,239.64 L144.0,239.78 L144.5,239.53 L145.0,239.81 L145.5,239.60 L146.0,239.51 L146.5,239.80 L147.0,239.76 L147.5,239.54 L148.0,239.66 L148.5,239.48 L149.0,239.71 L149.5,239.69 L150.0,239.47 L150.5,239.71 L151.0,239.46 L151.5,239.49 L152.0,239.77 L152.5,239.63 L153.0,239.47 L153.5,239.80 L154.0,239.51 L154.5,239.54 L155.0,239.55 L155.5,239.61 L156.0,239.81 L156.5,239.47 L157.0,239.81 L157.5,239.54 L158.0,239.56 L158.5,239.72 L159.0,239.58 L159.5,239.69 L160.0,239.55 L160.5,239.83 L161.0,239.48 L161.5,239.69 L162.0,239.53 L162.5,239.66 L163.0,239.52 L163.5,239.73 L164.0,239.63 L164.5,239.83 L165.0,239.64 L165.5,239.81 L166.0,239.49 L166.5,239.56 L167.0,239.66 L167.5,239.43 L168.0,239.44 L168.5,239.42 L169.0,239.76 L169.5,239.50 L170.0,239.48 L170.5,239.51 L171.0,239.73 L171.5,239.34 L172.0,239.51 L172.5,239.42 L173.0,239.30 L173.5,239.48 L174.0,239.54 L174.5,239.13 L175.0,239.34 L175.5,239.38 L176.0,239.27 L176.5,238.86 L177.0,238.89 L177.5,239.02 L178.0,238.96 L178.5,238.57 L179.0,238.57 L179.5,238.50 L180.0,238.58 L180.5,238.36 L181.0,238.04 L181.5,238.31 L182.0,238.04 L182.5,238.07 L183.0,237.59 L183.5,237.85 L184.0,237.42 L184.5,237.37 L185.0,237.34 L185.5,237.54 L186.0,237.21 L186.5,237.24 L187.0,237.20 L187.5,237.31 L188.0,237.15 L188.5,237.03 L189.0,237.31 L189.5,237.03 L190.0,237.25 L190.5,237.35 L191.0,237.42 L191.5,237.40 L192.0,237.40 L192.5,237.51 L193.0,237.48 L193.5,237.73 L194.0,237.83 L194.5,237.74 L195.0,238.15 L195.5,238.34 L196.0,238.32 L196.5,238.43 L197.0,238.60 L197.5,238.57 L198.0,238.81 L198.5,238.53 L199.0,238.77 L199.5,238.67 L200.0,238.78 L200.5,238.80 L201.0,238.79 L201.5,238.96 L202.0,238.76 L202.5,238.91 L203.0,238.69 L203.5,238.56 L204.0,238.34 L204.5,238.39 L205.0,238.10 L205.5,237.65 L206.0,237.35 L206.5,236.93 L207.0,236.88 L207.5,236.41 L208.0,235.97 L208.5,235.21 L209.0,234.65 L209.5,234.11 L210.0,233.46 L210.5,232.96 L211.0,232.33 L211.5,231.58 L212.0,231.10 L212.5,230.54 L213.0,230.05 L213.5,229.63 L214.0,229.13 L214.5,228.88 L215.0,228.82 L215.5,228.54 L216.0,228.48 L216.5,228.51 L217.0,228.57 L217.5,228.86 L218.0,229.14 L218.5,229.50 L219.0,229.95 L219.5,230.21 L220.0,231.10 L220.5,231.71 L221.0,232.03 L221.5,232.78 L222.0,233.37 L222.5,233.92 L223.0,234.60 L223.5,235.22 L224.0,235.85 L224.5,236.01 L225.0,236.45 L225.5,237.14 L226.0,237.45 L226.5,237.85 L227.0,238.26 L227.5,238.19 L228.0,238.44 L228.5,238.87 L229.0,239.03 L229.5,238.99 L230.0,239.07 L230.5,239.30 L231.0,239.41 L231.5,239.53 L232.0,239.36 L232.5,239.37 L233.0,239.41 L233.5,239.73 L234.0,239.56 L234.5,239.41 L235.0,239.53 L235.5,239.64 L236.0,239.78 L236.5,239.81 L237.0,239.55 L237.5,239.82 L238.0,239.52 L238.5,239.58 L239.0,239.66 L239.5,239.49 L240.0,239.48 L240.5,239.60 L241.0,239.81 L241.5,239.61 L242.0,239.68 L242.5,239.75" fill="none" stroke="#b4b4b4" stroke-width="1.05" stroke-linejoin="round" stroke-dasharray="0.9,0.35"/>
<path d="M266.5,240.2 L266.5,240.19 L267.0,240.19 L267.5,240.19 L268.0,240.19 L268.5,240.18 L269.0,240.18 L269.5,240.18 L270.0,240.18 L270.5,240.17 L271.0,240.17 L271.5,240.16 L272.0,240.16 L272.5,240.15 L273.0,240.14 L273.5,240.13 L274.0,240.12 L274.5,240.11 L275.0,240.10 L275.5,240.09 L276.0,240.07 L276.5,240.06 L277.0,240.04 L277.5,240.02 L278.0,240.00 L278.5,239.97 L279.0,239.95 L279.5,239.92 L280.0,239.89 L280.5,239.85 L281.0,239.81 L281.5,239.77 L282.0,239.73 L282.5,239.68 L283.0,239.63 L283.5,239.58 L284.0,239.52 L284.5,239.45 L285.0,239.39 L285.5,239.31 L286.0,239.24 L286.5,239.16 L287.0,239.07 L287.5,238.99 L288.0,238.89 L288.5,238.80 L289.0,238.69 L289.5,238.59 L290.0,238.48 L290.5,238.37 L291.0,238.25 L291.5,238.13 L292.0,238.01 L292.5,237.89 L293.0,237.76 L293.5,237.63 L294.0,237.50 L294.5,237.38 L295.0,237.25 L295.5,237.12 L296.0,236.99 L296.5,236.86 L297.0,236.74 L297.5,236.62 L298.0,236.50 L298.5,236.38 L299.0,236.27 L299.5,236.17 L300.0,236.07 L300.5,235.98 L301.0,235.89 L301.5,235.82 L302.0,235.75 L302.5,235.68 L303.0,235.63 L303.5,235.58 L304.0,235.55 L304.5,235.52 L305.0,235.51 L305.5,235.50 L306.0,235.50 L306.5,235.52 L307.0,235.54 L307.5,235.57 L308.0,235.61 L308.5,235.66 L309.0,235.72 L309.5,235.79 L310.0,235.86 L310.5,235.94 L311.0,236.03 L311.5,236.13 L312.0,236.23 L312.5,236.34 L313.0,236.45 L313.5,236.57 L314.0,236.69 L314.5,236.81 L315.0,236.94 L315.5,237.07 L316.0,237.19 L316.5,237.32 L317.0,237.45 L317.5,237.58 L318.0,237.71 L318.5,237.84 L319.0,237.96 L319.5,238.08 L320.0,238.20 L320.5,238.32 L321.0,238.44 L321.5,238.55 L322.0,238.65 L322.5,238.76 L323.0,238.85 L323.5,238.95 L324.0,239.04 L324.5,239.13 L325.0,239.21 L325.5,239.29 L326.0,239.36 L326.5,239.43 L327.0,239.49 L327.5,239.55 L328.0,239.61 L328.5,239.66 L329.0,239.71 L329.5,239.76 L330.0,239.80 L330.5,239.84 L331.0,239.87 L331.5,239.91 L332.0,239.94 L332.5,239.96 L333.0,239.99 L333.5,240.01 L334.0,240.03 L334.5,240.05 L335.0,240.07 L335.5,240.08 L336.0,240.10 L336.5,240.11 L337.0,240.12 L337.5,240.13 L338.0,240.14 L338.5,240.15 L339.0,240.15 L339.5,240.16 L340.0,240.16 L340.5,240.17 L341.0,240.17 L341.5,240.18 L342.0,240.18 L342.5,240.18 L343.0,240.19 L343.5,240.19 L344.0,240.19 L344.5,240.19 L345.0,240.19 L345.0,240.2 Z" fill="#f2ea78" fill-opacity="0.55" stroke="#555" stroke-opacity="0.55" stroke-width="0.45"/>
<path d="M308.0,240.2 L308.0,240.20 L308.5,240.20 L309.0,240.20 L309.5,240.20 L310.0,240.19 L310.5,240.19 L311.0,240.19 L311.5,240.19 L312.0,240.18 L312.5,240.18 L313.0,240.17 L313.5,240.16 L314.0,240.15 L314.5,240.13 L315.0,240.12 L315.5,240.10 L316.0,240.08 L316.5,240.05 L317.0,240.02 L317.5,239.99 L318.0,239.96 L318.5,239.92 L319.0,239.87 L319.5,239.83 L320.0,239.78 L320.5,239.73 L321.0,239.69 L321.5,239.64 L322.0,239.59 L322.5,239.55 L323.0,239.51 L323.5,239.47 L324.0,239.44 L324.5,239.42 L325.0,239.41 L325.5,239.40 L326.0,239.40 L326.5,239.41 L327.0,239.43 L327.5,239.45 L328.0,239.48 L328.5,239.52 L329.0,239.56 L329.5,239.60 L330.0,239.65 L330.5,239.70 L331.0,239.74 L331.5,239.79 L332.0,239.84 L332.5,239.88 L333.0,239.92 L333.5,239.96 L334.0,240.00 L334.5,240.03 L335.0,240.06 L335.5,240.08 L336.0,240.10 L336.5,240.12 L337.0,240.14 L337.5,240.15 L338.0,240.16 L338.5,240.17 L339.0,240.18 L339.5,240.18 L340.0,240.19 L340.5,240.19 L341.0,240.19 L341.5,240.19 L342.0,240.20 L342.5,240.20 L343.0,240.20 L343.5,240.20 L343.5,240.2 Z" fill="#3fd0d3" fill-opacity="0.48" stroke="#555" stroke-opacity="0.55" stroke-width="0.45"/>
<path d="M323.5,240.2 L323.5,240.18 L324.0,240.17 L324.5,240.17 L325.0,240.16 L325.5,240.15 L326.0,240.14 L326.5,240.12 L327.0,240.10 L327.5,240.08 L328.0,240.05 L328.5,240.02 L329.0,239.98 L329.5,239.93 L330.0,239.87 L330.5,239.81 L331.0,239.73 L331.5,239.65 L332.0,239.55 L332.5,239.43 L333.0,239.30 L333.5,239.16 L334.0,238.99 L334.5,238.80 L335.0,238.60 L335.5,238.37 L336.0,238.12 L336.5,237.85 L337.0,237.56 L337.5,237.24 L338.0,236.90 L338.5,236.54 L339.0,236.16 L339.5,235.76 L340.0,235.35 L340.5,234.92 L341.0,234.48 L341.5,234.04 L342.0,233.59 L342.5,233.15 L343.0,232.71 L343.5,232.28 L344.0,231.87 L344.5,231.48 L345.0,231.12 L345.5,230.78 L346.0,230.48 L346.5,230.22 L347.0,230.00 L347.5,229.83 L348.0,229.70 L348.5,229.63 L349.0,229.60 L349.5,229.63 L350.0,229.70 L350.5,229.83 L351.0,230.00 L351.5,230.22 L352.0,230.48 L352.5,230.78 L353.0,231.12 L353.5,231.48 L354.0,231.87 L354.5,232.28 L355.0,232.71 L355.5,233.15 L356.0,233.59 L356.5,234.04 L357.0,234.48 L357.5,234.92 L358.0,235.35 L358.5,235.76 L359.0,236.16 L359.5,236.54 L360.0,236.90 L360.5,237.24 L361.0,237.56 L361.5,237.85 L362.0,238.12 L362.5,238.37 L363.0,238.60 L363.5,238.80 L364.0,238.99 L364.5,239.16 L365.0,239.30 L365.5,239.43 L366.0,239.55 L366.5,239.65 L367.0,239.73 L367.5,239.81 L368.0,239.87 L368.5,239.93 L369.0,239.98 L369.5,240.02 L370.0,240.05 L370.5,240.08 L371.0,240.10 L371.5,240.12 L372.0,240.14 L372.5,240.15 L373.0,240.16 L373.5,240.17 L374.0,240.17 L374.5,240.18 L374.5,240.2 Z" fill="#ef7d84" fill-opacity="0.5" stroke="#555" stroke-opacity="0.55" stroke-width="0.45"/>
<path d="M246.5,239.48 L247.0,239.56 L247.5,239.80 L248.0,239.76 L248.5,239.71 L249.0,239.62 L249.5,239.72 L250.0,239.67 L250.5,239.52 L251.0,239.78 L251.5,239.56 L252.0,239.72 L252.5,239.47 L253.0,239.47 L253.5,239.72 L254.0,239.61 L254.5,239.81 L255.0,239.69 L255.5,239.60 L256.0,239.59 L256.5,239.71 L257.0,239.84 L257.5,239.80 L258.0,239.63 L258.5,239.78 L259.0,239.73 L259.5,239.60 L260.0,239.49 L260.5,239.64 L261.0,239.75 L261.5,239.61 L262.0,239.74 L262.5,239.53 L263.0,239.78 L263.5,239.74 L264.0,239.67 L264.5,239.48 L265.0,239.78 L265.5,239.77 L266.0,239.79 L266.5,239.76 L267.0,239.71 L267.5,239.68 L268.0,239.53 L268.5,239.67 L269.0,239.64 L269.5,239.67 L270.0,239.52 L270.5,239.46 L271.0,239.65 L271.5,239.44 L272.0,239.71 L272.5,239.41 L273.0,239.58 L273.5,239.51 L274.0,239.62 L274.5,239.66 L275.0,239.70 L275.5,239.38 L276.0,239.58 L276.5,239.43 L277.0,239.51 L277.5,239.46 L278.0,239.57 L278.5,239.55 L279.0,239.46 L279.5,239.30 L280.0,239.32 L280.5,239.50 L281.0,239.18 L281.5,239.25 L282.0,239.35 L282.5,239.23 L283.0,239.20 L283.5,238.90 L284.0,238.95 L284.5,238.97 L285.0,238.94 L285.5,238.85 L286.0,238.78 L286.5,238.67 L287.0,238.41 L287.5,238.32 L288.0,238.26 L288.5,238.09 L289.0,238.08 L289.5,238.19 L290.0,238.11 L290.5,237.95 L291.0,237.80 L291.5,237.57 L292.0,237.33 L292.5,237.30 L293.0,237.24 L293.5,237.19 L294.0,236.76 L294.5,236.72 L295.0,236.76 L295.5,236.75 L296.0,236.25 L296.5,236.41 L297.0,236.05 L297.5,236.22 L298.0,235.89 L298.5,235.89 L299.0,235.57 L299.5,235.70 L300.0,235.68 L300.5,235.55 L301.0,235.22 L301.5,235.07 L302.0,235.14 L302.5,235.06 L303.0,235.17 L303.5,235.13 L304.0,235.16 L304.5,234.78 L305.0,235.14 L305.5,234.91 L306.0,235.01 L306.5,235.09 L307.0,235.01 L307.5,234.85 L308.0,235.16 L308.5,235.24 L309.0,235.11 L309.5,235.17 L310.0,235.30 L310.5,235.51 L311.0,235.32 L311.5,235.72 L312.0,235.79 L312.5,235.87 L313.0,235.86 L313.5,235.99 L314.0,236.07 L314.5,236.11 L315.0,236.15 L315.5,236.43 L316.0,236.71 L316.5,236.49 L317.0,236.92 L317.5,236.90 L318.0,237.06 L318.5,236.96 L319.0,236.97 L319.5,237.31 L320.0,237.32 L320.5,237.16 L321.0,237.29 L321.5,237.58 L322.0,237.41 L322.5,237.42 L323.0,237.63 L323.5,237.79 L324.0,237.65 L324.5,237.84 L325.0,237.97 L325.5,238.02 L326.0,237.98 L326.5,238.16 L327.0,238.11 L327.5,238.11 L328.0,238.17 L328.5,238.28 L329.0,238.17 L329.5,238.50 L330.0,238.44 L330.5,238.22 L331.0,238.26 L331.5,238.23 L332.0,238.27 L332.5,238.31 L333.0,238.15 L333.5,238.15 L334.0,238.22 L334.5,238.03 L335.0,237.94 L335.5,237.44 L336.0,237.45 L336.5,237.17 L337.0,236.85 L337.5,236.73 L338.0,236.17 L338.5,235.79 L339.0,235.42 L339.5,235.00 L340.0,234.82 L340.5,234.47 L341.0,233.79 L341.5,233.38 L342.0,233.07 L342.5,232.64 L343.0,232.28 L343.5,231.59 L344.0,231.33 L344.5,230.80 L345.0,230.62 L345.5,230.30 L346.0,229.92 L346.5,229.57 L347.0,229.29 L347.5,229.33 L348.0,229.07 L348.5,229.11 L349.0,228.90 L349.5,228.97 L350.0,229.13 L350.5,229.33 L351.0,229.54 L351.5,229.52 L352.0,229.81 L352.5,230.31 L353.0,230.73 L353.5,231.05 L354.0,231.14 L354.5,231.92 L355.0,232.04 L355.5,232.59 L356.0,233.02 L356.5,233.47 L357.0,233.97 L357.5,234.35 L358.0,234.96 L358.5,235.04 L359.0,235.77 L359.5,236.13 L360.0,236.28 L360.5,236.63 L361.0,236.88 L361.5,237.22 L362.0,237.40 L362.5,238.00 L363.0,238.25 L363.5,238.36 L364.0,238.33 L364.5,238.74 L365.0,238.74 L365.5,238.77 L366.0,239.13 L366.5,239.09 L367.0,239.02 L367.5,239.16 L368.0,239.36 L368.5,239.39 L369.0,239.52 L369.5,239.28 L370.0,239.39 L370.5,239.46 L371.0,239.63 L371.5,239.48 L372.0,239.59 L372.5,239.48 L373.0,239.66 L373.5,239.46 L374.0,239.55 L374.5,239.65 L375.0,239.61 L375.5,239.52" fill="none" stroke="#b4b4b4" stroke-width="1.05" stroke-linejoin="round" stroke-dasharray="0.9,0.35"/>
<path d="M390.3,240.2 L390.3,240.19 L390.8,240.19 L391.3,240.19 L391.8,240.18 L392.3,240.18 L392.8,240.17 L393.3,240.17 L393.8,240.16 L394.3,240.15 L394.8,240.14 L395.3,240.13 L395.8,240.11 L396.3,240.10 L396.8,240.08 L397.3,240.06 L397.8,240.03 L398.3,240.00 L398.8,239.97 L399.3,239.93 L399.8,239.88 L400.3,239.83 L400.8,239.78 L401.3,239.72 L401.8,239.65 L402.3,239.57 L402.8,239.49 L403.3,239.40 L403.8,239.30 L404.3,239.19 L404.8,239.07 L405.3,238.94 L405.8,238.81 L406.3,238.67 L406.8,238.52 L407.3,238.36 L407.8,238.19 L408.3,238.02 L408.8,237.84 L409.3,237.66 L409.8,237.47 L410.3,237.28 L410.8,237.09 L411.3,236.90 L411.8,236.72 L412.3,236.53 L412.8,236.36 L413.3,236.19 L413.8,236.02 L414.3,235.87 L414.8,235.73 L415.3,235.61 L415.8,235.50 L416.3,235.40 L416.8,235.32 L417.3,235.27 L417.8,235.22 L418.3,235.20 L418.8,235.20 L419.3,235.22 L419.8,235.26 L420.3,235.31 L420.8,235.39 L421.3,235.48 L421.8,235.58 L422.3,235.71 L422.8,235.84 L423.3,235.99 L423.8,236.15 L424.3,236.32 L424.8,236.50 L425.3,236.68 L425.8,236.87 L426.3,237.05 L426.8,237.24 L427.3,237.43 L427.8,237.62 L428.3,237.80 L428.8,237.98 L429.3,238.16 L429.8,238.32 L430.3,238.48 L430.8,238.64 L431.3,238.78 L431.8,238.92 L432.3,239.05 L432.8,239.17 L433.3,239.28 L433.8,239.38 L434.3,239.47 L434.8,239.56 L435.3,239.63 L435.8,239.70 L436.3,239.77 L436.8,239.82 L437.3,239.87 L437.8,239.92 L438.3,239.96 L438.8,239.99 L439.3,240.02 L439.8,240.05 L440.3,240.07 L440.8,240.09 L441.3,240.11 L441.8,240.13 L442.3,240.14 L442.8,240.15 L443.3,240.16 L443.8,240.16 L444.3,240.17 L444.8,240.18 L445.3,240.18 L445.8,240.18 L446.3,240.19 L446.8,240.19 L447.3,240.19 L447.3,240.2 Z" fill="#3fd0d3" fill-opacity="0.48" stroke="#555" stroke-opacity="0.55" stroke-width="0.45"/>
<path d="M422.8,240.2 L422.8,240.19 L423.3,240.19 L423.8,240.19 L424.3,240.18 L424.8,240.18 L425.3,240.17 L425.8,240.15 L426.3,240.14 L426.8,240.11 L427.3,240.09 L427.8,240.05 L428.3,240.00 L428.8,239.95 L429.3,239.88 L429.8,239.79 L430.3,239.70 L430.8,239.58 L431.3,239.45 L431.8,239.31 L432.3,239.14 L432.8,238.97 L433.3,238.78 L433.8,238.58 L434.3,238.38 L434.8,238.18 L435.3,237.98 L435.8,237.80 L436.3,237.63 L436.8,237.48 L437.3,237.36 L437.8,237.27 L438.3,237.22 L438.8,237.20 L439.3,237.22 L439.8,237.27 L440.3,237.36 L440.8,237.48 L441.3,237.63 L441.8,237.80 L442.3,237.98 L442.8,238.18 L443.3,238.38 L443.8,238.58 L444.3,238.78 L444.8,238.97 L445.3,239.14 L445.8,239.31 L446.3,239.45 L446.8,239.58 L447.3,239.70 L447.8,239.79 L448.3,239.88 L448.8,239.95 L449.3,240.00 L449.8,240.05 L450.3,240.09 L450.8,240.11 L451.3,240.14 L451.8,240.15 L452.3,240.17 L452.8,240.18 L453.3,240.18 L453.8,240.19 L454.3,240.19 L454.8,240.19 L454.8,240.2 Z" fill="#f2ea78" fill-opacity="0.55" stroke="#555" stroke-opacity="0.55" stroke-width="0.45"/>
<path d="M433.8,240.2 L433.8,240.16 L434.3,240.14 L434.8,240.12 L435.3,240.09 L435.8,240.05 L436.3,240.00 L436.8,239.93 L437.3,239.84 L437.8,239.73 L438.3,239.59 L438.8,239.41 L439.3,239.20 L439.8,238.93 L440.3,238.61 L440.8,238.23 L441.3,237.78 L441.8,237.25 L442.3,236.64 L442.8,235.95 L443.3,235.16 L443.8,234.29 L444.3,233.33 L444.8,232.28 L445.3,231.16 L445.8,229.98 L446.3,228.75 L446.8,227.49 L447.3,226.22 L447.8,224.96 L448.3,223.74 L448.8,222.60 L449.3,221.54 L449.8,220.60 L450.3,219.81 L450.8,219.18 L451.3,218.72 L451.8,218.46 L452.3,218.40 L452.8,218.54 L453.3,218.88 L453.8,219.41 L454.3,220.11 L454.8,220.96 L455.3,221.95 L455.8,223.05 L456.3,224.22 L456.8,225.46 L457.3,226.72 L457.8,227.99 L458.3,229.24 L458.8,230.46 L459.3,231.62 L459.8,232.71 L460.3,233.72 L460.8,234.65 L461.3,235.49 L461.8,236.23 L462.3,236.89 L462.8,237.47 L463.3,237.97 L463.8,238.39 L464.3,238.75 L464.8,239.04 L465.3,239.29 L465.8,239.49 L466.3,239.65 L466.8,239.78 L467.3,239.88 L467.8,239.96 L468.3,240.02 L468.8,240.07 L469.3,240.10 L469.8,240.13 L470.3,240.15 L470.8,240.16 L470.8,240.2 Z" fill="#ef7d84" fill-opacity="0.5" stroke="#555" stroke-opacity="0.55" stroke-width="0.45"/>
<path d="M380.8,239.64 L381.3,239.47 L381.8,239.85 L382.3,239.49 L382.8,239.56 L383.3,239.65 L383.8,239.51 L384.3,239.79 L384.8,239.71 L385.3,239.56 L385.8,239.52 L386.3,239.70 L386.8,239.45 L387.3,239.59 L387.8,239.83 L388.3,239.80 L388.8,239.81 L389.3,239.62 L389.8,239.71 L390.3,239.74 L390.8,239.66 L391.3,239.80 L391.8,239.47 L392.3,239.49 L392.8,239.60 L393.3,239.64 L393.8,239.69 L394.3,239.56 L394.8,239.65 L395.3,239.39 L395.8,239.38 L396.3,239.46 L396.8,239.40 L397.3,239.68 L397.8,239.63 L398.3,239.51 L398.8,239.57 L399.3,239.41 L399.8,239.14 L400.3,239.15 L400.8,239.05 L401.3,239.28 L401.8,239.21 L402.3,239.21 L402.8,239.03 L403.3,239.02 L403.8,238.74 L404.3,238.72 L404.8,238.45 L405.3,238.37 L405.8,238.22 L406.3,238.20 L406.8,237.87 L407.3,237.73 L407.8,237.55 L408.3,237.48 L408.8,237.30 L409.3,237.19 L409.8,237.10 L410.3,236.74 L410.8,236.50 L411.3,236.48 L411.8,236.02 L412.3,235.83 L412.8,235.66 L413.3,235.51 L413.8,235.48 L414.3,235.45 L414.8,235.27 L415.3,234.96 L415.8,234.75 L416.3,235.01 L416.8,234.97 L417.3,234.77 L417.8,234.74 L418.3,234.61 L418.8,234.81 L419.3,234.53 L419.8,234.77 L420.3,234.60 L420.8,234.90 L421.3,235.00 L421.8,235.16 L422.3,234.96 L422.8,235.24 L423.3,235.29 L423.8,235.75 L424.3,235.72 L424.8,235.80 L425.3,235.86 L425.8,236.04 L426.3,236.53 L426.8,236.57 L427.3,236.45 L427.8,236.75 L428.3,236.68 L428.8,237.03 L429.3,237.17 L429.8,236.81 L430.3,237.06 L430.8,236.89 L431.3,236.87 L431.8,236.65 L432.3,236.33 L432.8,236.12 L433.3,235.90 L433.8,235.87 L434.3,235.35 L434.8,235.35 L435.3,234.86 L435.8,234.32 L436.3,234.26 L436.8,233.89 L437.3,233.50 L437.8,233.35 L438.3,232.90 L438.8,232.68 L439.3,232.68 L439.8,232.14 L440.3,232.27 L440.8,231.81 L441.3,231.73 L441.8,231.55 L442.3,231.28 L442.8,230.56 L443.3,230.22 L443.8,229.85 L444.3,229.13 L444.8,228.39 L445.3,227.65 L445.8,226.97 L446.3,226.17 L446.8,225.11 L447.3,223.93 L447.8,223.02 L448.3,222.04 L448.8,221.01 L449.3,220.29 L449.8,219.44 L450.3,218.64 L450.8,218.37 L451.3,217.73 L451.8,217.87 L452.3,217.66 L452.8,217.83 L453.3,218.37 L453.8,218.61 L454.3,219.52 L454.8,220.49 L455.3,221.40 L455.8,222.44 L456.3,223.69 L456.8,225.10 L457.3,226.33 L457.8,227.35 L458.3,228.84 L458.8,230.00 L459.3,230.94 L459.8,232.01 L460.3,233.02 L460.8,234.23 L461.3,235.13 L461.8,235.58 L462.3,236.30 L462.8,236.97 L463.3,237.61 L463.8,237.87 L464.3,238.30 L464.8,238.46 L465.3,238.55 L465.8,239.05 L466.3,239.27 L466.8,239.15 L467.3,239.49 L467.8,239.52 L468.3,239.49 L468.8,239.32 L469.3,239.62 L469.8,239.65 L470.3,239.61 L470.8,239.75 L471.3,239.66 L471.8,239.55 L472.3,239.71 L472.8,239.52 L473.3,239.77 L473.8,239.81 L474.3,239.60 L474.8,239.67 L475.3,239.48 L475.8,239.81 L476.3,239.55 L476.8,239.58 L477.3,239.70 L477.8,239.80 L478.3,239.61 L478.8,239.55 L479.3,239.66 L479.8,239.66 L480.3,239.58 L480.8,239.61 L481.3,239.68 L481.8,239.78 L482.3,239.66 L482.8,239.63 L483.3,239.49 L483.8,239.45 L484.3,239.63" fill="none" stroke="#b4b4b4" stroke-width="1.05" stroke-linejoin="round" stroke-dasharray="0.9,0.35"/>
<path d="M30.5,240.2 L30.5,138.6 L484.5,138.6 L484.5,240.2" fill="none" stroke="#8a8a8a" stroke-width="1.0"/>
<line x1="30.5" y1="178.89999999999998" x2="484.5" y2="178.89999999999998" stroke="#555" stroke-width="1.0"/>
<line x1="30.5" y1="199.39999999999998" x2="134.0" y2="199.39999999999998" stroke="#6a6a6a" stroke-width="0.8"/>
<line x1="138.5" y1="199.39999999999998" x2="242.5" y2="199.39999999999998" stroke="#6a6a6a" stroke-width="0.8"/>
<line x1="246.5" y1="199.39999999999998" x2="375.5" y2="199.39999999999998" stroke="#6a6a6a" stroke-width="0.8"/>
<line x1="380.8" y1="199.39999999999998" x2="484.5" y2="199.39999999999998" stroke="#6a6a6a" stroke-width="0.8"/>
<line x1="30.5" y1="219.8" x2="134.0" y2="219.8" stroke="#6a6a6a" stroke-width="0.8"/>
<line x1="138.5" y1="219.8" x2="242.5" y2="219.8" stroke="#6a6a6a" stroke-width="0.8"/>
<line x1="246.5" y1="219.8" x2="375.5" y2="219.8" stroke="#6a6a6a" stroke-width="0.8"/>
<line x1="380.8" y1="219.8" x2="484.5" y2="219.8" stroke="#6a6a6a" stroke-width="0.8"/>
<line x1="30.5" y1="240.2" x2="134.0" y2="240.2" stroke="#6a6a6a" stroke-width="0.8"/>
<line x1="138.5" y1="240.2" x2="242.5" y2="240.2" stroke="#6a6a6a" stroke-width="0.8"/>
<line x1="246.5" y1="240.2" x2="375.5" y2="240.2" stroke="#6a6a6a" stroke-width="0.8"/>
<line x1="380.8" y1="240.2" x2="484.5" y2="240.2" stroke="#6a6a6a" stroke-width="0.8"/>
<line x1="134.0" y1="241.0" x2="135.6" y2="239.39999999999998" stroke="#666" stroke-width="0.6"/>
<line x1="136.79999999999998" y1="241.0" x2="138.39999999999998" y2="239.39999999999998" stroke="#666" stroke-width="0.6"/>
<line x1="242.3" y1="241.0" x2="243.9" y2="239.39999999999998" stroke="#666" stroke-width="0.6"/>
<line x1="245.1" y1="241.0" x2="246.7" y2="239.39999999999998" stroke="#666" stroke-width="0.6"/>
<line x1="376.0" y1="241.0" x2="377.59999999999997" y2="239.39999999999998" stroke="#666" stroke-width="0.6"/>
<line x1="378.8" y1="241.0" x2="380.4" y2="239.39999999999998" stroke="#666" stroke-width="0.6"/>
<line x1="48.5" y1="240.2" x2="48.5" y2="241.79999999999998" stroke="#666" stroke-width="0.6"/>
<line x1="82.7" y1="240.2" x2="82.7" y2="241.79999999999998" stroke="#666" stroke-width="0.6"/>
<line x1="117.3" y1="240.2" x2="117.3" y2="241.79999999999998" stroke="#666" stroke-width="0.6"/>
<line x1="149.2" y1="240.2" x2="149.2" y2="241.79999999999998" stroke="#666" stroke-width="0.6"/>
<line x1="182.8" y1="240.2" x2="182.8" y2="241.79999999999998" stroke="#666" stroke-width="0.6"/>
<line x1="216.4" y1="240.2" x2="216.4" y2="241.79999999999998" stroke="#666" stroke-width="0.6"/>
<line x1="272.8" y1="240.2" x2="272.8" y2="241.79999999999998" stroke="#666" stroke-width="0.6"/>
<line x1="307.2" y1="240.2" x2="307.2" y2="241.79999999999998" stroke="#666" stroke-width="0.6"/>
<line x1="341.1" y1="240.2" x2="341.1" y2="241.79999999999998" stroke="#666" stroke-width="0.6"/>
<line x1="389.6" y1="240.2" x2="389.6" y2="241.79999999999998" stroke="#666" stroke-width="0.6"/>
<line x1="424.0" y1="240.2" x2="424.0" y2="241.79999999999998" stroke="#666" stroke-width="0.6"/>
<line x1="457.9" y1="240.2" x2="457.9" y2="241.79999999999998" stroke="#666" stroke-width="0.6"/>
<line x1="65.6" y1="240.2" x2="65.6" y2="241.2" stroke="#666" stroke-width="0.5"/>
<line x1="100.0" y1="240.2" x2="100.0" y2="241.2" stroke="#666" stroke-width="0.5"/>
<line x1="166.0" y1="240.2" x2="166.0" y2="241.2" stroke="#666" stroke-width="0.5"/>
<line x1="199.6" y1="240.2" x2="199.6" y2="241.2" stroke="#666" stroke-width="0.5"/>
<line x1="290.0" y1="240.2" x2="290.0" y2="241.2" stroke="#666" stroke-width="0.5"/>
<line x1="324.1" y1="240.2" x2="324.1" y2="241.2" stroke="#666" stroke-width="0.5"/>
<line x1="358.0" y1="240.2" x2="358.0" y2="241.2" stroke="#666" stroke-width="0.5"/>
<line x1="406.8" y1="240.2" x2="406.8" y2="241.2" stroke="#666" stroke-width="0.5"/>
<line x1="441.0" y1="240.2" x2="441.0" y2="241.2" stroke="#666" stroke-width="0.5"/>
<line x1="474.8" y1="240.2" x2="474.8" y2="241.2" stroke="#666" stroke-width="0.5"/>
<text x="48.5" y="249.89999999999998" font-size="7.3" fill="#1a1a1a" text-anchor="middle" >1076</text>
<text x="82.7" y="249.89999999999998" font-size="7.3" fill="#1a1a1a" text-anchor="middle" >1072</text>
<text x="117.3" y="249.89999999999998" font-size="7.3" fill="#1a1a1a" text-anchor="middle" >1068</text>
<text x="149.2" y="249.89999999999998" font-size="7.3" fill="#1a1a1a" text-anchor="middle" >692</text>
<text x="182.8" y="249.89999999999998" font-size="7.3" fill="#1a1a1a" text-anchor="middle" >688</text>
<text x="216.4" y="249.89999999999998" font-size="7.3" fill="#1a1a1a" text-anchor="middle" >684</text>
<text x="272.8" y="249.89999999999998" font-size="7.3" fill="#1a1a1a" text-anchor="middle" >540</text>
<text x="307.2" y="249.89999999999998" font-size="7.3" fill="#1a1a1a" text-anchor="middle" >536</text>
<text x="341.1" y="249.89999999999998" font-size="7.3" fill="#1a1a1a" text-anchor="middle" >532</text>
<text x="389.6" y="249.89999999999998" font-size="7.3" fill="#1a1a1a" text-anchor="middle" >292</text>
<text x="424.0" y="249.89999999999998" font-size="7.3" fill="#1a1a1a" text-anchor="middle" >288</text>
<text x="457.9" y="249.89999999999998" font-size="7.3" fill="#1a1a1a" text-anchor="middle" >284</text>
<text x="7.3" y="148.9" font-size="13.3" fill="#000" font-weight="bold" >b</text>
<text x="36.7" y="148.39999999999998" font-size="6.4" fill="#111" >Na 1<tspan font-style="italic">s</tspan></text>
<text x="144.7" y="148.1" font-size="6.4" fill="#111" >F 1<tspan font-style="italic">s</tspan></text>
<text x="251.6" y="147.6" font-size="6.4" fill="#111" >O 1<tspan font-style="italic">s</tspan></text>
<text x="380.4" y="148.39999999999998" font-size="6.4" fill="#111" >C 1<tspan font-style="italic">s</tspan></text>
<text x="58.1" y="166.0" font-size="6.4" fill="#111" >Na-F</text>
<text x="99" y="157.9" font-size="6.4" fill="#111" >Na-O</text>
<text x="182.8" y="166.8" font-size="6.4" fill="#111" >P-F</text>
<text x="222" y="162.70000000000002" font-size="6.4" fill="#111" >Na-F</text>
<text x="265.8" y="167.1" font-size="6.4" fill="#111" >Na Auger</text>
<text x="307.7" y="166.5" font-size="6.4" fill="#111" >RO-COONa</text>
<text x="356.8" y="170.70000000000002" font-size="6.4" fill="#111" >C-O</text>
<text x="396" y="172.3" font-size="6.4" fill="#111" >C=O</text>
<text x="416.1" y="173.20000000000002" font-size="6.4" fill="#111" >O-C=O</text>
<text x="430.9" y="165.6" font-size="6.4" fill="#111" >C-O-C</text>
<text x="461.8" y="172.3" font-size="6.4" fill="#111" >C-C</text>
<text x="47.7" y="175.7" font-size="6.6" fill="#5ab4f0" >28.3%</text>
<text x="51.7" y="237.4" font-size="6.6" fill="#5ab4f0" >15.9%</text>
<text x="488.4" y="182.3" font-size="7.3" fill="#1a1a1a" >30</text>
<text x="488.4" y="203.2" font-size="7.3" fill="#1a1a1a" >20</text>
<text x="488.4" y="223.5" font-size="7.3" fill="#1a1a1a" >10</text>
<text x="488.4" y="243.6" font-size="7.3" fill="#1a1a1a" >0</text>
<text x="257.5" y="260.6" font-size="7.4" fill="#1a1a1a" text-anchor="middle" >Binding energy (eV)</text>
<text transform="translate(509.8,209.5) rotate(-90)" font-size="7.4" fill="#1a1a1a" text-anchor="middle">Etching depth (nm)</text>
<text transform="translate(20.5,198.8) rotate(-90)" font-size="7.3" fill="#1a1a1a" text-anchor="middle">Intensity (arb. units)</text>
<g clip-path="url(#clipC)">
<rect x="535" y="-1" width="110" height="109" filter="url(#afmNoiseC)"/>
<path d="M535,-1 L585,-1 L590,12 L585,26 L578,42 L573,60 L566,68 L552,62 L540,52 L535,40 Z" fill="#fff4dc" opacity="0.08"/>
<path d="M560,8 L575,4 L582,20 L575,40 L565,45 L558,30 Z" fill="#fff" opacity="0.25"/>
<path d="M553,44 L566,40 L572,55 L566,66 L555,62 Z" fill="#fff" opacity="0.2"/>
<path d="M535,45 L548,50 L545,72 L535,78 Z" fill="#8a5010" opacity="0.3"/>
<path d="M544,40 L552,44 L556,70 L552,92 L546,90 L545,60 Z" fill="#9a6010" opacity="0.35" filter="url(#blur1)"/>
<rect x="535" y="-1" width="110" height="109" filter="url(#afmSpeck)" opacity="0.5"/>
<path d="M575,70 L600,62 L644,52 L644,108 L560,108 L562,90 Z" fill="#b87a18" opacity="0.5"/>
<path d="M590,96 L598,84 L606,78 L612,70 L622,64" fill="none" stroke="#fff8e8" stroke-width="1.6" opacity="0.85" stroke-linecap="round"/>
<path d="M566,92 L578,86 L592,82" fill="none" stroke="#fff8e8" stroke-width="1.6" opacity="0.85" stroke-linecap="round"/>
<path d="M612,96 L622,86 L636,76 L644,72" fill="none" stroke="#fff8e8" stroke-width="1.6" opacity="0.85" stroke-linecap="round"/>
<path d="M596,104 L606,96 L618,92" fill="none" stroke="#fff8e8" stroke-width="1.6" opacity="0.85" stroke-linecap="round"/>
<path d="M624,62 L634,66 L644,64" fill="none" stroke="#fff8e8" stroke-width="1.6" opacity="0.85" stroke-linecap="round"/>
<path d="M560,70 L566,80 L564,90" fill="none" stroke="#fff8e8" stroke-width="1.6" opacity="0.85" stroke-linecap="round"/>
<path d="M544,22 L552,14 L560,12 L562,20 L556,30 L548,32 Z" fill="#fff0d0" opacity="0.45"/>
<path d="M556,36 L566,30 L574,34 L572,48 L564,58 L556,54 Z" fill="#fff0d0" opacity="0.35"/>
<path d="M585.6,-1 L644,-1 L644,41.3 L636.2,42 L628.2,44.2 L619.2,46.5 L610.1,50.3 L601,54.9 L593.1,58.5 L586.3,61.2 L579.5,64.6 L573.8,67.6 L569.3,70.7 L564.7,74.8 L560.2,78.2 L556.5,84 L554.5,78.2 L560.2,72.6 L567,68 L572.7,64.6 L573.4,56.7 L575,48.8 L578.4,42 L581.1,34 L585.2,26.1 L588.6,19.3 L589.7,12.5 L587.4,5.7 Z" fill="#8b3a07"/>
<path d="M590,22 L605,20 L615,28 L612,42 L598,48 L586,50 L583,38 Z" fill="#a35a1a" opacity="0.75" filter="url(#blur1)"/>
<path d="M576,44 L586,42 L590,52 L580,58 Z" fill="#c08a3a" opacity="0.5"/>
<path d="M580,66 L600,56 L620,49 L644,43 L644,50 L630,52 L612,55 L595,61 L582,68 Z" fill="#fff6e0" opacity="0.95"/>
<path d="M604,57 L625,51 L644,49 L644,58 L630,60 L620,58 L606,61 Z" fill="#fff" opacity="0.75"/>
<path d="M588,62 L600,60 L610,62 L598,66 Z" fill="#fff" opacity="0.6"/>
<path d="M626,21 L643,10" fill="none" stroke="#f4dcaa" stroke-width="0.9" opacity="0.9"/>
<path d="M616,35 L640,24" fill="none" stroke="#e8c07a" stroke-width="0.8" opacity="0.8"/>
<path d="M630,16 L634,15 L636,17 L632,19 Z" fill="#fff" opacity="0.9"/>
<path d="M640,2 L643,0 L643,8 L639,12 Z" fill="#e8c07a" opacity="0.7"/>
<path d="M565,72 L575,69 L573,76 L566,77 Z" fill="#fff" opacity="0.8"/>
</g>
<text x="538.9" y="12.6" font-size="8.4" fill="#ffffff" fill-opacity="0.85">Bare Al</text>
<text x="597" y="12.6" font-size="8.3" fill="#ffffff" >2.58 GPa</text>
<text x="539.7" y="97.2" font-size="8.1" fill="#ffffff" fill-opacity="0.9">400 nm</text>
<line x1="540.2" y1="101.2" x2="561.6" y2="101.2" stroke="#fff" stroke-width="1.4" opacity="0.9"/>
<rect x="657.4" y="28.4" width="7.2" height="58.1" fill="url(#cbar)" stroke="#111" stroke-width="0.8"/>
<text x="646" y="25.2" font-size="7.1" fill="#1a1a1a" >10.0 GPa</text>
<text x="645.3" y="95.3" font-size="7.1" fill="#1a1a1a" >−10.0 GPa</text>
<text x="514.6" y="7.9" font-size="13.3" fill="#000" font-weight="bold" >c</text>
<g clip-path="url(#clipD)">
<g transform="rotate(-50 590 191)"><rect x="495" y="100" width="190" height="185" filter="url(#afmNoiseD)"/></g>
<ellipse cx="631" cy="207" rx="4.5" ry="5" fill="#3a0c02" opacity="0.75"/>
</g>
<text x="539.9" y="152.2" font-size="8.3" fill="#ffffff" fill-opacity="0.85">BiF<tspan font-size="5.5" dy="1.5">3</tspan><tspan dy="-1.5">@Al</tspan></text>
<text x="594.9" y="152.2" font-size="8.3" fill="#ffffff" fill-opacity="0.9">10.68 GPa</text>
<text x="539.9" y="234.3" font-size="8.1" fill="#ffffff" fill-opacity="0.9">400 nm</text>
<line x1="541" y1="238.2" x2="563" y2="238.2" stroke="#fff" stroke-width="1.4" opacity="0.9"/>
<rect x="659.0" y="165.4" width="7.4" height="58.1" fill="url(#cbar)" stroke="#111" stroke-width="0.8"/>
<text x="647.3" y="163.2" font-size="7.1" fill="#1a1a1a" >30.0 GPa</text>
<text x="647" y="232.7" font-size="7.1" fill="#1a1a1a" >−20.0 GPa</text>
<text x="514.6" y="147.9" font-size="13.3" fill="#000" font-weight="bold" >d</text>
<rect x="0.6" y="267.4" width="329.8" height="208.0" rx="3" ry="3" fill="none" stroke="#34466f" stroke-width="1.2" stroke-dasharray="2.4,1.1"/>
<g clip-path="url(#clip2)">
<path d="M18.0,279.5 L118.4,279.5 L118.4,315.0 L18.0,315.0 Z" fill="url(#skyE1)"/>
<path d="M18.0,279.5 L118.4,279.5 L118.4,315.0 L18.0,315.0 Z" fill="#000" filter="url(#semTex)" opacity="0.03" style="mix-blend-mode:overlay"/>
<path d="M18.0,315.0 L118.4,315.0 L118.4,358.0 L18.0,358.0 Z" fill="rgb(60,60,60)"/>
<path d="M18.0,315.0 L118.4,315.0 L118.4,358.0 L18.0,358.0 Z" fill="#000" filter="url(#semTex)" opacity="0.03" style="mix-blend-mode:overlay"/>
<path d="M18.0,312.0 L24.0,309.0 L30.0,306.5 L36.0,305.0 L44.0,304.5 L50.0,306.0 L56.0,305.0 L62.0,303.5 L75.0,303.0 L88.0,302.0 L98.0,300.0 L105.0,297.5 L110.0,296.5 L114.0,298.0 L118.4,297.5 L118.4,327.0 L80.0,332.0 L50.0,336.0 L18.0,340.0 Z" fill="rgb(158,158,158)"/>
<path d="M18.0,312.0 L24.0,309.0 L30.0,306.5 L36.0,305.0 L44.0,304.5 L50.0,306.0 L56.0,305.0 L62.0,303.5 L75.0,303.0 L88.0,302.0 L98.0,300.0 L105.0,297.5 L110.0,296.5 L114.0,298.0 L118.4,297.5 L118.4,327.0 L80.0,332.0 L50.0,336.0 L18.0,340.0 Z" fill="#000" filter="url(#semTex)" opacity="0.39" style="mix-blend-mode:overlay"/>
<path d="M18.0,312.0 L24.0,309.0 L30.0,306.5 L36.0,305.0 L44.0,304.5 L50.0,306.0 L56.0,305.0 L62.0,303.5 L75.0,303.0 L88.0,302.0 L98.0,300.0 L105.0,297.5 L110.0,296.5 L114.0,298.0 L118.4,297.5 L118.4,304.5 L114.0,305.0 L110.0,303.5 L105.0,304.5 L98.0,307.0 L88.0,309.0 L75.0,310.0 L62.0,310.5 L56.0,312.0 L50.0,313.0 L44.0,311.5 L36.0,312.0 L30.0,313.5 L24.0,316.0 L18.0,319.0 Z" fill="rgb(188,188,188)"/>
<path d="M18.0,312.0 L24.0,309.0 L30.0,306.5 L36.0,305.0 L44.0,304.5 L50.0,306.0 L56.0,305.0 L62.0,303.5 L75.0,303.0 L88.0,302.0 L98.0,300.0 L105.0,297.5 L110.0,296.5 L114.0,298.0 L118.4,297.5 L118.4,304.5 L114.0,305.0 L110.0,303.5 L105.0,304.5 L98.0,307.0 L88.0,309.0 L75.0,310.0 L62.0,310.5 L56.0,312.0 L50.0,313.0 L44.0,311.5 L36.0,312.0 L30.0,313.5 L24.0,316.0 L18.0,319.0 Z" fill="#000" filter="url(#semTex)" opacity="0.4" style="mix-blend-mode:overlay"/>
<path d="M18.0,340.0 L50.0,336.0 L80.0,332.0 L118.4,327.0 L118.4,358.0 L18.0,358.0 Z" fill="rgb(52,52,52)"/>
<path d="M18.0,340.0 L50.0,336.0 L80.0,332.0 L118.4,327.0 L118.4,358.0 L18.0,358.0 Z" fill="#000" filter="url(#semTex)" opacity="0.06" style="mix-blend-mode:overlay"/>
<rect x="18.0" y="279.5" width="100.4" height="78.5" fill="#000" filter="url(#semFine)" opacity="0.13" style="mix-blend-mode:overlay"/>
</g>
<path d="M18.0,326.8 L118.4,309.8" fill="none" stroke="#fff" stroke-width="0.8" stroke-dasharray="2.2,1.1" opacity="0.95"/>
<path d="M18.0,339.3 L118.4,322.3" fill="none" stroke="#fff" stroke-width="0.8" stroke-dasharray="2.2,1.1" opacity="0.95"/>
<line x1="70.4" y1="318" x2="70.4" y2="329.5" stroke="#fff" stroke-width="0.8"/>
<text x="67.6" y="340.3" font-size="8.5" fill="#fff" >27.3 µm</text>
<text x="27.0" y="349.6" font-size="8.5" fill="#fff" >50 µm</text>
<line x1="26" y1="352.8" x2="47" y2="352.8" stroke="#d0d0d0" stroke-width="1.5"/>
<g clip-path="url(#clip3)">
<path d="M120.1,279.5 L222.0,279.5 L222.0,302.0 L120.1,302.0 Z" fill="url(#skyE2)"/>
<path d="M120.1,279.5 L222.0,279.5 L222.0,302.0 L120.1,302.0 Z" fill="#000" filter="url(#semTex)" opacity="0.03" style="mix-blend-mode:overlay"/>
<path d="M120.1,302.0 L222.0,302.0 L222.0,358.0 L120.1,358.0 Z" fill="rgb(60,60,60)"/>
<path d="M120.1,302.0 L222.0,302.0 L222.0,358.0 L120.1,358.0 Z" fill="#000" filter="url(#semTex)" opacity="0.03" style="mix-blend-mode:overlay"/>
<path d="M120.1,301.0 L128.0,299.5 L134.0,300.5 L140.0,298.5 L147.0,297.5 L152.0,296.8 L158.0,298.0 L166.0,297.5 L172.0,299.0 L180.0,298.0 L190.0,297.0 L200.0,296.5 L210.0,297.0 L222.0,297.5 L222.0,321.0 L120.1,324.5 Z" fill="rgb(165,165,165)"/>
<path d="M120.1,301.0 L128.0,299.5 L134.0,300.5 L140.0,298.5 L147.0,297.5 L152.0,296.8 L158.0,298.0 L166.0,297.5 L172.0,299.0 L180.0,298.0 L190.0,297.0 L200.0,296.5 L210.0,297.0 L222.0,297.5 L222.0,321.0 L120.1,324.5 Z" fill="#000" filter="url(#semTex)" opacity="0.39" style="mix-blend-mode:overlay"/>
<path d="M120.1,301.0 L128.0,299.5 L134.0,300.5 L140.0,298.5 L147.0,297.5 L152.0,296.8 L158.0,298.0 L166.0,297.5 L172.0,299.0 L180.0,298.0 L190.0,297.0 L200.0,296.5 L210.0,297.0 L222.0,297.5 L222.0,304.5 L210.0,304.0 L200.0,303.5 L190.0,304.0 L180.0,305.0 L172.0,306.0 L166.0,304.5 L158.0,305.0 L152.0,303.8 L147.0,304.5 L140.0,305.5 L134.0,307.5 L128.0,306.5 L120.1,308.0 Z" fill="rgb(192,192,192)"/>
<path d="M120.1,301.0 L128.0,299.5 L134.0,300.5 L140.0,298.5 L147.0,297.5 L152.0,296.8 L158.0,298.0 L166.0,297.5 L172.0,299.0 L180.0,298.0 L190.0,297.0 L200.0,296.5 L210.0,297.0 L222.0,297.5 L222.0,304.5 L210.0,304.0 L200.0,303.5 L190.0,304.0 L180.0,305.0 L172.0,306.0 L166.0,304.5 L158.0,305.0 L152.0,303.8 L147.0,304.5 L140.0,305.5 L134.0,307.5 L128.0,306.5 L120.1,308.0 Z" fill="#000" filter="url(#semTex)" opacity="0.4" style="mix-blend-mode:overlay"/>
<path d="M120.1,324.5 L222.0,321.0 L222.0,358.0 L120.1,358.0 Z" fill="rgb(58,58,58)"/>
<path d="M120.1,324.5 L222.0,321.0 L222.0,358.0 L120.1,358.0 Z" fill="#000" filter="url(#semTex)" opacity="0.07" style="mix-blend-mode:overlay"/>
<rect x="120.1" y="279.5" width="101.9" height="78.5" fill="#000" filter="url(#semFine)" opacity="0.13" style="mix-blend-mode:overlay"/>
</g>
<path d="M120.1,309.2 L222.0,306.2" fill="none" stroke="#fff" stroke-width="0.8" stroke-dasharray="2.2,1.1" opacity="0.95"/>
<path d="M120.1,322.3 L222.0,318.8" fill="none" stroke="#fff" stroke-width="0.8" stroke-dasharray="2.2,1.1" opacity="0.95"/>
<line x1="174.5" y1="309" x2="174.5" y2="320" stroke="#fff" stroke-width="0.8"/>
<text x="160" y="332.0" font-size="8.5" fill="#fff" >30.0 µm</text>
<text x="128" y="349.1" font-size="8.5" fill="#fff" >50 µm</text>
<line x1="127.1" y1="352.4" x2="148" y2="352.4" stroke="#d0d0d0" stroke-width="1.5"/>
<g clip-path="url(#clip4)">
<path d="M223.1,279.5 L323.0,279.5 L323.0,303.0 L223.1,303.0 Z" fill="url(#skyE3)"/>
<path d="M223.1,279.5 L323.0,279.5 L323.0,303.0 L223.1,303.0 Z" fill="#000" filter="url(#semTex)" opacity="0.03" style="mix-blend-mode:overlay"/>
<path d="M223.1,303.0 L323.0,303.0 L323.0,358.0 L223.1,358.0 Z" fill="rgb(60,60,60)"/>
<path d="M223.1,303.0 L323.0,303.0 L323.0,358.0 L223.1,358.0 Z" fill="#000" filter="url(#semTex)" opacity="0.03" style="mix-blend-mode:overlay"/>
<path d="M223.1,301.5 L235.0,300.5 L250.0,299.0 L260.0,298.5 L270.0,298.0 L285.0,297.5 L300.0,296.5 L310.0,295.0 L316.0,293.5 L323.0,294.6 L323.0,321.0 L280.0,327.0 L250.0,331.0 L223.1,334.5 Z" fill="rgb(152,152,152)"/>
<path d="M223.1,301.5 L235.0,300.5 L250.0,299.0 L260.0,298.5 L270.0,298.0 L285.0,297.5 L300.0,296.5 L310.0,295.0 L316.0,293.5 L323.0,294.6 L323.0,321.0 L280.0,327.0 L250.0,331.0 L223.1,334.5 Z" fill="#000" filter="url(#semTex)" opacity="0.39" style="mix-blend-mode:overlay"/>
<path d="M223.1,301.5 L235.0,300.5 L250.0,299.0 L260.0,298.5 L270.0,298.0 L285.0,297.5 L300.0,296.5 L310.0,295.0 L316.0,293.5 L323.0,294.6 L323.0,301.6 L316.0,300.5 L310.0,302.0 L300.0,303.5 L285.0,304.5 L270.0,305.0 L260.0,305.5 L250.0,306.0 L235.0,307.5 L223.1,308.5 Z" fill="rgb(180,180,180)"/>
<path d="M223.1,301.5 L235.0,300.5 L250.0,299.0 L260.0,298.5 L270.0,298.0 L285.0,297.5 L300.0,296.5 L310.0,295.0 L316.0,293.5 L323.0,294.6 L323.0,301.6 L316.0,300.5 L310.0,302.0 L300.0,303.5 L285.0,304.5 L270.0,305.0 L260.0,305.5 L250.0,306.0 L235.0,307.5 L223.1,308.5 Z" fill="#000" filter="url(#semTex)" opacity="0.4" style="mix-blend-mode:overlay"/>
<path d="M223.1,334.5 L250.0,331.0 L280.0,327.0 L323.0,321.0 L323.0,358.0 L223.1,358.0 Z" fill="rgb(56,56,56)"/>
<path d="M223.1,334.5 L250.0,331.0 L280.0,327.0 L323.0,321.0 L323.0,358.0 L223.1,358.0 Z" fill="#000" filter="url(#semTex)" opacity="0.07" style="mix-blend-mode:overlay"/>
<rect x="223.1" y="279.5" width="99.9" height="78.5" fill="#000" filter="url(#semFine)" opacity="0.13" style="mix-blend-mode:overlay"/>
</g>
<path d="M223.1,315.2 L323.0,305.4" fill="none" stroke="#fff" stroke-width="0.8" stroke-dasharray="2.2,1.1" opacity="0.95"/>
<path d="M223.1,329.5 L323.0,320.5" fill="none" stroke="#fff" stroke-width="0.8" stroke-dasharray="2.2,1.1" opacity="0.95"/>
<line x1="271.6" y1="310.7" x2="271.6" y2="325" stroke="#fff" stroke-width="0.8"/>
<text x="262.5" y="335.7" font-size="8.5" fill="#fff" >33.9 µm</text>
<text x="228.3" y="349.1" font-size="8.5" fill="#fff" >50 µm</text>
<line x1="227.3" y1="352.4" x2="248.4" y2="352.4" stroke="#d0d0d0" stroke-width="1.5"/>
<path d="M18.5,365.2 L315.3,365.2 L315.3,359.9 L326.8,371.3 L315.3,382.8 L315.3,377.0 L18.5,377.0 Z" fill="url(#redArrow)"/>
<text x="49.4" y="374.4" font-size="8.4" fill="#222" >1 mA cm<tspan font-size="5.9" dy="-3.2">−2</tspan></text>
<text x="154.7" y="374.4" font-size="8.4" fill="#222" >5 mA cm<tspan font-size="5.9" dy="-3.2">−2</tspan></text>
<text x="256.4" y="374.4" font-size="8.4" fill="#222" >10 mA cm<tspan font-size="5.9" dy="-3.2">−2</tspan></text>
<g clip-path="url(#clip5)">
<path d="M18.2,385.2 L118.4,385.2 L118.4,463.8 L18.2,463.8 Z" fill="rgb(140,140,140)"/>
<path d="M18.2,385.2 L118.4,385.2 L118.4,463.8 L18.2,463.8 Z" fill="#000" filter="url(#semTex)" opacity="0.28" style="mix-blend-mode:overlay"/>
<path d="M18.2,385.2 L118.4,385.2 L118.4,387.7 L18.2,387.7 Z" fill="rgb(80,80,80)"/>
<path d="M18.2,385.2 L118.4,385.2 L118.4,387.7 L18.2,387.7 Z" fill="#000" filter="url(#semTex)" opacity="0.06" style="mix-blend-mode:overlay"/>
<path d="M18.2,415.5 L58.5,406.5 L90.6,410.6 L118.4,394.2 L118.4,418.0 L18.2,428.0 Z" fill="rgb(122,122,122)"/>
<path d="M18.2,415.5 L58.5,406.5 L90.6,410.6 L118.4,394.2 L118.4,418.0 L18.2,428.0 Z" fill="#000" filter="url(#semTex)" opacity="0.28" style="mix-blend-mode:overlay"/>
<path d="M18.2,425.5 L118.4,415.5 L118.4,417.5 L18.2,427.5 Z" fill="rgb(70,70,70)"/>
<path d="M18.2,425.5 L118.4,415.5 L118.4,417.5 L18.2,427.5 Z" fill="#000" filter="url(#semTex)" opacity="0.11" style="mix-blend-mode:overlay"/>
<path d="M18.2,428.5 L118.4,417.5 L118.4,427.0 L105.0,428.0 L95.0,430.5 L80.0,431.0 L70.0,433.5 L55.0,434.0 L45.0,437.0 L30.0,438.0 L18.2,441.5 Z" fill="rgb(182,182,182)"/>
<path d="M18.2,428.5 L118.4,417.5 L118.4,427.0 L105.0,428.0 L95.0,430.5 L80.0,431.0 L70.0,433.5 L55.0,434.0 L45.0,437.0 L30.0,438.0 L18.2,441.5 Z" fill="#000" filter="url(#semTex)" opacity="0.3" style="mix-blend-mode:overlay"/>
<path d="M18.2,441.5 L30.0,438.0 L45.0,437.0 L55.0,434.0 L70.0,433.5 L80.0,431.0 L95.0,430.5 L105.0,428.0 L118.4,427.0 L118.4,463.8 L18.2,463.8 Z" fill="rgb(90,90,90)"/>
<path d="M18.2,441.5 L30.0,438.0 L45.0,437.0 L55.0,434.0 L70.0,433.5 L80.0,431.0 L95.0,430.5 L105.0,428.0 L118.4,427.0 L118.4,463.8 L18.2,463.8 Z" fill="#000" filter="url(#semTex)" opacity="0.1" style="mix-blend-mode:overlay"/>
<rect x="18.2" y="385.2" width="100.2" height="78.6" fill="#000" filter="url(#semFine)" opacity="0.13" style="mix-blend-mode:overlay"/>
</g>
<path d="M18.2,433.6 L118.4,419.4" stroke="#e6e6e6" stroke-width="2.2" opacity="0.85"/>
<path d="M18.2,415.5 L58.5,406.5 L90.6,410.6 L118.4,394.2" fill="none" stroke="#fff" stroke-width="0.8" stroke-dasharray="2.2,1.1" opacity="0.95"/>
<path d="M18.2,434.8 L118.4,420.6" fill="none" stroke="#fff" stroke-width="0.8" stroke-dasharray="2.2,1.1" opacity="0.95"/>
<text x="27.2" y="454.7" font-size="8.5" fill="#fff" >50 µm</text>
<line x1="26" y1="458" x2="47" y2="458" stroke="#e0e0e0" stroke-width="1.5"/>
<g clip-path="url(#clip6)">
<path d="M120.0,385.2 L221.8,385.2 L221.8,463.8 L120.0,463.8 Z" fill="rgb(124,124,124)"/>
<path d="M120.0,385.2 L221.8,385.2 L221.8,463.8 L120.0,463.8 Z" fill="#000" filter="url(#semTex)" opacity="0.25" style="mix-blend-mode:overlay"/>
<path d="M120.0,412.1 L132.0,415.0 L166.0,397.4 L194.4,404.6 L207.6,397.4 L221.8,398.9 L221.8,416.0 L120.0,431.0 Z" fill="rgb(110,110,110)"/>
<path d="M120.0,412.1 L132.0,415.0 L166.0,397.4 L194.4,404.6 L207.6,397.4 L221.8,398.9 L221.8,416.0 L120.0,431.0 Z" fill="#000" filter="url(#semTex)" opacity="0.25" style="mix-blend-mode:overlay"/>
<path d="M120.0,431.0 L221.8,416.0 L221.8,423.0 L210.0,426.0 L200.0,429.0 L190.0,428.5 L182.0,431.0 L172.0,431.5 L160.0,434.0 L148.0,435.0 L135.0,438.0 L125.0,439.0 L120.0,440.0 Z" fill="rgb(160,160,160)"/>
<path d="M120.0,431.0 L221.8,416.0 L221.8,423.0 L210.0,426.0 L200.0,429.0 L190.0,428.5 L182.0,431.0 L172.0,431.5 L160.0,434.0 L148.0,435.0 L135.0,438.0 L125.0,439.0 L120.0,440.0 Z" fill="#000" filter="url(#semTex)" opacity="0.45" style="mix-blend-mode:overlay"/>
<path d="M120.0,440.0 L125.0,439.0 L135.0,438.0 L148.0,435.0 L160.0,434.0 L172.0,431.5 L182.0,431.0 L190.0,428.5 L200.0,429.0 L210.0,426.0 L221.8,423.0 L221.8,463.8 L120.0,463.8 Z" fill="rgb(50,50,50)"/>
<path d="M120.0,440.0 L125.0,439.0 L135.0,438.0 L148.0,435.0 L160.0,434.0 L172.0,431.5 L182.0,431.0 L190.0,428.5 L200.0,429.0 L210.0,426.0 L221.8,423.0 L221.8,463.8 L120.0,463.8 Z" fill="#000" filter="url(#semTex)" opacity="0.12" style="mix-blend-mode:overlay"/>
<rect x="120.0" y="385.2" width="101.8" height="78.6" fill="#000" filter="url(#semFine)" opacity="0.13" style="mix-blend-mode:overlay"/>
</g>
<g filter="url(#blur1)">
<ellipse cx="193" cy="436" rx="2.6" ry="3.2" fill="#b8b8b8" opacity="0.8"/>
<ellipse cx="182" cy="456" rx="4" ry="3" fill="#666" opacity="0.6"/>
<ellipse cx="208" cy="450" rx="3.5" ry="3" fill="#6a6a6a" opacity="0.5"/>
<ellipse cx="178" cy="419" rx="3.5" ry="1.6" fill="#444" opacity="0.7"/>
</g>
<path d="M120.0,412.1 L132.0,415.0 L166.0,397.4 L194.4,404.6 L207.6,397.4 L221.8,398.9" fill="none" stroke="#fff" stroke-width="0.8" stroke-dasharray="2.2,1.1" opacity="0.95"/>
<path d="M120.0,431.0 L221.8,416.0" fill="none" stroke="#fff" stroke-width="0.8" stroke-dasharray="2.2,1.1" opacity="0.95"/>
<text x="128.1" y="454.7" font-size="8.5" fill="#fff" >50 µm</text>
<line x1="127.3" y1="458" x2="148" y2="458" stroke="#e0e0e0" stroke-width="1.5"/>
<g clip-path="url(#clip7)">
<path d="M223.1,385.2 L322.8,385.2 L322.8,463.8 L223.1,463.8 Z" fill="rgb(104,104,104)"/>
<path d="M223.1,385.2 L322.8,385.2 L322.8,463.8 L223.1,463.8 Z" fill="#000" filter="url(#semTex)" opacity="0.11" style="mix-blend-mode:overlay"/>
<path d="M223.1,385.2 L322.8,385.2 L322.8,395.0 L223.1,398.0 Z" fill="rgb(90,90,90)"/>
<path d="M223.1,385.2 L322.8,385.2 L322.8,395.0 L223.1,398.0 Z" fill="#000" filter="url(#semTex)" opacity="0.06" style="mix-blend-mode:overlay"/>
<path d="M223.1,416.3 L248.3,407.2 L257.3,404.2 L265.4,400.2 L270.4,400.6 L287.6,414.3 L322.8,412.3 L322.8,432.0 L223.1,436.5 Z" fill="rgb(116,116,116)"/>
<path d="M223.1,416.3 L248.3,407.2 L257.3,404.2 L265.4,400.2 L270.4,400.6 L287.6,414.3 L322.8,412.3 L322.8,432.0 L223.1,436.5 Z" fill="#000" filter="url(#semTex)" opacity="0.28" style="mix-blend-mode:overlay"/>
<path d="M223.1,436.5 L322.8,432.0 L322.8,437.0 L223.1,441.5 Z" fill="rgb(172,172,172)"/>
<path d="M223.1,436.5 L322.8,432.0 L322.8,437.0 L223.1,441.5 Z" fill="#000" filter="url(#semTex)" opacity="0.17" style="mix-blend-mode:overlay"/>
<path d="M223.1,441.5 L322.8,437.0 L322.8,463.8 L223.1,463.8 Z" fill="rgb(76,76,76)"/>
<path d="M223.1,441.5 L322.8,437.0 L322.8,463.8 L223.1,463.8 Z" fill="#000" filter="url(#semTex)" opacity="0.08" style="mix-blend-mode:overlay"/>
<rect x="223.1" y="385.2" width="99.7" height="78.6" fill="#000" filter="url(#semFine)" opacity="0.13" style="mix-blend-mode:overlay"/>
</g>
<g filter="url(#blur1)" opacity="0.85">
<ellipse cx="266" cy="421" rx="2.5" ry="3" fill="#d0d0d0"/>
<ellipse cx="270" cy="426" rx="2" ry="1.6" fill="#e0e0e0"/>
<ellipse cx="262" cy="427" rx="1.6" ry="1.4" fill="#c8c8c8"/>
<ellipse cx="258" cy="403" rx="6" ry="2" fill="#505050"/>
<ellipse cx="284" cy="424" rx="2" ry="1.5" fill="#bbb"/>
<ellipse cx="300" cy="428" rx="3" ry="1.2" fill="#9a9a9a"/>
</g>
<path d="M223.1,416.3 L248.3,407.2 L257.3,404.2 L265.4,400.2 L270.4,400.6 L287.6,414.3 L322.8,412.3" fill="none" stroke="#fff" stroke-width="0.8" stroke-dasharray="2.2,1.1" opacity="0.95"/>
<path d="M223.1,436.5 L322.8,432.0" fill="none" stroke="#fff" stroke-width="0.8" stroke-dasharray="2.2,1.1" opacity="0.95"/>
<text x="228.4" y="454.6" font-size="8.5" fill="#fff" >50 µm</text>
<line x1="227.7" y1="458.3" x2="248.3" y2="458.3" stroke="#e0e0e0" stroke-width="1.5"/>
<text x="6.7" y="290.9" font-size="14" fill="#000" font-weight="bold" >e</text>
<text x="6.6" y="398.9" font-size="14" fill="#000" font-weight="bold" >f</text>
<rect x="335.1" y="267.4" width="347.2" height="208.0" rx="3" ry="3" fill="none" stroke="#34466f" stroke-width="1.2" stroke-dasharray="2.4,1.1"/>
<g clip-path="url(#clip8)">
<path d="M350.2,278.1 L412.1,278.1 L412.1,359.7 L350.2,359.7 Z" fill="#56634f"/>
<path d="M350.2,278.1 L377.3,277.1 L379.2,300.0 L380.5,320.0 L381.6,340.0 L383.2,360.7 L350.2,359.7 Z" fill="#8ca096"/>
<rect x="350.2" y="278.1" width="61.9" height="81.6" filter="url(#optNoise)" opacity="0.12" style="mix-blend-mode:overlay"/>
</g>
<path d="M378.2,277.1 L380.09999999999997,300 L381.4,320 L382.5,340 L384.09999999999997,360.7" fill="none" stroke="#7a7f55" stroke-width="2.4" opacity="0.6"/>
<path d="M377.8,277.1 L379.7,300 L381.0,320 L382.1,340 L383.7,360.7" fill="none" stroke="#282c3a" stroke-width="1.3"/>
<circle cx="385.5" cy="307" r="1.6" fill="#c8c890" opacity="0.9"/>
<circle cx="385.6" cy="307" r="0.7" fill="#6080c0" opacity="0.9"/>
<circle cx="379.5" cy="326" r="0.8" fill="#d0c060" opacity="0.9"/>
<circle cx="381.3" cy="345" r="1.0" fill="#4060e0" opacity="0.9"/>
<circle cx="382" cy="350" r="0.9" fill="#e0e0f0" opacity="0.9"/>
<circle cx="378.2" cy="283" r="0.8" fill="#4060e0" opacity="0.9"/>
<circle cx="380.2" cy="315" r="0.6" fill="#3050d0" opacity="0.9"/>
<circle cx="382.6" cy="355" r="0.7" fill="#c0b050" opacity="0.9"/>
<g clip-path="url(#clip9)">
<path d="M413.9,278.1 L475.7,278.1 L475.7,359.7 L413.9,359.7 Z" fill="#68725f"/>
<path d="M413.9,278.1 L443.0,278.1 L448.0,359.7 L413.9,359.7 Z" fill="#5f6a5a"/>
<rect x="413.9" y="278.1" width="61.8" height="81.6" filter="url(#optNoise)" opacity="0.12" style="mix-blend-mode:overlay"/>
</g>
<path d="M442.7,277.1 L444.5,300 L446,320 L447.3,336" fill="none" stroke="#2a2d33" stroke-width="1.3"/>
<path d="M447.3,336 L448.5,346" fill="none" stroke="#2a2d33" stroke-width="0.9" opacity="0.6"/>
<circle cx="450.1" cy="347.3" r="0.58" fill="#b0b8d8" opacity="0.9"/>
<circle cx="451.1" cy="350.5" r="0.75" fill="#ffffff" opacity="0.9"/>
<circle cx="448.0" cy="344.9" r="0.54" fill="#b0b8d8" opacity="0.9"/>
<circle cx="451.7" cy="348.2" r="0.74" fill="#d8dce8" opacity="0.9"/>
<circle cx="452.2" cy="345.8" r="0.38" fill="#ffffff" opacity="0.9"/>
<circle cx="446.9" cy="338.9" r="0.60" fill="#d8dce8" opacity="0.9"/>
<circle cx="448.2" cy="347.7" r="0.53" fill="#b0b8d8" opacity="0.9"/>
<circle cx="454.1" cy="345.7" r="0.58" fill="#b0b8d8" opacity="0.9"/>
<circle cx="451.1" cy="341.7" r="0.45" fill="#b0b8d8" opacity="0.9"/>
<circle cx="448.7" cy="348.9" r="0.54" fill="#e8e0a0" opacity="0.9"/>
<circle cx="452.7" cy="352.4" r="0.72" fill="#e8e0a0" opacity="0.9"/>
<circle cx="450.8" cy="338.0" r="0.33" fill="#e8e0a0" opacity="0.9"/>
<circle cx="455.1" cy="345.5" r="0.73" fill="#d8dce8" opacity="0.9"/>
<circle cx="451.5" cy="341.5" r="0.54" fill="#ffffff" opacity="0.9"/>
<circle cx="450.9" cy="341.6" r="0.68" fill="#d8dce8" opacity="0.9"/>
<circle cx="454.7" cy="342.1" r="0.62" fill="#b0b8d8" opacity="0.9"/>
<circle cx="449.7" cy="343.9" r="0.68" fill="#ffffff" opacity="0.9"/>
<circle cx="450.2" cy="347.6" r="0.71" fill="#909cc0" opacity="0.9"/>
<circle cx="448.9" cy="345.6" r="0.70" fill="#d8dce8" opacity="0.9"/>
<circle cx="457.5" cy="349.1" r="0.71" fill="#d8dce8" opacity="0.9"/>
<circle cx="445.9" cy="343.9" r="0.66" fill="#ffffff" opacity="0.9"/>
<circle cx="452.7" cy="339.1" r="0.66" fill="#d8dce8" opacity="0.9"/>
<circle cx="450.7" cy="348.6" r="0.69" fill="#909cc0" opacity="0.9"/>
<circle cx="452.5" cy="341.2" r="0.41" fill="#b0b8d8" opacity="0.9"/>
<circle cx="452.7" cy="347.2" r="0.30" fill="#909cc0" opacity="0.9"/>
<circle cx="447.2" cy="348.1" r="0.66" fill="#909cc0" opacity="0.9"/>
<circle cx="452.6" cy="348.8" r="0.59" fill="#d8dce8" opacity="0.9"/>
<circle cx="454.8" cy="348.0" r="0.40" fill="#e8e0a0" opacity="0.9"/>
<circle cx="453.6" cy="345.0" r="0.69" fill="#e8e0a0" opacity="0.9"/>
<circle cx="449.8" cy="345.7" r="0.75" fill="#ffffff" opacity="0.9"/>
<circle cx="451.7" cy="347.9" r="0.30" fill="#b0b8d8" opacity="0.9"/>
<circle cx="449.6" cy="348.2" r="0.63" fill="#b0b8d8" opacity="0.9"/>
<circle cx="449.2" cy="351.5" r="0.63" fill="#909cc0" opacity="0.9"/>
<circle cx="451.8" cy="353.3" r="0.47" fill="#d8dce8" opacity="0.9"/>
<circle cx="452.8" cy="346.8" r="0.36" fill="#d8dce8" opacity="0.9"/>
<circle cx="451.7" cy="343.8" r="0.61" fill="#d8dce8" opacity="0.9"/>
<circle cx="452.1" cy="350.5" r="0.67" fill="#909cc0" opacity="0.9"/>
<circle cx="447.4" cy="344.1" r="0.49" fill="#b0b8d8" opacity="0.9"/>
<circle cx="450.8" cy="347.0" r="0.69" fill="#ffffff" opacity="0.9"/>
<circle cx="452.5" cy="344.1" r="0.42" fill="#909cc0" opacity="0.9"/>
<circle cx="446.0" cy="346.5" r="0.40" fill="#b0b8d8" opacity="0.9"/>
<circle cx="445.3" cy="345.9" r="0.56" fill="#909cc0" opacity="0.9"/>
<circle cx="447.1" cy="341.8" r="0.46" fill="#d8dce8" opacity="0.9"/>
<circle cx="450.7" cy="340.5" r="0.63" fill="#d8dce8" opacity="0.9"/>
<circle cx="452.4" cy="346.7" r="0.60" fill="#b0b8d8" opacity="0.9"/>
<circle cx="451.9" cy="343.2" r="0.37" fill="#909cc0" opacity="0.9"/>
<circle cx="450.9" cy="348.5" r="0.39" fill="#d8dce8" opacity="0.9"/>
<circle cx="452.6" cy="340.0" r="0.69" fill="#b0b8d8" opacity="0.9"/>
<circle cx="448.9" cy="346.7" r="0.45" fill="#d8dce8" opacity="0.9"/>
<circle cx="448.8" cy="344.9" r="0.57" fill="#d8dce8" opacity="0.9"/>
<circle cx="450.4" cy="343.8" r="0.51" fill="#b0b8d8" opacity="0.9"/>
<circle cx="452.5" cy="341.4" r="0.36" fill="#909cc0" opacity="0.9"/>
<circle cx="443.6" cy="348.1" r="0.30" fill="#b0b8d8" opacity="0.9"/>
<circle cx="448.1" cy="341.4" r="0.58" fill="#909cc0" opacity="0.9"/>
<circle cx="452.2" cy="340.9" r="0.60" fill="#b0b8d8" opacity="0.9"/>
<circle cx="453.7" cy="338.9" r="0.71" fill="#d8dce8" opacity="0.9"/>
<circle cx="452.0" cy="343.8" r="0.50" fill="#d8dce8" opacity="0.9"/>
<circle cx="452.6" cy="351.8" r="0.67" fill="#ffffff" opacity="0.9"/>
<circle cx="450.7" cy="347.3" r="0.48" fill="#d8dce8" opacity="0.9"/>
<circle cx="450.1" cy="342.7" r="0.47" fill="#d8dce8" opacity="0.9"/>
<circle cx="459.5" cy="325.5" r="1.4" fill="#dde4ff" opacity="0.9"/>
<circle cx="459.5" cy="325.5" r="0.6" fill="#6070c0" opacity="0.9"/>
<circle cx="456" cy="300" r="0.7" fill="#c0c0a0" opacity="0.9"/>
<circle cx="431" cy="304" r="0.5" fill="#5060a0" opacity="0.9"/>
<circle cx="445" cy="290" r="0.6" fill="#d0c070" opacity="0.9"/>
<circle cx="452" cy="338" r="0.8" fill="#c0c0d0" opacity="0.9"/>
<circle cx="434.8" cy="340" r="0.7" fill="#b0a050" opacity="0.9"/>
<ellipse cx="441.2" cy="350.4" rx="3.1" ry="5.8" fill="#3040c8" opacity="0.9"/>
<ellipse cx="442.2" cy="350.0" rx="2.4" ry="5.2" fill="#f6f8ff"/>
<ellipse cx="444" cy="353" rx="1.5" ry="1.8" fill="#e8e070" opacity="0.8"/>
<text x="369.0" y="290.8" font-size="8.3" fill="#fff" >5 min</text>
<text x="432.7" y="290.8" font-size="8.3" fill="#fff" >15 min</text>
<text x="418.2" y="323.9" font-size="8.3" fill="#fff" >Dendrites</text>
<line x1="438.2" y1="328.4" x2="446.4" y2="338.4" stroke="#fff" stroke-width="0.6"/>
<text x="355.3" y="351" font-size="8.0" fill="#fff" >100 µm</text>
<line x1="358" y1="354" x2="374.4" y2="354" stroke="#fff" stroke-width="1.2"/>
<path d="M346.6,365.9 L470.9,365.9 L470.9,360.4 L482.3,371.6 L470.9,383.2 L470.9,377.2 L346.6,377.2 Z" fill="url(#platArrow)"/>
<text x="398.4" y="374.4" font-size="8.6" fill="#222" >Plating</text>
<g clip-path="url(#clip10)">
<path d="M350.2,385.3 L411.8,385.3 L411.8,466.3 L350.2,466.3 Z" fill="#858c74"/>
<path d="M350.2,385.3 L373.6,384.3 L374.2,410.0 L374.8,440.0 L375.6,467.3 L350.2,466.3 Z" fill="#353a2b"/>
<rect x="350.2" y="385.3" width="61.6" height="81.0" filter="url(#optNoise)" opacity="0.12" style="mix-blend-mode:overlay"/>
</g>
<path d="M373.6,384.3 L374.2,410 L374.8,440 L375.6,467.3" fill="none" stroke="#2a3050" stroke-width="1.2"/>
<path d="M375.0,384.3 L375.59999999999997,410 L376.2,440 L377.0,467.3" fill="none" stroke="#6a6a40" stroke-width="1.6" opacity="0.6"/>
<circle cx="375.4" cy="419.7" r="0.37" fill="#3050d0" opacity="0.9"/>
<circle cx="375.1" cy="397.5" r="0.36" fill="#d8c040" opacity="0.9"/>
<circle cx="376.3" cy="425.3" r="0.38" fill="#d8c040" opacity="0.9"/>
<circle cx="373.9" cy="397.2" r="0.44" fill="#3050d0" opacity="0.9"/>
<circle cx="375.0" cy="438.4" r="0.39" fill="#e8d850" opacity="0.9"/>
<circle cx="373.7" cy="387.5" r="0.53" fill="#e8d850" opacity="0.9"/>
<circle cx="374.4" cy="393.8" r="0.67" fill="#f0e070" opacity="0.9"/>
<circle cx="375.2" cy="428.2" r="0.68" fill="#f0e070" opacity="0.9"/>
<circle cx="375.7" cy="431.1" r="0.70" fill="#d8c040" opacity="0.9"/>
<circle cx="376.1" cy="447.6" r="0.59" fill="#e8d850" opacity="0.9"/>
<circle cx="376.9" cy="463.9" r="0.39" fill="#f0e070" opacity="0.9"/>
<circle cx="374.8" cy="420.9" r="0.61" fill="#d8c040" opacity="0.9"/>
<circle cx="375.1" cy="444.9" r="0.61" fill="#f0e070" opacity="0.9"/>
<circle cx="376.3" cy="442.5" r="0.70" fill="#f0e070" opacity="0.9"/>
<circle cx="375.6" cy="450.1" r="0.57" fill="#f0e070" opacity="0.9"/>
<circle cx="375.0" cy="441.7" r="0.50" fill="#e8d850" opacity="0.9"/>
<circle cx="375.1" cy="438.2" r="0.63" fill="#3050d0" opacity="0.9"/>
<circle cx="374.6" cy="393.8" r="0.33" fill="#d8c040" opacity="0.9"/>
<circle cx="376.2" cy="420.9" r="0.49" fill="#3050d0" opacity="0.9"/>
<circle cx="375.3" cy="428.2" r="0.35" fill="#e8d850" opacity="0.9"/>
<circle cx="374.9" cy="436.0" r="0.45" fill="#d8c040" opacity="0.9"/>
<circle cx="374.8" cy="413.8" r="0.60" fill="#f0e070" opacity="0.9"/>
<circle cx="376.3" cy="434.3" r="0.36" fill="#d8c040" opacity="0.9"/>
<circle cx="375.7" cy="458.6" r="0.43" fill="#d8c040" opacity="0.9"/>
<circle cx="376.3" cy="463.5" r="0.53" fill="#e8d850" opacity="0.9"/>
<circle cx="375.9" cy="437.3" r="0.63" fill="#3050d0" opacity="0.9"/>
<circle cx="376.2" cy="441.2" r="0.36" fill="#e8d850" opacity="0.9"/>
<circle cx="375.9" cy="458.2" r="0.47" fill="#f0e070" opacity="0.9"/>
<circle cx="375.8" cy="408.3" r="0.45" fill="#3050d0" opacity="0.9"/>
<circle cx="375.0" cy="427.1" r="0.49" fill="#d8c040" opacity="0.9"/>
<circle cx="376.3" cy="424.7" r="0.35" fill="#d8c040" opacity="0.9"/>
<circle cx="376.1" cy="423.3" r="0.70" fill="#3050d0" opacity="0.9"/>
<circle cx="375.3" cy="449.5" r="0.66" fill="#3050d0" opacity="0.9"/>
<circle cx="374.9" cy="425.2" r="0.33" fill="#f0e070" opacity="0.9"/>
<circle cx="375.9" cy="415.1" r="0.66" fill="#d8c040" opacity="0.9"/>
<circle cx="373.9" cy="389.3" r="0.65" fill="#f0e070" opacity="0.9"/>
<circle cx="375.5" cy="455.2" r="0.49" fill="#f0e070" opacity="0.9"/>
<circle cx="374.3" cy="385.8" r="0.59" fill="#d8c040" opacity="0.9"/>
<circle cx="375.7" cy="426.5" r="0.64" fill="#3050d0" opacity="0.9"/>
<circle cx="374.8" cy="433.5" r="0.65" fill="#d8c040" opacity="0.9"/>
<circle cx="376.5" cy="459.2" r="0.55" fill="#f0e070" opacity="0.9"/>
<circle cx="373.8" cy="396.1" r="0.38" fill="#3050d0" opacity="0.9"/>
<circle cx="375.7" cy="410.3" r="0.68" fill="#3050d0" opacity="0.9"/>
<circle cx="375.6" cy="465.1" r="0.46" fill="#f0e070" opacity="0.9"/>
<circle cx="375.3" cy="397.9" r="0.65" fill="#e8d850" opacity="0.9"/>
<g clip-path="url(#clip11)">
<path d="M414.0,385.3 L475.8,385.3 L475.8,466.3 L414.0,466.3 Z" fill="#8c9579"/>
<path d="M450.0,385.3 L475.8,385.3 L475.8,466.3 L446.0,466.3 Z" fill="#939c80"/>
<path d="M434.3,384.3 L434.3,410.0 L433.4,440.0 L432.5,467.3 L438.8,467.3 L441.4,440.0 L443.2,410.0 L441.4,384.3 Z" fill="#3c4230"/>
<path d="M441.4,384.3 L443.2,410.0 L441.4,440.0 L438.8,467.3 L441.5,467.3 L444.5,440.0 L446.5,410.0 L444.8,384.3 Z" fill="#5f6650"/>
<rect x="414.0" y="385.3" width="61.8" height="81.0" filter="url(#optNoise)" opacity="0.12" style="mix-blend-mode:overlay"/>
</g>
<path d="M434.3,384.3 L434.3,410 L433.4,440 L432.5,467.3" fill="none" stroke="#2a3050" stroke-width="0.9"/>
<circle cx="443.5" cy="423.6" r="1.0" fill="#f4f080" opacity="0.9"/>
<circle cx="440" cy="437" r="0.7" fill="#d8c040" opacity="0.9"/>
<circle cx="439.5" cy="441" r="0.6" fill="#c8b030" opacity="0.9"/>
<circle cx="438" cy="451" r="0.6" fill="#d0c040" opacity="0.9"/>
<circle cx="444" cy="412" r="0.6" fill="#a0a8c0" opacity="0.9"/>
<circle cx="442" cy="411" r="0.5" fill="#c0c070" opacity="0.9"/>
<circle cx="436.2" cy="458" r="0.6" fill="#d8c040" opacity="0.9"/>
<circle cx="449.8" cy="416.5" r="0.6" fill="#50583a" opacity="0.9"/>
<text x="366.6" y="398.2" font-size="8.3" fill="#fff" >5 min</text>
<text x="431.4" y="398.2" font-size="8.3" fill="#fff" >15 min</text>
<text x="424.4" y="452.9" font-size="8.4" fill="#fff" >Plated Na</text>
<line x1="445.9" y1="425" x2="451.2" y2="444.5" stroke="#fff" stroke-width="0.7"/>
<line x1="441.4" y1="440.4" x2="445" y2="443.6" stroke="#fff" stroke-width="0.7"/>
<text x="355.2" y="458" font-size="8.0" fill="#fff" >100 µm</text>
<line x1="358.4" y1="461.3" x2="375.7" y2="461.3" stroke="#fff" stroke-width="1.2"/>
<text x="339.6" y="290.6" font-size="14" fill="#000" font-weight="bold" >g</text>
<text x="339.8" y="399.5" font-size="14" fill="#000" font-weight="bold" >h</text>
<path d="M504.9,330 L505.1,318 L505.6,315.6 L514.6,315.1 L521.9,313.4 L529.2,311.2 L536.5,309.4 L543.8,308.2 L558.4,306.8 L573,305.8 L576.6,304.6 L578.8,301 L580.3,295.8 L581,295.1 L581.8,298.8 L583.2,301.7 L584.7,302.4 L585.4,303.9 L586.9,306.8 L590.5,307.5 L600,308.0 L616.8,310.2 L630.2,313.3 L640.3,316.2 L645,317.2 L647.5,317.6 L650.4,319.4 L652.9,325.3 L654.1,333.7 L655.4,342.1 L656.2,356.5" fill="none" stroke="#ee2a2a" stroke-width="0.9" stroke-linejoin="round"/>
<path d="M504.7,453.17 L505.4,453.18 L506.1,453.30 L506.9,452.77 L507.6,451.82 L508.3,450.97 L509.0,450.96 L509.7,450.61 L510.5,450.50 L511.2,449.35 L511.9,449.03 L512.6,449.44 L513.3,447.84 L514.0,448.13 L514.8,447.08 L515.5,447.44 L516.2,446.62 L516.9,446.79 L517.6,445.51 L518.4,445.87 L519.1,444.66 L519.8,444.01 L520.5,443.63 L521.2,443.18 L522.0,443.13 L522.7,443.40 L523.4,442.23 L524.1,442.27 L524.8,441.06 L525.5,441.25 L526.2,440.88 L526.9,439.96 L527.6,440.15 L528.3,439.60 L529.0,439.07 L529.8,439.28 L530.5,438.72 L531.2,437.64 L531.9,437.24 L532.6,436.78 L533.3,436.64 L534.0,436.70 L534.7,436.71 L535.4,436.32 L536.1,435.80 L536.8,434.52 L537.5,434.93 L538.2,434.51 L538.9,433.77 L539.6,434.00 L540.3,433.14 L541.1,432.17 L541.8,431.90 L542.5,431.40 L543.2,431.59 L543.9,431.21 L544.6,431.10 L545.3,429.69 L546.0,429.30 L546.7,430.07 L547.4,428.97 L548.1,428.73 L548.8,429.20 L549.5,428.05 L550.2,428.62 L551.0,428.50 L551.7,427.86 L552.4,427.67 L553.1,426.70 L553.8,427.17 L554.5,426.94 L555.2,426.88 L555.9,426.33 L556.6,425.60 L557.3,425.49 L558.0,425.76 L558.8,424.82 L559.5,424.61 L560.2,424.54 L560.9,424.95 L561.6,424.40 L562.3,423.93 L563.0,424.41 L563.7,423.71 L564.4,423.05 L565.1,423.20 L565.8,423.30 L566.6,422.47 L567.3,422.30 L568.0,422.23 L568.7,422.48 L569.4,421.81 L570.1,421.02 L570.8,421.29 L571.5,420.77 L572.2,420.75 L572.9,420.83 L573.6,419.79 L574.3,420.17 L575.0,419.73 L575.8,419.86 L576.5,419.92 L577.2,419.29 L577.9,419.28 L578.6,418.66 L579.3,418.41 L580.0,418.51 L580.8,418.36 L581.6,417.81 L582.5,418.28 L583.3,417.78 L584.1,417.43 L584.9,417.57 L585.7,418.54 L586.5,418.88 L587.2,419.19 L588.0,418.63 L588.8,418.69 L589.5,419.71 L590.2,419.33 L590.9,420.67 L591.6,420.81 L592.3,420.74 L593.1,421.22 L593.8,421.85 L594.5,421.57 L595.2,422.17 L595.9,423.02 L596.6,423.24 L597.3,423.48 L598.0,423.25 L598.7,423.73 L599.4,424.13 L600.1,424.20 L600.8,425.28 L601.6,425.55 L602.3,426.32 L603.0,426.22 L603.7,427.01 L604.4,426.81 L605.1,427.22 L605.8,427.33 L606.5,427.93 L607.2,428.89 L607.9,428.74 L608.6,428.54 L609.4,429.35 L610.1,429.55 L610.8,430.45 L611.5,430.70 L612.2,431.05 L612.9,431.98 L613.6,432.17 L614.3,431.75 L615.0,432.07 L615.7,433.26 L616.4,433.52 L617.2,433.98 L617.9,434.18 L618.6,434.01 L619.3,434.90 L620.0,435.75 L620.7,435.86 L621.4,435.57 L622.1,436.06 L622.8,437.38 L623.5,437.34 L624.2,437.27 L625.0,438.31 L625.7,438.96 L626.4,439.27 L627.1,439.40 L627.8,439.98 L628.5,439.51 L629.2,440.33 L629.9,441.13 L630.6,440.94 L631.3,441.08 L632.0,442.32 L632.7,442.50 L633.4,442.04 L634.1,442.49 L634.8,443.46 L635.6,444.31 L636.3,444.28 L637.0,444.97 L637.7,444.42 L638.4,445.36 L639.1,445.26 L639.8,445.82 L640.5,445.98 L641.2,446.73 L641.9,446.61 L642.6,447.71 L643.3,448.08 L644.0,448.76 L644.7,448.98 L645.4,448.52 L646.1,449.85 L646.8,449.84 L647.5,450.68 L648.2,450.53 L649.0,450.41 L649.7,451.53 L650.4,451.27 L651.1,452.62 L651.8,452.47 L652.5,453.28 L653.2,453.16 L653.9,453.34 L654.6,454.12 L655.3,454.30" fill="none" stroke="#3d6fc6" stroke-width="1.7" stroke-linejoin="round"/>
<path d="M504.7,453.39 L505.4,453.14 L506.1,452.96 L506.8,453.07 L507.5,453.32 L508.2,452.86 L508.9,452.78 L509.6,453.05 L510.3,453.19 L511.0,452.64 L511.7,452.80 L512.4,453.41 L513.1,452.76 L513.8,453.19 L514.5,452.75 L515.2,452.54 L515.9,452.88 L516.6,453.20 L517.4,453.10 L518.1,452.42 L518.8,452.99 L519.5,452.90 L520.2,452.76 L520.9,452.90 L521.6,452.75 L522.3,452.43 L523.0,452.87 L523.7,452.34 L524.4,452.48 L525.1,452.95 L525.8,452.68 L526.5,452.61 L527.2,452.77 L527.9,452.55 L528.6,452.43 L529.3,452.57 L530.0,452.07 L530.7,452.33 L531.5,452.01 L532.2,452.83 L532.9,452.71 L533.6,452.44 L534.4,451.96 L535.1,452.55 L535.8,451.99 L536.5,452.42 L537.3,452.24 L538.0,452.16 L538.7,452.25 L539.4,451.78 L540.2,452.25 L540.9,451.95 L541.6,452.11 L542.3,452.14 L543.1,451.57 L543.8,451.68 L544.5,451.59 L545.2,451.30 L546.0,451.98 L546.7,451.77 L547.4,451.46 L548.1,451.38 L548.9,451.55 L549.6,450.69 L550.3,450.82 L551.0,450.98 L551.7,450.72 L552.5,450.55 L553.2,450.21 L553.9,450.04 L554.6,450.31 L555.3,449.89 L556.0,450.29 L556.8,450.13 L557.5,450.06 L558.2,449.31 L558.9,449.39 L559.6,448.89 L560.4,448.99 L561.1,448.60 L561.8,448.86 L562.5,449.13 L563.2,448.83 L564.0,448.34 L564.7,448.13 L565.4,448.59 L566.1,447.51 L566.9,447.94 L567.6,447.66 L568.3,446.66 L569.1,447.17 L569.8,446.61 L570.5,446.09 L571.2,445.83 L572.0,445.71 L572.7,445.35 L573.4,445.37 L574.2,445.11 L574.9,444.31 L575.6,443.73 L576.4,444.14 L577.1,443.73 L577.9,443.46 L578.7,442.65 L579.5,442.37 L580.2,442.83 L581.0,442.06 L581.8,441.88 L582.5,442.33 L583.2,441.63 L583.9,442.02 L584.6,441.51 L585.3,441.96 L586.0,442.11 L586.9,441.86 L587.9,442.67 L588.8,443.12 L589.5,443.42 L590.2,443.82 L590.9,444.39 L591.6,444.62 L592.3,444.89 L593.0,445.57 L593.7,445.99 L594.4,446.26 L595.1,446.72 L595.8,446.71 L596.5,446.93 L597.2,447.00 L597.9,447.56 L598.6,447.57 L599.3,447.21 L600.0,447.92 L600.7,447.16 L601.4,447.25 L602.1,447.56 L602.8,447.42 L603.5,448.28 L604.2,447.83 L604.9,447.94 L605.6,448.44 L606.3,448.23 L607.0,448.40 L607.7,448.31 L608.4,448.40 L609.1,448.93 L609.8,448.40 L610.5,448.70 L611.2,448.74 L611.9,448.52 L612.6,448.60 L613.3,449.01 L614.0,449.35 L614.7,449.10 L615.4,448.84 L616.1,449.71 L616.8,449.07 L617.5,449.81 L618.2,449.12 L618.9,449.73 L619.6,449.35 L620.3,449.52 L621.1,449.73 L621.8,450.10 L622.5,449.88 L623.2,449.93 L623.9,449.98 L624.6,450.15 L625.3,450.00 L626.0,450.67 L626.7,450.05 L627.4,450.07 L628.1,450.51 L628.9,450.40 L629.6,450.80 L630.3,450.25 L631.0,450.89 L631.7,450.68 L632.4,451.25 L633.1,450.75 L633.8,450.94 L634.5,450.90 L635.2,451.16 L635.9,451.00 L636.7,451.42 L637.4,451.25 L638.1,451.59 L638.8,451.28 L639.5,451.49 L640.2,451.65 L640.9,451.93 L641.6,451.99 L642.4,451.92 L643.1,451.74 L643.8,451.89 L644.5,452.05 L645.2,452.22 L646.0,452.34 L646.7,452.90 L647.4,452.74 L648.1,453.38 L648.8,452.90 L649.5,453.04 L650.3,453.11 L651.0,453.21 L651.7,453.82 L652.4,453.86 L653.1,453.69 L653.9,454.32 L654.6,454.33 L655.3,454.30" fill="none" stroke="#d4237f" stroke-width="1.5" stroke-linejoin="round"/>
<rect x="504.5" y="283.2" width="151.5" height="175.3" fill="none" stroke="#111" stroke-width="0.9"/>
<line x1="656.0" y1="283.8" x2="658.6" y2="283.8" stroke="#111" stroke-width="0.7"/>
<text x="659.8" y="285.5" font-size="7.8" fill="#1a1a1a" >4.0</text>
<line x1="656.0" y1="298.2" x2="658.6" y2="298.2" stroke="#111" stroke-width="0.7"/>
<text x="659.8" y="299.9" font-size="7.8" fill="#1a1a1a" >3.5</text>
<line x1="656.0" y1="312.5" x2="658.6" y2="312.5" stroke="#111" stroke-width="0.7"/>
<text x="659.8" y="314.2" font-size="7.8" fill="#1a1a1a" >3.0</text>
<line x1="656.0" y1="327.3" x2="658.6" y2="327.3" stroke="#111" stroke-width="0.7"/>
<text x="659.8" y="329.0" font-size="7.8" fill="#1a1a1a" >2.5</text>
<line x1="656.0" y1="341.7" x2="658.6" y2="341.7" stroke="#111" stroke-width="0.7"/>
<text x="659.8" y="343.4" font-size="7.8" fill="#1a1a1a" >2.0</text>
<line x1="656.0" y1="356.2" x2="658.6" y2="356.2" stroke="#111" stroke-width="0.7"/>
<text x="659.8" y="357.9" font-size="7.8" fill="#1a1a1a" >1.5</text>
<line x1="656.0" y1="370.6" x2="658.6" y2="370.6" stroke="#111" stroke-width="0.7"/>
<text x="659.8" y="372.3" font-size="7.8" fill="#1a1a1a" >1.0</text>
<line x1="656.0" y1="291.0" x2="657.5" y2="291.0" stroke="#111" stroke-width="0.6"/>
<line x1="656.0" y1="305.35" x2="657.5" y2="305.35" stroke="#111" stroke-width="0.6"/>
<line x1="656.0" y1="319.9" x2="657.5" y2="319.9" stroke="#111" stroke-width="0.6"/>
<line x1="656.0" y1="334.5" x2="657.5" y2="334.5" stroke="#111" stroke-width="0.6"/>
<line x1="656.0" y1="348.95" x2="657.5" y2="348.95" stroke="#111" stroke-width="0.6"/>
<line x1="656.0" y1="363.4" x2="657.5" y2="363.4" stroke="#111" stroke-width="0.6"/>
<text transform="translate(679.2,328.2) rotate(-90)" font-size="8" fill="#1a1a1a" text-anchor="middle">Voltage (V)</text>
<line x1="504.5" y1="453.0" x2="502.3" y2="453.0" stroke="#111" stroke-width="0.7"/>
<text x="500.6" y="455.3" font-size="8.0" fill="#1a1a1a" text-anchor="end" >0</text>
<line x1="504.5" y1="435.3" x2="502.3" y2="435.3" stroke="#111" stroke-width="0.7"/>
<text x="500.6" y="437.6" font-size="8.0" fill="#1a1a1a" text-anchor="end" >3</text>
<line x1="504.5" y1="417.6" x2="502.3" y2="417.6" stroke="#111" stroke-width="0.7"/>
<text x="500.6" y="419.90000000000003" font-size="8.0" fill="#1a1a1a" text-anchor="end" >6</text>
<line x1="504.5" y1="400.0" x2="502.3" y2="400.0" stroke="#111" stroke-width="0.7"/>
<text x="500.6" y="402.3" font-size="8.0" fill="#1a1a1a" text-anchor="end" >9</text>
<line x1="504.5" y1="382.5" x2="502.3" y2="382.5" stroke="#111" stroke-width="0.7"/>
<text x="500.6" y="384.8" font-size="8.0" fill="#1a1a1a" text-anchor="end" >12</text>
<line x1="504.5" y1="444.2" x2="503.2" y2="444.2" stroke="#111" stroke-width="0.6"/>
<line x1="504.5" y1="426.5" x2="503.2" y2="426.5" stroke="#111" stroke-width="0.6"/>
<line x1="504.5" y1="408.8" x2="503.2" y2="408.8" stroke="#111" stroke-width="0.6"/>
<line x1="504.5" y1="391.2" x2="503.2" y2="391.2" stroke="#111" stroke-width="0.6"/>
<line x1="504.5" y1="373.7" x2="503.2" y2="373.7" stroke="#111" stroke-width="0.6"/>
<text transform="translate(487.8,417.4) rotate(-90)" font-size="8.7" fill="#1a1a1a" text-anchor="middle">Thickness expansion (µm)</text>
<text x="580.0" y="469.0" font-size="8.3" fill="#1a1a1a" text-anchor="middle" >State of charge</text>
<text x="508.5" y="292.9" font-size="7.25" fill="#1a1a1a" >Positive electrode: Na<tspan font-size="5.2" dy="1.6">4</tspan><tspan dy="-1.6">Fe</tspan><tspan font-size="5" dy="1.6">3</tspan><tspan dy="-1.6">(PO</tspan><tspan font-size="5" dy="1.6">4</tspan><tspan dy="-1.6">)</tspan><tspan font-size="5" dy="1.6">2</tspan><tspan dy="-1.6">P</tspan><tspan font-size="5" dy="1.6">2</tspan><tspan dy="-1.6">O</tspan><tspan font-size="5" dy="1.6">7</tspan></text>
<text x="508.5" y="303.6" font-size="7.2" fill="#1a1a1a" >the 3<tspan font-size="4.8" dy="-2.6">rd</tspan><tspan dy="2.6"> cycle</tspan></text>
<text x="507.7" y="426.5" font-size="7.4" fill="#1a1a1a" >Unit: mm Ah<tspan font-size="5" dy="-2.8">−1</tspan></text>
<text x="560.3" y="433.0" font-size="7.7" fill="#4a7ccc" >Bare Al: 5.28</text>
<text x="559.6" y="455.8" font-size="7.7" fill="#d4237f" >BiF<tspan font-size="5.2" dy="1.6">3</tspan><tspan dy="-1.6">@Al: 2.94</tspan></text>
<rect x="515.8" y="321.2" width="19.6" height="12.6" rx="1" fill="#fff" stroke="#111" stroke-width="1.6"/>
<rect x="524.4" y="333.8" width="2.4" height="3.6" fill="#111"/>
<rect x="518.8" y="337.3" width="13.5" height="1.9" rx="0.8" fill="#111"/>
<path d="M535.4,324.8 L563.2,324.8 L563.2,331" fill="none" stroke="#111" stroke-width="0.9"/>
<path d="M607.5,338 L618.2,338 L618.2,357.5" fill="none" stroke="#111" stroke-width="0.9"/>
<path d="M618.2,377.5 L618.2,395.5 L606,395.5" fill="none" stroke="#111" stroke-width="0.9"/>
<path d="M541.2,341 L541.2,356 A22.8,3.2 0 0 0 586.8,356 L586.8,341 Z" fill="url(#knurl)"/>
<path d="M541.2,341 L541.2,356 A22.8,3.2 0 0 0 586.8,356 L586.8,341 Z" fill="url(#ridges)"/>
<ellipse cx="564.0" cy="341" rx="22.8" ry="3.4" fill="#a8a8a8"/>
<ellipse cx="564.0" cy="339.5" rx="15.5" ry="2.6" fill="#8a8080" stroke="#555" stroke-width="0.4"/>
<ellipse cx="564.0" cy="338.6" rx="12" ry="1.8" fill="#6a4a50"/>
<rect x="562.1" y="331" width="2.2" height="7.5" fill="#888"/>
<rect x="577.9" y="336.8" width="15" height="2.2" fill="url(#rod)"/>
<rect x="592.1" y="336.4" width="15.4" height="3.0" rx="0.8" fill="url(#rod)"/>
<path d="M563.5,360.5 L563.5,366.8 L554.5,366.8" fill="none" stroke="#111" stroke-width="0.8" stroke-dasharray="0.9,0.7"/>
<path d="M552,366.8 L555,365.2 L555,368.4 Z" fill="#111"/>
<ellipse cx="563.5" cy="371.6" rx="6.5" ry="1.3" fill="#b9b3cf"/>
<ellipse cx="563.5" cy="374.2" rx="6.8" ry="1.3" fill="#cfcadf"/>
<ellipse cx="563.5" cy="377.2" rx="6.2" ry="1.2" fill="#f0a040"/>
<path d="M541.2,388 L541.2,404 A22.8,3.2 0 0 0 586.8,404 L586.8,388 Z" fill="url(#knurl2)"/>
<path d="M541.2,388 L541.2,404 A22.8,3.2 0 0 0 586.8,404 L586.8,388 Z" fill="url(#ridges)"/>
<path d="M545.0,380.5 L545.0,388 A19,2.6 0 0 0 583.0,388 L583.0,380.5 Z" fill="#5c5c5c"/>
<path d="M545.0,382.2 A19,2.4 0 0 0 583.0,382.2" fill="none" stroke="#888" stroke-width="0.5"/>
<path d="M545.0,384.0 A19,2.4 0 0 0 583.0,384.0" fill="none" stroke="#888" stroke-width="0.5"/>
<path d="M545.0,385.8 A19,2.4 0 0 0 583.0,385.8" fill="none" stroke="#888" stroke-width="0.5"/>
<ellipse cx="564.0" cy="380.5" rx="19" ry="2.6" fill="#777" stroke="#444" stroke-width="0.5"/>
<ellipse cx="564.0" cy="380.3" rx="14" ry="1.8" fill="#8a8a8a"/>
<rect x="586.8" y="394.4" width="19.5" height="2.4" rx="0.8" fill="url(#rod)"/>
<path d="M600.2,364.7 L612.9,356.4 L635.7,360 L623.9,366.5 Z" fill="url(#boxtop)"/>
<path d="M600.2,364.7 L623.9,366.5 L623.9,378.4 L600.2,375.2 Z" fill="#050505"/>
<path d="M623.9,366.5 L635.7,360 L635.7,371 L623.9,378.4 Z" fill="#1c1c1c"/>
<path d="M600.2,364.7 L623.9,366.5 L635.7,360" fill="none" stroke="#f0f0f0" stroke-width="0.6"/>
<path d="M635.4,396.8 L631.6,381.5" fill="none" stroke="#111" stroke-width="0.8" stroke-dasharray="0.9,0.7"/>
<path d="M631,379 L629.6,382.6 L633,382 Z" fill="#111"/>
<text x="506" y="367.7" font-size="7.25" fill="#1a1a1a" >Displacement</text>
<text x="517.6" y="376.1" font-size="7.25" fill="#1a1a1a" >sensor</text>
<text x="626.6" y="407.3" font-size="7.4" fill="#1a1a1a" text-anchor="middle" >Electrochemical</text>
<text x="626.7" y="415.7" font-size="7.4" fill="#1a1a1a" text-anchor="middle" >workstation</text>
<text x="481.5" y="290.8" font-size="14" fill="#000" font-weight="bold" >i</text>
</svg></body></html>
